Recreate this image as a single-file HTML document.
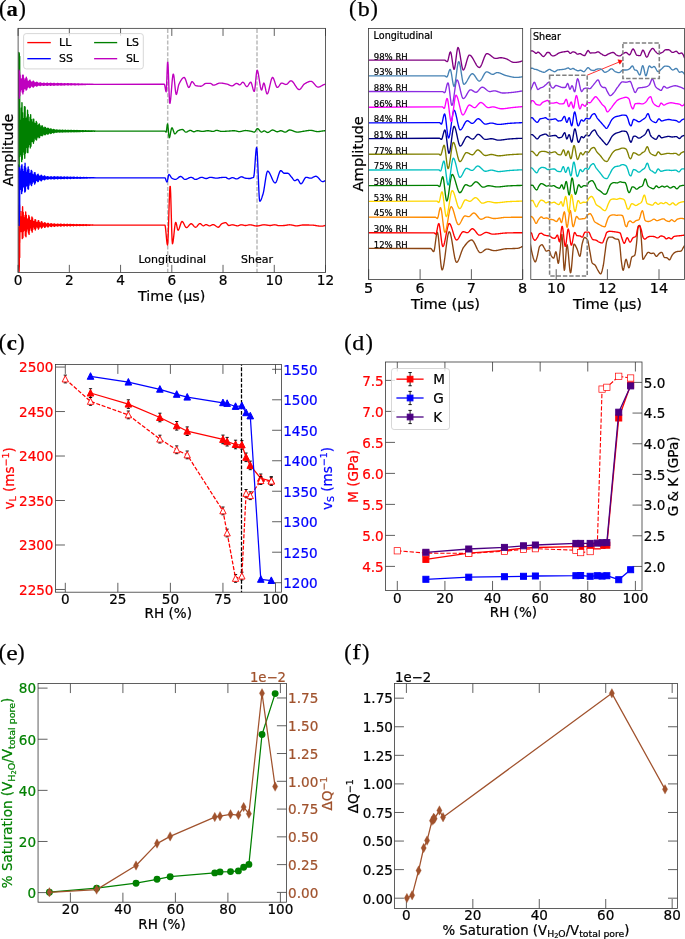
<!DOCTYPE html>
<html lang="en">
<head>
<meta charset="utf-8">
<title>Figure</title>
<style>
html,body{margin:0;padding:0;background:#fff;}
body{width:685px;height:939px;overflow:hidden;}
svg{display:block;}
text{stroke-width:0.22px;stroke-linejoin:round;}
</style>
</head>
<body>
<svg width="685" height="939" viewBox="0 0 685 939">
<rect x="0" y="0" width="685" height="939" fill="#ffffff"/>
<defs>
<clipPath id="clipA"><rect x="18.1" y="28.35" width="307.4" height="244.1"/></clipPath>
<clipPath id="clipBL"><rect x="368.55" y="28.55" width="154.1" height="250.85"/></clipPath><clipPath id="clipBS"><rect x="530.8" y="28.55" width="153.7" height="250.85"/></clipPath>




</defs>
<g font-family="'DejaVu Sans','Liberation Sans',sans-serif">
<line x1="167.7" y1="28.35" x2="167.7" y2="272.45" stroke="#bbbbbb" stroke-width="1.5" stroke-dasharray="4.1 1.755" stroke-dashoffset="-0.45"/>
<line x1="257" y1="28.35" x2="257" y2="272.45" stroke="#bbbbbb" stroke-width="1.5" stroke-dasharray="4.1 1.755" stroke-dashoffset="-0.45"/>
<g clip-path="url(#clipA)">
<path d="M18.85 225.1 L18.85 225 L19.35 226.5 L19.35 265.5 L19.1 271.5 L18.9 267.5 L18.9 227 L19.7 229 L19.7 257.5 L19.4 225.1 L19.1 237.73 L19.15 243.87 L19.2 245.41 L19.25 241.68 L19.3 233.49 L19.35 223.03 L19.4 213.4 L19.45 206.75 L19.5 204.82 L19.55 208.06 L19.6 215.5 L19.65 225.1 L19.7 234.42 L19.75 240.77 L19.8 242.72 L19.85 240.15 L19.9 234.14 L19.95 226.6 L20 219.12 L20.05 213.67 L20.1 211.5 L20.15 212.84 L20.2 217.02 L20.25 222.73 L20.3 227.59 L20.35 230.58 L20.4 231.76 L20.45 231.17 L20.5 229.27 L20.55 226.69 L20.6 223.35 L20.65 219.57 L20.7 217.3 L20.75 217 L20.8 218.69 L20.85 221.93 L20.9 225.51 L20.95 227.39 L21 228.69 L21.05 229.1 L21.1 228.5 L21.15 227.06 L21.2 225.1 L21.25 221.15 L21.3 218.1 L21.35 216.71 L21.4 217.39 L21.45 220.06 L21.5 224.18 L21.55 227.34 L21.6 229.93 L21.65 231.61 L21.7 231.76 L21.75 230.09 L21.8 226.76 L21.85 221.4 L21.9 215.71 L21.95 211.98 L22 211.4 L22.05 214.42 L22.1 220.52 L22.15 227.59 L22.2 233.48 L22.25 237.57 L22.3 238.61 L22.35 236.15 L22.4 230.71 L22.45 223.26 L22.5 214.64 L22.55 208.59 L22.6 206.72 L22.65 209.6 L22.7 216.34 L22.75 225.1 L22.8 231.62 L22.85 236.15 L22.9 237.66 L22.95 235.94 L23 231.7 L23.05 226.22 L23.1 219.42 L23.15 214.2 L23.2 212.07 L23.25 213.31 L23.3 217.3 L23.35 222.81 L23.4 227.28 L23.45 230.02 L23.5 231.24 L23.55 230.84 L23.6 229.12 L23.65 226.66 L23.7 223.44 L23.75 219.9 L23.8 217.83 L23.85 217.63 L23.9 219.25 L23.95 222.23 L24 225.5 L24.05 227.36 L24.1 228.63 L24.15 229.01 L24.2 228.42 L24.25 227 L24.3 225.1 L24.35 221.75 L24.4 219.24 L24.45 218.18 L24.5 218.83 L24.55 221.06 L24.6 224.37 L24.65 226.92 L24.7 228.94 L24.75 230.18 L24.8 230.22 L24.85 228.89 L24.9 226.35 L24.95 222.43 L25 218.36 L25.05 215.74 L25.1 215.37 L25.15 217.54 L25.2 221.86 L25.25 227.01 L25.3 231.58 L25.35 234.84 L25.4 235.77 L25.45 233.93 L25.5 229.64 L25.55 223.8 L25.6 217.67 L25.65 213.35 L25.7 211.98 L25.75 213.96 L25.8 218.76 L25.85 225.1 L25.9 230.98 L25.95 235.2 L26 236.74 L26.05 235.29 L26.1 231.38 L26.15 226.17 L26.2 220.78 L26.25 216.75 L26.3 215.08 L26.35 216 L26.4 219.06 L26.45 223.32 L26.5 227.23 L26.55 229.92 L26.6 231.09 L26.65 230.68 L26.7 228.99 L26.75 226.6 L26.8 223.82 L26.85 221.13 L26.9 219.59 L26.95 219.48 L27 220.72 L27.05 222.97 L27.1 225.45 L27.15 227.06 L27.2 228.13 L27.25 228.43 L27.3 227.91 L27.35 226.7 L27.4 225.1 L27.45 222.66 L27.5 220.85 L27.55 220.1 L27.6 220.59 L27.65 222.22 L27.7 224.58 L27.75 226.5 L27.8 228.02 L27.85 228.92 L27.9 228.91 L27.95 227.9 L28 226.02 L28.05 223.26 L28.1 220.48 L28.15 218.68 L28.2 218.42 L28.25 219.89 L28.3 222.86 L28.35 226.51 L28.4 229.89 L28.45 232.33 L28.5 233.06 L28.55 231.72 L28.6 228.52 L28.65 224.17 L28.7 219.74 L28.75 216.57 L28.8 215.51 L28.85 216.88 L28.9 220.38 L28.95 225.1 L29 229.73 L29.05 233.11 L29.1 234.38 L29.15 233.27 L29.2 230.16 L29.25 225.97 L29.3 221.65 L29.35 218.39 L29.4 216.98 L29.45 217.68 L29.5 220.14 L29.55 223.63 L29.6 226.91 L29.65 229.2 L29.7 230.21 L29.75 229.86 L29.8 228.42 L29.85 226.37 L29.9 224.03 L29.95 221.79 L30 220.51 L30.05 220.44 L30.1 221.49 L30.15 223.35 L30.2 225.38 L30.25 226.64 L30.3 227.46 L30.35 227.67 L30.4 227.25 L30.45 226.32 L30.5 225.1 L30.55 223.12 L30.6 221.64 L30.65 221.04 L30.7 221.44 L30.75 222.77 L30.8 224.68 L30.85 226.11 L30.9 227.17 L30.95 227.77 L31 227.74 L31.05 227.02 L31.1 225.73 L31.15 223.66 L31.2 221.47 L31.25 220.05 L31.3 219.84 L31.35 220.99 L31.4 223.33 L31.45 226.06 L31.5 228.38 L31.55 230.09 L31.6 230.62 L31.65 229.72 L31.7 227.5 L31.75 224.33 L31.8 220.62 L31.85 217.9 L31.9 216.94 L31.95 218.07 L32 221.03 L32.05 225.1 L32.1 228.56 L32.15 231.13 L32.2 232.13 L32.25 231.34 L32.3 229 L32.35 225.77 L32.4 222 L32.45 219.06 L32.5 217.8 L32.55 218.41 L32.6 220.63 L32.65 223.78 L32.7 226.56 L32.75 228.43 L32.8 229.27 L32.85 228.99 L32.9 227.82 L32.95 226.14 L33 224.16 L33.05 222.21 L33.1 221.13 L33.15 221.11 L33.2 222.04 L33.25 223.63 L33.3 225.32 L33.35 226.29 L33.4 226.89 L33.45 227.02 L33.5 226.69 L33.55 225.99 L33.6 225.1 L33.65 223.56 L33.7 222.43 L33.75 221.98 L33.8 222.31 L33.85 223.33 L33.9 224.79 L33.95 225.8 L34 226.52 L34.05 226.92 L34.1 226.87 L34.15 226.37 L34.2 225.51 L34.25 224.1 L34.3 222.6 L34.35 221.65 L34.4 221.53 L34.45 222.33 L34.5 223.91 L34.55 225.72 L34.6 227.21 L34.65 228.32 L34.7 228.69 L34.75 228.12 L34.8 226.68 L34.85 224.59 L34.9 222.12 L34.95 220.31 L35 219.67 L35.05 220.41 L35.1 222.38 L35.15 225.1 L35.2 227.5 L35.25 229.31 L35.3 230.05 L35.35 229.52 L35.4 227.88 L35.45 225.59 L35.5 222.96 L35.55 220.89 L35.6 219.96 L35.65 220.35 L35.7 221.9 L35.75 224.14 L35.8 226.23 L35.85 227.7 L35.9 228.38 L35.95 228.19 L36 227.27 L36.05 225.94 L36.1 224.39 L36.15 222.92 L36.2 222.1 L36.25 222.08 L36.3 222.78 L36.35 223.99 L36.4 225.28 L36.45 226.04 L36.5 226.5 L36.55 226.6 L36.6 226.33 L36.65 225.78 L36.7 225.1 L36.75 223.96 L36.8 223.12 L36.85 222.78 L36.9 223.02 L36.95 223.78 L37 224.87 L37.05 225.62 L37.1 226.16 L37.15 226.44 L37.2 226.39 L37.25 226.02 L37.3 225.39 L37.35 224.36 L37.4 223.27 L37.45 222.58 L37.5 222.49 L37.55 223.07 L37.6 224.23 L37.65 225.53 L37.7 226.59 L37.75 227.39 L37.8 227.67 L37.85 227.28 L37.9 226.25 L37.95 224.71 L38 222.82 L38.05 221.4 L38.1 220.86 L38.15 221.4 L38.2 222.94 L38.25 225.1 L38.3 226.99 L38.35 228.45 L38.4 229.08 L38.45 228.7 L38.5 227.39 L38.55 225.5 L38.6 223.27 L38.65 221.48 L38.7 220.65 L38.75 220.96 L38.8 222.29 L38.85 224.26 L38.9 226.09 L38.95 227.39 L39 228.01 L39.05 227.85 L39.1 227.04 L39.15 225.85 L39.2 224.47 L39.25 223.15 L39.3 222.43 L39.35 222.42 L39.4 223.05 L39.45 224.13 L39.5 225.26 L39.55 225.92 L39.6 226.31 L39.65 226.38 L39.7 226.13 L39.75 225.67 L39.8 225.1 L39.85 224.16 L39.9 223.48 L39.95 223.21 L40 223.41 L40.05 224.03 L40.1 224.91 L40.15 225.51 L40.2 225.92 L40.25 226.13 L40.3 226.08 L40.35 225.79 L40.4 225.32 L40.45 224.53 L40.5 223.7 L40.55 223.19 L40.6 223.14 L40.65 223.59 L40.7 224.45 L40.75 225.4 L40.8 226.13 L40.85 226.69 L40.9 226.88 L40.95 226.61 L41 225.9 L41.05 224.81 L41.1 223.42 L41.15 222.37 L41.2 221.96 L41.25 222.35 L41.3 223.49 L41.35 225.1 L41.4 226.48 L41.45 227.56 L41.5 228.04 L41.55 227.77 L41.6 226.81 L41.65 225.4 L41.7 223.68 L41.75 222.28 L41.8 221.62 L41.85 221.85 L41.9 222.89 L41.95 224.43 L42 225.88 L42.05 226.92 L42.1 227.43 L42.15 227.33 L42.2 226.68 L42.25 225.72 L42.3 224.59 L42.35 223.52 L42.4 222.93 L42.45 222.93 L42.5 223.45 L42.55 224.32 L42.6 225.23 L42.65 225.79 L42.7 226.11 L42.75 226.16 L42.8 225.95 L42.85 225.56 L42.9 225.1 L42.95 224.39 L43 223.87 L43.05 223.68 L43.1 223.84 L43.15 224.3 L43.2 224.96 L43.25 225.42 L43.3 225.74 L43.35 225.89 L43.4 225.85 L43.45 225.63 L43.5 225.26 L43.55 224.69 L43.6 224.1 L43.65 223.75 L43.7 223.72 L43.75 224.05 L43.8 224.65 L43.85 225.31 L43.9 225.84 L43.95 226.23 L44 226.37 L44.05 226.19 L44.1 225.68 L44.15 224.91 L44.2 223.96 L44.25 223.24 L44.3 222.95 L44.35 223.21 L44.4 223.99 L44.45 225.1 L44.5 226.16 L44.55 227.01 L44.6 227.41 L44.65 227.22 L44.7 226.47 L44.75 225.34 L44.8 224.08 L44.85 223.07 L44.9 222.58 L44.95 222.73 L45 223.48 L45.05 224.61 L45.1 225.78 L45.15 226.69 L45.2 227.15 L45.25 227.06 L45.3 226.5 L45.35 225.65 L45.4 224.71 L45.45 223.89 L45.5 223.44 L45.55 223.43 L45.6 223.83 L45.65 224.5 L45.7 225.22 L45.75 225.72 L45.8 226.01 L45.85 226.04 L45.9 225.85 L45.95 225.5 L46 225.1 L46.05 224.57 L46.1 224.2 L46.15 224.06 L46.2 224.19 L46.25 224.53 L46.3 225 L46.35 225.35 L46.4 225.6 L46.45 225.73 L46.5 225.69 L46.55 225.51 L46.6 225.23 L46.65 224.81 L46.7 224.4 L46.75 224.16 L46.8 224.15 L46.85 224.38 L46.9 224.79 L46.95 225.25 L47 225.62 L47.05 225.89 L47.1 225.99 L47.15 225.86 L47.2 225.5 L47.25 224.97 L47.3 224.33 L47.35 223.85 L47.4 223.65 L47.45 223.83 L47.5 224.35 L47.55 225.1 L47.6 225.86 L47.65 226.48 L47.7 226.77 L47.75 226.65 L47.8 226.11 L47.85 225.28 L47.9 224.38 L47.95 223.65 L48 223.28 L48.05 223.39 L48.1 223.92 L48.15 224.74 L48.2 225.62 L48.25 226.34 L48.3 226.72 L48.35 226.67 L48.4 226.23 L48.45 225.55 L48.5 224.8 L48.55 224.16 L48.6 223.8 L48.65 223.79 L48.7 224.1 L48.75 224.62 L48.8 225.2 L48.85 225.63 L48.9 225.88 L48.95 225.91 L49 225.74 L49.05 225.44 L49.1 225.1 L49.15 224.69 L49.2 224.4 L49.25 224.29 L49.3 224.39 L49.35 224.66 L49.4 225.02 L49.45 225.3 L49.5 225.5 L49.55 225.59 L49.6 225.57 L49.65 225.42 L49.7 225.2 L49.75 224.88 L49.8 224.56 L49.85 224.38 L49.9 224.37 L49.95 224.55 L50 224.87 L50.05 225.21 L50.1 225.48 L50.15 225.68 L50.2 225.74 L50.25 225.65 L50.3 225.39 L50.35 225 L50.4 224.53 L50.45 224.17 L50.5 224.02 L50.55 224.14 L50.6 224.53 L50.65 225.1 L50.7 225.67 L50.75 226.15 L50.8 226.39 L50.85 226.3 L50.9 225.89 L50.95 225.24 L51 224.52 L51.05 223.92 L51.1 223.62 L51.15 223.69 L51.2 224.12 L51.25 224.8 L51.3 225.55 L51.35 226.17 L51.4 226.5 L51.45 226.46 L51.5 226.09 L51.55 225.5 L51.6 224.83 L51.65 224.27 L51.7 223.95 L51.75 223.93 L51.8 224.2 L51.85 224.67 L51.9 225.19 L51.95 225.59 L52 225.82 L52.05 225.85 L52.1 225.69 L52.15 225.42 L52.2 225.1 L52.25 224.73 L52.3 224.48 L52.35 224.4 L52.4 224.49 L52.45 224.72 L52.5 225.03 L52.55 225.27 L52.6 225.44 L52.65 225.52 L52.7 225.49 L52.75 225.37 L52.8 225.18 L52.85 224.91 L52.9 224.65 L52.95 224.5 L53 224.5 L53.05 224.65 L53.1 224.91 L53.15 225.19 L53.2 225.4 L53.25 225.54 L53.3 225.59 L53.35 225.51 L53.4 225.32 L53.45 225.02 L53.5 224.66 L53.55 224.37 L53.6 224.26 L53.65 224.35 L53.7 224.65 L53.75 225.1 L53.8 225.54 L53.85 225.91 L53.9 226.11 L53.95 226.04 L54 225.73 L54.05 225.21 L54.1 224.63 L54.15 224.14 L54.2 223.88 L54.25 223.93 L54.3 224.28 L54.35 224.85 L54.4 225.48 L54.45 226.01 L54.5 226.3 L54.55 226.28 L54.6 225.97 L54.65 225.45 L54.7 224.87 L54.75 224.37 L54.8 224.08 L54.85 224.06 L54.9 224.3 L54.95 224.72 L55 225.19 L55.05 225.56 L55.1 225.77 L55.15 225.8 L55.2 225.66 L55.25 225.4 L55.3 225.1 L55.35 224.77 L55.4 224.55 L55.45 224.48 L55.5 224.56 L55.55 224.77 L55.6 225.04 L55.65 225.25 L55.7 225.39 L55.75 225.46 L55.8 225.43 L55.85 225.33 L55.9 225.17 L55.95 224.94 L56 224.72 L56.05 224.6 L56.1 224.6 L56.15 224.72 L56.2 224.94 L56.25 225.17 L56.3 225.34 L56.35 225.45 L56.4 225.48 L56.45 225.42 L56.5 225.27 L56.55 225.04 L56.6 224.75 L56.65 224.52 L56.7 224.43 L56.75 224.5 L56.8 224.74 L56.85 225.1 L56.9 225.44 L56.95 225.74 L57 225.9 L57.05 225.85 L57.1 225.6 L57.15 225.19 L57.2 224.71 L57.25 224.3 L57.3 224.08 L57.35 224.11 L57.4 224.4 L57.45 224.88 L57.5 225.43 L57.55 225.89 L57.6 226.16 L57.65 226.15 L57.7 225.88 L57.75 225.42 L57.8 224.89 L57.85 224.43 L57.9 224.16 L57.95 224.14 L58 224.36 L58.05 224.74 L58.1 225.18 L58.15 225.54 L58.2 225.76 L58.25 225.79 L58.3 225.65 L58.35 225.39 L58.4 225.1 L58.45 224.79 L58.5 224.58 L58.55 224.51 L58.6 224.59 L58.65 224.79 L58.7 225.05 L58.75 225.24 L58.8 225.38 L58.85 225.43 L58.9 225.41 L58.95 225.31 L59 225.16 L59.05 224.96 L59.1 224.76 L59.15 224.65 L59.2 224.65 L59.25 224.76 L59.3 224.96 L59.35 225.16 L59.4 225.31 L59.45 225.4 L59.5 225.43 L59.55 225.37 L59.6 225.24 L59.65 225.05 L59.7 224.8 L59.75 224.61 L59.8 224.53 L59.85 224.6 L59.9 224.8 L59.95 225.1 L60 225.38 L60.05 225.63 L60.1 225.76 L60.15 225.73 L60.2 225.52 L60.25 225.18 L60.3 224.76 L60.35 224.41 L60.4 224.21 L60.45 224.23 L60.5 224.48 L60.55 224.91 L60.6 225.39 L60.65 225.81 L60.7 226.06 L60.75 226.06 L60.8 225.81 L60.85 225.39 L60.9 224.91 L60.95 224.48 L61 224.22 L61.05 224.19 L61.1 224.39 L61.15 224.76 L61.2 225.18 L61.25 225.54 L61.3 225.75 L61.35 225.79 L61.4 225.65 L61.45 225.39 L61.5 225.1 L61.55 224.8 L61.6 224.59 L61.65 224.53 L61.7 224.61 L61.75 224.8 L61.8 225.05 L61.85 225.24 L61.9 225.37 L61.95 225.42 L62 225.39 L62.05 225.3 L62.1 225.16 L62.15 224.97 L62.2 224.79 L62.25 224.69 L62.3 224.69 L62.35 224.79 L62.4 224.97 L62.45 225.16 L62.5 225.28 L62.55 225.37 L62.6 225.39 L62.65 225.33 L62.7 225.22 L62.75 225.05 L62.8 224.84 L62.85 224.68 L62.9 224.61 L62.95 224.67 L63 224.85 L63.05 225.1 L63.1 225.33 L63.15 225.53 L63.2 225.64 L63.25 225.62 L63.3 225.45 L63.35 225.17 L63.4 224.81 L63.45 224.5 L63.5 224.33 L63.55 224.34 L63.6 224.56 L63.65 224.93 L63.7 225.36 L63.75 225.73 L63.8 225.95 L63.85 225.96 L63.9 225.75 L63.95 225.37 L64 224.92 L64.05 224.52 L64.1 224.28 L64.15 224.25 L64.2 224.43 L64.25 224.78 L64.3 225.18 L64.35 225.53 L64.4 225.74 L64.45 225.78 L64.5 225.65 L64.55 225.4 L64.6 225.1 L64.65 224.8 L64.7 224.61 L64.75 224.54 L64.8 224.62 L64.85 224.81 L64.9 225.05 L64.95 225.24 L65 225.37 L65.05 225.41 L65.1 225.38 L65.15 225.29 L65.2 225.16 L65.25 224.98 L65.3 224.82 L65.35 224.72 L65.4 224.72 L65.45 224.82 L65.5 224.98 L65.55 225.15 L65.6 225.27 L65.65 225.34 L65.7 225.36 L65.75 225.31 L65.8 225.2 L65.85 225.06 L65.9 224.87 L65.95 224.73 L66 224.68 L66.05 224.73 L66.1 224.88 L66.15 225.1 L66.2 225.29 L66.25 225.45 L66.3 225.54 L66.35 225.52 L66.4 225.39 L66.45 225.15 L66.5 224.85 L66.55 224.59 L66.6 224.43 L66.65 224.45 L66.7 224.63 L66.75 224.95 L66.8 225.32 L66.85 225.65 L66.9 225.86 L66.95 225.87 L67 225.69 L67.05 225.34 L67.1 224.94 L67.15 224.57 L67.2 224.34 L67.25 224.31 L67.3 224.47 L67.35 224.79 L67.4 225.18 L67.45 225.51 L67.5 225.73 L67.55 225.77 L67.6 225.64 L67.65 225.39 L67.7 225.1 L67.75 224.81 L67.8 224.62 L67.85 224.55 L67.9 224.63 L67.95 224.82 L68 225.05 L68.05 225.24 L68.1 225.37 L68.15 225.41 L68.2 225.38 L68.25 225.28 L68.3 225.15 L68.35 224.99 L68.4 224.83 L68.45 224.75 L68.5 224.75 L68.55 224.84 L68.6 224.99 L68.65 225.15 L68.7 225.25 L68.75 225.32 L68.8 225.33 L68.85 225.29 L68.9 225.19 L68.95 225.06 L69 224.9 L69.05 224.77 L69.1 224.73 L69.15 224.78 L69.2 224.91 L69.25 225.1 L69.3 225.25 L69.35 225.39 L69.4 225.46 L69.45 225.45 L69.5 225.34 L69.55 225.14 L69.6 224.89 L69.65 224.66 L69.7 224.53 L69.75 224.54 L69.8 224.69 L69.85 224.97 L69.9 225.29 L69.95 225.58 L70 225.76 L70.05 225.78 L70.1 225.62 L70.15 225.32 L70.2 224.95 L70.25 224.62 L70.3 224.4 L70.35 224.37 L70.4 224.52 L70.45 224.81 L70.5 225.17 L70.55 225.49 L70.6 225.7 L70.65 225.74 L70.7 225.63 L70.75 225.39 L70.8 225.1 L70.85 224.82 L70.9 224.63 L70.95 224.57 L71 224.65 L71.05 224.82 L71.1 225.05 L71.15 225.24 L71.2 225.37 L71.25 225.41 L71.3 225.38 L71.35 225.28 L71.4 225.15 L71.45 225 L71.5 224.85 L71.55 224.78 L71.6 224.78 L71.65 224.87 L71.7 225 L71.75 225.14 L71.8 225.24 L71.85 225.3 L71.9 225.31 L71.95 225.27 L72 225.18 L72.05 225.07 L72.1 224.92 L72.15 224.82 L72.2 224.78 L72.25 224.82 L72.3 224.94 L72.35 225.1 L72.4 225.23 L72.45 225.33 L72.5 225.39 L72.55 225.38 L72.6 225.29 L72.65 225.14 L72.7 224.93 L72.75 224.74 L72.8 224.63 L72.85 224.63 L72.9 224.76 L72.95 224.99 L73 225.26 L73.05 225.5 L73.1 225.66 L73.15 225.68 L73.2 225.54 L73.25 225.29 L73.3 224.97 L73.35 224.68 L73.4 224.49 L73.45 224.45 L73.5 224.58 L73.55 224.84 L73.6 225.17 L73.65 225.46 L73.7 225.66 L73.75 225.7 L73.8 225.59 L73.85 225.37 L73.9 225.1 L73.95 224.84 L74 224.66 L74.05 224.6 L74.1 224.67 L74.15 224.84 L74.2 225.06 L74.25 225.24 L74.3 225.37 L74.35 225.41 L74.4 225.37 L74.45 225.28 L74.5 225.15 L74.55 225 L74.6 224.87 L74.65 224.81 L74.7 224.81 L74.75 224.89 L74.8 225.01 L74.85 225.14 L74.9 225.22 L74.95 225.27 L75 225.28 L75.05 225.25 L75.1 225.17 L75.15 225.07 L75.2 224.94 L75.25 224.85 L75.3 224.82 L75.35 224.86 L75.4 224.96 L75.45 225.1 L75.5 225.2 L75.55 225.29 L75.6 225.33 L75.65 225.32 L75.7 225.25 L75.75 225.13 L75.8 224.96 L75.85 224.8 L75.9 224.71 L75.95 224.71 L76 224.82 L76.05 225.01 L76.1 225.23 L76.15 225.43 L76.2 225.56 L76.25 225.58 L76.3 225.47 L76.35 225.26 L76.4 224.99 L76.45 224.73 L76.5 224.56 L76.55 224.53 L76.6 224.64 L76.65 224.87 L76.7 225.16 L76.75 225.43 L76.8 225.61 L76.85 225.65 L76.9 225.56 L76.95 225.36 L77 225.1 L77.05 224.85 L77.1 224.68 L77.15 224.63 L77.2 224.69 L77.25 224.85 L77.3 225.06 L77.35 225.24 L77.4 225.36 L77.45 225.41 L77.5 225.37 L77.55 225.28 L77.6 225.15 L77.65 225.01 L77.7 224.89 L77.75 224.83 L77.8 224.84 L77.85 224.91 L77.9 225.02 L77.95 225.14 L78 225.21 L78.05 225.26 L78.1 225.26 L78.15 225.23 L78.2 225.16 L78.25 225.08 L78.3 224.96 L78.35 224.88 L78.4 224.86 L78.45 224.89 L78.5 224.98 L78.55 225.1 L78.6 225.18 L78.65 225.25 L78.7 225.29 L78.75 225.28 L78.8 225.22 L78.85 225.12 L78.9 224.98 L78.95 224.86 L79 224.78 L79.05 224.79 L79.1 224.87 L79.15 225.03 L79.2 225.2 L79.25 225.36 L79.3 225.47 L79.35 225.49 L79.4 225.4 L79.45 225.23 L79.5 225.01 L79.55 224.79 L79.6 224.65 L79.65 224.62 L79.7 224.71 L79.75 224.9 L79.8 225.15 L79.85 225.38 L79.9 225.54 L79.95 225.59 L80 225.51 L80.05 225.33 L80.1 225.1 L80.15 224.88 L80.2 224.73 L80.25 224.68 L80.3 224.73 L80.35 224.87 L80.4 225.06 L80.45 225.23 L80.5 225.35 L80.55 225.39 L80.6 225.36 L80.65 225.27 L80.7 225.15 L80.75 225.02 L80.8 224.91 L80.85 224.86 L80.9 224.87 L80.95 224.93 L81 225.03 L81.05 225.13 L81.1 225.2 L81.15 225.24 L81.2 225.24 L81.25 225.21 L81.3 225.15 L81.35 225.08 L81.4 224.98 L81.45 224.92 L81.5 224.9 L81.55 224.93 L81.6 225 L81.65 225.1 L81.7 225.17 L81.75 225.22 L81.8 225.25 L81.85 225.24 L81.9 225.19 L81.95 225.12 L82 225.01 L82.05 224.91 L82.1 224.85 L82.15 224.85 L82.2 224.92 L82.25 225.04 L82.3 225.18 L82.35 225.3 L82.4 225.38 L82.45 225.4 L82.5 225.34 L82.55 225.2 L82.6 225.03 L82.65 224.85 L82.7 224.74 L82.75 224.71 L82.8 224.78 L82.85 224.94 L82.9 225.14 L82.95 225.34 L83 225.47 L83.05 225.51 L83.1 225.45 L83.15 225.3 L83.2 225.1 L83.25 224.91 L83.3 224.77 L83.35 224.73 L83.4 224.78 L83.45 224.9 L83.5 225.07 L83.55 225.22 L83.6 225.33 L83.65 225.37 L83.7 225.34 L83.75 225.25 L83.8 225.14 L83.85 225.03 L83.9 224.93 L83.95 224.88 L84 224.89 L84.05 224.95 L84.1 225.04 L84.15 225.13 L84.2 225.19 L84.25 225.22 L84.3 225.22 L84.35 225.19 L84.4 225.15 L84.45 225.08 L84.5 225 L84.55 224.95 L84.6 224.93 L84.65 224.96 L84.7 225.02 L84.75 225.1 L84.8 225.16 L84.85 225.2 L84.9 225.22 L84.95 225.21 L85 225.17 L85.05 225.11 L85.1 225.03 L85.15 224.95 L85.2 224.9 L85.25 224.91 L85.3 224.96 L85.35 225.06 L85.4 225.16 L85.45 225.25 L85.5 225.32 L85.55 225.33 L85.6 225.28 L85.65 225.18 L85.7 225.04 L85.75 224.9 L85.8 224.81 L85.85 224.78 L85.9 224.84 L85.95 224.97 L86 225.13 L86.05 225.29 L86.1 225.41 L86.15 225.44 L86.2 225.39 L86.25 225.27 L86.3 225.1 L86.35 224.94 L86.4 224.82 L86.45 224.78 L86.5 224.82 L86.55 224.93 L86.6 225.07 L86.65 225.21 L86.7 225.3 L86.75 225.34 L86.8 225.31 L86.85 225.24 L86.9 225.14 L86.95 225.04 L87 224.95 L87.05 224.91 L87.1 224.92 L87.15 224.97 L87.2 225.05 L87.25 225.12 L87.3 225.17 L87.35 225.2 L87.4 225.2 L87.45 225.18 L87.5 225.14 L87.55 225.09 L87.6 225.02 L87.65 224.98 L87.7 224.97 L87.75 224.99 L87.8 225.04 L87.85 225.1 L87.9 225.14 L87.95 225.17 L88 225.19 L88.05 225.18 L88.1 225.15 L88.15 225.11 L88.2 225.05 L88.25 224.99 L88.3 224.96 L88.35 224.97 L88.4 225 L88.45 225.07 L88.5 225.14 L88.55 225.2 L88.6 225.24 L88.65 225.25 L88.7 225.22 L88.75 225.15 L88.8 225.06 L88.85 224.97 L88.9 224.9 L88.95 224.89 L89 224.93 L89.05 225.01 L89.1 225.12 L89.15 225.23 L89.2 225.31 L89.25 225.33 L89.3 225.3 L89.35 225.21 L89.4 225.1 L89.45 224.99 L89.5 224.91 L89.55 224.88 L89.6 224.91 L89.65 224.98 L89.7 225.08 L89.75 225.18 L89.8 225.24 L89.85 225.27 L89.9 225.25 L89.95 225.2 L90 225.13 L90.05 225.06 L90.1 225 L90.15 224.97 L90.2 224.98 L90.25 225.01 L90.3 225.07 L90.35 225.12 L90.4 225.15 L90.45 225.17 L90.5 225.17 L90.55 225.15 L90.6 225.12 L90.65 225.09 L90.7 225.05 L90.75 225.02 L90.8 225.02 L90.85 225.03 L90.9 225.06 L90.95 225.1 L91 225.13 L91.05 225.14 L91.1 225.15 L91.15 225.15 L91.2 225.13 L91.25 225.11 L91.3 225.07 L91.35 225.04 L91.4 225.02 L91.45 225.02 L91.5 225.05 L91.55 225.08 L91.6 225.12 L91.65 225.15 L91.7 225.17 L91.75 225.18 L91.8 225.16 L91.85 225.13 L91.9 225.08 L91.95 225.03 L92 225 L92.05 224.99 L92.1 225.01 L92.15 225.05 L92.2 225.11 L92.25 225.17 L92.3 225.21 L92.35 225.22 L92.4 225.2 L92.45 225.16 L92.5 225.1 L92.55 225.04 L92.6 225 L92.65 224.98 L92.7 225 L92.75 225.04 L92.8 225.09 L92.85 225.14 L92.9 225.18 L92.95 225.19 L93 225.18 L93.05 225.15 L93.1 225.12 L93.15 225.08 L93.2 225.05 L93.25 225.03 L93.3 225.04 L93.35 225.06 L93.4 225.08 L93.45 225.11 L93.5 225.13 L93.55 225.13 L93.6 225.13 L93.65 225.12 L93.7 225.11 L93.75 225.1 L93.8 225.08 L93.85 225.07 L93.9 225.07 L93.95 225.07 L94 225.08 L94.05 225.1 L94.1 225.11 L94.15 225.12 L94.2 225.12 L94.25 225.12 L94.3 225.11 L94.35 225.1 L94.4 225.09 L94.45 225.08 L94.5 225.08 L94.55 225.08 L94.6 225.08 L94.65 225.1 L94.7 225.11 L94.75 225.11 L94.8 225.12 L94.85 225.12 L94.9 225.11 L94.95 225.11 L95 225.1 L95.05 225.08 L95.1 225.08 L95.15 225.08 L95.2 225.08 L95.25 225.09 L95.3 225.1 L95.35 225.11 L95.4 225.12 L95.45 225.12 L95.5 225.11 L95.55 225.11 L95.6 225.1 L95.65 225.09 L95.7 225.09 L95.75 225.09 L95.8 225.09 L95.85 225.1 L95.9 225.1 L95.95 225.1 L160.51 225.14 L160.86 225.14 L161.21 225.14 L161.56 225.14 L161.91 225.14 L162.26 225.14 L162.61 225.14 L162.96 225.14 L163.31 225.14 L163.66 225.14 L164.01 225.14 L164.36 225.14 L164.71 225.14 L165.06 225.39 L165.42 227.21 L165.77 230.31 L166.12 234.11 L166.47 238.07 L166.82 241.6 L167.17 244.13 L167.52 245.11 L167.87 242.24 L168.22 234.7 L168.57 224.2 L168.92 212.41 L169.27 201.04 L169.62 191.78 L169.97 186.32 L170.32 186.51 L170.67 193.35 L171.02 204.66 L171.37 217.89 L171.72 230.5 L172.07 239.96 L172.42 243.71 L172.77 243.06 L173.12 241.28 L173.47 238.68 L173.82 235.56 L174.17 232.21 L174.52 228.93 L174.87 226.02 L175.22 223.78 L175.57 222.51 L175.92 222.46 L176.27 223.39 L176.62 224.92 L176.97 226.71 L177.33 228.42 L177.68 229.71 L178.03 230.22 L178.38 230.04 L178.73 229.52 L179.08 228.75 L179.43 227.79 L179.78 226.7 L180.13 225.57 L180.48 224.45 L180.83 223.41 L181.18 222.53 L181.53 221.87 L181.88 221.51 L182.23 221.49 L182.58 221.7 L182.93 222.09 L183.28 222.63 L183.63 223.26 L183.98 223.97 L184.33 224.7 L184.68 225.42 L185.03 226.1 L185.38 226.69 L185.73 227.16 L186.08 227.48 L186.43 227.59 L186.78 227.53 L187.13 227.37 L187.48 227.11 L187.83 226.78 L188.18 226.4 L188.53 225.99 L188.88 225.56 L189.24 225.14 L189.59 224.74 L189.94 224.39 L190.29 224.09 L190.64 223.87 L190.99 223.75 L191.34 223.75 L191.69 223.87 L192.04 224.1 L192.39 224.4 L192.74 224.77 L193.09 225.17 L193.44 225.59 L193.79 226 L194.14 226.39 L194.49 226.73 L194.84 227 L195.19 227.17 L195.54 227.24 L195.89 227.18 L196.24 226.99 L196.59 226.71 L196.94 226.36 L197.29 225.95 L197.64 225.52 L197.99 225.08 L198.34 224.66 L198.69 224.27 L199.04 223.95 L199.39 223.71 L199.74 223.58 L200.09 223.58 L200.44 223.7 L200.79 223.91 L201.15 224.2 L201.5 224.52 L201.85 224.86 L202.2 225.19 L202.55 225.48 L202.9 225.7 L203.25 225.82 L203.6 225.83 L203.95 225.72 L204.3 225.53 L204.65 225.29 L205 225.05 L205.35 224.83 L205.7 224.68 L206.05 224.61 L206.4 224.65 L206.75 224.74 L207.1 224.87 L207.45 225.04 L207.8 225.22 L208.15 225.4 L208.5 225.57 L208.85 225.71 L209.2 225.8 L209.55 225.84 L209.9 225.81 L210.25 225.72 L210.6 225.58 L210.95 225.41 L211.3 225.23 L211.65 225.05 L212 224.88 L212.35 224.74 L212.7 224.65 L213.06 224.61 L213.41 224.64 L213.76 224.74 L214.11 224.88 L214.46 225.07 L214.81 225.29 L215.16 225.53 L215.51 225.79 L215.86 226.05 L216.21 226.31 L216.56 226.55 L216.91 226.77 L217.26 226.96 L217.61 227.11 L217.96 227.21 L218.31 227.24 L218.66 227.16 L219.01 226.93 L219.36 226.59 L219.71 226.17 L220.06 225.69 L220.41 225.21 L220.76 224.73 L221.11 224.31 L221.46 223.97 L221.81 223.74 L222.16 223.59 L222.51 223.45 L222.86 223.31 L223.21 223.18 L223.56 223.06 L223.91 222.96 L224.26 222.86 L224.61 222.79 L224.97 222.73 L225.32 222.7 L225.67 222.69 L226.02 222.78 L226.37 223.03 L226.72 223.4 L227.07 223.84 L227.42 224.3 L227.77 224.75 L228.12 225.12 L228.47 225.39 L228.82 225.49 L229.17 225.47 L229.52 225.42 L229.87 225.34 L230.22 225.25 L230.57 225.14 L230.92 225.04 L231.27 224.94 L231.62 224.86 L231.97 224.81 L232.32 224.79 L232.67 224.8 L233.02 224.84 L233.37 224.89 L233.72 224.97 L234.07 225.06 L234.42 225.15 L234.77 225.26 L235.12 225.36 L235.47 225.47 L235.82 225.56 L236.17 225.65 L236.53 225.73 L236.88 225.79 L237.23 225.82 L237.58 225.84 L237.93 225.81 L238.28 225.73 L238.63 225.62 L238.98 225.48 L239.33 225.32 L239.68 225.17 L240.03 225.02 L240.38 224.9 L240.73 224.82 L241.08 224.79 L241.43 224.8 L241.78 224.83 L242.13 224.89 L242.48 224.95 L242.83 225.03 L243.18 225.11 L243.53 225.2 L243.88 225.28 L244.23 225.35 L244.58 225.41 L244.93 225.46 L245.28 225.49 L245.63 225.49 L245.98 225.46 L246.33 225.42 L246.68 225.36 L247.03 225.29 L247.38 225.21 L247.73 225.12 L248.08 225.04 L248.44 224.96 L248.79 224.89 L249.14 224.84 L249.49 224.8 L249.84 224.79 L250.19 224.8 L250.54 224.82 L250.89 224.86 L251.24 224.91 L251.59 224.98 L251.94 225.05 L252.29 225.13 L252.64 225.22 L252.99 225.31 L253.34 225.4 L253.69 225.49 L254.04 225.58 L254.39 225.66 L254.74 225.75 L255.09 225.82 L255.44 225.88 L255.79 225.94 L256.14 225.98 L256.49 226 L256.84 226.01 L257.19 226.01 L257.54 225.98 L257.89 225.94 L258.24 225.89 L258.59 225.83 L258.94 225.75 L259.29 225.67 L259.64 225.59 L259.99 225.5 L260.35 225.41 L260.7 225.31 L261.05 225.23 L261.4 225.14 L261.75 225.06 L262.1 224.98 L262.45 224.92 L262.8 224.87 L263.15 224.82 L263.5 224.8 L263.85 224.79 L264.2 224.79 L264.55 224.81 L264.9 224.84 L265.25 224.87 L265.6 224.91 L265.95 224.96 L266.3 225.01 L266.65 225.07 L267 225.13 L267.35 225.18 L267.7 225.24 L268.05 225.29 L268.4 225.34 L268.75 225.39 L269.1 225.43 L269.45 225.46 L269.8 225.48 L270.15 225.49 L270.5 225.48 L270.85 225.46 L271.2 225.41 L271.55 225.35 L271.9 225.27 L272.26 225.19 L272.61 225.11 L272.96 225.03 L273.31 224.95 L273.66 224.88 L274.01 224.83 L274.36 224.8 L274.71 224.79 L275.06 224.81 L275.41 224.85 L275.76 224.92 L276.11 225.01 L276.46 225.11 L276.81 225.21 L277.16 225.32 L277.51 225.42 L277.86 225.51 L278.21 225.58 L278.56 225.63 L278.91 225.66 L279.26 225.66 L279.61 225.66 L279.96 225.66 L280.31 225.65 L280.66 225.64 L281.01 225.63 L281.36 225.62 L281.71 225.61 L282.06 225.6 L282.41 225.58 L282.76 225.57 L283.11 225.55 L283.46 225.53 L283.81 225.51 L284.17 225.5 L284.52 225.48 L284.87 225.44 L285.22 225.4 L285.57 225.35 L285.92 225.29 L286.27 225.23 L286.62 225.16 L286.97 225.1 L287.32 225.03 L287.67 224.97 L288.02 224.92 L288.37 224.87 L288.72 224.83 L289.07 224.8 L289.42 224.79 L289.77 224.79 L290.12 224.81 L290.47 224.84 L290.82 224.88 L291.17 224.93 L291.52 224.99 L291.87 225.06 L292.22 225.13 L292.57 225.2 L292.92 225.28 L293.27 225.36 L293.62 225.44 L293.97 225.51 L294.32 225.58 L294.67 225.65 L295.02 225.71 L295.37 225.76 L295.72 225.8 L296.08 225.82 L296.43 225.84 L296.78 225.84 L297.13 225.82 L297.48 225.8 L297.83 225.76 L298.18 225.72 L298.53 225.67 L298.88 225.62 L299.23 225.56 L299.58 225.49 L299.93 225.43 L300.28 225.36 L300.63 225.3 L300.98 225.24 L301.33 225.18 L301.68 225.12 L302.03 225.07 L302.38 225.03 L302.73 225 L303.08 224.98 L303.43 224.96 L303.78 224.96 L304.13 224.96 L304.48 224.97 L304.83 224.97 L305.18 224.97 L305.53 224.97 L305.88 224.98 L306.23 224.98 L306.58 224.99 L306.93 224.99 L307.28 225 L307.63 225.01 L307.99 225.01 L308.34 225.02 L308.69 225.03 L309.04 225.04 L309.39 225.05 L309.74 225.06 L310.09 225.07 L310.44 225.08 L310.79 225.09 L311.14 225.1 L311.49 225.11 L311.84 225.12 L312.19 225.13 L312.54 225.15 L312.89 225.17 L313.24 225.19 L313.59 225.23 L313.94 225.27 L314.29 225.31 L314.64 225.36 L314.99 225.41 L315.34 225.47 L315.69 225.53 L316.04 225.59 L316.39 225.65 L316.74 225.71 L317.09 225.77 L317.44 225.82 L317.79 225.88 L318.14 225.93 L318.49 225.99 L318.84 226.03 L319.19 226.07 L319.54 226.11 L319.9 226.14 L320.25 226.16 L320.6 226.18 L320.95 226.19 L321.3 226.19 L321.65 226.17 L322 226.14 L322.35 226.1 L322.7 226.05 L323.05 225.99 L323.4 225.92 L323.75 225.83 L324.1 225.74 L324.45 225.64 L324.8 225.54 L325.15 225.42 L325.5 225.3" fill="none" stroke="#ff0000" stroke-width="1.35" stroke-linejoin="round" />
<path d="M18.85 177.8 L18.85 165 L19.35 166.5 L19.35 219.5 L19.1 225.5 L18.9 221.5 L18.9 167 L19.7 169 L19.7 211.5 L19.4 177.8 L19.1 186.37 L19.15 189.7 L19.2 189.89 L19.25 187.1 L19.3 182.26 L19.35 176.97 L19.4 173.32 L19.45 171.09 L19.5 170.69 L19.55 172.02 L19.6 174.63 L19.65 177.8 L19.7 181.99 L19.75 184.98 L19.8 186.11 L19.85 185.17 L19.9 182.44 L19.95 178.62 L20 175.64 L20.05 173.47 L20.1 172.39 L20.15 172.67 L20.2 174.23 L20.25 176.7 L20.3 180.2 L20.35 183.64 L20.4 185.65 L20.45 185.72 L20.5 183.81 L20.55 180.32 L20.6 176.57 L20.65 173.7 L20.7 171.66 L20.75 171.05 L20.8 172.15 L20.85 174.84 L20.9 178.85 L20.95 183.95 L21 187.85 L21.05 189.42 L21.1 188.05 L21.15 183.89 L21.2 177.8 L21.25 172.45 L21.3 168.07 L21.35 165.92 L21.4 166.77 L21.45 170.57 L21.5 176.49 L21.55 183.96 L21.6 190.32 L21.65 193.61 L21.7 192.89 L21.75 188.32 L21.8 181.05 L21.85 173.65 L21.9 167.82 L21.95 164.61 L22 164.81 L22.05 168.26 L22.1 173.95 L22.15 180.74 L22.2 187.06 L22.25 190.75 L22.3 191.02 L22.35 188.02 L22.4 182.72 L22.45 176.79 L22.5 172.37 L22.55 169.67 L22.6 169.19 L22.65 170.83 L22.7 174 L22.75 177.8 L22.8 182.29 L22.85 185.41 L22.9 186.51 L22.95 185.44 L23 182.56 L23.05 178.63 L23.1 175.45 L23.15 173.15 L23.2 172.04 L23.25 172.36 L23.3 174.03 L23.35 176.63 L23.4 180.14 L23.45 183.47 L23.5 185.37 L23.55 185.38 L23.6 183.49 L23.65 180.16 L23.7 176.59 L23.75 173.79 L23.8 171.88 L23.85 171.37 L23.9 172.48 L23.95 175.04 L24 178.71 L24.05 183.1 L24.1 186.41 L24.15 187.72 L24.2 186.55 L24.25 182.99 L24.3 177.8 L24.35 172.77 L24.4 168.58 L24.45 166.43 L24.5 167.13 L24.55 170.73 L24.6 176.5 L24.65 183.27 L24.7 189.02 L24.75 192.1 L24.8 191.59 L24.85 187.51 L24.9 180.83 L24.95 173.31 L25 166.86 L25.05 163.26 L25.1 163.38 L25.15 167.14 L25.2 173.47 L25.25 180.71 L25.3 187.03 L25.35 190.78 L25.4 191.13 L25.45 188.16 L25.5 182.8 L25.55 176.63 L25.6 171.51 L25.65 168.39 L25.7 167.85 L25.75 169.78 L25.8 173.46 L25.85 177.8 L25.9 182.31 L25.95 185.37 L26 186.38 L26.05 185.24 L26.1 182.38 L26.15 178.59 L26.2 175.42 L26.25 173.2 L26.3 172.21 L26.35 172.62 L26.4 174.27 L26.45 176.73 L26.5 179.87 L26.55 182.78 L26.6 184.42 L26.65 184.4 L26.7 182.73 L26.75 179.83 L26.8 176.77 L26.85 174.46 L26.9 172.97 L26.95 172.66 L27 173.63 L27.05 175.68 L27.1 178.52 L27.15 181.94 L27.2 184.46 L27.25 185.4 L27.3 184.45 L27.35 181.72 L27.4 177.8 L27.45 174.29 L27.5 171.39 L27.55 169.9 L27.6 170.38 L27.65 172.88 L27.7 176.89 L27.75 181.96 L27.8 186.38 L27.85 188.8 L27.9 188.48 L27.95 185.37 L28 180.18 L28.05 174.55 L28.1 169.83 L28.15 167.07 L28.2 167.03 L28.25 169.75 L28.3 174.49 L28.35 180.21 L28.4 185.49 L28.45 188.69 L28.5 189.06 L28.55 186.6 L28.6 182.07 L28.65 176.84 L28.7 172.56 L28.75 169.89 L28.8 169.38 L28.85 170.97 L28.9 174.08 L28.95 177.8 L29 181.69 L29.05 184.31 L29.1 185.13 L29.15 184.1 L29.2 181.64 L29.25 178.45 L29.3 175.83 L29.35 174.04 L29.4 173.3 L29.45 173.7 L29.5 175.05 L29.55 176.98 L29.6 179.37 L29.65 181.53 L29.7 182.72 L29.75 182.67 L29.8 181.41 L29.85 179.28 L29.9 177.05 L29.95 175.38 L30 174.33 L30.05 174.15 L30.1 174.88 L30.15 176.34 L30.2 178.29 L30.25 180.58 L30.3 182.21 L30.35 182.77 L30.4 182.09 L30.45 180.31 L30.5 177.8 L30.55 175.6 L30.6 173.79 L30.65 172.87 L30.7 173.17 L30.75 174.72 L30.8 177.23 L30.85 180.37 L30.9 183.1 L30.95 184.62 L31 184.45 L31.05 182.54 L31.1 179.3 L31.15 175.63 L31.2 172.41 L31.25 170.46 L31.3 170.34 L31.35 172.15 L31.4 175.45 L31.45 179.41 L31.5 183.01 L31.55 185.25 L31.6 185.58 L31.65 183.96 L31.7 180.83 L31.75 177.05 L31.8 173.69 L31.85 171.53 L31.9 171.06 L31.95 172.28 L32 174.77 L32.05 177.8 L32.1 180.8 L32.15 182.84 L32.2 183.5 L32.25 182.72 L32.3 180.81 L32.35 178.31 L32.4 176.17 L32.45 174.7 L32.5 174.12 L32.55 174.48 L32.6 175.6 L32.65 177.15 L32.7 178.98 L32.75 180.59 L32.8 181.45 L32.85 181.39 L32.9 180.45 L32.95 178.89 L33 177.26 L33.05 176.05 L33.1 175.3 L33.15 175.18 L33.2 175.71 L33.25 176.76 L33.3 178.16 L33.35 179.81 L33.4 180.97 L33.45 181.35 L33.5 180.84 L33.55 179.56 L33.6 177.8 L33.65 176.4 L33.7 175.27 L33.75 174.71 L33.8 174.91 L33.85 175.88 L33.9 177.45 L33.95 179.57 L34 181.47 L34.05 182.55 L34.1 182.46 L34.15 181.15 L34.2 178.87 L34.25 176.39 L34.3 174.27 L34.35 172.94 L34.4 172.8 L34.45 173.97 L34.5 176.19 L34.55 179.05 L34.6 181.89 L34.65 183.73 L34.7 184.07 L34.75 182.82 L34.8 180.3 L34.85 177.24 L34.9 174.69 L34.95 172.99 L35 172.57 L35.05 173.46 L35.1 175.39 L35.15 177.8 L35.2 180.43 L35.25 182.23 L35.3 182.82 L35.35 182.13 L35.4 180.44 L35.45 178.25 L35.5 176.44 L35.55 175.22 L35.6 174.75 L35.65 175.06 L35.7 176 L35.75 177.27 L35.8 178.77 L35.85 180.06 L35.9 180.72 L35.95 180.63 L36 179.86 L36.05 178.63 L36.1 177.4 L36.15 176.54 L36.2 176.01 L36.25 175.94 L36.3 176.32 L36.35 177.07 L36.4 178.06 L36.45 179.23 L36.5 180.03 L36.55 180.27 L36.6 179.89 L36.65 178.99 L36.7 177.8 L36.75 176.9 L36.8 176.19 L36.85 175.87 L36.9 176.01 L36.95 176.63 L37 177.58 L37.05 178.88 L37.1 180.02 L37.15 180.65 L37.2 180.59 L37.25 179.79 L37.3 178.44 L37.35 176.94 L37.4 175.64 L37.45 174.8 L37.5 174.69 L37.55 175.39 L37.6 176.78 L37.65 178.56 L37.7 180.29 L37.75 181.42 L37.8 181.66 L37.85 180.9 L37.9 179.35 L37.95 177.42 L38 175.64 L38.05 174.42 L38.1 174.07 L38.15 174.68 L38.2 176.05 L38.25 177.8 L38.3 179.54 L38.35 180.78 L38.4 181.21 L38.45 180.78 L38.5 179.64 L38.55 178.11 L38.6 176.72 L38.65 175.74 L38.7 175.35 L38.75 175.6 L38.8 176.35 L38.85 177.38 L38.9 178.5 L38.95 179.44 L39 179.91 L39.05 179.83 L39.1 179.27 L39.15 178.39 L39.2 177.5 L39.25 176.86 L39.3 176.49 L39.35 176.45 L39.4 176.74 L39.45 177.28 L39.5 177.98 L39.55 178.79 L39.6 179.36 L39.65 179.53 L39.7 179.26 L39.75 178.63 L39.8 177.8 L39.85 177.19 L39.9 176.72 L39.95 176.52 L40 176.64 L40.05 177.05 L40.1 177.66 L40.15 178.52 L40.2 179.28 L40.25 179.71 L40.3 179.66 L40.35 179.13 L40.4 178.23 L40.45 177.27 L40.5 176.46 L40.55 175.93 L40.6 175.84 L40.65 176.27 L40.7 177.14 L40.75 178.34 L40.8 179.59 L40.85 180.44 L40.9 180.65 L40.95 180.13 L41 178.98 L41.05 177.53 L41.1 176.27 L41.15 175.37 L41.2 175.09 L41.25 175.5 L41.3 176.49 L41.35 177.8 L41.4 179.27 L41.45 180.32 L41.5 180.71 L41.55 180.35 L41.6 179.38 L41.65 178.07 L41.7 176.91 L41.75 176.09 L41.8 175.76 L41.85 175.95 L41.9 176.58 L41.95 177.44 L42 178.41 L42.05 179.21 L42.1 179.6 L42.15 179.52 L42.2 179.04 L42.25 178.29 L42.3 177.55 L42.35 177.04 L42.4 176.75 L42.45 176.73 L42.5 176.98 L42.55 177.4 L42.6 177.93 L42.65 178.54 L42.7 178.95 L42.75 179.07 L42.8 178.87 L42.85 178.4 L42.9 177.8 L42.95 177.35 L43 177.02 L43.05 176.89 L43.1 176.98 L43.15 177.27 L43.2 177.71 L43.25 178.28 L43.3 178.77 L43.35 179.03 L43.4 178.99 L43.45 178.64 L43.5 178.07 L43.55 177.46 L43.6 176.95 L43.65 176.61 L43.7 176.55 L43.75 176.82 L43.8 177.38 L43.85 178.13 L43.9 178.88 L43.95 179.41 L44 179.54 L44.05 179.23 L44.1 178.53 L44.15 177.62 L44.2 176.74 L44.25 176.09 L44.3 175.87 L44.35 176.14 L44.4 176.84 L44.45 177.8 L44.5 178.76 L44.55 179.47 L44.6 179.75 L44.65 179.53 L44.7 178.88 L44.75 177.99 L44.8 177.1 L44.85 176.44 L44.9 176.15 L44.95 176.3 L45 176.8 L45.05 177.5 L45.1 178.25 L45.15 178.84 L45.2 179.13 L45.25 179.07 L45.3 178.71 L45.35 178.16 L45.4 177.6 L45.45 177.18 L45.5 176.96 L45.55 176.96 L45.6 177.16 L45.65 177.49 L45.7 177.89 L45.75 178.32 L45.8 178.59 L45.85 178.67 L45.9 178.52 L45.95 178.21 L46 177.8 L46.05 177.49 L46.1 177.26 L46.15 177.17 L46.2 177.24 L46.25 177.45 L46.3 177.74 L46.35 178.12 L46.4 178.44 L46.45 178.6 L46.5 178.56 L46.55 178.33 L46.6 177.97 L46.65 177.6 L46.7 177.3 L46.75 177.11 L46.8 177.08 L46.85 177.24 L46.9 177.56 L46.95 178 L47 178.47 L47.05 178.8 L47.1 178.88 L47.15 178.69 L47.2 178.26 L47.25 177.69 L47.3 177.17 L47.35 176.78 L47.4 176.63 L47.45 176.78 L47.5 177.21 L47.55 177.8 L47.6 178.46 L47.65 178.96 L47.7 179.17 L47.75 179.03 L47.8 178.58 L47.85 177.94 L47.9 177.3 L47.95 176.82 L48 176.6 L48.05 176.68 L48.1 177.04 L48.15 177.57 L48.2 178.15 L48.25 178.63 L48.3 178.87 L48.35 178.83 L48.4 178.55 L48.45 178.1 L48.5 177.63 L48.55 177.29 L48.6 177.1 L48.65 177.1 L48.7 177.27 L48.75 177.55 L48.8 177.88 L48.85 178.21 L48.9 178.43 L48.95 178.48 L49 178.37 L49.05 178.12 L49.1 177.8 L49.15 177.56 L49.2 177.39 L49.25 177.32 L49.3 177.37 L49.35 177.53 L49.4 177.75 L49.45 178.04 L49.5 178.28 L49.55 178.4 L49.6 178.37 L49.65 178.2 L49.7 177.92 L49.75 177.65 L49.8 177.44 L49.85 177.3 L49.9 177.29 L49.95 177.4 L50 177.63 L50.05 177.94 L50.1 178.27 L50.15 178.5 L50.2 178.57 L50.25 178.44 L50.3 178.13 L50.35 177.72 L50.4 177.33 L50.45 177.02 L50.5 176.9 L50.55 177.01 L50.6 177.33 L50.65 177.8 L50.7 178.31 L50.75 178.7 L50.8 178.87 L50.85 178.78 L50.9 178.43 L50.95 177.91 L51 177.37 L51.05 176.93 L51.1 176.72 L51.15 176.78 L51.2 177.1 L51.25 177.59 L51.3 178.11 L51.35 178.54 L51.4 178.77 L51.45 178.74 L51.5 178.49 L51.55 178.07 L51.6 177.63 L51.65 177.27 L51.7 177.08 L51.75 177.07 L51.8 177.25 L51.85 177.54 L51.9 177.87 L51.95 178.19 L52 178.39 L52.05 178.44 L52.1 178.33 L52.15 178.09 L52.2 177.8 L52.25 177.57 L52.3 177.41 L52.35 177.35 L52.4 177.4 L52.45 177.55 L52.5 177.76 L52.55 178.01 L52.6 178.23 L52.65 178.34 L52.7 178.31 L52.75 178.15 L52.8 177.91 L52.85 177.67 L52.9 177.48 L52.95 177.37 L53 177.36 L53.05 177.46 L53.1 177.66 L53.15 177.92 L53.2 178.2 L53.25 178.39 L53.3 178.44 L53.35 178.33 L53.4 178.07 L53.45 177.73 L53.5 177.41 L53.55 177.16 L53.6 177.05 L53.65 177.13 L53.7 177.4 L53.75 177.8 L53.8 178.25 L53.85 178.61 L53.9 178.78 L53.95 178.7 L54 178.38 L54.05 177.91 L54.1 177.39 L54.15 176.96 L54.2 176.74 L54.25 176.79 L54.3 177.1 L54.35 177.58 L54.4 178.12 L54.45 178.56 L54.5 178.81 L54.55 178.79 L54.6 178.52 L54.65 178.09 L54.7 177.61 L54.75 177.22 L54.8 176.99 L54.85 176.98 L54.9 177.18 L54.95 177.5 L55 177.88 L55.05 178.23 L55.1 178.45 L55.15 178.49 L55.2 178.37 L55.25 178.11 L55.3 177.8 L55.35 177.55 L55.4 177.38 L55.45 177.32 L55.5 177.39 L55.55 177.54 L55.6 177.76 L55.65 178.01 L55.7 178.22 L55.75 178.33 L55.8 178.3 L55.85 178.15 L55.9 177.91 L55.95 177.67 L56 177.49 L56.05 177.39 L56.1 177.39 L56.15 177.49 L56.2 177.67 L56.25 177.91 L56.3 178.16 L56.35 178.33 L56.4 178.37 L56.45 178.27 L56.5 178.04 L56.55 177.75 L56.6 177.48 L56.65 177.27 L56.7 177.18 L56.75 177.24 L56.8 177.47 L56.85 177.8 L56.9 178.19 L56.95 178.5 L57 178.65 L57.05 178.59 L57.1 178.32 L57.15 177.89 L57.2 177.43 L57.25 177.04 L57.3 176.84 L57.35 176.87 L57.4 177.15 L57.45 177.6 L57.5 178.1 L57.55 178.53 L57.6 178.77 L57.65 178.76 L57.7 178.51 L57.75 178.09 L57.8 177.61 L57.85 177.2 L57.9 176.96 L57.95 176.95 L58 177.14 L58.05 177.49 L58.1 177.88 L58.15 178.24 L58.2 178.47 L58.25 178.52 L58.3 178.38 L58.35 178.12 L58.4 177.8 L58.45 177.54 L58.5 177.36 L58.55 177.31 L58.6 177.38 L58.65 177.54 L58.7 177.76 L58.75 178 L58.8 178.2 L58.85 178.29 L58.9 178.26 L58.95 178.12 L59 177.9 L59.05 177.68 L59.1 177.52 L59.15 177.43 L59.2 177.43 L59.25 177.52 L59.3 177.69 L59.35 177.9 L59.4 178.11 L59.45 178.25 L59.5 178.28 L59.55 178.19 L59.6 178 L59.65 177.76 L59.7 177.54 L59.75 177.38 L59.8 177.31 L59.85 177.37 L59.9 177.54 L59.95 177.8 L60 178.11 L60.05 178.37 L60.1 178.49 L60.15 178.45 L60.2 178.22 L60.25 177.88 L60.3 177.5 L60.35 177.17 L60.4 176.99 L60.45 177.01 L60.5 177.24 L60.55 177.62 L60.6 178.07 L60.65 178.45 L60.7 178.68 L60.75 178.68 L60.8 178.46 L60.85 178.07 L60.9 177.62 L60.95 177.23 L61 176.99 L61.05 176.96 L61.1 177.15 L61.15 177.48 L61.2 177.88 L61.25 178.24 L61.3 178.47 L61.35 178.52 L61.4 178.39 L61.45 178.12 L61.5 177.8 L61.55 177.53 L61.6 177.34 L61.65 177.29 L61.7 177.36 L61.75 177.54 L61.8 177.76 L61.85 178 L61.9 178.18 L61.95 178.27 L62 178.23 L62.05 178.09 L62.1 177.89 L62.15 177.69 L62.2 177.55 L62.25 177.46 L62.3 177.46 L62.35 177.55 L62.4 177.7 L62.45 177.89 L62.5 178.08 L62.55 178.2 L62.6 178.23 L62.65 178.14 L62.7 177.97 L62.75 177.76 L62.8 177.59 L62.85 177.46 L62.9 177.41 L62.95 177.46 L63 177.6 L63.05 177.8 L63.1 178.05 L63.15 178.26 L63.2 178.36 L63.25 178.32 L63.3 178.15 L63.35 177.86 L63.4 177.56 L63.45 177.3 L63.5 177.14 L63.55 177.15 L63.6 177.33 L63.65 177.65 L63.7 178.03 L63.75 178.37 L63.8 178.57 L63.85 178.58 L63.9 178.39 L63.95 178.04 L64 177.63 L64.05 177.27 L64.1 177.04 L64.15 177 L64.2 177.17 L64.25 177.49 L64.3 177.88 L64.35 178.23 L64.4 178.46 L64.45 178.52 L64.5 178.39 L64.55 178.13 L64.6 177.8 L64.65 177.51 L64.7 177.32 L64.75 177.26 L64.8 177.34 L64.85 177.52 L64.9 177.75 L64.95 178 L65 178.18 L65.05 178.26 L65.1 178.22 L65.15 178.08 L65.2 177.89 L65.25 177.7 L65.3 177.56 L65.35 177.48 L65.4 177.49 L65.45 177.57 L65.5 177.71 L65.55 177.88 L65.6 178.05 L65.65 178.17 L65.7 178.18 L65.75 178.11 L65.8 177.95 L65.85 177.77 L65.9 177.62 L65.95 177.51 L66 177.48 L66.05 177.52 L66.1 177.63 L66.15 177.8 L66.2 178.01 L66.25 178.18 L66.3 178.26 L66.35 178.23 L66.4 178.08 L66.45 177.85 L66.5 177.61 L66.55 177.4 L66.6 177.28 L66.65 177.28 L66.7 177.42 L66.75 177.68 L66.8 177.99 L66.85 178.28 L66.9 178.46 L66.95 178.47 L67 178.31 L67.05 178.02 L67.1 177.65 L67.15 177.32 L67.2 177.11 L67.25 177.07 L67.3 177.21 L67.35 177.51 L67.4 177.87 L67.45 178.21 L67.5 178.44 L67.55 178.5 L67.6 178.38 L67.65 178.12 L67.7 177.8 L67.75 177.5 L67.8 177.3 L67.85 177.24 L67.9 177.32 L67.95 177.51 L68 177.75 L68.05 178 L68.1 178.19 L68.15 178.26 L68.2 178.22 L68.25 178.08 L68.3 177.88 L68.35 177.7 L68.4 177.56 L68.45 177.49 L68.5 177.5 L68.55 177.58 L68.6 177.71 L68.65 177.87 L68.7 178.03 L68.75 178.13 L68.8 178.15 L68.85 178.08 L68.9 177.94 L68.95 177.77 L69 177.64 L69.05 177.55 L69.1 177.52 L69.15 177.56 L69.2 177.66 L69.25 177.8 L69.3 177.98 L69.35 178.12 L69.4 178.18 L69.45 178.15 L69.5 178.03 L69.55 177.84 L69.6 177.65 L69.65 177.49 L69.7 177.39 L69.75 177.39 L69.8 177.5 L69.85 177.7 L69.9 177.96 L69.95 178.2 L70 178.35 L70.05 178.37 L70.1 178.23 L70.15 177.98 L70.2 177.68 L70.25 177.39 L70.3 177.2 L70.35 177.15 L70.4 177.28 L70.45 177.54 L70.5 177.87 L70.55 178.18 L70.6 178.4 L70.65 178.46 L70.7 178.35 L70.75 178.11 L70.8 177.8 L70.85 177.51 L70.9 177.3 L70.95 177.23 L71 177.31 L71.05 177.5 L71.1 177.75 L71.15 178 L71.2 178.19 L71.25 178.27 L71.3 178.22 L71.35 178.08 L71.4 177.88 L71.45 177.69 L71.5 177.56 L71.55 177.49 L71.6 177.5 L71.65 177.59 L71.7 177.71 L71.75 177.87 L71.8 178.01 L71.85 178.1 L71.9 178.12 L71.95 178.05 L72 177.92 L72.05 177.77 L72.1 177.66 L72.15 177.58 L72.2 177.55 L72.25 177.59 L72.3 177.68 L72.35 177.8 L72.4 177.95 L72.45 178.07 L72.5 178.12 L72.55 178.09 L72.6 177.99 L72.65 177.83 L72.7 177.69 L72.75 177.56 L72.8 177.49 L72.85 177.49 L72.9 177.57 L72.95 177.73 L73 177.93 L73.05 178.11 L73.1 178.24 L73.15 178.25 L73.2 178.15 L73.25 177.95 L73.3 177.7 L73.35 177.47 L73.4 177.31 L73.45 177.26 L73.5 177.36 L73.55 177.58 L73.6 177.86 L73.65 178.13 L73.7 178.32 L73.75 178.38 L73.8 178.3 L73.85 178.08 L73.9 177.8 L73.95 177.52 L74 177.33 L74.05 177.26 L74.1 177.32 L74.15 177.51 L74.2 177.75 L74.25 178 L74.3 178.18 L74.35 178.26 L74.4 178.22 L74.45 178.08 L74.5 177.88 L74.55 177.69 L74.6 177.55 L74.65 177.48 L74.7 177.5 L74.75 177.59 L74.8 177.72 L74.85 177.86 L74.9 178 L74.95 178.08 L75 178.09 L75.05 178.03 L75.1 177.91 L75.15 177.78 L75.2 177.67 L75.25 177.6 L75.3 177.58 L75.35 177.61 L75.4 177.69 L75.45 177.8 L75.5 177.93 L75.55 178.03 L75.6 178.07 L75.65 178.05 L75.7 177.96 L75.75 177.83 L75.8 177.71 L75.85 177.61 L75.9 177.56 L75.95 177.56 L76 177.63 L76.05 177.74 L76.1 177.9 L76.15 178.05 L76.2 178.14 L76.25 178.16 L76.3 178.08 L76.35 177.92 L76.4 177.72 L76.45 177.54 L76.5 177.41 L76.55 177.37 L76.6 177.45 L76.65 177.62 L76.7 177.85 L76.75 178.08 L76.8 178.25 L76.85 178.3 L76.9 178.23 L76.95 178.05 L77 177.8 L77.05 177.55 L77.1 177.37 L77.15 177.3 L77.2 177.35 L77.25 177.52 L77.3 177.75 L77.35 177.99 L77.4 178.16 L77.45 178.24 L77.5 178.21 L77.55 178.07 L77.6 177.88 L77.65 177.69 L77.7 177.55 L77.75 177.48 L77.8 177.49 L77.85 177.58 L77.9 177.71 L77.95 177.86 L78 177.99 L78.05 178.07 L78.1 178.07 L78.15 178.01 L78.2 177.9 L78.25 177.78 L78.3 177.68 L78.35 177.62 L78.4 177.6 L78.45 177.64 L78.5 177.71 L78.55 177.8 L78.6 177.92 L78.65 178 L78.7 178.04 L78.75 178.01 L78.8 177.93 L78.85 177.82 L78.9 177.73 L78.95 177.65 L79 177.61 L79.05 177.61 L79.1 177.67 L79.15 177.76 L79.2 177.88 L79.25 177.99 L79.3 178.06 L79.35 178.07 L79.4 178.01 L79.45 177.89 L79.5 177.74 L79.55 177.61 L79.6 177.51 L79.65 177.48 L79.7 177.53 L79.75 177.66 L79.8 177.84 L79.85 178.02 L79.9 178.16 L79.95 178.21 L80 178.15 L80.05 178 L80.1 177.8 L80.15 177.59 L80.2 177.44 L80.25 177.37 L80.3 177.42 L80.35 177.56 L80.4 177.76 L80.45 177.96 L80.5 178.12 L80.55 178.2 L80.6 178.17 L80.65 178.05 L80.7 177.87 L80.75 177.7 L80.8 177.56 L80.85 177.49 L80.9 177.51 L80.95 177.59 L81 177.72 L81.05 177.86 L81.1 177.98 L81.15 178.05 L81.2 178.05 L81.25 177.99 L81.3 177.89 L81.35 177.78 L81.4 177.69 L81.45 177.64 L81.5 177.63 L81.55 177.66 L81.6 177.72 L81.65 177.8 L81.7 177.9 L81.75 177.97 L81.8 178 L81.85 177.97 L81.9 177.91 L81.95 177.82 L82 177.74 L82.05 177.68 L82.1 177.65 L82.15 177.65 L82.2 177.7 L82.25 177.77 L82.3 177.86 L82.35 177.95 L82.4 178 L82.45 178 L82.5 177.96 L82.55 177.87 L82.6 177.76 L82.65 177.66 L82.7 177.59 L82.75 177.57 L82.8 177.61 L82.85 177.7 L82.9 177.83 L82.95 177.97 L83 178.07 L83.05 178.11 L83.1 178.07 L83.15 177.96 L83.2 177.8 L83.25 177.64 L83.3 177.51 L83.35 177.45 L83.4 177.49 L83.45 177.6 L83.5 177.76 L83.55 177.94 L83.6 178.08 L83.65 178.14 L83.7 178.12 L83.75 178.02 L83.8 177.87 L83.85 177.71 L83.9 177.58 L83.95 177.51 L84 177.52 L84.05 177.6 L84.1 177.72 L84.15 177.85 L84.2 177.97 L84.25 178.03 L84.3 178.03 L84.35 177.98 L84.4 177.89 L84.45 177.78 L84.5 177.7 L84.55 177.65 L84.6 177.64 L84.65 177.67 L84.7 177.73 L84.75 177.8 L84.8 177.88 L84.85 177.94 L84.9 177.96 L84.95 177.95 L85 177.89 L85.05 177.82 L85.1 177.75 L85.15 177.7 L85.2 177.67 L85.25 177.68 L85.3 177.72 L85.35 177.77 L85.4 177.85 L85.45 177.92 L85.5 177.96 L85.55 177.96 L85.6 177.92 L85.65 177.85 L85.7 177.77 L85.75 177.7 L85.8 177.65 L85.85 177.64 L85.9 177.66 L85.95 177.73 L86 177.82 L86.05 177.92 L86.1 178 L86.15 178.03 L86.2 178 L86.25 177.92 L86.3 177.8 L86.35 177.68 L86.4 177.58 L86.45 177.54 L86.5 177.56 L86.55 177.64 L86.6 177.77 L86.65 177.91 L86.7 178.02 L86.75 178.08 L86.8 178.06 L86.85 177.98 L86.9 177.85 L86.95 177.72 L87 177.61 L87.05 177.55 L87.1 177.56 L87.15 177.63 L87.2 177.73 L87.25 177.85 L87.3 177.94 L87.35 178 L87.4 178 L87.45 177.95 L87.5 177.87 L87.55 177.78 L87.6 177.71 L87.65 177.67 L87.7 177.66 L87.75 177.69 L87.8 177.74 L87.85 177.8 L87.9 177.87 L87.95 177.91 L88 177.93 L88.05 177.91 L88.1 177.87 L88.15 177.81 L88.2 177.76 L88.25 177.73 L88.3 177.71 L88.35 177.71 L88.4 177.74 L88.45 177.78 L88.5 177.83 L88.55 177.88 L88.6 177.91 L88.65 177.91 L88.7 177.88 L88.75 177.83 L88.8 177.78 L88.85 177.74 L88.9 177.71 L88.95 177.7 L89 177.72 L89.05 177.76 L89.1 177.81 L89.15 177.88 L89.2 177.92 L89.25 177.94 L89.3 177.92 L89.35 177.87 L89.4 177.8 L89.45 177.73 L89.5 177.67 L89.55 177.64 L89.6 177.65 L89.65 177.7 L89.7 177.78 L89.75 177.87 L89.8 177.94 L89.85 177.98 L89.9 177.97 L89.95 177.92 L90 177.84 L90.05 177.75 L90.1 177.67 L90.15 177.63 L90.2 177.63 L90.25 177.68 L90.3 177.75 L90.35 177.83 L90.4 177.9 L90.45 177.94 L90.5 177.94 L90.55 177.91 L90.6 177.85 L90.65 177.79 L90.7 177.74 L90.75 177.7 L90.8 177.7 L90.85 177.72 L90.9 177.76 L90.95 177.8 L91 177.84 L91.05 177.87 L91.1 177.88 L91.15 177.87 L91.2 177.84 L91.25 177.81 L91.3 177.78 L91.35 177.75 L91.4 177.74 L91.45 177.75 L91.5 177.76 L91.55 177.79 L91.6 177.82 L91.65 177.85 L91.7 177.86 L91.75 177.86 L91.8 177.85 L91.85 177.82 L91.9 177.79 L91.95 177.77 L92 177.75 L92.05 177.75 L92.1 177.76 L92.15 177.78 L92.2 177.81 L92.25 177.84 L92.3 177.86 L92.35 177.87 L92.4 177.86 L92.45 177.83 L92.5 177.8 L92.55 177.77 L92.6 177.74 L92.65 177.73 L92.7 177.73 L92.75 177.76 L92.8 177.79 L92.85 177.83 L92.9 177.87 L92.95 177.88 L93 177.88 L93.05 177.86 L93.1 177.82 L93.15 177.77 L93.2 177.74 L93.25 177.72 L93.3 177.72 L93.35 177.74 L93.4 177.78 L93.45 177.82 L93.5 177.85 L93.55 177.87 L93.6 177.87 L93.65 177.85 L93.7 177.82 L93.75 177.79 L93.8 177.77 L93.85 177.75 L93.9 177.75 L93.95 177.76 L94 177.78 L94.05 177.8 L94.1 177.82 L94.15 177.83 L94.2 177.83 L94.25 177.83 L94.3 177.82 L94.35 177.8 L94.4 177.79 L94.45 177.78 L94.5 177.78 L94.55 177.78 L94.6 177.79 L94.65 177.8 L94.7 177.81 L94.75 177.81 L94.8 177.82 L94.85 177.82 L94.9 177.81 L94.95 177.8 L95 177.8 L95.05 177.79 L95.1 177.79 L95.15 177.79 L95.2 177.79 L95.25 177.8 L95.3 177.8 L95.35 177.81 L95.4 177.81 L95.45 177.81 L95.5 177.81 L95.55 177.8 L95.6 177.8 L95.65 177.8 L95.7 177.8 L95.75 177.8 L95.8 177.8 L95.85 177.8 L95.9 177.8 L95.95 177.8 L160.51 177.84 L160.86 177.84 L161.21 177.84 L161.56 177.84 L161.91 177.84 L162.26 177.84 L162.61 177.84 L162.96 177.84 L163.31 177.84 L163.66 177.84 L164.01 177.84 L164.36 177.84 L164.71 177.84 L165.06 177.92 L165.42 178.49 L165.77 179.42 L166.12 180.46 L166.47 181.38 L166.82 181.96 L167.17 181.87 L167.52 180.68 L167.87 178.8 L168.22 176.78 L168.57 175.17 L168.92 174.51 L169.27 174.63 L169.62 174.95 L169.97 175.43 L170.32 175.99 L170.67 176.59 L171.02 177.18 L171.37 177.69 L171.72 178.07 L172.07 178.28 L172.42 178.47 L172.77 178.65 L173.12 178.82 L173.47 178.97 L173.82 179.11 L174.17 179.22 L174.52 179.31 L174.87 179.38 L175.22 179.41 L175.57 179.41 L175.92 179.33 L176.27 179.2 L176.62 179.01 L176.97 178.78 L177.33 178.51 L177.68 178.23 L178.03 177.93 L178.38 177.63 L178.73 177.35 L179.08 177.08 L179.43 176.85 L179.78 176.66 L180.13 176.52 L180.48 176.45 L180.83 176.45 L181.18 176.55 L181.53 176.74 L181.88 177 L182.23 177.31 L182.58 177.66 L182.93 178.01 L183.28 178.36 L183.63 178.69 L183.98 178.98 L184.33 179.21 L184.68 179.36 L185.03 179.42 L185.38 179.4 L185.73 179.34 L186.08 179.25 L186.43 179.14 L186.78 179 L187.13 178.85 L187.48 178.68 L187.83 178.5 L188.18 178.32 L188.53 178.14 L188.88 177.97 L189.24 177.81 L189.59 177.66 L189.94 177.53 L190.29 177.43 L190.64 177.36 L190.99 177.32 L191.34 177.32 L191.69 177.4 L192.04 177.53 L192.39 177.71 L192.74 177.93 L193.09 178.17 L193.44 178.42 L193.79 178.67 L194.14 178.9 L194.49 179.11 L194.84 179.27 L195.19 179.38 L195.54 179.42 L195.89 179.4 L196.24 179.34 L196.59 179.25 L196.94 179.14 L197.29 179 L197.64 178.85 L197.99 178.68 L198.34 178.5 L198.69 178.32 L199.04 178.15 L199.39 177.97 L199.74 177.81 L200.09 177.66 L200.44 177.54 L200.79 177.43 L201.15 177.36 L201.5 177.32 L201.85 177.32 L202.2 177.36 L202.55 177.44 L202.9 177.55 L203.25 177.67 L203.6 177.81 L203.95 177.96 L204.3 178.1 L204.65 178.24 L205 178.36 L205.35 178.45 L205.7 178.52 L206.05 178.54 L206.4 178.52 L206.75 178.46 L207.1 178.36 L207.45 178.25 L207.8 178.11 L208.15 177.97 L208.5 177.82 L208.85 177.68 L209.2 177.55 L209.55 177.44 L209.9 177.36 L210.25 177.32 L210.6 177.32 L210.95 177.33 L211.3 177.36 L211.65 177.4 L212 177.46 L212.35 177.52 L212.7 177.58 L213.06 177.66 L213.41 177.73 L213.76 177.81 L214.11 177.88 L214.46 177.95 L214.81 178.01 L215.16 178.07 L215.51 178.12 L215.86 178.16 L216.21 178.18 L216.56 178.19 L216.91 178.18 L217.26 178.15 L217.61 178.1 L217.96 178.04 L218.31 177.97 L218.66 177.9 L219.01 177.83 L219.36 177.76 L219.71 177.71 L220.06 177.67 L220.41 177.63 L220.76 177.6 L221.11 177.57 L221.46 177.53 L221.81 177.5 L222.16 177.47 L222.51 177.44 L222.86 177.41 L223.21 177.39 L223.56 177.37 L223.91 177.35 L224.26 177.33 L224.61 177.32 L224.97 177.32 L225.32 177.31 L225.67 177.35 L226.02 177.47 L226.37 177.65 L226.72 177.86 L227.07 178.09 L227.42 178.33 L227.77 178.54 L228.12 178.72 L228.47 178.84 L228.82 178.89 L229.17 178.86 L229.52 178.77 L229.87 178.63 L230.22 178.47 L230.57 178.28 L230.92 178.1 L231.27 177.94 L231.62 177.8 L231.97 177.7 L232.32 177.66 L232.67 177.68 L233.02 177.75 L233.37 177.84 L233.72 177.96 L234.07 178.09 L234.42 178.23 L234.77 178.38 L235.12 178.52 L235.47 178.65 L235.82 178.76 L236.17 178.84 L236.53 178.88 L236.88 178.88 L237.23 178.82 L237.58 178.71 L237.93 178.55 L238.28 178.35 L238.63 178.14 L238.98 177.91 L239.33 177.68 L239.68 177.45 L240.03 177.24 L240.38 177.06 L240.73 176.92 L241.08 176.82 L241.43 176.79 L241.78 176.81 L242.13 176.88 L242.48 176.99 L242.83 177.13 L243.18 177.29 L243.53 177.46 L243.88 177.63 L244.23 177.79 L244.58 177.94 L244.93 178.07 L245.28 178.16 L245.63 178.21 L245.98 178.25 L246.33 178.3 L246.68 178.34 L247.03 178.38 L247.38 178.41 L247.73 178.44 L248.08 178.47 L248.44 178.49 L248.79 178.51 L249.14 178.53 L249.49 178.54 L249.84 178.54 L250.19 178.49 L250.54 178.38 L250.89 178.24 L251.24 178.12 L251.59 178.02 L251.94 177.92 L252.29 177.82 L252.64 177.69 L252.99 177.54 L253.34 177.35 L253.69 177.09 L254.04 175.52 L254.39 172.22 L254.74 167.75 L255.09 162.68 L255.44 157.56 L255.79 152.96 L256.14 149.43 L256.49 147.53 L256.84 148.07 L257.19 151.93 L257.54 158.35 L257.89 166.45 L258.24 175.33 L258.59 184.12 L258.94 191.92 L259.29 197.85 L259.64 201.02 L259.99 201.26 L260.35 200.97 L260.7 200.45 L261.05 199.74 L261.4 198.89 L261.75 197.92 L262.1 196.87 L262.45 195.8 L262.8 194.72 L263.15 193.59 L263.5 192.1 L263.85 190.28 L264.2 188.21 L264.55 185.98 L264.9 183.65 L265.25 181.31 L265.6 179.04 L265.95 176.91 L266.3 175.01 L266.65 173.41 L267 172.18 L267.35 171.42 L267.7 171.18 L268.05 171.27 L268.4 171.5 L268.75 171.85 L269.1 172.3 L269.45 172.85 L269.8 173.48 L270.15 174.18 L270.5 174.93 L270.85 175.71 L271.2 176.52 L271.55 177.34 L271.9 178.15 L272.26 178.95 L272.61 179.71 L272.96 180.42 L273.31 181.07 L273.66 181.65 L274.01 182.13 L274.36 182.51 L274.71 182.78 L275.06 182.91 L275.41 182.87 L275.76 182.58 L276.11 182.05 L276.46 181.34 L276.81 180.46 L277.16 179.46 L277.51 178.38 L277.86 177.25 L278.21 176.1 L278.56 174.97 L278.91 173.91 L279.26 172.93 L279.61 172.08 L279.96 171.4 L280.31 170.92 L280.66 170.68 L281.01 170.68 L281.36 170.84 L281.71 171.1 L282.06 171.43 L282.41 171.81 L282.76 172.21 L283.11 172.58 L283.46 172.9 L283.81 173.14 L284.17 173.27 L284.52 173.28 L284.87 173.28 L285.22 173.28 L285.57 173.28 L285.92 173.28 L286.27 173.28 L286.62 173.28 L286.97 173.28 L287.32 173.28 L287.67 173.28 L288.02 173.31 L288.37 173.44 L288.72 173.69 L289.07 174.01 L289.42 174.4 L289.77 174.84 L290.12 175.3 L290.47 175.77 L290.82 176.22 L291.17 176.63 L291.52 177.02 L291.87 177.46 L292.22 177.95 L292.57 178.46 L292.92 178.97 L293.27 179.45 L293.62 179.89 L293.97 180.24 L294.32 180.5 L294.67 180.63 L295.02 180.62 L295.37 180.5 L295.72 180.3 L296.08 180.07 L296.43 179.83 L296.78 179.61 L297.13 179.47 L297.48 179.42 L297.83 179.56 L298.18 179.91 L298.53 180.41 L298.88 181.01 L299.23 181.66 L299.58 182.31 L299.93 182.9 L300.28 183.38 L300.63 183.69 L300.98 183.79 L301.33 183.7 L301.68 183.45 L302.03 183.09 L302.38 182.61 L302.73 182.07 L303.08 181.46 L303.43 180.82 L303.78 180.18 L304.13 179.54 L304.48 178.95 L304.83 178.41 L305.18 177.95 L305.53 177.6 L305.88 177.38 L306.23 177.31 L306.58 177.33 L306.93 177.38 L307.28 177.45 L307.63 177.53 L307.99 177.63 L308.34 177.73 L308.69 177.84 L309.04 177.94 L309.39 178.03 L309.74 178.1 L310.09 178.16 L310.44 178.19 L310.79 178.18 L311.14 178.13 L311.49 178.04 L311.84 177.91 L312.19 177.76 L312.54 177.59 L312.89 177.4 L313.24 177.21 L313.59 177.02 L313.94 176.84 L314.29 176.67 L314.64 176.52 L314.99 176.4 L315.34 176.31 L315.69 176.27 L316.04 176.28 L316.39 176.36 L316.74 176.51 L317.09 176.72 L317.44 176.99 L317.79 177.29 L318.14 177.64 L318.49 178.01 L318.84 178.4 L319.19 178.81 L319.54 179.21 L319.9 179.61 L320.25 180 L320.6 180.37 L320.95 180.71 L321.3 181.01 L321.65 181.27 L322 181.47 L322.35 181.61 L322.7 181.69 L323.05 181.68 L323.4 181.57 L323.75 181.41 L324.1 181.2 L324.45 181 L324.8 180.81 L325.15 180.69 L325.5 181.5" fill="none" stroke="#0000ff" stroke-width="1.35" stroke-linejoin="round" />
<path d="M18.85 131.1 L18.85 52.5 L19.35 54 L19.35 155 L19.1 161 L18.9 157 L18.9 54.5 L19.7 56.5 L19.7 147 L19.4 131.1 L19.1 155.12 L19.15 165.32 L19.2 166.67 L19.25 159.09 L19.3 144.79 L19.35 127.89 L19.4 113.72 L19.45 105.03 L19.5 103.56 L19.55 108.98 L19.6 119.21 L19.65 131.1 L19.7 144.35 L19.75 153.44 L19.8 156.44 L19.85 153.06 L19.9 144.58 L19.95 133.41 L20 125.97 L20.05 121.66 L20.1 120.23 L20.15 121.55 L20.2 124.91 L20.25 129.3 L20.3 136.87 L20.35 144.95 L20.4 149.52 L20.45 149.49 L20.5 144.89 L20.55 136.82 L20.6 129.38 L20.65 125.28 L20.7 122.25 L20.75 121.15 L20.8 122.56 L20.85 126.51 L20.9 133.3 L20.95 143.85 L21 151.72 L21.05 154.72 L21.1 151.77 L21.15 143.27 L21.2 131.1 L21.25 121.03 L21.3 112.48 L21.35 108.02 L21.4 109.36 L21.45 116.68 L21.5 128.45 L21.55 142.97 L21.6 155.24 L21.65 161.61 L21.7 160.29 L21.75 151.5 L21.8 137.43 L21.85 122.23 L21.9 109.65 L21.95 102.56 L22 102.8 L22.05 110.19 L22.1 122.62 L22.15 137.16 L22.2 150.4 L22.25 158.41 L22.3 159.33 L22.35 153.2 L22.4 141.87 L22.45 128.88 L22.5 119.22 L22.55 113.49 L22.6 112.7 L22.65 116.47 L22.7 123.29 L22.75 131.1 L22.8 141.83 L22.85 149.37 L22.9 152.06 L22.95 149.49 L23 142.55 L23.05 133.09 L23.1 127.46 L23.15 124.15 L23.2 122.73 L23.25 123.36 L23.3 125.8 L23.35 129.47 L23.4 136.63 L23.45 144.51 L23.5 149.08 L23.55 149.2 L23.6 144.79 L23.65 136.82 L23.7 129.02 L23.75 123.9 L23.8 119.99 L23.85 118.54 L23.9 120.31 L23.95 125.33 L24 133.33 L24.05 143.97 L24.1 151.81 L24.15 154.67 L24.2 151.57 L24.25 143.05 L24.3 131.1 L24.35 120 L24.4 110.96 L24.45 106.61 L24.5 108.46 L24.55 116.35 L24.6 128.44 L24.65 141.89 L24.7 152.82 L24.75 158.26 L24.8 156.81 L24.85 148.87 L24.9 136.55 L24.95 123.29 L25 112.57 L25.05 106.95 L25.1 107.63 L25.15 114.1 L25.2 124.34 L25.25 135.98 L25.3 146.52 L25.35 152.74 L25.4 153.31 L25.45 148.39 L25.5 139.48 L25.55 129.52 L25.6 122.73 L25.65 118.79 L25.7 118.3 L25.75 120.92 L25.8 125.65 L25.85 131.1 L25.9 139.39 L25.95 145.3 L26 147.5 L26.05 145.62 L26.1 140.22 L26.15 132.7 L26.2 127.9 L26.25 124.69 L26.3 123.07 L26.35 123.4 L26.4 125.64 L26.45 129.37 L26.5 135.85 L26.55 142.74 L26.6 146.86 L26.65 147.12 L26.7 143.31 L26.75 136.24 L26.8 128.65 L26.85 122.71 L26.9 118.34 L26.95 116.91 L27 119.16 L27.05 124.86 L27.1 133.12 L27.15 142.76 L27.2 149.77 L27.25 152.22 L27.3 149.32 L27.35 141.66 L27.4 131.1 L27.45 121.22 L27.5 113.59 L27.55 110.29 L27.6 112.28 L27.65 119.11 L27.7 128.98 L27.75 139.87 L27.8 148.53 L27.85 152.66 L27.9 151.28 L27.95 144.91 L28 135.29 L28.05 125.55 L28.1 118.1 L28.15 114.35 L28.2 114.98 L28.25 119.53 L28.3 126.53 L28.35 134.62 L28.4 142.17 L28.45 146.56 L28.5 146.9 L28.55 143.36 L28.6 137.03 L28.65 130.01 L28.7 125.27 L28.75 122.35 L28.8 121.77 L28.85 123.47 L28.9 126.88 L28.95 131.1 L29 137.2 L29.05 141.64 L29.1 143.4 L29.15 142.1 L29.2 138.07 L29.25 132.33 L29.3 127.83 L29.35 124.42 L29.4 122.54 L29.45 122.74 L29.5 125.09 L29.55 129.17 L29.6 135 L29.65 140.72 L29.7 144.2 L29.75 144.47 L29.8 141.32 L29.85 135.41 L29.9 128.54 L29.95 122.49 L30 118.26 L30.05 117.12 L30.1 119.58 L30.15 125.2 L30.2 132.75 L30.25 140.53 L30.3 146.07 L30.35 147.89 L30.4 145.45 L30.45 139.33 L30.5 131.1 L30.55 123.07 L30.6 117.1 L30.65 114.73 L30.7 116.52 L30.75 121.94 L30.8 129.5 L30.85 137.39 L30.9 143.48 L30.95 146.26 L31 145.16 L31.05 140.63 L31.1 133.97 L31.15 127.19 L31.2 121.95 L31.25 119.32 L31.3 119.76 L31.35 122.93 L31.4 127.85 L31.45 133.42 L31.5 138.39 L31.55 141.28 L31.6 141.52 L31.65 139.21 L31.7 135.05 L31.75 130.23 L31.8 126.27 L31.85 123.63 L31.9 122.89 L31.95 124.19 L32 127.16 L32.05 131.1 L32.1 135.45 L32.15 138.7 L32.2 140.05 L32.25 139.17 L32.3 136.27 L32.35 132.02 L32.4 127.65 L32.45 124.03 L32.5 122.05 L32.55 122.29 L32.6 124.82 L32.65 129.11 L32.7 134.17 L32.75 138.68 L32.8 141.43 L32.85 141.64 L32.9 139.14 L32.95 134.48 L33 128.77 L33.05 123.43 L33.1 119.89 L33.15 119.12 L33.2 121.41 L33.25 126.23 L33.3 132.33 L33.35 138.07 L33.4 142.07 L33.45 143.28 L33.5 141.41 L33.55 136.96 L33.6 131.1 L33.65 125.19 L33.7 120.9 L33.75 119.29 L33.8 120.67 L33.85 124.6 L33.9 129.97 L33.95 135.28 L34 139.27 L34.05 141.04 L34.1 140.27 L34.15 137.28 L34.2 132.95 L34.25 128.39 L34.3 124.74 L34.35 122.88 L34.4 123.15 L34.45 125.33 L34.5 128.79 L34.55 132.61 L34.6 135.86 L34.65 137.8 L34.7 138.03 L34.75 136.55 L34.8 133.78 L34.85 130.42 L34.9 127.31 L34.95 125.18 L35 124.53 L35.05 125.52 L35.1 127.9 L35.15 131.1 L35.2 134.34 L35.25 136.81 L35.3 137.91 L35.35 137.31 L35.4 135.12 L35.45 131.82 L35.5 128.16 L35.55 125.06 L35.6 123.36 L35.65 123.58 L35.7 125.75 L35.75 129.41 L35.8 133.57 L35.85 137.19 L35.9 139.37 L35.95 139.49 L36 137.47 L36.05 133.76 L36.1 129.19 L36.15 124.85 L36.2 122.05 L36.25 121.51 L36.3 123.41 L36.35 127.27 L36.4 132.02 L36.45 136.26 L36.5 139.14 L36.55 139.95 L36.6 138.52 L36.65 135.28 L36.7 131.1 L36.75 126.82 L36.8 123.78 L36.85 122.7 L36.9 123.75 L36.95 126.55 L37 130.32 L37.05 133.9 L37.1 136.55 L37.15 137.71 L37.2 137.18 L37.25 135.2 L37.3 132.33 L37.35 129.26 L37.4 126.77 L37.45 125.48 L37.5 125.63 L37.55 127.1 L37.6 129.48 L37.65 132.14 L37.7 134.42 L37.75 135.82 L37.8 136.04 L37.85 135.03 L37.9 133.05 L37.95 130.59 L38 128.2 L38.05 126.51 L38.1 125.95 L38.15 126.67 L38.2 128.53 L38.25 131.1 L38.3 133.66 L38.35 135.66 L38.4 136.57 L38.45 136.12 L38.5 134.36 L38.55 131.69 L38.6 128.61 L38.65 125.99 L38.7 124.56 L38.75 124.77 L38.8 126.62 L38.85 129.69 L38.9 133.08 L38.95 135.94 L39 137.63 L39.05 137.68 L39.1 136.06 L39.15 133.15 L39.2 129.6 L39.25 126.25 L39.3 124.14 L39.35 123.81 L39.4 125.32 L39.45 128.25 L39.5 131.76 L39.55 134.77 L39.6 136.77 L39.65 137.28 L39.7 136.23 L39.75 133.96 L39.8 131.1 L39.85 128.17 L39.9 126.12 L39.95 125.43 L40 126.16 L40.05 128.06 L40.1 130.58 L40.15 132.93 L40.2 134.66 L40.25 135.42 L40.3 135.08 L40.35 133.79 L40.4 131.91 L40.45 129.86 L40.5 128.15 L40.55 127.24 L40.6 127.3 L40.65 128.29 L40.7 129.95 L40.75 131.83 L40.8 133.45 L40.85 134.48 L40.9 134.66 L40.95 133.96 L41 132.53 L41.05 130.71 L41.1 128.84 L41.15 127.49 L41.2 127.01 L41.25 127.55 L41.3 129.02 L41.35 131.1 L41.4 133.1 L41.45 134.67 L41.5 135.38 L41.55 135.02 L41.6 133.64 L41.65 131.56 L41.7 129.09 L41.75 127.01 L41.8 125.9 L41.85 126.11 L41.9 127.59 L41.95 130.01 L42 132.56 L42.05 134.64 L42.1 135.83 L42.15 135.82 L42.2 134.62 L42.25 132.54 L42.3 130.02 L42.35 127.64 L42.4 126.19 L42.45 126.01 L42.5 127.11 L42.55 129.15 L42.6 131.54 L42.65 133.53 L42.7 134.82 L42.75 135.14 L42.8 134.44 L42.85 132.95 L42.9 131.1 L42.95 129.2 L43 127.9 L43.05 127.45 L43.1 127.93 L43.15 129.15 L43.2 130.76 L43.25 132.3 L43.3 133.44 L43.35 133.97 L43.4 133.77 L43.45 132.93 L43.5 131.66 L43.55 130.25 L43.6 129.05 L43.65 128.39 L43.7 128.4 L43.75 129.08 L43.8 130.26 L43.85 131.65 L43.9 132.88 L43.95 133.69 L44 133.86 L44.05 133.35 L44.1 132.24 L44.15 130.79 L44.2 129.31 L44.25 128.22 L44.3 127.82 L44.35 128.25 L44.4 129.43 L44.45 131.1 L44.5 132.76 L44.55 134.05 L44.6 134.63 L44.65 134.33 L44.7 133.18 L44.75 131.47 L44.8 129.54 L44.85 127.95 L44.9 127.14 L44.95 127.33 L45 128.48 L45.05 130.29 L45.1 132.24 L45.15 133.84 L45.2 134.73 L45.25 134.7 L45.3 133.76 L45.35 132.18 L45.4 130.35 L45.45 128.74 L45.5 127.78 L45.55 127.68 L45.6 128.44 L45.65 129.81 L45.7 131.41 L45.75 132.83 L45.8 133.74 L45.85 133.95 L45.9 133.45 L45.95 132.4 L46 131.1 L46.05 129.88 L46.1 129.03 L46.15 128.74 L46.2 129.03 L46.25 129.82 L46.3 130.88 L46.35 131.98 L46.4 132.84 L46.45 133.25 L46.5 133.13 L46.55 132.5 L46.6 131.53 L46.65 130.48 L46.7 129.61 L46.75 129.09 L46.8 129.08 L46.85 129.57 L46.9 130.46 L46.95 131.56 L47 132.61 L47.05 133.31 L47.1 133.48 L47.15 133.05 L47.2 132.09 L47.25 130.85 L47.3 129.65 L47.35 128.76 L47.4 128.44 L47.45 128.8 L47.5 129.76 L47.55 131.1 L47.6 132.53 L47.65 133.63 L47.7 134.11 L47.75 133.83 L47.8 132.85 L47.85 131.41 L47.9 129.92 L47.95 128.74 L48 128.16 L48.05 128.33 L48.1 129.19 L48.15 130.52 L48.2 131.99 L48.25 133.22 L48.3 133.88 L48.35 133.83 L48.4 133.1 L48.45 131.91 L48.5 130.59 L48.55 129.5 L48.6 128.87 L48.65 128.82 L48.7 129.33 L48.75 130.25 L48.8 131.32 L48.85 132.33 L48.9 132.98 L48.95 133.13 L49 132.78 L49.05 132.04 L49.1 131.1 L49.15 130.27 L49.2 129.68 L49.25 129.46 L49.3 129.65 L49.35 130.19 L49.4 130.94 L49.45 131.78 L49.5 132.45 L49.55 132.79 L49.6 132.71 L49.65 132.22 L49.7 131.45 L49.75 130.62 L49.8 129.91 L49.85 129.48 L49.9 129.45 L49.95 129.84 L50 130.57 L50.05 131.49 L50.1 132.4 L50.15 133.01 L50.2 133.16 L50.25 132.78 L50.3 131.96 L50.35 130.89 L50.4 129.88 L50.45 129.14 L50.5 128.89 L50.55 129.19 L50.6 130 L50.65 131.1 L50.7 132.27 L50.75 133.16 L50.8 133.53 L50.85 133.28 L50.9 132.48 L50.95 131.34 L51 130.2 L51.05 129.31 L51.1 128.9 L51.15 129.05 L51.2 129.71 L51.25 130.68 L51.3 131.74 L51.35 132.62 L51.4 133.08 L51.45 133.02 L51.5 132.5 L51.55 131.66 L51.6 130.76 L51.65 130.03 L51.7 129.62 L51.75 129.59 L51.8 129.93 L51.85 130.54 L51.9 131.25 L51.95 131.94 L52 132.38 L52.05 132.49 L52.1 132.26 L52.15 131.75 L52.2 131.1 L52.25 130.53 L52.3 130.11 L52.35 129.94 L52.4 130.07 L52.45 130.44 L52.5 130.98 L52.55 131.6 L52.6 132.11 L52.65 132.38 L52.7 132.33 L52.75 131.96 L52.8 131.37 L52.85 130.72 L52.9 130.17 L52.95 129.83 L53 129.81 L53.05 130.11 L53.1 130.68 L53.15 131.41 L53.2 132.12 L53.25 132.59 L53.3 132.7 L53.35 132.4 L53.4 131.75 L53.45 130.94 L53.5 130.19 L53.55 129.66 L53.6 129.49 L53.65 129.73 L53.7 130.32 L53.75 131.1 L53.8 131.93 L53.85 132.53 L53.9 132.76 L53.95 132.57 L54 132.02 L54.05 131.26 L54.1 130.52 L54.15 129.97 L54.2 129.73 L54.25 129.83 L54.3 130.24 L54.35 130.84 L54.4 131.49 L54.45 132.02 L54.5 132.28 L54.55 132.24 L54.6 131.93 L54.65 131.43 L54.7 130.9 L54.75 130.47 L54.8 130.23 L54.85 130.21 L54.9 130.41 L54.95 130.76 L55 131.19 L55.05 131.6 L55.1 131.87 L55.15 131.95 L55.2 131.81 L55.25 131.5 L55.3 131.1 L55.35 130.73 L55.4 130.45 L55.45 130.33 L55.5 130.41 L55.55 130.66 L55.6 131.02 L55.65 131.43 L55.7 131.77 L55.75 131.95 L55.8 131.92 L55.85 131.68 L55.9 131.28 L55.95 130.83 L56 130.44 L56.05 130.19 L56.1 130.17 L56.15 130.38 L56.2 130.8 L56.25 131.31 L56.3 131.79 L56.35 132.11 L56.4 132.18 L56.45 131.97 L56.5 131.54 L56.55 130.99 L56.6 130.46 L56.65 130.09 L56.7 129.98 L56.75 130.15 L56.8 130.56 L56.85 131.1 L56.9 131.63 L56.95 132.02 L57 132.17 L57.05 132.04 L57.1 131.69 L57.15 131.2 L57.2 130.71 L57.25 130.35 L57.3 130.18 L57.35 130.25 L57.4 130.53 L57.45 130.93 L57.5 131.35 L57.55 131.7 L57.6 131.88 L57.65 131.86 L57.7 131.65 L57.75 131.32 L57.8 130.96 L57.85 130.65 L57.9 130.47 L57.95 130.44 L58 130.58 L58.05 130.84 L58.1 131.17 L58.15 131.49 L58.2 131.71 L58.25 131.78 L58.3 131.68 L58.35 131.43 L58.4 131.1 L58.45 130.77 L58.5 130.52 L58.55 130.4 L58.6 130.46 L58.65 130.68 L58.7 131.02 L58.75 131.41 L58.8 131.74 L58.85 131.92 L58.9 131.9 L58.95 131.67 L59 131.28 L59.05 130.83 L59.1 130.43 L59.15 130.19 L59.2 130.17 L59.25 130.39 L59.3 130.8 L59.35 131.3 L59.4 131.76 L59.45 132.06 L59.5 132.11 L59.55 131.91 L59.6 131.5 L59.65 131 L59.7 130.52 L59.75 130.19 L59.8 130.1 L59.85 130.26 L59.9 130.63 L59.95 131.1 L60 131.56 L60.05 131.88 L60.1 132 L60.15 131.89 L60.2 131.59 L60.25 131.18 L60.3 130.78 L60.35 130.49 L60.4 130.36 L60.45 130.41 L60.5 130.64 L60.55 130.96 L60.6 131.31 L60.65 131.59 L60.7 131.74 L60.75 131.73 L60.8 131.57 L60.85 131.29 L60.9 130.98 L60.95 130.71 L61 130.55 L61.05 130.52 L61.1 130.64 L61.15 130.87 L61.2 131.16 L61.25 131.46 L61.3 131.67 L61.35 131.74 L61.4 131.65 L61.45 131.42 L61.5 131.1 L61.55 130.78 L61.6 130.52 L61.65 130.4 L61.7 130.45 L61.75 130.68 L61.8 131.02 L61.85 131.41 L61.9 131.74 L61.95 131.92 L62 131.9 L62.05 131.66 L62.1 131.28 L62.15 130.83 L62.2 130.45 L62.25 130.22 L62.3 130.21 L62.35 130.43 L62.4 130.82 L62.45 131.29 L62.5 131.71 L62.55 131.98 L62.6 132.02 L62.65 131.83 L62.7 131.46 L62.75 131.01 L62.8 130.59 L62.85 130.32 L62.9 130.25 L62.95 130.39 L63 130.7 L63.05 131.1 L63.1 131.48 L63.15 131.75 L63.2 131.84 L63.25 131.75 L63.3 131.5 L63.35 131.17 L63.4 130.84 L63.45 130.6 L63.5 130.49 L63.55 130.54 L63.6 130.72 L63.65 130.98 L63.7 131.28 L63.75 131.52 L63.8 131.66 L63.85 131.65 L63.9 131.51 L63.95 131.27 L64 130.99 L64.05 130.75 L64.1 130.59 L64.15 130.56 L64.2 130.66 L64.25 130.88 L64.3 131.16 L64.35 131.45 L64.4 131.66 L64.45 131.73 L64.5 131.65 L64.55 131.42 L64.6 131.1 L64.65 130.77 L64.7 130.51 L64.75 130.38 L64.8 130.44 L64.85 130.67 L64.9 131.02 L64.95 131.41 L65 131.74 L65.05 131.91 L65.1 131.88 L65.15 131.65 L65.2 131.27 L65.25 130.84 L65.3 130.48 L65.35 130.27 L65.4 130.27 L65.45 130.48 L65.5 130.84 L65.55 131.27 L65.6 131.65 L65.65 131.88 L65.7 131.91 L65.75 131.74 L65.8 131.41 L65.85 131.02 L65.9 130.67 L65.95 130.44 L66 130.39 L66.05 130.51 L66.1 130.77 L66.15 131.1 L66.2 131.41 L66.25 131.64 L66.3 131.71 L66.35 131.64 L66.4 131.43 L66.45 131.16 L66.5 130.89 L66.55 130.68 L66.6 130.59 L66.65 130.62 L66.7 130.77 L66.75 131 L66.8 131.26 L66.85 131.48 L66.9 131.6 L66.95 131.6 L67 131.48 L67.05 131.26 L67.1 131 L67.15 130.76 L67.2 130.61 L67.25 130.57 L67.3 130.67 L67.35 130.88 L67.4 131.16 L67.45 131.45 L67.5 131.66 L67.55 131.74 L67.6 131.66 L67.65 131.43 L67.7 131.1 L67.75 130.76 L67.8 130.5 L67.85 130.38 L67.9 130.44 L67.95 130.67 L68 131.02 L68.05 131.4 L68.1 131.72 L68.15 131.87 L68.2 131.84 L68.25 131.61 L68.3 131.26 L68.35 130.86 L68.4 130.53 L68.45 130.35 L68.5 130.36 L68.55 130.55 L68.6 130.88 L68.65 131.25 L68.7 131.57 L68.75 131.77 L68.8 131.79 L68.85 131.64 L68.9 131.36 L68.95 131.04 L69 130.75 L69.05 130.56 L69.1 130.52 L69.15 130.62 L69.2 130.83 L69.25 131.1 L69.3 131.36 L69.35 131.54 L69.4 131.61 L69.45 131.55 L69.5 131.38 L69.55 131.15 L69.6 130.92 L69.65 130.74 L69.7 130.65 L69.75 130.67 L69.8 130.8 L69.85 131.01 L69.9 131.24 L69.95 131.45 L70 131.57 L70.05 131.58 L70.1 131.46 L70.15 131.25 L70.2 131 L70.25 130.76 L70.3 130.6 L70.35 130.56 L70.4 130.66 L70.45 130.87 L70.5 131.16 L70.55 131.45 L70.6 131.66 L70.65 131.74 L70.7 131.65 L70.75 131.42 L70.8 131.1 L70.85 130.77 L70.9 130.51 L70.95 130.4 L71 130.47 L71.05 130.69 L71.1 131.03 L71.15 131.38 L71.2 131.67 L71.25 131.81 L71.3 131.77 L71.35 131.56 L71.4 131.24 L71.45 130.89 L71.5 130.61 L71.55 130.46 L71.6 130.47 L71.65 130.64 L71.7 130.91 L71.75 131.22 L71.8 131.49 L71.85 131.65 L71.9 131.66 L71.95 131.54 L72 131.31 L72.05 131.05 L72.1 130.82 L72.15 130.67 L72.2 130.64 L72.25 130.72 L72.3 130.89 L72.35 131.1 L72.4 131.32 L72.45 131.47 L72.5 131.53 L72.55 131.49 L72.6 131.34 L72.65 131.14 L72.7 130.94 L72.75 130.78 L72.8 130.7 L72.85 130.71 L72.9 130.83 L72.95 131.01 L73 131.23 L73.05 131.43 L73.1 131.55 L73.15 131.56 L73.2 131.45 L73.25 131.25 L73.3 131 L73.35 130.77 L73.4 130.61 L73.45 130.57 L73.5 130.66 L73.55 130.88 L73.6 131.16 L73.65 131.44 L73.7 131.64 L73.75 131.71 L73.8 131.63 L73.85 131.4 L73.9 131.1 L73.95 130.79 L74 130.56 L74.05 130.46 L74.1 130.53 L74.15 130.74 L74.2 131.04 L74.25 131.35 L74.3 131.59 L74.35 131.71 L74.4 131.67 L74.45 131.49 L74.5 131.22 L74.55 130.93 L74.6 130.7 L74.65 130.58 L74.7 130.59 L74.75 130.73 L74.8 130.95 L74.85 131.2 L74.9 131.41 L74.95 131.54 L75 131.55 L75.05 131.45 L75.1 131.27 L75.15 131.06 L75.2 130.87 L75.25 130.75 L75.3 130.72 L75.35 130.78 L75.4 130.92 L75.45 131.1 L75.5 131.29 L75.55 131.42 L75.6 131.48 L75.65 131.44 L75.7 131.32 L75.75 131.14 L75.8 130.95 L75.85 130.8 L75.9 130.72 L75.95 130.73 L76 130.84 L76.05 131.02 L76.1 131.23 L76.15 131.42 L76.2 131.54 L76.25 131.55 L76.3 131.45 L76.35 131.25 L76.4 131 L76.45 130.77 L76.5 130.62 L76.55 130.58 L76.6 130.68 L76.65 130.89 L76.7 131.16 L76.75 131.42 L76.8 131.61 L76.85 131.67 L76.9 131.58 L76.95 131.38 L77 131.1 L77.05 130.82 L77.1 130.62 L77.15 130.54 L77.2 130.6 L77.25 130.79 L77.3 131.05 L77.35 131.31 L77.4 131.51 L77.45 131.61 L77.5 131.57 L77.55 131.42 L77.6 131.2 L77.65 130.96 L77.7 130.78 L77.75 130.68 L77.8 130.7 L77.85 130.81 L77.9 130.98 L77.95 131.18 L78 131.35 L78.05 131.45 L78.1 131.46 L78.15 131.38 L78.2 131.24 L78.25 131.07 L78.3 130.91 L78.35 130.81 L78.4 130.78 L78.45 130.83 L78.5 130.94 L78.55 131.1 L78.6 131.26 L78.65 131.39 L78.7 131.44 L78.75 131.41 L78.8 131.3 L78.85 131.14 L78.9 130.96 L78.95 130.81 L79 130.73 L79.05 130.74 L79.1 130.85 L79.15 131.02 L79.2 131.23 L79.25 131.41 L79.3 131.52 L79.35 131.53 L79.4 131.43 L79.45 131.24 L79.5 131.01 L79.55 130.79 L79.6 130.65 L79.65 130.62 L79.7 130.71 L79.75 130.91 L79.8 131.15 L79.85 131.38 L79.9 131.54 L79.95 131.59 L80 131.51 L80.05 131.34 L80.1 131.1 L80.15 130.87 L80.2 130.71 L80.25 130.65 L80.3 130.7 L80.35 130.85 L80.4 131.06 L80.45 131.27 L80.5 131.42 L80.55 131.49 L80.6 131.46 L80.65 131.34 L80.7 131.17 L80.75 131 L80.8 130.86 L80.85 130.79 L80.9 130.79 L80.95 130.88 L81 131.01 L81.05 131.16 L81.1 131.3 L81.15 131.38 L81.2 131.39 L81.25 131.33 L81.3 131.21 L81.35 131.07 L81.4 130.94 L81.45 130.85 L81.5 130.83 L81.55 130.87 L81.6 130.96 L81.65 131.1 L81.7 131.25 L81.75 131.36 L81.8 131.41 L81.85 131.38 L81.9 131.28 L81.95 131.13 L82 130.97 L82.05 130.83 L82.1 130.76 L82.15 130.77 L82.2 130.86 L82.25 131.02 L82.3 131.22 L82.35 131.38 L82.4 131.49 L82.45 131.49 L82.5 131.4 L82.55 131.22 L82.6 131.02 L82.65 130.83 L82.7 130.71 L82.75 130.68 L82.8 130.77 L82.85 130.94 L82.9 131.14 L82.95 131.34 L83 131.47 L83.05 131.5 L83.1 131.44 L83.15 131.29 L83.2 131.1 L83.25 130.92 L83.3 130.79 L83.35 130.75 L83.4 130.79 L83.45 130.91 L83.5 131.07 L83.55 131.23 L83.6 131.34 L83.65 131.4 L83.7 131.37 L83.75 131.29 L83.8 131.16 L83.85 131.02 L83.9 130.92 L83.95 130.86 L84 130.86 L84.05 130.93 L84.1 131.03 L84.15 131.15 L84.2 131.26 L84.25 131.33 L84.3 131.34 L84.35 131.29 L84.4 131.2 L84.45 131.08 L84.5 130.96 L84.55 130.88 L84.6 130.86 L84.65 130.89 L84.7 130.98 L84.75 131.1 L84.8 131.23 L84.85 131.34 L84.9 131.39 L84.95 131.36 L85 131.27 L85.05 131.13 L85.1 130.98 L85.15 130.85 L85.2 130.78 L85.25 130.79 L85.3 130.88 L85.35 131.03 L85.4 131.2 L85.45 131.35 L85.5 131.44 L85.55 131.44 L85.6 131.36 L85.65 131.21 L85.7 131.03 L85.75 130.87 L85.8 130.77 L85.85 130.76 L85.9 130.83 L85.95 130.97 L86 131.13 L86.05 131.29 L86.1 131.39 L86.15 131.42 L86.2 131.37 L86.25 131.25 L86.3 131.1 L86.35 130.96 L86.4 130.86 L86.45 130.83 L86.5 130.86 L86.55 130.95 L86.6 131.07 L86.65 131.2 L86.7 131.29 L86.75 131.34 L86.8 131.32 L86.85 131.25 L86.9 131.15 L86.95 131.04 L87 130.95 L87.05 130.9 L87.1 130.9 L87.15 130.95 L87.2 131.04 L87.25 131.14 L87.3 131.25 L87.35 131.31 L87.4 131.32 L87.45 131.28 L87.5 131.19 L87.55 131.08 L87.6 130.96 L87.65 130.88 L87.7 130.85 L87.75 130.88 L87.8 130.97 L87.85 131.1 L87.9 131.24 L87.95 131.35 L88 131.4 L88.05 131.37 L88.1 131.28 L88.15 131.13 L88.2 130.98 L88.25 130.85 L88.3 130.78 L88.35 130.79 L88.4 130.89 L88.45 131.03 L88.5 131.2 L88.55 131.34 L88.6 131.42 L88.65 131.42 L88.7 131.33 L88.75 131.2 L88.8 131.04 L88.85 130.9 L88.9 130.81 L88.95 130.81 L89 130.87 L89.05 130.99 L89.1 131.13 L89.15 131.25 L89.2 131.34 L89.25 131.35 L89.3 131.31 L89.35 131.22 L89.4 131.1 L89.45 130.99 L89.5 130.92 L89.55 130.9 L89.6 130.92 L89.65 130.99 L89.7 131.08 L89.75 131.18 L89.8 131.25 L89.85 131.28 L89.9 131.27 L89.95 131.22 L90 131.14 L90.05 131.05 L90.1 130.98 L90.15 130.94 L90.2 130.94 L90.25 130.98 L90.3 131.05 L90.35 131.14 L90.4 131.22 L90.45 131.27 L90.5 131.28 L90.55 131.25 L90.6 131.17 L90.65 131.08 L90.7 130.99 L90.75 130.92 L90.8 130.9 L90.85 130.93 L90.9 131 L90.95 131.1 L91 131.21 L91.05 131.29 L91.1 131.32 L91.15 131.3 L91.2 131.23 L91.25 131.12 L91.3 131.01 L91.35 130.92 L91.4 130.87 L91.45 130.89 L91.5 130.95 L91.55 131.05 L91.6 131.17 L91.65 131.26 L91.7 131.31 L91.75 131.31 L91.8 131.25 L91.85 131.16 L91.9 131.06 L91.95 130.98 L92 130.93 L92.05 130.92 L92.1 130.96 L92.15 131.03 L92.2 131.12 L92.25 131.19 L92.3 131.24 L92.35 131.25 L92.4 131.22 L92.45 131.17 L92.5 131.1 L92.55 131.04 L92.6 131 L92.65 130.98 L92.7 131 L92.75 131.04 L92.8 131.09 L92.85 131.14 L92.9 131.19 L92.95 131.21 L93 131.2 L93.05 131.17 L93.1 131.12 L93.15 131.07 L93.2 131.02 L93.25 131 L93.3 131 L93.35 131.02 L93.4 131.07 L93.45 131.12 L93.5 131.18 L93.55 131.21 L93.6 131.22 L93.65 131.2 L93.7 131.15 L93.75 131.09 L93.8 131.03 L93.85 130.99 L93.9 130.97 L93.95 130.99 L94 131.04 L94.05 131.1 L94.1 131.16 L94.15 131.21 L94.2 131.23 L94.25 131.22 L94.3 131.17 L94.35 131.11 L94.4 131.05 L94.45 131 L94.5 130.98 L94.55 130.99 L94.6 131.02 L94.65 131.08 L94.7 131.13 L94.75 131.18 L94.8 131.2 L94.85 131.2 L94.9 131.17 L94.95 131.13 L95 131.08 L95.05 131.04 L95.1 131.02 L95.15 131.02 L95.2 131.04 L95.25 131.07 L95.3 131.11 L95.35 131.14 L95.4 131.16 L95.45 131.16 L95.5 131.15 L95.55 131.13 L95.6 131.1 L95.65 131.08 L95.7 131.06 L95.75 131.05 L95.8 131.06 L95.85 131.07 L95.9 131.1 L95.95 131.12 L96 131.14 L96.05 131.14 L96.1 131.14 L96.15 131.13 L96.2 131.11 L96.25 131.09 L96.3 131.07 L96.35 131.06 L96.4 131.06 L96.45 131.07 L96.5 131.09 L96.55 131.11 L96.6 131.13 L96.65 131.14 L96.7 131.14 L96.75 131.13 L96.8 131.11 L96.85 131.1 L96.9 131.08 L96.95 131.07 L97 131.07 L97.05 131.07 L97.1 131.09 L97.15 131.1 L97.2 131.11 L97.25 131.12 L97.3 131.12 L97.35 131.12 L97.4 131.11 L97.45 131.1 L97.5 131.09 L97.55 131.09 L97.6 131.09 L97.65 131.09 L97.7 131.09 L97.75 131.1 L97.8 131.1 L97.85 131.1 L97.9 131.1 L97.95 131.1 L160.51 131.07 L160.86 131.07 L161.21 131.07 L161.56 131.07 L161.91 131.07 L162.26 131.07 L162.61 131.07 L162.96 131.07 L163.31 131.07 L163.66 131.07 L164.01 131.07 L164.36 131.07 L164.71 131.07 L165.06 131.12 L165.42 131.48 L165.77 131.91 L166.12 132.12 L166.47 130.84 L166.82 128.01 L167.17 125.18 L167.52 123.88 L167.87 125.31 L168.22 128.74 L168.57 132.83 L168.92 136.27 L169.27 137.72 L169.62 137.24 L169.97 135.98 L170.32 134.22 L170.67 132.24 L171.02 130.34 L171.37 128.78 L171.72 127.87 L172.07 127.8 L172.42 128.24 L172.77 129.01 L173.12 129.99 L173.47 131.07 L173.82 132.11 L174.17 133 L174.52 133.63 L174.87 133.87 L175.22 133.78 L175.57 133.53 L175.92 133.16 L176.27 132.71 L176.62 132.23 L176.97 131.75 L177.33 131.31 L177.68 130.95 L178.03 130.72 L178.38 130.56 L178.73 130.41 L179.08 130.26 L179.43 130.13 L179.78 130 L180.13 129.88 L180.48 129.78 L180.83 129.69 L181.18 129.61 L181.53 129.55 L181.88 129.51 L182.23 129.49 L182.58 129.51 L182.93 129.65 L183.28 129.9 L183.63 130.22 L183.98 130.6 L184.33 130.99 L184.68 131.37 L185.03 131.7 L185.38 131.95 L185.73 132.1 L186.08 132.11 L186.43 132.05 L186.78 131.94 L187.13 131.78 L187.48 131.6 L187.83 131.4 L188.18 131.19 L188.53 130.98 L188.88 130.79 L189.24 130.62 L189.59 130.49 L189.94 130.4 L190.29 130.36 L190.64 130.4 L190.99 130.51 L191.34 130.66 L191.69 130.85 L192.04 131.06 L192.39 131.27 L192.74 131.46 L193.09 131.62 L193.44 131.73 L193.79 131.77 L194.14 131.74 L194.49 131.66 L194.84 131.54 L195.19 131.4 L195.54 131.24 L195.89 131.09 L196.24 130.95 L196.59 130.83 L196.94 130.75 L197.29 130.72 L197.64 130.72 L197.99 130.75 L198.34 130.79 L198.69 130.84 L199.04 130.9 L199.39 130.96 L199.74 131.03 L200.09 131.1 L200.44 131.17 L200.79 131.23 L201.15 131.29 L201.5 131.34 L201.85 131.38 L202.2 131.41 L202.55 131.42 L202.9 131.41 L203.25 131.38 L203.6 131.34 L203.95 131.29 L204.3 131.24 L204.65 131.17 L205 131.1 L205.35 131.03 L205.7 130.96 L206.05 130.9 L206.4 130.84 L206.75 130.79 L207.1 130.75 L207.45 130.72 L207.8 130.72 L208.15 130.72 L208.5 130.75 L208.85 130.79 L209.2 130.84 L209.55 130.9 L209.9 130.96 L210.25 131.03 L210.6 131.1 L210.95 131.17 L211.3 131.23 L211.65 131.29 L212 131.34 L212.35 131.38 L212.7 131.41 L213.06 131.42 L213.41 131.39 L213.76 131.31 L214.11 131.19 L214.46 131.05 L214.81 130.9 L215.16 130.74 L215.51 130.6 L215.86 130.48 L216.21 130.4 L216.56 130.36 L216.91 130.38 L217.26 130.41 L217.61 130.47 L217.96 130.55 L218.31 130.63 L218.66 130.73 L219.01 130.83 L219.36 130.94 L219.71 131.04 L220.06 131.14 L220.41 131.23 L220.76 131.3 L221.11 131.36 L221.46 131.4 L221.81 131.42 L222.16 131.41 L222.51 131.41 L222.86 131.4 L223.21 131.39 L223.56 131.38 L223.91 131.37 L224.26 131.35 L224.61 131.33 L224.97 131.31 L225.32 131.29 L225.67 131.27 L226.02 131.25 L226.37 131.22 L226.72 131.2 L227.07 131.18 L227.42 131.15 L227.77 131.13 L228.12 131.11 L228.47 131.09 L228.82 131.07 L229.17 131.04 L229.52 131.02 L229.87 130.99 L230.22 130.96 L230.57 130.93 L230.92 130.9 L231.27 130.87 L231.62 130.84 L231.97 130.81 L232.32 130.78 L232.67 130.76 L233.02 130.74 L233.37 130.73 L233.72 130.72 L234.07 130.72 L234.42 130.73 L234.77 130.76 L235.12 130.8 L235.47 130.87 L235.82 130.94 L236.17 131.02 L236.53 131.11 L236.88 131.19 L237.23 131.28 L237.58 131.36 L237.93 131.43 L238.28 131.5 L238.63 131.55 L238.98 131.58 L239.33 131.59 L239.68 131.58 L240.03 131.55 L240.38 131.51 L240.73 131.45 L241.08 131.39 L241.43 131.31 L241.78 131.23 L242.13 131.14 L242.48 131.05 L242.83 130.96 L243.18 130.87 L243.53 130.79 L243.88 130.72 L244.23 130.65 L244.58 130.6 L244.93 130.56 L245.28 130.54 L245.63 130.54 L245.98 130.55 L246.33 130.57 L246.68 130.59 L247.03 130.62 L247.38 130.66 L247.73 130.71 L248.08 130.76 L248.44 130.81 L248.79 130.87 L249.14 130.93 L249.49 131 L249.84 131.07 L250.19 131.13 L250.54 131.2 L250.89 131.27 L251.24 131.34 L251.59 131.41 L251.94 131.5 L252.29 131.61 L252.64 131.73 L252.99 131.85 L253.34 131.97 L253.69 132.06 L254.04 132.11 L254.39 132.09 L254.74 131.89 L255.09 131.52 L255.44 131.04 L255.79 130.49 L256.14 129.93 L256.49 129.41 L256.84 128.99 L257.19 128.7 L257.54 128.61 L257.89 128.7 L258.24 128.92 L258.59 129.24 L258.94 129.64 L259.29 130.07 L259.64 130.53 L259.99 130.97 L260.35 131.38 L260.7 131.73 L261.05 131.98 L261.4 132.1 L261.75 132.09 L262.1 131.97 L262.45 131.77 L262.8 131.54 L263.15 131.3 L263.5 131.09 L263.85 130.94 L264.2 130.89 L264.55 130.94 L264.9 131.07 L265.25 131.25 L265.6 131.47 L265.95 131.7 L266.3 131.94 L266.65 132.15 L267 132.32 L267.35 132.43 L267.7 132.47 L268.05 132.42 L268.4 132.32 L268.75 132.16 L269.1 131.96 L269.45 131.73 L269.8 131.47 L270.15 131.21 L270.5 130.95 L270.85 130.7 L271.2 130.48 L271.55 130.29 L271.9 130.14 L272.26 130.04 L272.61 130.01 L272.96 130.05 L273.31 130.13 L273.66 130.25 L274.01 130.4 L274.36 130.58 L274.71 130.76 L275.06 130.96 L275.41 131.15 L275.76 131.33 L276.11 131.49 L276.46 131.62 L276.81 131.71 L277.16 131.76 L277.51 131.76 L277.86 131.69 L278.21 131.59 L278.56 131.46 L278.91 131.3 L279.26 131.15 L279.61 131 L279.96 130.87 L280.31 130.77 L280.66 130.72 L281.01 130.72 L281.36 130.78 L281.71 130.87 L282.06 131 L282.41 131.14 L282.76 131.31 L283.11 131.47 L283.46 131.64 L283.81 131.79 L284.17 131.93 L284.52 132.03 L284.87 132.1 L285.22 132.12 L285.57 132.07 L285.92 131.96 L286.27 131.79 L286.62 131.59 L286.97 131.35 L287.32 131.1 L287.67 130.85 L288.02 130.61 L288.37 130.4 L288.72 130.22 L289.07 130.09 L289.42 130.02 L289.77 130.02 L290.12 130.04 L290.47 130.09 L290.82 130.16 L291.17 130.24 L291.52 130.34 L291.87 130.45 L292.22 130.57 L292.57 130.7 L292.92 130.83 L293.27 130.97 L293.62 131.11 L293.97 131.25 L294.32 131.39 L294.67 131.52 L295.02 131.64 L295.37 131.76 L295.72 131.86 L296.08 131.95 L296.43 132.02 L296.78 132.07 L297.13 132.11 L297.48 132.12 L297.83 132.11 L298.18 132.09 L298.53 132.07 L298.88 132.03 L299.23 131.99 L299.58 131.94 L299.93 131.88 L300.28 131.82 L300.63 131.76 L300.98 131.69 L301.33 131.63 L301.68 131.56 L302.03 131.5 L302.38 131.43 L302.73 131.37 L303.08 131.31 L303.43 131.26 L303.78 131.21 L304.13 131.16 L304.48 131.11 L304.83 131.05 L305.18 131 L305.53 130.94 L305.88 130.88 L306.23 130.82 L306.58 130.76 L306.93 130.71 L307.28 130.65 L307.63 130.6 L307.99 130.56 L308.34 130.51 L308.69 130.47 L309.04 130.44 L309.39 130.41 L309.74 130.39 L310.09 130.37 L310.44 130.37 L310.79 130.37 L311.14 130.39 L311.49 130.42 L311.84 130.47 L312.19 130.53 L312.54 130.6 L312.89 130.68 L313.24 130.76 L313.59 130.85 L313.94 130.94 L314.29 131.03 L314.64 131.12 L314.99 131.21 L315.34 131.29 L315.69 131.37 L316.04 131.44 L316.39 131.5 L316.74 131.54 L317.09 131.57 L317.44 131.59 L317.79 131.59 L318.14 131.58 L318.49 131.56 L318.84 131.53 L319.19 131.5 L319.54 131.46 L319.9 131.41 L320.25 131.36 L320.6 131.31 L320.95 131.25 L321.3 131.19 L321.65 131.13 L322 131.08 L322.35 131.02 L322.7 130.96 L323.05 130.91 L323.4 130.87 L323.75 130.82 L324.1 130.79 L324.45 130.76 L324.8 130.73 L325.15 130.72 L325.5 130.9" fill="none" stroke="#008000" stroke-width="1.35" stroke-linejoin="round" />
<path d="M18.85 84.3 L18.85 70 L19.35 71.5 L19.35 92.4 L19.1 98.4 L18.9 94.4 L18.9 72 L19.7 74 L19.7 84.4 L19.4 84.3 L19.1 91.49 L19.15 94.94 L19.2 95.78 L19.25 93.67 L19.3 89.05 L19.35 83.07 L19.4 77.27 L19.45 73.19 L19.5 71.92 L19.55 73.83 L19.6 78.37 L19.65 84.3 L19.7 90.06 L19.75 94.18 L19.8 95.66 L19.85 94.24 L19.9 90.44 L19.95 85.35 L20 80.37 L20.05 76.73 L20.1 75.24 L20.15 76.08 L20.2 78.85 L20.25 82.7 L20.3 86.63 L20.35 89.7 L20.4 91.19 L20.45 90.89 L20.5 89.03 L20.55 86.17 L20.6 83.15 L20.65 80.74 L20.7 79.35 L20.75 79.25 L20.8 80.37 L20.85 82.38 L20.9 84.82 L20.95 87.21 L21 88.84 L21.05 89.32 L21.1 88.55 L21.15 86.73 L21.2 84.3 L21.25 82.07 L21.3 80.39 L21.35 79.7 L21.4 80.15 L21.45 81.64 L21.5 83.83 L21.55 86.32 L21.6 88.41 L21.65 89.53 L21.7 89.36 L21.75 87.9 L21.8 85.44 L21.85 82.65 L21.9 80.16 L21.95 78.56 L22 78.33 L22.05 79.65 L22.1 82.3 L22.15 85.74 L22.2 89.11 L22.25 91.45 L22.3 92.09 L22.35 90.72 L22.4 87.6 L22.45 83.43 L22.5 79.27 L22.55 76.2 L22.6 75.09 L22.65 76.33 L22.7 79.67 L22.75 84.3 L22.8 88.96 L22.85 92.48 L22.9 93.94 L22.95 92.96 L23 89.78 L23.05 85.26 L23.1 80.53 L23.15 76.86 L23.2 75.17 L23.25 75.82 L23.3 78.55 L23.35 82.57 L23.4 86.77 L23.45 90.08 L23.5 91.75 L23.55 91.47 L23.6 89.46 L23.65 86.35 L23.7 82.94 L23.75 80.07 L23.8 78.45 L23.85 78.37 L23.9 79.74 L23.95 82.11 L24 84.82 L24.05 87.1 L24.1 88.55 L24.15 88.87 L24.2 88.07 L24.25 86.4 L24.3 84.3 L24.35 82.15 L24.4 80.6 L24.45 80 L24.5 80.47 L24.55 81.88 L24.6 83.87 L24.65 85.82 L24.7 87.32 L24.75 88.05 L24.8 87.83 L24.85 86.74 L24.9 85.05 L24.95 83.07 L25 81.3 L25.05 80.27 L25.1 80.23 L25.15 81.21 L25.2 83 L25.25 85.09 L25.3 86.91 L25.35 88.14 L25.4 88.44 L25.45 87.7 L25.5 86.04 L25.55 83.78 L25.6 81.24 L25.65 79.35 L25.7 78.62 L25.75 79.33 L25.8 81.38 L25.85 84.3 L25.9 86.95 L25.95 89.03 L26 89.96 L26.05 89.47 L26.1 87.63 L26.15 84.9 L26.2 81.53 L26.25 78.71 L26.3 77.28 L26.35 77.63 L26.4 79.68 L26.45 82.88 L26.5 86.05 L26.55 88.47 L26.6 89.77 L26.65 89.67 L26.7 88.23 L26.75 85.88 L26.8 83.06 L26.85 80.42 L26.9 78.89 L26.95 78.8 L27 80.06 L27.05 82.27 L27.1 84.72 L27.15 86.56 L27.2 87.7 L27.25 87.92 L27.3 87.25 L27.35 85.92 L27.4 84.3 L27.45 82.51 L27.5 81.28 L27.55 80.87 L27.6 81.32 L27.65 82.46 L27.7 83.98 L27.75 85.3 L27.8 86.26 L27.85 86.71 L27.9 86.55 L27.95 85.84 L28 84.77 L28.05 83.46 L28.1 82.28 L28.15 81.63 L28.2 81.64 L28.25 82.32 L28.3 83.49 L28.35 84.75 L28.4 85.75 L28.45 86.38 L28.5 86.5 L28.55 86.07 L28.6 85.19 L28.65 84.02 L28.7 82.68 L28.75 81.71 L28.8 81.35 L28.85 81.74 L28.9 82.8 L28.95 84.3 L29 85.6 L29.05 86.64 L29.1 87.14 L29.15 86.92 L29.2 86.01 L29.25 84.61 L29.3 82.78 L29.35 81.18 L29.4 80.32 L29.45 80.45 L29.5 81.58 L29.55 83.45 L29.6 85.35 L29.65 86.85 L29.7 87.72 L29.75 87.73 L29.8 86.87 L29.85 85.36 L29.9 83.43 L29.95 81.52 L30 80.33 L30.05 80.17 L30.1 81.05 L30.15 82.71 L30.2 84.63 L30.25 86.1 L30.3 87.05 L30.35 87.28 L30.4 86.75 L30.45 85.66 L30.5 84.3 L30.55 82.76 L30.6 81.71 L30.65 81.37 L30.7 81.76 L30.75 82.75 L30.8 84.04 L30.85 85.12 L30.9 85.88 L30.95 86.2 L31 86.05 L31.05 85.48 L31.1 84.65 L31.15 83.68 L31.2 82.82 L31.25 82.36 L31.3 82.39 L31.35 82.89 L31.4 83.72 L31.45 84.62 L31.5 85.33 L31.55 85.77 L31.6 85.85 L31.65 85.53 L31.7 84.91 L31.75 84.11 L31.8 83.24 L31.85 82.62 L31.9 82.43 L31.95 82.7 L32 83.38 L32.05 84.3 L32.1 85.09 L32.15 85.72 L32.2 86 L32.25 85.87 L32.3 85.33 L32.35 84.49 L32.4 83.4 L32.45 82.45 L32.5 81.91 L32.55 81.96 L32.6 82.62 L32.65 83.76 L32.7 84.99 L32.75 86.02 L32.8 86.66 L32.85 86.72 L32.9 86.16 L32.95 85.08 L33 83.67 L33.05 82.22 L33.1 81.27 L33.15 81.07 L33.2 81.7 L33.25 83 L33.3 84.58 L33.35 85.89 L33.4 86.78 L33.45 87.02 L33.5 86.58 L33.55 85.58 L33.6 84.3 L33.65 82.85 L33.7 81.83 L33.75 81.47 L33.8 81.83 L33.85 82.78 L33.9 84.04 L33.95 85.12 L34 85.88 L34.05 86.2 L34.1 86.03 L34.15 85.45 L34.2 84.64 L34.25 83.72 L34.3 82.95 L34.35 82.57 L34.4 82.63 L34.45 83.09 L34.5 83.82 L34.55 84.56 L34.6 85.13 L34.65 85.46 L34.7 85.5 L34.75 85.24 L34.8 84.76 L34.85 84.16 L34.9 83.51 L34.95 83.07 L35 82.95 L35.05 83.16 L35.1 83.65 L35.15 84.3 L35.2 84.84 L35.25 85.23 L35.3 85.4 L35.35 85.29 L35.4 84.93 L35.45 84.41 L35.5 83.77 L35.55 83.22 L35.6 82.93 L35.65 82.97 L35.7 83.36 L35.75 84 L35.8 84.68 L35.85 85.24 L35.9 85.59 L35.95 85.63 L36 85.32 L36.05 84.74 L36.1 83.93 L36.15 83.08 L36.2 82.5 L36.25 82.36 L36.3 82.71 L36.35 83.49 L36.4 84.47 L36.45 85.3 L36.5 85.89 L36.55 86.09 L36.6 85.83 L36.65 85.18 L36.7 84.3 L36.75 83.23 L36.8 82.43 L36.85 82.12 L36.9 82.36 L36.95 83.08 L37 84.09 L37.05 84.96 L37.1 85.6 L37.15 85.89 L37.2 85.76 L37.25 85.29 L37.3 84.6 L37.35 83.78 L37.4 83.09 L37.45 82.74 L37.5 82.8 L37.55 83.22 L37.6 83.87 L37.65 84.52 L37.7 85 L37.75 85.26 L37.8 85.28 L37.85 85.05 L37.9 84.66 L37.95 84.19 L38 83.69 L38.05 83.37 L38.1 83.29 L38.15 83.46 L38.2 83.83 L38.25 84.3 L38.3 84.67 L38.35 84.94 L38.4 85.05 L38.45 84.97 L38.5 84.72 L38.55 84.37 L38.6 83.94 L38.65 83.59 L38.7 83.41 L38.75 83.46 L38.8 83.72 L38.85 84.12 L38.9 84.52 L38.95 84.83 L39 85.02 L39.05 85.03 L39.1 84.86 L39.15 84.54 L39.2 84.1 L39.25 83.63 L39.3 83.31 L39.35 83.22 L39.4 83.41 L39.45 83.84 L39.5 84.4 L39.55 84.86 L39.6 85.21 L39.65 85.34 L39.7 85.21 L39.75 84.83 L39.8 84.3 L39.85 83.61 L39.9 83.07 L39.95 82.83 L40 82.96 L40.05 83.44 L40.1 84.15 L40.15 84.78 L40.2 85.26 L40.25 85.49 L40.3 85.42 L40.35 85.08 L40.4 84.54 L40.45 83.87 L40.5 83.26 L40.55 82.94 L40.6 82.97 L40.65 83.33 L40.7 83.91 L40.75 84.51 L40.8 84.95 L40.85 85.21 L40.9 85.23 L40.95 85.01 L41 84.64 L41.05 84.2 L41.1 83.74 L41.15 83.45 L41.2 83.39 L41.25 83.56 L41.3 83.89 L41.35 84.3 L41.4 84.62 L41.45 84.85 L41.5 84.93 L41.55 84.85 L41.6 84.65 L41.65 84.36 L41.7 84.03 L41.75 83.76 L41.8 83.62 L41.85 83.66 L41.9 83.86 L41.95 84.16 L42 84.47 L42.05 84.72 L42.1 84.86 L42.15 84.86 L42.2 84.72 L42.25 84.47 L42.3 84.16 L42.35 83.86 L42.4 83.66 L42.45 83.61 L42.5 83.74 L42.55 84.02 L42.6 84.37 L42.65 84.68 L42.7 84.92 L42.75 85.01 L42.8 84.92 L42.85 84.67 L42.9 84.3 L42.95 83.86 L43 83.5 L43.05 83.33 L43.1 83.4 L43.15 83.71 L43.2 84.19 L43.25 84.68 L43.3 85.09 L43.35 85.31 L43.4 85.28 L43.45 84.99 L43.5 84.52 L43.55 83.94 L43.6 83.43 L43.65 83.14 L43.7 83.14 L43.75 83.43 L43.8 83.94 L43.85 84.52 L43.9 85 L43.95 85.3 L44 85.33 L44.05 85.11 L44.1 84.7 L44.15 84.19 L44.2 83.71 L44.25 83.4 L44.3 83.33 L44.35 83.5 L44.4 83.86 L44.45 84.3 L44.5 84.68 L44.55 84.94 L44.6 85.03 L44.65 84.93 L44.7 84.69 L44.75 84.37 L44.8 84.03 L44.85 83.77 L44.9 83.66 L44.95 83.71 L45 83.9 L45.05 84.18 L45.1 84.47 L45.15 84.7 L45.2 84.83 L45.25 84.83 L45.3 84.69 L45.35 84.46 L45.4 84.18 L45.45 83.92 L45.5 83.76 L45.55 83.73 L45.6 83.84 L45.65 84.07 L45.7 84.36 L45.75 84.61 L45.8 84.8 L45.85 84.86 L45.9 84.78 L45.95 84.58 L46 84.3 L46.05 83.98 L46.1 83.73 L46.15 83.61 L46.2 83.66 L46.25 83.88 L46.3 84.22 L46.35 84.59 L46.4 84.91 L46.45 85.09 L46.5 85.07 L46.55 84.85 L46.6 84.48 L46.65 84.01 L46.7 83.59 L46.75 83.32 L46.8 83.3 L46.85 83.54 L46.9 83.98 L46.95 84.51 L47 84.98 L47.05 85.28 L47.1 85.34 L47.15 85.14 L47.2 84.72 L47.25 84.19 L47.3 83.67 L47.35 83.32 L47.4 83.22 L47.45 83.4 L47.5 83.79 L47.55 84.3 L47.6 84.76 L47.65 85.08 L47.7 85.2 L47.75 85.08 L47.8 84.78 L47.85 84.38 L47.9 83.97 L47.95 83.67 L48 83.54 L48.05 83.6 L48.1 83.83 L48.15 84.16 L48.2 84.49 L48.25 84.75 L48.3 84.88 L48.35 84.87 L48.4 84.71 L48.45 84.47 L48.5 84.18 L48.55 83.93 L48.6 83.78 L48.65 83.75 L48.7 83.87 L48.75 84.08 L48.8 84.35 L48.85 84.6 L48.9 84.77 L48.95 84.82 L49 84.74 L49.05 84.55 L49.1 84.3 L49.15 84.04 L49.2 83.83 L49.25 83.75 L49.3 83.8 L49.35 83.97 L49.4 84.24 L49.45 84.53 L49.5 84.76 L49.55 84.9 L49.6 84.88 L49.65 84.72 L49.7 84.43 L49.75 84.09 L49.8 83.77 L49.85 83.56 L49.9 83.53 L49.95 83.71 L50 84.05 L50.05 84.47 L50.1 84.87 L50.15 85.14 L50.2 85.21 L50.25 85.04 L50.3 84.68 L50.35 84.2 L50.4 83.71 L50.45 83.37 L50.5 83.25 L50.55 83.41 L50.6 83.79 L50.65 84.3 L50.7 84.8 L50.75 85.16 L50.8 85.31 L50.85 85.19 L50.9 84.86 L50.95 84.4 L51 83.92 L51.05 83.55 L51.1 83.38 L51.15 83.46 L51.2 83.73 L51.25 84.13 L51.3 84.54 L51.35 84.86 L51.4 85.02 L51.45 84.99 L51.5 84.8 L51.55 84.5 L51.6 84.17 L51.65 83.88 L51.7 83.72 L51.75 83.71 L51.8 83.84 L51.85 84.08 L51.9 84.35 L51.95 84.6 L52 84.77 L52.05 84.82 L52.1 84.74 L52.15 84.55 L52.2 84.3 L52.25 84.05 L52.3 83.86 L52.35 83.79 L52.4 83.84 L52.45 84.01 L52.5 84.25 L52.55 84.5 L52.6 84.7 L52.65 84.8 L52.7 84.78 L52.75 84.64 L52.8 84.41 L52.85 84.14 L52.9 83.89 L52.95 83.74 L53 83.73 L53.05 83.86 L53.1 84.11 L53.15 84.43 L53.2 84.73 L53.25 84.94 L53.3 85 L53.35 84.88 L53.4 84.6 L53.45 84.22 L53.5 83.83 L53.55 83.54 L53.6 83.43 L53.65 83.54 L53.7 83.86 L53.75 84.3 L53.8 84.76 L53.85 85.11 L53.9 85.27 L53.95 85.18 L54 84.86 L54.05 84.4 L54.1 83.9 L54.15 83.51 L54.2 83.32 L54.25 83.37 L54.3 83.66 L54.35 84.11 L54.4 84.58 L54.45 84.97 L54.5 85.17 L54.55 85.15 L54.6 84.92 L54.65 84.55 L54.7 84.14 L54.75 83.79 L54.8 83.59 L54.85 83.58 L54.9 83.74 L54.95 84.03 L55 84.37 L55.05 84.66 L55.1 84.84 L55.15 84.89 L55.2 84.78 L55.25 84.57 L55.3 84.3 L55.35 84.04 L55.4 83.86 L55.45 83.79 L55.5 83.85 L55.55 84.02 L55.6 84.25 L55.65 84.49 L55.7 84.69 L55.75 84.78 L55.8 84.76 L55.85 84.62 L55.9 84.4 L55.95 84.15 L56 83.95 L56.05 83.83 L56.1 83.82 L56.15 83.94 L56.2 84.15 L56.25 84.4 L56.3 84.64 L56.35 84.79 L56.4 84.83 L56.45 84.74 L56.5 84.52 L56.55 84.24 L56.6 83.95 L56.65 83.74 L56.7 83.65 L56.75 83.73 L56.8 83.96 L56.85 84.3 L56.9 84.66 L56.95 84.95 L57 85.08 L57.05 85.02 L57.1 84.77 L57.15 84.39 L57.2 83.96 L57.25 83.6 L57.3 83.42 L57.35 83.45 L57.4 83.7 L57.45 84.11 L57.5 84.58 L57.55 84.97 L57.6 85.19 L57.65 85.19 L57.7 84.96 L57.75 84.57 L57.8 84.12 L57.85 83.73 L57.9 83.5 L57.95 83.48 L58 83.66 L58.05 83.99 L58.1 84.38 L58.15 84.72 L58.2 84.94 L58.25 84.99 L58.3 84.87 L58.35 84.61 L58.4 84.3 L58.45 84.01 L58.5 83.81 L58.55 83.75 L58.6 83.82 L58.65 84 L58.7 84.25 L58.75 84.49 L58.8 84.68 L58.85 84.76 L58.9 84.73 L58.95 84.6 L59 84.39 L59.05 84.17 L59.1 83.98 L59.15 83.88 L59.2 83.88 L59.25 83.98 L59.3 84.17 L59.35 84.39 L59.4 84.58 L59.45 84.71 L59.5 84.73 L59.55 84.65 L59.6 84.47 L59.65 84.25 L59.7 84.04 L59.75 83.89 L59.8 83.83 L59.85 83.9 L59.9 84.06 L59.95 84.3 L60 84.55 L60.05 84.75 L60.1 84.85 L60.15 84.81 L60.2 84.64 L60.25 84.36 L60.3 84.05 L60.35 83.78 L60.4 83.63 L60.45 83.65 L60.5 83.84 L60.55 84.15 L60.6 84.52 L60.65 84.86 L60.7 85.06 L60.75 85.07 L60.8 84.88 L60.85 84.54 L60.9 84.14 L60.95 83.76 L61 83.53 L61.05 83.49 L61.1 83.65 L61.15 83.98 L61.2 84.38 L61.25 84.75 L61.3 85 L61.35 85.06 L61.4 84.93 L61.45 84.65 L61.5 84.3 L61.55 83.97 L61.6 83.74 L61.65 83.66 L61.7 83.74 L61.75 83.96 L61.8 84.24 L61.85 84.52 L61.9 84.72 L61.95 84.81 L62 84.77 L62.05 84.61 L62.1 84.39 L62.15 84.17 L62.2 83.98 L62.25 83.89 L62.3 83.89 L62.35 84 L62.4 84.18 L62.45 84.38 L62.5 84.56 L62.55 84.67 L62.6 84.69 L62.65 84.61 L62.7 84.45 L62.75 84.26 L62.8 84.08 L62.85 83.95 L62.9 83.91 L62.95 83.97 L63 84.11 L63.05 84.3 L63.1 84.49 L63.15 84.64 L63.2 84.71 L63.25 84.67 L63.3 84.54 L63.35 84.34 L63.4 84.12 L63.45 83.94 L63.5 83.83 L63.55 83.84 L63.6 83.97 L63.65 84.19 L63.7 84.46 L63.75 84.71 L63.8 84.86 L63.85 84.88 L63.9 84.75 L63.95 84.49 L64 84.17 L64.05 83.87 L64.1 83.66 L64.15 83.61 L64.2 83.74 L64.25 84.02 L64.3 84.37 L64.35 84.72 L64.4 84.96 L64.45 85.03 L64.5 84.92 L64.55 84.65 L64.6 84.3 L64.65 83.95 L64.7 83.7 L64.75 83.6 L64.8 83.69 L64.85 83.92 L64.9 84.23 L64.95 84.55 L65 84.79 L65.05 84.89 L65.1 84.84 L65.15 84.66 L65.2 84.41 L65.25 84.14 L65.3 83.94 L65.35 83.83 L65.4 83.85 L65.45 83.98 L65.5 84.17 L65.55 84.38 L65.6 84.56 L65.65 84.67 L65.7 84.68 L65.75 84.6 L65.8 84.45 L65.85 84.26 L65.9 84.1 L65.95 83.98 L66 83.95 L66.05 84 L66.1 84.13 L66.15 84.3 L66.2 84.47 L66.25 84.59 L66.3 84.65 L66.35 84.61 L66.4 84.5 L66.45 84.34 L66.5 84.16 L66.55 84.02 L66.6 83.95 L66.65 83.96 L66.7 84.06 L66.75 84.22 L66.8 84.42 L66.85 84.59 L66.9 84.7 L66.95 84.71 L67 84.62 L67.05 84.43 L67.1 84.21 L67.15 83.99 L67.2 83.83 L67.25 83.79 L67.3 83.88 L67.35 84.08 L67.4 84.36 L67.45 84.63 L67.5 84.83 L67.55 84.91 L67.6 84.83 L67.65 84.61 L67.7 84.3 L67.75 83.99 L67.8 83.75 L67.85 83.65 L67.9 83.71 L67.95 83.92 L68 84.23 L68.05 84.56 L68.1 84.81 L68.15 84.93 L68.2 84.89 L68.25 84.7 L68.3 84.42 L68.35 84.12 L68.4 83.89 L68.45 83.76 L68.5 83.78 L68.55 83.92 L68.6 84.15 L68.65 84.4 L68.7 84.6 L68.75 84.72 L68.8 84.73 L68.85 84.63 L68.9 84.46 L68.95 84.26 L69 84.08 L69.05 83.97 L69.1 83.95 L69.15 84.01 L69.2 84.14 L69.25 84.3 L69.3 84.46 L69.35 84.57 L69.4 84.62 L69.45 84.58 L69.5 84.48 L69.55 84.33 L69.6 84.18 L69.65 84.05 L69.7 83.99 L69.75 84.01 L69.8 84.1 L69.85 84.24 L69.9 84.39 L69.95 84.53 L70 84.61 L70.05 84.61 L70.1 84.53 L70.15 84.4 L70.2 84.23 L70.25 84.08 L70.3 83.97 L70.35 83.94 L70.4 84.01 L70.45 84.15 L70.5 84.34 L70.55 84.53 L70.6 84.68 L70.65 84.74 L70.7 84.69 L70.75 84.53 L70.8 84.3 L70.85 84.06 L70.9 83.87 L70.95 83.78 L71 83.82 L71.05 83.99 L71.1 84.24 L71.15 84.52 L71.2 84.75 L71.25 84.87 L71.3 84.84 L71.35 84.68 L71.4 84.42 L71.45 84.13 L71.5 83.88 L71.55 83.75 L71.6 83.76 L71.65 83.9 L71.7 84.14 L71.75 84.41 L71.8 84.64 L71.85 84.77 L71.9 84.78 L71.95 84.67 L72 84.48 L72.05 84.26 L72.1 84.06 L72.15 83.93 L72.2 83.9 L72.25 83.98 L72.3 84.12 L72.35 84.3 L72.4 84.47 L72.45 84.58 L72.5 84.62 L72.55 84.58 L72.6 84.47 L72.65 84.33 L72.7 84.19 L72.75 84.08 L72.8 84.02 L72.85 84.04 L72.9 84.12 L72.95 84.25 L73 84.38 L73.05 84.5 L73.1 84.56 L73.15 84.56 L73.2 84.49 L73.25 84.38 L73.3 84.25 L73.35 84.13 L73.4 84.05 L73.45 84.03 L73.5 84.08 L73.55 84.19 L73.6 84.33 L73.65 84.46 L73.7 84.56 L73.75 84.6 L73.8 84.56 L73.85 84.45 L73.9 84.3 L73.95 84.14 L74 84 L74.05 83.94 L74.1 83.96 L74.15 84.08 L74.2 84.26 L74.25 84.46 L74.3 84.64 L74.35 84.73 L74.4 84.72 L74.45 84.6 L74.5 84.39 L74.55 84.16 L74.6 83.95 L74.65 83.83 L74.7 83.82 L74.75 83.94 L74.8 84.15 L74.85 84.4 L74.9 84.62 L74.95 84.76 L75 84.78 L75.05 84.68 L75.1 84.49 L75.15 84.25 L75.2 84.04 L75.25 83.9 L75.3 83.86 L75.35 83.94 L75.4 84.1 L75.45 84.3 L75.5 84.49 L75.55 84.61 L75.6 84.66 L75.65 84.61 L75.7 84.49 L75.75 84.33 L75.8 84.18 L75.85 84.07 L75.9 84.02 L75.95 84.04 L76 84.12 L76.05 84.25 L76.1 84.38 L76.15 84.48 L76.2 84.54 L76.25 84.53 L76.3 84.47 L76.35 84.37 L76.4 84.25 L76.45 84.15 L76.5 84.08 L76.55 84.07 L76.6 84.12 L76.65 84.21 L76.7 84.32 L76.75 84.43 L76.8 84.51 L76.85 84.53 L76.9 84.5 L76.95 84.41 L77 84.3 L77.05 84.18 L77.1 84.09 L77.15 84.05 L77.2 84.07 L77.25 84.15 L77.3 84.27 L77.35 84.41 L77.4 84.53 L77.45 84.6 L77.5 84.59 L77.55 84.51 L77.6 84.37 L77.65 84.2 L77.7 84.04 L77.75 83.95 L77.8 83.94 L77.85 84.02 L77.9 84.18 L77.95 84.38 L78 84.57 L78.05 84.69 L78.1 84.71 L78.15 84.63 L78.2 84.47 L78.25 84.26 L78.3 84.06 L78.35 83.92 L78.4 83.88 L78.45 83.95 L78.5 84.1 L78.55 84.3 L78.6 84.49 L78.65 84.63 L78.7 84.68 L78.75 84.63 L78.8 84.51 L78.85 84.34 L78.9 84.17 L78.95 84.04 L79 83.99 L79.05 84.02 L79.1 84.11 L79.15 84.24 L79.2 84.38 L79.25 84.49 L79.3 84.54 L79.35 84.53 L79.4 84.47 L79.45 84.37 L79.5 84.26 L79.55 84.16 L79.6 84.11 L79.65 84.1 L79.7 84.14 L79.75 84.22 L79.8 84.32 L79.85 84.41 L79.9 84.47 L79.95 84.49 L80 84.46 L80.05 84.39 L80.1 84.3 L80.15 84.21 L80.2 84.14 L80.25 84.11 L80.3 84.13 L80.35 84.19 L80.4 84.28 L80.45 84.38 L80.5 84.45 L80.55 84.5 L80.6 84.49 L80.65 84.44 L80.7 84.34 L80.75 84.23 L80.8 84.14 L80.85 84.07 L80.9 84.07 L80.95 84.12 L81 84.22 L81.05 84.35 L81.1 84.48 L81.15 84.56 L81.2 84.59 L81.25 84.53 L81.3 84.42 L81.35 84.27 L81.4 84.12 L81.45 84.01 L81.5 83.97 L81.55 84.02 L81.6 84.14 L81.65 84.3 L81.7 84.46 L81.75 84.59 L81.8 84.64 L81.85 84.6 L81.9 84.49 L81.95 84.33 L82 84.17 L82.05 84.05 L82.1 83.99 L82.15 84.02 L82.2 84.11 L82.25 84.24 L82.3 84.38 L82.35 84.5 L82.4 84.55 L82.45 84.54 L82.5 84.48 L82.55 84.37 L82.6 84.25 L82.65 84.16 L82.7 84.11 L82.75 84.1 L82.8 84.15 L82.85 84.23 L82.9 84.32 L82.95 84.4 L83 84.45 L83.05 84.47 L83.1 84.44 L83.15 84.38 L83.2 84.3 L83.25 84.22 L83.3 84.17 L83.35 84.15 L83.4 84.16 L83.45 84.21 L83.5 84.28 L83.55 84.36 L83.6 84.42 L83.65 84.45 L83.7 84.44 L83.75 84.4 L83.8 84.33 L83.85 84.25 L83.9 84.19 L83.95 84.15 L84 84.15 L84.05 84.18 L84.1 84.25 L84.15 84.33 L84.2 84.41 L84.25 84.46 L84.3 84.48 L84.35 84.44 L84.4 84.37 L84.45 84.28 L84.5 84.19 L84.55 84.12 L84.6 84.09 L84.65 84.12 L84.7 84.19 L84.75 84.3 L84.8 84.41 L84.85 84.5 L84.9 84.53 L84.95 84.51 L85 84.44 L85.05 84.32 L85.1 84.21 L85.15 84.11 L85.2 84.07 L85.25 84.08 L85.3 84.15 L85.35 84.25 L85.4 84.37 L85.45 84.46 L85.5 84.51 L85.55 84.5 L85.6 84.45 L85.65 84.36 L85.7 84.26 L85.75 84.18 L85.8 84.13 L85.85 84.13 L85.9 84.17 L85.95 84.24 L86 84.32 L86.05 84.38 L86.1 84.42 L86.15 84.43 L86.2 84.41 L86.25 84.36 L86.3 84.3 L86.35 84.25 L86.4 84.21 L86.45 84.19 L86.5 84.21 L86.55 84.24 L86.6 84.29 L86.65 84.34 L86.7 84.37 L86.75 84.39 L86.8 84.39 L86.85 84.36 L86.9 84.32 L86.95 84.27 L87 84.24 L87.05 84.21 L87.1 84.21 L87.15 84.24 L87.2 84.27 L87.25 84.32 L87.3 84.36 L87.35 84.38 L87.4 84.39 L87.45 84.37 L87.5 84.34 L87.55 84.29 L87.6 84.25 L87.65 84.21 L87.7 84.2 L87.75 84.21 L87.8 84.25 L87.85 84.3 L87.9 84.35 L87.95 84.4 L88 84.42 L88.05 84.41 L88.1 84.37 L88.15 84.31 L88.2 84.25 L88.25 84.2 L88.3 84.17 L88.35 84.17 L88.4 84.21 L88.45 84.27 L88.5 84.34 L88.55 84.4 L88.6 84.43 L88.65 84.43 L88.7 84.4 L88.75 84.34 L88.8 84.27 L88.85 84.22 L88.9 84.18 L88.95 84.18 L89 84.2 L89.05 84.25 L89.1 84.31 L89.15 84.36 L89.2 84.39 L89.25 84.4 L89.3 84.38 L89.35 84.35 L89.4 84.3 L89.45 84.26 L89.5 84.23 L89.55 84.22 L89.6 84.23 L89.65 84.26 L89.7 84.29 L89.75 84.33 L89.8 84.35 L89.85 84.36 L89.9 84.35 L89.95 84.34 L90 84.31 L90.05 84.28 L90.1 84.26 L90.15 84.25 L90.2 84.25 L90.25 84.27 L90.3 84.29 L90.35 84.31 L90.4 84.33 L90.45 84.34 L90.5 84.34 L90.55 84.33 L90.6 84.32 L90.65 84.3 L90.7 84.28 L90.75 84.26 L90.8 84.26 L90.85 84.26 L90.9 84.28 L90.95 84.3 L91 84.32 L91.05 84.34 L91.1 84.34 L91.15 84.34 L91.2 84.33 L91.25 84.3 L91.3 84.28 L91.35 84.26 L91.4 84.25 L91.45 84.25 L91.5 84.27 L91.55 84.29 L91.6 84.32 L91.65 84.34 L91.7 84.35 L91.75 84.35 L91.8 84.34 L91.85 84.32 L91.9 84.29 L91.95 84.27 L92 84.25 L92.05 84.25 L92.1 84.26 L92.15 84.28 L92.2 84.3 L92.25 84.33 L92.3 84.34 L92.35 84.34 L92.4 84.33 L92.45 84.32 L92.5 84.3 L92.55 84.28 L92.6 84.27 L92.65 84.27 L92.7 84.27 L92.75 84.29 L92.8 84.3 L92.85 84.31 L92.9 84.32 L92.95 84.32 L93 84.32 L93.05 84.31 L93.1 84.3 L93.15 84.3 L93.2 84.29 L93.25 84.29 L93.3 84.29 L93.35 84.29 L93.4 84.3 L93.45 84.3 L93.5 84.3 L93.55 84.31 L93.6 84.31 L93.65 84.3 L93.7 84.3 L93.75 84.3 L93.8 84.3 L93.85 84.3 L93.9 84.3 L93.95 84.3 L160.51 84.29 L160.86 84.29 L161.21 84.29 L161.56 84.29 L161.91 84.29 L162.26 84.29 L162.61 84.29 L162.96 84.29 L163.31 84.29 L163.66 84.29 L164.01 84.29 L164.36 84.29 L164.71 85.07 L165.06 86.94 L165.42 89.17 L165.77 91.04 L166.12 91.82 L166.47 88.02 L166.82 79.22 L167.17 69.41 L167.52 62.57 L167.87 62.33 L168.22 68.05 L168.57 77.29 L168.92 87.7 L169.27 96.95 L169.62 102.72 L169.97 103.35 L170.32 101.78 L170.67 98.96 L171.02 95.24 L171.37 91 L171.72 86.57 L172.07 82.32 L172.42 78.6 L172.77 75.77 L173.12 74.18 L173.47 74.15 L173.82 75.63 L174.17 78.21 L174.52 81.49 L174.87 85.08 L175.22 88.57 L175.57 91.56 L175.92 93.66 L176.27 94.45 L176.62 94.05 L176.97 92.97 L177.33 91.41 L177.68 89.6 L178.03 87.75 L178.38 86.06 L178.73 84.75 L179.08 83.94 L179.43 83.23 L179.78 82.54 L180.13 81.87 L180.48 81.23 L180.83 80.62 L181.18 80.06 L181.53 79.53 L181.88 79.05 L182.23 78.63 L182.58 78.26 L182.93 77.95 L183.28 77.72 L183.63 77.56 L183.98 77.47 L184.33 77.5 L184.68 77.8 L185.03 78.35 L185.38 79.11 L185.73 80.03 L186.08 81.07 L186.43 82.16 L186.78 83.26 L187.13 84.33 L187.48 85.32 L187.83 86.17 L188.18 86.84 L188.53 87.28 L188.88 87.45 L189.24 87.25 L189.59 86.73 L189.94 85.96 L190.29 85.05 L190.64 84.09 L190.99 83.18 L191.34 82.41 L191.69 81.87 L192.04 81.66 L192.39 81.75 L192.74 81.99 L193.09 82.35 L193.44 82.8 L193.79 83.31 L194.14 83.84 L194.49 84.36 L194.84 84.84 L195.19 85.24 L195.54 85.54 L195.89 85.69 L196.24 85.76 L196.59 85.82 L196.94 85.88 L197.29 85.94 L197.64 85.99 L197.99 86.04 L198.34 86.08 L198.69 86.11 L199.04 86.15 L199.39 86.17 L199.74 86.19 L200.09 86.21 L200.44 86.22 L200.79 86.22 L201.15 86.18 L201.5 86.09 L201.85 85.93 L202.2 85.73 L202.55 85.5 L202.9 85.24 L203.25 84.96 L203.6 84.68 L203.95 84.41 L204.3 84.15 L204.65 83.91 L205 83.71 L205.35 83.56 L205.7 83.45 L206.05 83.42 L206.4 83.42 L206.75 83.42 L207.1 83.42 L207.45 83.42 L207.8 83.42 L208.15 83.42 L208.5 83.42 L208.85 83.42 L209.2 83.42 L209.55 83.42 L209.9 83.42 L210.25 83.42 L210.6 83.43 L210.95 83.56 L211.3 83.77 L211.65 84.05 L212 84.36 L212.35 84.66 L212.7 84.92 L213.06 85.1 L213.41 85.17 L213.76 85.15 L214.11 85.1 L214.46 85.03 L214.81 84.93 L215.16 84.81 L215.51 84.68 L215.86 84.53 L216.21 84.37 L216.56 84.2 L216.91 84.04 L217.26 83.88 L217.61 83.72 L217.96 83.57 L218.31 83.43 L218.66 83.31 L219.01 83.21 L219.36 83.13 L219.71 83.08 L220.06 83.07 L220.41 83.07 L220.76 83.08 L221.11 83.1 L221.46 83.13 L221.81 83.16 L222.16 83.2 L222.51 83.24 L222.86 83.29 L223.21 83.34 L223.56 83.4 L223.91 83.46 L224.26 83.53 L224.61 83.59 L224.97 83.66 L225.32 83.74 L225.67 83.81 L226.02 83.89 L226.37 83.96 L226.72 84.04 L227.07 84.11 L227.42 84.2 L227.77 84.32 L228.12 84.46 L228.47 84.61 L228.82 84.78 L229.17 84.95 L229.52 85.12 L229.87 85.28 L230.22 85.44 L230.57 85.58 L230.92 85.7 L231.27 85.79 L231.62 85.85 L231.97 85.87 L232.32 85.83 L232.67 85.73 L233.02 85.57 L233.37 85.36 L233.72 85.12 L234.07 84.86 L234.42 84.59 L234.77 84.32 L235.12 84.06 L235.47 83.83 L235.82 83.64 L236.17 83.5 L236.53 83.43 L236.88 83.43 L237.23 83.53 L237.58 83.7 L237.93 83.92 L238.28 84.17 L238.63 84.41 L238.98 84.61 L239.33 84.76 L239.68 84.82 L240.03 84.74 L240.38 84.5 L240.73 84.15 L241.08 83.74 L241.43 83.31 L241.78 82.89 L242.13 82.54 L242.48 82.29 L242.83 82.19 L243.18 82.28 L243.53 82.53 L243.88 82.91 L244.23 83.39 L244.58 83.93 L244.93 84.49 L245.28 85.06 L245.63 85.58 L245.98 86.02 L246.33 86.35 L246.68 86.54 L247.03 86.55 L247.38 86.36 L247.73 86.01 L248.08 85.55 L248.44 85 L248.79 84.41 L249.14 83.82 L249.49 83.26 L249.84 82.79 L250.19 82.43 L250.54 82.22 L250.89 82.24 L251.24 82.72 L251.59 83.59 L251.94 84.74 L252.29 86.07 L252.64 87.45 L252.99 88.79 L253.34 89.97 L253.69 90.87 L254.04 91.39 L254.39 91.3 L254.74 89.78 L255.09 87.07 L255.44 83.6 L255.79 79.81 L256.14 76.15 L256.49 73.05 L256.84 70.95 L257.19 70.28 L257.54 70.72 L257.89 71.78 L258.24 73.35 L258.59 75.29 L258.94 77.5 L259.29 79.84 L259.64 82.21 L259.99 84.46 L260.35 86.49 L260.7 88.18 L261.05 89.39 L261.4 90.02 L261.75 89.9 L262.1 89 L262.45 87.59 L262.8 85.99 L263.15 84.5 L263.5 83.43 L263.85 83.07 L264.2 83.47 L264.55 84.43 L264.9 85.79 L265.25 87.4 L265.6 89.11 L265.95 90.76 L266.3 92.21 L266.65 93.29 L267 93.87 L267.35 93.85 L267.7 93.43 L268.05 92.69 L268.4 91.67 L268.75 90.43 L269.1 89.02 L269.45 87.51 L269.8 85.93 L270.15 84.34 L270.5 82.8 L270.85 81.35 L271.2 80.06 L271.55 78.97 L271.9 78.14 L272.26 77.62 L272.61 77.46 L272.96 77.65 L273.31 78.11 L273.66 78.8 L274.01 79.67 L274.36 80.66 L274.71 81.74 L275.06 82.84 L275.41 83.93 L275.76 84.96 L276.11 85.87 L276.46 86.61 L276.81 87.15 L277.16 87.42 L277.51 87.42 L277.86 87.25 L278.21 86.96 L278.56 86.56 L278.91 86.1 L279.26 85.6 L279.61 85.07 L279.96 84.56 L280.31 84.08 L280.66 83.66 L281.01 83.34 L281.36 83.13 L281.71 83.07 L282.06 83.1 L282.41 83.17 L282.76 83.28 L283.11 83.42 L283.46 83.57 L283.81 83.74 L284.17 83.91 L284.52 84.07 L284.87 84.21 L285.22 84.33 L285.57 84.42 L285.92 84.46 L286.27 84.45 L286.62 84.33 L286.97 84.13 L287.32 83.86 L287.67 83.54 L288.02 83.17 L288.37 82.79 L288.72 82.39 L289.07 82.01 L289.42 81.65 L289.77 81.34 L290.12 81.08 L290.47 80.89 L290.82 80.8 L291.17 80.8 L291.52 80.9 L291.87 81.08 L292.22 81.34 L292.57 81.66 L292.92 82.04 L293.27 82.47 L293.62 82.94 L293.97 83.44 L294.32 83.97 L294.67 84.52 L295.02 85.08 L295.37 85.64 L295.72 86.19 L296.08 86.72 L296.43 87.24 L296.78 87.72 L297.13 88.16 L297.48 88.56 L297.83 88.9 L298.18 89.18 L298.53 89.38 L298.88 89.51 L299.23 89.55 L299.58 89.48 L299.93 89.3 L300.28 89.04 L300.63 88.7 L300.98 88.29 L301.33 87.83 L301.68 87.35 L302.03 86.84 L302.38 86.32 L302.73 85.82 L303.08 85.33 L303.43 84.89 L303.78 84.5 L304.13 84.17 L304.48 83.92 L304.83 83.71 L305.18 83.51 L305.53 83.3 L305.88 83.1 L306.23 82.9 L306.58 82.7 L306.93 82.52 L307.28 82.34 L307.63 82.17 L307.99 82.01 L308.34 81.87 L308.69 81.74 L309.04 81.62 L309.39 81.52 L309.74 81.44 L310.09 81.38 L310.44 81.34 L310.79 81.32 L311.14 81.33 L311.49 81.41 L311.84 81.57 L312.19 81.78 L312.54 82.05 L312.89 82.37 L313.24 82.72 L313.59 83.1 L313.94 83.5 L314.29 83.92 L314.64 84.34 L314.99 84.76 L315.34 85.17 L315.69 85.56 L316.04 85.93 L316.39 86.26 L316.74 86.54 L317.09 86.78 L317.44 86.95 L317.79 87.06 L318.14 87.09 L318.49 87.07 L318.84 87.02 L319.19 86.93 L319.54 86.82 L319.9 86.68 L320.25 86.53 L320.6 86.35 L320.95 86.17 L321.3 85.98 L321.65 85.78 L322 85.58 L322.35 85.38 L322.7 85.19 L323.05 85.01 L323.4 84.84 L323.75 84.68 L324.1 84.55 L324.45 84.44 L324.8 84.36 L325.15 84.31 L325.5 84.3" fill="none" stroke="#bf00bf" stroke-width="1.35" stroke-linejoin="round" />
</g>
<line x1="18.1" y1="272.45" x2="18.1" y2="264.85" stroke="#383838" stroke-width="0.8" />
<line x1="18.1" y1="28.35" x2="18.1" y2="35.95" stroke="#383838" stroke-width="0.8" />
<text x="18.1" y="284.9" font-size="13.7" fill="#000" stroke="#000" text-anchor="middle" >0</text>
<line x1="69.33" y1="272.45" x2="69.33" y2="264.85" stroke="#383838" stroke-width="0.8" />
<line x1="69.33" y1="28.35" x2="69.33" y2="35.95" stroke="#383838" stroke-width="0.8" />
<text x="69.33" y="284.9" font-size="13.7" fill="#000" stroke="#000" text-anchor="middle" >2</text>
<line x1="120.57" y1="272.45" x2="120.57" y2="264.85" stroke="#383838" stroke-width="0.8" />
<line x1="120.57" y1="28.35" x2="120.57" y2="35.95" stroke="#383838" stroke-width="0.8" />
<text x="120.57" y="284.9" font-size="13.7" fill="#000" stroke="#000" text-anchor="middle" >4</text>
<line x1="171.8" y1="272.45" x2="171.8" y2="264.85" stroke="#383838" stroke-width="0.8" />
<line x1="171.8" y1="28.35" x2="171.8" y2="35.95" stroke="#383838" stroke-width="0.8" />
<text x="171.8" y="284.9" font-size="13.7" fill="#000" stroke="#000" text-anchor="middle" >6</text>
<line x1="223.03" y1="272.45" x2="223.03" y2="264.85" stroke="#383838" stroke-width="0.8" />
<line x1="223.03" y1="28.35" x2="223.03" y2="35.95" stroke="#383838" stroke-width="0.8" />
<text x="223.03" y="284.9" font-size="13.7" fill="#000" stroke="#000" text-anchor="middle" >8</text>
<line x1="274.27" y1="272.45" x2="274.27" y2="264.85" stroke="#383838" stroke-width="0.8" />
<line x1="274.27" y1="28.35" x2="274.27" y2="35.95" stroke="#383838" stroke-width="0.8" />
<text x="274.27" y="284.9" font-size="13.7" fill="#000" stroke="#000" text-anchor="middle" >10</text>
<line x1="325.5" y1="272.45" x2="325.5" y2="264.85" stroke="#383838" stroke-width="0.8" />
<line x1="325.5" y1="28.35" x2="325.5" y2="35.95" stroke="#383838" stroke-width="0.8" />
<text x="325.5" y="284.9" font-size="13.7" fill="#000" stroke="#000" text-anchor="middle" >12</text>
<rect x="18.1" y="28.35" width="307.4" height="244.1" stroke="#383838" stroke-width="0.8" fill="none" />
<text x="172.3" y="263.1" font-size="11" fill="#000" stroke="#000" text-anchor="middle" >Longitudinal</text>
<text x="257" y="263.1" font-size="11" fill="#000" stroke="#000" text-anchor="middle" >Shear</text>
<text x="171.7" y="301.2" font-size="14.3" fill="#000" stroke="#000" text-anchor="middle" >Time (µs)</text>
<text x="13.4" y="150" font-size="14.2" fill="#000" stroke="#000" text-anchor="middle" transform="rotate(-90 13.4 150)" >Amplitude</text>
<rect x="23.6" y="33.6" width="119.7" height="35.3" rx="2.6" fill="#fff" fill-opacity="0.8" stroke="#d2d2d2" stroke-width="0.9"/>
<line x1="27.3" y1="42.6" x2="50.8" y2="42.6" stroke="#ff0000" stroke-width="1.35" />
<text x="59" y="45.9" font-size="11" fill="#000" stroke="#000" text-anchor="start" >LL</text>
<line x1="27.3" y1="58.7" x2="50.8" y2="58.7" stroke="#0000ff" stroke-width="1.35" />
<text x="59" y="62.2" font-size="11" fill="#000" stroke="#000" text-anchor="start" >SS</text>
<line x1="94.1" y1="42.6" x2="117.2" y2="42.6" stroke="#008000" stroke-width="1.35" />
<text x="125.9" y="45.9" font-size="11" fill="#000" stroke="#000" text-anchor="start" >LS</text>
<line x1="94.1" y1="58.7" x2="117.2" y2="58.7" stroke="#bf00bf" stroke-width="1.35" />
<text x="125.9" y="62.2" font-size="11" fill="#000" stroke="#000" text-anchor="start" >SL</text>
<text font-family="'Liberation Serif','DejaVu Serif',serif" fill="#000" stroke="#000" text-anchor="start"><tspan x="-1.1" y="15.8" font-size="22.2" stroke-width="0.2">(</tspan><tspan x="6.6" y="15.6" font-size="21" font-weight="bold" stroke-width="0.1" textLength="11.34" lengthAdjust="spacingAndGlyphs">a</tspan><tspan x="18.5" y="15.8" font-size="22.2" stroke-width="0.2">)</tspan></text>
</g>
<g font-family="'DejaVu Sans','Liberation Sans',sans-serif">
<g clip-path="url(#clipBL)">
<path d="M368.55 248.43 L425.62 248.46 L426.02 248.46 L426.42 248.46 L426.82 248.46 L427.23 248.46 L427.63 248.46 L428.03 248.46 L428.43 248.46 L428.83 248.46 L429.23 248.46 L429.63 248.46 L430.03 248.46 L430.43 248.46 L430.84 248.47 L431.24 248.72 L431.64 249.2 L432.04 249.82 L432.44 250.48 L432.84 251.07 L433.24 251.5 L433.64 251.67 L434.04 251.04 L434.45 249.3 L434.85 246.77 L435.25 243.76 L435.65 240.57 L436.05 237.52 L436.45 234.91 L436.85 233.06 L437.25 232.27 L437.66 232.84 L438.06 234.76 L438.46 237.74 L438.86 241.54 L439.26 245.89 L439.66 250.54 L440.06 255.21 L440.46 259.66 L440.86 263.61 L441.27 266.81 L441.67 269 L442.07 269.91 L442.47 269.65 L442.87 268.74 L443.27 267.25 L443.67 265.28 L444.07 262.9 L444.47 260.19 L444.88 257.24 L445.28 254.12 L445.68 250.92 L446.08 247.71 L446.48 244.59 L446.88 241.62 L447.28 238.89 L447.68 236.48 L448.09 234.47 L448.49 232.95 L448.89 231.99 L449.29 231.67 L449.69 231.97 L450.09 232.75 L450.49 233.96 L450.89 235.55 L451.29 237.44 L451.7 239.58 L452.1 241.91 L452.5 244.36 L452.9 246.87 L453.3 249.39 L453.7 251.85 L454.1 254.19 L454.5 256.36 L454.9 258.28 L455.31 259.89 L455.71 261.15 L456.11 261.98 L456.51 262.32 L456.91 262.25 L457.31 261.95 L457.71 261.46 L458.11 260.8 L458.52 260 L458.92 259.07 L459.32 258.05 L459.72 256.95 L460.12 255.8 L460.52 254.63 L460.92 253.45 L461.32 252.29 L461.72 251.18 L462.13 250.14 L462.53 249.18 L462.93 248.34 L463.33 247.65 L463.73 247.1 L464.13 246.57 L464.53 246.05 L464.93 245.53 L465.34 245.01 L465.74 244.51 L466.14 244.01 L466.54 243.53 L466.94 243.06 L467.34 242.62 L467.74 242.2 L468.14 241.8 L468.54 241.44 L468.95 241.11 L469.35 240.81 L469.75 240.56 L470.15 240.35 L470.55 240.18 L470.95 240.07 L471.35 240.01 L471.75 240.01 L472.15 240.14 L472.56 240.41 L472.96 240.81 L473.36 241.32 L473.76 241.92 L474.16 242.61 L474.56 243.36 L474.96 244.16 L475.36 245 L475.77 245.87 L476.17 246.74 L476.57 247.6 L476.97 248.45 L477.37 249.26 L477.77 250.01 L478.17 250.71 L478.57 251.32 L478.97 251.84 L479.38 252.25 L479.78 252.53 L480.18 252.68 L480.58 252.68 L480.98 252.61 L481.38 252.46 L481.78 252.26 L482.18 252.01 L482.58 251.73 L482.99 251.42 L483.39 251.09 L483.79 250.75 L484.19 250.42 L484.59 250.11 L484.99 249.81 L485.39 249.55 L485.79 249.34 L486.2 249.17 L486.6 249.07 L487 249.05 L487.4 249.06 L487.8 249.11 L488.2 249.17 L488.6 249.26 L489 249.36 L489.4 249.47 L489.81 249.6 L490.21 249.72 L490.61 249.86 L491.01 249.99 L491.41 250.12 L491.81 250.24 L492.21 250.35 L492.61 250.45 L493.02 250.53 L493.42 250.6 L493.82 250.64 L494.22 250.65 L494.62 250.65 L495.02 250.63 L495.42 250.6 L495.82 250.57 L496.22 250.52 L496.63 250.47 L497.03 250.41 L497.43 250.34 L497.83 250.27 L498.23 250.19 L498.63 250.11 L499.03 250.02 L499.43 249.94 L499.83 249.85 L500.24 249.75 L500.64 249.66 L501.04 249.57 L501.44 249.48 L501.84 249.39 L502.24 249.3 L502.64 249.22 L503.04 249.14 L503.45 249.07 L503.85 249 L504.25 248.93 L504.65 248.88 L505.05 248.83 L505.45 248.79 L505.85 248.76 L506.25 248.73 L506.65 248.71 L507.06 248.69 L507.46 248.68 L507.86 248.66 L508.26 248.65 L508.66 248.63 L509.06 248.62 L509.46 248.61 L509.86 248.6 L510.26 248.59 L510.67 248.58 L511.07 248.57 L511.47 248.56 L511.87 248.56 L512.27 248.55 L512.67 248.54 L513.07 248.53 L513.47 248.52 L513.88 248.5 L514.28 248.49 L514.68 248.48 L515.08 248.46 L515.48 248.44 L515.88 248.42 L516.28 248.4 L516.68 248.38 L517.08 248.35 L517.49 248.32 L517.89 248.28 L518.29 248.21 L518.69 248.12 L519.09 247.99 L519.49 247.85 L519.89 247.68 L520.29 247.5 L520.69 247.31 L521.1 247.11 L521.5 246.9 L521.9 246.69 L522.3 246.48 L522.7 246.27" fill="none" stroke="#8b4513" stroke-width="1.35" stroke-linejoin="round" />
<path d="M368.55 232.74 L429.27 232.84 L429.67 232.84 L430.07 232.84 L430.47 232.84 L430.87 232.84 L431.28 232.84 L431.68 232.84 L432.08 232.84 L432.48 232.84 L432.88 232.84 L433.28 232.84 L433.68 232.84 L434.08 232.86 L434.48 233.1 L434.88 233.49 L435.28 233.88 L435.69 234.13 L436.09 233.94 L436.49 232.81 L436.89 231.01 L437.29 228.88 L437.69 226.73 L438.09 224.91 L438.49 223.75 L438.89 223.57 L439.29 224.58 L439.7 226.58 L440.1 229.29 L440.5 232.47 L440.9 235.84 L441.3 239.15 L441.7 242.14 L442.1 244.54 L442.5 246.1 L442.9 246.56 L443.3 246.23 L443.71 245.44 L444.11 244.25 L444.51 242.73 L444.91 240.96 L445.31 238.99 L445.71 236.9 L446.11 234.74 L446.51 232.6 L446.91 230.53 L447.31 228.61 L447.72 226.9 L448.12 225.46 L448.52 224.37 L448.92 223.7 L449.32 223.5 L449.72 223.68 L450.12 224.12 L450.52 224.79 L450.92 225.65 L451.32 226.68 L451.73 227.84 L452.13 229.1 L452.53 230.42 L452.93 231.78 L453.33 233.13 L453.73 234.45 L454.13 235.7 L454.53 236.86 L454.93 237.88 L455.33 238.74 L455.74 239.4 L456.14 239.83 L456.54 239.99 L456.94 239.92 L457.34 239.69 L457.74 239.32 L458.14 238.84 L458.54 238.26 L458.94 237.61 L459.34 236.91 L459.75 236.17 L460.15 235.43 L460.55 234.69 L460.95 233.99 L461.35 233.35 L461.75 232.78 L462.15 232.3 L462.55 231.95 L462.95 231.73 L463.35 231.67 L463.76 231.71 L464.16 231.8 L464.56 231.92 L464.96 232.07 L465.36 232.22 L465.76 232.38 L466.16 232.51 L466.56 232.62 L466.96 232.68 L467.36 232.69 L467.77 232.57 L468.17 232.34 L468.57 232.02 L468.97 231.63 L469.37 231.2 L469.77 230.74 L470.17 230.28 L470.57 229.84 L470.97 229.45 L471.37 229.12 L471.78 228.89 L472.18 228.76 L472.58 228.77 L472.98 228.89 L473.38 229.11 L473.78 229.41 L474.18 229.78 L474.58 230.2 L474.98 230.68 L475.38 231.18 L475.78 231.7 L476.19 232.23 L476.59 232.75 L476.99 233.26 L477.39 233.73 L477.79 234.15 L478.19 234.52 L478.59 234.82 L478.99 235.04 L479.39 235.16 L479.79 235.17 L480.2 235.12 L480.6 235.02 L481 234.87 L481.4 234.68 L481.8 234.47 L482.2 234.24 L482.6 233.99 L483 233.74 L483.4 233.49 L483.8 233.24 L484.21 233.02 L484.61 232.82 L485.01 232.65 L485.41 232.52 L485.81 232.43 L486.21 232.4 L486.61 232.42 L487.01 232.48 L487.41 232.56 L487.81 232.67 L488.22 232.8 L488.62 232.94 L489.02 233.09 L489.42 233.25 L489.82 233.41 L490.22 233.57 L490.62 233.71 L491.02 233.85 L491.42 233.96 L491.82 234.06 L492.23 234.12 L492.63 234.15 L493.03 234.15 L493.43 234.15 L493.83 234.14 L494.23 234.12 L494.63 234.1 L495.03 234.07 L495.43 234.04 L495.83 234.01 L496.24 233.97 L496.64 233.94 L497.04 233.89 L497.44 233.85 L497.84 233.8 L498.24 233.76 L498.64 233.71 L499.04 233.66 L499.44 233.61 L499.84 233.56 L500.25 233.51 L500.65 233.46 L501.05 233.41 L501.45 233.36 L501.85 233.31 L502.25 233.27 L502.65 233.22 L503.05 233.18 L503.45 233.14 L503.85 233.11 L504.26 233.08 L504.66 233.05 L505.06 233.02 L505.46 233 L505.86 232.99 L506.26 232.98 L506.66 232.97 L507.06 232.95 L507.46 232.94 L507.86 232.93 L508.27 232.92 L508.67 232.91 L509.07 232.9 L509.47 232.89 L509.87 232.88 L510.27 232.87 L510.67 232.86 L511.07 232.85 L511.47 232.84 L511.87 232.83 L512.27 232.82 L512.68 232.81 L513.08 232.8 L513.48 232.79 L513.88 232.79 L514.28 232.78 L514.68 232.77 L515.08 232.76 L515.48 232.76 L515.88 232.75 L516.28 232.75 L516.69 232.74 L517.09 232.73 L517.49 232.73 L517.89 232.72 L518.29 232.72 L518.69 232.72 L519.09 232.71 L519.49 232.71 L519.89 232.71 L520.29 232.7 L520.7 232.7 L521.1 232.7 L521.5 232.7 L521.9 232.7 L522.3 232.7 L522.7 232.7" fill="none" stroke="#ff0000" stroke-width="1.35" stroke-linejoin="round" />
<path d="M368.55 217.05 L430.73 217.22 L431.13 217.22 L431.53 217.22 L431.93 217.22 L432.34 217.22 L432.74 217.22 L433.14 217.22 L433.54 217.22 L433.94 217.22 L434.34 217.22 L434.75 217.22 L435.15 217.22 L435.55 217.24 L435.95 217.49 L436.35 217.88 L436.75 218.27 L437.16 218.51 L437.56 218.33 L437.96 217.34 L438.36 215.74 L438.76 213.79 L439.16 211.75 L439.57 209.87 L439.97 208.42 L440.37 207.65 L440.77 207.84 L441.17 209.1 L441.57 211.24 L441.98 214.02 L442.38 217.2 L442.78 220.58 L443.18 223.91 L443.58 226.96 L443.98 229.52 L444.38 231.35 L444.79 232.22 L445.19 232.09 L445.59 231.38 L445.99 230.18 L446.39 228.57 L446.79 226.63 L447.2 224.45 L447.6 222.1 L448 219.66 L448.4 217.22 L448.8 214.86 L449.2 212.64 L449.61 210.67 L450.01 209.01 L450.41 207.74 L450.81 206.95 L451.21 206.71 L451.61 206.9 L452.02 207.38 L452.42 208.11 L452.82 209.05 L453.22 210.17 L453.62 211.44 L454.02 212.81 L454.43 214.25 L454.83 215.72 L455.23 217.2 L455.63 218.64 L456.03 220 L456.43 221.26 L456.84 222.37 L457.24 223.31 L457.64 224.02 L458.04 224.49 L458.44 224.67 L458.84 224.58 L459.24 224.33 L459.65 223.92 L460.05 223.39 L460.45 222.75 L460.85 222.04 L461.25 221.28 L461.65 220.48 L462.06 219.68 L462.46 218.9 L462.86 218.16 L463.26 217.48 L463.66 216.9 L464.06 216.43 L464.47 216.09 L464.87 215.92 L465.27 215.92 L465.67 215.97 L466.07 216.05 L466.47 216.16 L466.88 216.28 L467.28 216.39 L467.68 216.5 L468.08 216.58 L468.48 216.63 L468.88 216.62 L469.29 216.5 L469.69 216.27 L470.09 215.96 L470.49 215.59 L470.89 215.18 L471.29 214.76 L471.7 214.33 L472.1 213.93 L472.5 213.57 L472.9 213.28 L473.3 213.08 L473.7 212.99 L474.1 213.02 L474.51 213.15 L474.91 213.38 L475.31 213.69 L475.71 214.06 L476.11 214.48 L476.51 214.95 L476.92 215.45 L477.32 215.96 L477.72 216.48 L478.12 216.99 L478.52 217.48 L478.92 217.93 L479.33 218.34 L479.73 218.69 L480.13 218.96 L480.53 219.16 L480.93 219.26 L481.33 219.25 L481.74 219.19 L482.14 219.08 L482.54 218.93 L482.94 218.75 L483.34 218.54 L483.74 218.32 L484.15 218.1 L484.55 217.87 L484.95 217.66 L485.35 217.47 L485.75 217.31 L486.15 217.18 L486.55 217.1 L486.96 217.07 L487.36 217.09 L487.76 217.13 L488.16 217.18 L488.56 217.26 L488.96 217.35 L489.37 217.45 L489.77 217.56 L490.17 217.68 L490.57 217.8 L490.97 217.92 L491.37 218.04 L491.78 218.15 L492.18 218.25 L492.58 218.34 L492.98 218.42 L493.38 218.48 L493.78 218.52 L494.19 218.53 L494.59 218.53 L494.99 218.52 L495.39 218.5 L495.79 218.48 L496.19 218.45 L496.6 218.42 L497 218.38 L497.4 218.33 L497.8 218.29 L498.2 218.24 L498.6 218.18 L499.01 218.13 L499.41 218.07 L499.81 218.01 L500.21 217.96 L500.61 217.9 L501.01 217.84 L501.41 217.78 L501.82 217.73 L502.22 217.67 L502.62 217.62 L503.02 217.57 L503.42 217.53 L503.82 217.49 L504.23 217.45 L504.63 217.42 L505.03 217.4 L505.43 217.38 L505.83 217.37 L506.23 217.36 L506.64 217.35 L507.04 217.35 L507.44 217.34 L507.84 217.34 L508.24 217.33 L508.64 217.32 L509.05 217.32 L509.45 217.31 L509.85 217.31 L510.25 217.3 L510.65 217.3 L511.05 217.29 L511.46 217.29 L511.86 217.28 L512.26 217.28 L512.66 217.27 L513.06 217.27 L513.46 217.27 L513.87 217.26 L514.27 217.26 L514.67 217.26 L515.07 217.25 L515.47 217.25 L515.87 217.25 L516.27 217.24 L516.68 217.24 L517.08 217.24 L517.48 217.24 L517.88 217.23 L518.28 217.23 L518.68 217.23 L519.09 217.23 L519.49 217.23 L519.89 217.23 L520.29 217.22 L520.69 217.22 L521.09 217.22 L521.5 217.22 L521.9 217.22 L522.3 217.22 L522.7 217.22" fill="none" stroke="#ff8c00" stroke-width="1.35" stroke-linejoin="round" />
<path d="M368.55 201.36 L432.19 201.16 L432.59 201.16 L432.99 201.16 L433.39 201.16 L433.79 201.16 L434.19 201.16 L434.59 201.16 L434.99 201.16 L435.39 201.16 L435.79 201.16 L436.19 201.16 L436.6 201.16 L437 201.18 L437.4 201.42 L437.8 201.81 L438.2 202.2 L438.6 202.45 L439 202.31 L439.4 201.38 L439.8 199.85 L440.2 197.97 L440.6 195.99 L441 194.15 L441.4 192.71 L441.8 191.91 L442.2 192.02 L442.6 193.22 L443 195.31 L443.4 198.05 L443.8 201.22 L444.2 204.6 L444.6 207.95 L445.01 211.05 L445.41 213.67 L445.81 215.58 L446.21 216.56 L446.61 216.49 L447.01 215.72 L447.41 214.39 L447.81 212.58 L448.21 210.41 L448.61 207.98 L449.01 205.37 L449.41 202.7 L449.81 200.07 L450.21 197.58 L450.61 195.32 L451.01 193.39 L451.41 191.91 L451.81 190.96 L452.21 190.65 L452.61 190.82 L453.02 191.26 L453.42 191.95 L453.82 192.85 L454.22 193.92 L454.62 195.13 L455.02 196.46 L455.42 197.85 L455.82 199.29 L456.22 200.74 L456.62 202.16 L457.02 203.52 L457.42 204.79 L457.82 205.93 L458.22 206.91 L458.62 207.7 L459.02 208.26 L459.42 208.56 L459.82 208.58 L460.22 208.36 L460.62 207.94 L461.03 207.35 L461.43 206.64 L461.83 205.83 L462.23 204.96 L462.63 204.07 L463.03 203.17 L463.43 202.32 L463.83 201.54 L464.23 200.87 L464.63 200.35 L465.03 199.99 L465.43 199.85 L465.83 199.88 L466.23 199.97 L466.63 200.12 L467.03 200.3 L467.43 200.5 L467.83 200.7 L468.23 200.9 L468.63 201.07 L469.03 201.21 L469.44 201.29 L469.84 201.3 L470.24 201.22 L470.64 201.06 L471.04 200.83 L471.44 200.54 L471.84 200.21 L472.24 199.85 L472.64 199.47 L473.04 199.1 L473.44 198.74 L473.84 198.41 L474.24 198.12 L474.64 197.89 L475.04 197.74 L475.44 197.66 L475.84 197.69 L476.24 197.81 L476.64 198.02 L477.04 198.31 L477.45 198.66 L477.85 199.06 L478.25 199.49 L478.65 199.95 L479.05 200.43 L479.45 200.9 L479.85 201.36 L480.25 201.8 L480.65 202.2 L481.05 202.55 L481.45 202.84 L481.85 203.05 L482.25 203.18 L482.65 203.2 L483.05 203.17 L483.45 203.1 L483.85 203 L484.25 202.88 L484.65 202.73 L485.05 202.58 L485.46 202.41 L485.86 202.25 L486.26 202.09 L486.66 201.94 L487.06 201.81 L487.46 201.71 L487.86 201.64 L488.26 201.6 L488.66 201.6 L489.06 201.63 L489.46 201.67 L489.86 201.72 L490.26 201.79 L490.66 201.87 L491.06 201.95 L491.46 202.05 L491.86 202.14 L492.26 202.24 L492.66 202.33 L493.06 202.42 L493.46 202.51 L493.87 202.59 L494.27 202.65 L494.67 202.71 L495.07 202.74 L495.47 202.76 L495.87 202.77 L496.27 202.76 L496.67 202.75 L497.07 202.74 L497.47 202.72 L497.87 202.7 L498.27 202.67 L498.67 202.64 L499.07 202.61 L499.47 202.57 L499.87 202.53 L500.27 202.49 L500.67 202.45 L501.07 202.4 L501.47 202.36 L501.88 202.31 L502.28 202.26 L502.68 202.21 L503.08 202.16 L503.48 202.11 L503.88 202.06 L504.28 202.02 L504.68 201.97 L505.08 201.92 L505.48 201.88 L505.88 201.83 L506.28 201.79 L506.68 201.75 L507.08 201.72 L507.48 201.69 L507.88 201.66 L508.28 201.63 L508.68 201.61 L509.08 201.59 L509.48 201.57 L509.89 201.55 L510.29 201.53 L510.69 201.51 L511.09 201.5 L511.49 201.48 L511.89 201.46 L512.29 201.44 L512.69 201.43 L513.09 201.41 L513.49 201.39 L513.89 201.38 L514.29 201.36 L514.69 201.34 L515.09 201.33 L515.49 201.31 L515.89 201.3 L516.29 201.29 L516.69 201.27 L517.09 201.26 L517.49 201.25 L517.89 201.24 L518.3 201.23 L518.7 201.22 L519.1 201.21 L519.5 201.2 L519.9 201.19 L520.3 201.18 L520.7 201.18 L521.1 201.17 L521.5 201.17 L521.9 201.17 L522.3 201.16 L522.7 201.16" fill="none" stroke="#ffd700" stroke-width="1.35" stroke-linejoin="round" />
<path d="M368.55 185.67 L432.92 185.43 L433.32 185.43 L433.72 185.43 L434.12 185.43 L434.52 185.43 L434.92 185.43 L435.32 185.43 L435.73 185.43 L436.13 185.43 L436.53 185.43 L436.93 185.43 L437.33 185.43 L437.73 185.45 L438.13 185.66 L438.53 186.01 L438.93 186.36 L439.33 186.58 L439.73 186.44 L440.13 185.56 L440.54 184.13 L440.94 182.37 L441.34 180.52 L441.74 178.82 L442.14 177.48 L442.54 176.75 L442.94 176.91 L443.34 178.28 L443.74 180.61 L444.14 183.63 L444.54 187.07 L444.94 190.64 L445.34 194.08 L445.75 197.1 L446.15 199.44 L446.55 200.81 L446.95 200.98 L447.35 200.25 L447.75 198.83 L448.15 196.84 L448.55 194.41 L448.95 191.68 L449.35 188.77 L449.75 185.82 L450.15 182.96 L450.56 180.31 L450.96 178.01 L451.36 176.18 L451.76 174.97 L452.16 174.49 L452.56 174.6 L452.96 174.99 L453.36 175.61 L453.76 176.44 L454.16 177.44 L454.56 178.58 L454.96 179.84 L455.36 181.18 L455.77 182.57 L456.17 183.99 L456.57 185.4 L456.97 186.77 L457.37 188.07 L457.77 189.27 L458.17 190.34 L458.57 191.25 L458.97 191.97 L459.37 192.46 L459.77 192.71 L460.17 192.69 L460.58 192.46 L460.98 192.05 L461.38 191.49 L461.78 190.82 L462.18 190.07 L462.58 189.27 L462.98 188.44 L463.38 187.63 L463.78 186.85 L464.18 186.15 L464.58 185.56 L464.98 185.1 L465.39 184.8 L465.79 184.7 L466.19 184.74 L466.59 184.84 L466.99 184.98 L467.39 185.16 L467.79 185.35 L468.19 185.55 L468.59 185.74 L468.99 185.91 L469.39 186.05 L469.79 186.14 L470.19 186.16 L470.6 186.09 L471 185.91 L471.4 185.65 L471.8 185.31 L472.2 184.92 L472.6 184.49 L473 184.05 L473.4 183.6 L473.8 183.16 L474.2 182.76 L474.6 182.4 L475 182.11 L475.41 181.9 L475.81 181.79 L476.21 181.8 L476.61 181.89 L477.01 182.07 L477.41 182.32 L477.81 182.63 L478.21 182.98 L478.61 183.38 L479.01 183.8 L479.41 184.24 L479.81 184.68 L480.22 185.12 L480.62 185.55 L481.02 185.94 L481.42 186.3 L481.82 186.62 L482.22 186.87 L482.62 187.06 L483.02 187.16 L483.42 187.18 L483.82 187.14 L484.22 187.05 L484.62 186.94 L485.02 186.79 L485.43 186.63 L485.83 186.46 L486.23 186.29 L486.63 186.13 L487.03 185.98 L487.43 185.86 L487.83 185.77 L488.23 185.73 L488.63 185.73 L489.03 185.74 L489.43 185.77 L489.83 185.81 L490.24 185.86 L490.64 185.91 L491.04 185.98 L491.44 186.05 L491.84 186.12 L492.24 186.2 L492.64 186.28 L493.04 186.36 L493.44 186.44 L493.84 186.52 L494.24 186.59 L494.64 186.66 L495.04 186.72 L495.45 186.78 L495.85 186.82 L496.25 186.86 L496.65 186.88 L497.05 186.89 L497.45 186.89 L497.85 186.88 L498.25 186.87 L498.65 186.85 L499.05 186.83 L499.45 186.81 L499.85 186.78 L500.26 186.74 L500.66 186.71 L501.06 186.67 L501.46 186.63 L501.86 186.58 L502.26 186.54 L502.66 186.49 L503.06 186.44 L503.46 186.39 L503.86 186.35 L504.26 186.3 L504.66 186.25 L505.07 186.2 L505.47 186.16 L505.87 186.11 L506.27 186.07 L506.67 186.03 L507.07 185.99 L507.47 185.96 L507.87 185.93 L508.27 185.9 L508.67 185.88 L509.07 185.86 L509.47 185.84 L509.87 185.82 L510.28 185.8 L510.68 185.78 L511.08 185.77 L511.48 185.75 L511.88 185.73 L512.28 185.71 L512.68 185.69 L513.08 185.68 L513.48 185.66 L513.88 185.64 L514.28 185.63 L514.68 185.61 L515.09 185.6 L515.49 185.58 L515.89 185.57 L516.29 185.55 L516.69 185.54 L517.09 185.53 L517.49 185.52 L517.89 185.51 L518.29 185.49 L518.69 185.48 L519.09 185.48 L519.49 185.47 L519.9 185.46 L520.3 185.45 L520.7 185.45 L521.1 185.44 L521.5 185.44 L521.9 185.44 L522.3 185.43 L522.7 185.43" fill="none" stroke="#008000" stroke-width="1.35" stroke-linejoin="round" />
<path d="M368.55 169.98 L433.65 169.81 L434.05 169.81 L434.45 169.81 L434.85 169.81 L435.25 169.81 L435.66 169.81 L436.06 169.81 L436.46 169.81 L436.86 169.81 L437.26 169.81 L437.66 169.81 L438.06 169.81 L438.46 169.81 L438.86 169.82 L439.27 170.05 L439.67 170.43 L440.07 170.79 L440.47 170.98 L440.87 170.66 L441.27 169.68 L441.67 168.24 L442.07 166.53 L442.47 164.77 L442.88 163.14 L443.28 161.87 L443.68 161.15 L444.08 161.22 L444.48 162.41 L444.88 164.51 L445.28 167.28 L445.68 170.48 L446.08 173.87 L446.49 177.19 L446.89 180.21 L447.29 182.68 L447.69 184.36 L448.09 184.99 L448.49 184.57 L448.89 183.35 L449.29 181.48 L449.69 179.09 L450.1 176.33 L450.5 173.34 L450.9 170.28 L451.3 167.27 L451.7 164.46 L452.1 162 L452.5 160.03 L452.9 158.7 L453.31 158.14 L453.71 158.29 L454.11 158.83 L454.51 159.7 L454.91 160.85 L455.31 162.23 L455.71 163.78 L456.11 165.46 L456.51 167.2 L456.92 168.97 L457.32 170.69 L457.72 172.33 L458.12 173.83 L458.52 175.13 L458.92 176.19 L459.32 176.94 L459.72 177.35 L460.12 177.38 L460.53 177.19 L460.93 176.84 L461.33 176.34 L461.73 175.73 L462.13 175.03 L462.53 174.26 L462.93 173.45 L463.33 172.63 L463.73 171.81 L464.14 171.02 L464.54 170.29 L464.94 169.64 L465.34 169.1 L465.74 168.68 L466.14 168.43 L466.54 168.35 L466.94 168.39 L467.34 168.48 L467.75 168.62 L468.15 168.79 L468.55 168.98 L468.95 169.2 L469.35 169.42 L469.75 169.64 L470.15 169.85 L470.55 170.03 L470.95 170.19 L471.36 170.31 L471.76 170.38 L472.16 170.39 L472.56 170.29 L472.96 170.09 L473.36 169.8 L473.76 169.44 L474.16 169.03 L474.57 168.58 L474.97 168.12 L475.37 167.66 L475.77 167.23 L476.17 166.83 L476.57 166.49 L476.97 166.23 L477.37 166.07 L477.77 166.02 L478.18 166.07 L478.58 166.19 L478.98 166.38 L479.38 166.63 L479.78 166.92 L480.18 167.26 L480.58 167.63 L480.98 168.02 L481.38 168.42 L481.79 168.83 L482.19 169.23 L482.59 169.62 L482.99 169.99 L483.39 170.33 L483.79 170.63 L484.19 170.89 L484.59 171.08 L484.99 171.21 L485.4 171.27 L485.8 171.26 L486.2 171.22 L486.6 171.16 L487 171.07 L487.4 170.97 L487.8 170.86 L488.2 170.75 L488.6 170.62 L489.01 170.51 L489.41 170.4 L489.81 170.3 L490.21 170.21 L490.61 170.15 L491.01 170.11 L491.41 170.1 L491.81 170.12 L492.21 170.17 L492.62 170.23 L493.02 170.31 L493.42 170.4 L493.82 170.5 L494.22 170.61 L494.62 170.73 L495.02 170.85 L495.42 170.97 L495.82 171.09 L496.23 171.2 L496.63 171.3 L497.03 171.39 L497.43 171.46 L497.83 171.52 L498.23 171.55 L498.63 171.56 L499.03 171.56 L499.44 171.55 L499.84 171.53 L500.24 171.51 L500.64 171.48 L501.04 171.45 L501.44 171.41 L501.84 171.37 L502.24 171.33 L502.64 171.28 L503.05 171.23 L503.45 171.18 L503.85 171.13 L504.25 171.07 L504.65 171.02 L505.05 170.96 L505.45 170.91 L505.85 170.86 L506.25 170.81 L506.66 170.76 L507.06 170.71 L507.46 170.66 L507.86 170.62 L508.26 170.59 L508.66 170.55 L509.06 170.53 L509.46 170.5 L509.86 170.47 L510.27 170.44 L510.67 170.42 L511.07 170.39 L511.47 170.36 L511.87 170.34 L512.27 170.31 L512.67 170.28 L513.07 170.26 L513.47 170.23 L513.88 170.21 L514.28 170.18 L514.68 170.16 L515.08 170.14 L515.48 170.12 L515.88 170.09 L516.28 170.07 L516.68 170.05 L517.08 170.03 L517.49 170.01 L517.89 169.99 L518.29 169.97 L518.69 169.95 L519.09 169.94 L519.49 169.92 L519.89 169.9 L520.29 169.89 L520.7 169.87 L521.1 169.86 L521.5 169.85 L521.9 169.83 L522.3 169.82 L522.7 169.81" fill="none" stroke="#00bfbf" stroke-width="1.35" stroke-linejoin="round" />
<path d="M368.55 154.29 L433.65 154.05 L434.05 154.05 L434.45 154.05 L434.85 154.05 L435.25 154.05 L435.66 154.05 L436.06 154.05 L436.46 154.05 L436.86 154.05 L437.26 154.05 L437.66 154.05 L438.06 154.05 L438.46 154.05 L438.86 154.06 L439.27 154.28 L439.67 154.66 L440.07 155.03 L440.47 155.21 L440.87 154.94 L441.27 154.1 L441.67 152.84 L442.07 151.31 L442.47 149.68 L442.88 148.11 L443.28 146.75 L443.68 145.76 L444.08 145.3 L444.48 145.72 L444.88 147.34 L445.28 149.89 L445.68 153.05 L446.08 156.55 L446.49 160.08 L446.89 163.35 L447.29 166.07 L447.69 167.93 L448.09 168.64 L448.49 168.23 L448.89 167.04 L449.29 165.2 L449.69 162.87 L450.1 160.17 L450.5 157.25 L450.9 154.24 L451.3 151.3 L451.7 148.56 L452.1 146.15 L452.5 144.23 L452.9 142.92 L453.31 142.37 L453.71 142.52 L454.11 143.06 L454.51 143.93 L454.91 145.08 L455.31 146.46 L455.71 148.02 L456.11 149.69 L456.51 151.44 L456.92 153.2 L457.32 154.93 L457.72 156.56 L458.12 158.06 L458.52 159.36 L458.92 160.42 L459.32 161.18 L459.72 161.58 L460.12 161.61 L460.53 161.43 L460.93 161.07 L461.33 160.58 L461.73 159.97 L462.13 159.27 L462.53 158.5 L462.93 157.69 L463.33 156.86 L463.73 156.04 L464.14 155.25 L464.54 154.52 L464.94 153.87 L465.34 153.33 L465.74 152.92 L466.14 152.66 L466.54 152.59 L466.94 152.62 L467.34 152.71 L467.75 152.84 L468.15 153.01 L468.55 153.21 L468.95 153.42 L469.35 153.64 L469.75 153.87 L470.15 154.09 L470.55 154.29 L470.95 154.47 L471.36 154.61 L471.76 154.72 L472.16 154.77 L472.56 154.75 L472.96 154.6 L473.36 154.32 L473.76 153.94 L474.16 153.49 L474.57 152.99 L474.97 152.46 L475.37 151.93 L475.77 151.41 L476.17 150.94 L476.57 150.54 L476.97 150.22 L477.37 150.02 L477.77 149.96 L478.18 150.01 L478.58 150.14 L478.98 150.34 L479.38 150.6 L479.78 150.91 L480.18 151.27 L480.58 151.66 L480.98 152.07 L481.38 152.49 L481.79 152.92 L482.19 153.35 L482.59 153.76 L482.99 154.16 L483.39 154.51 L483.79 154.83 L484.19 155.1 L484.59 155.31 L484.99 155.44 L485.4 155.5 L485.8 155.5 L486.2 155.46 L486.6 155.41 L487 155.33 L487.4 155.25 L487.8 155.15 L488.2 155.04 L488.6 154.94 L489.01 154.84 L489.41 154.74 L489.81 154.65 L490.21 154.58 L490.61 154.52 L491.01 154.49 L491.41 154.48 L491.81 154.5 L492.21 154.54 L492.62 154.59 L493.02 154.66 L493.42 154.75 L493.82 154.84 L494.22 154.94 L494.62 155.05 L495.02 155.16 L495.42 155.26 L495.82 155.37 L496.23 155.47 L496.63 155.56 L497.03 155.64 L497.43 155.71 L497.83 155.76 L498.23 155.79 L498.63 155.8 L499.03 155.79 L499.44 155.78 L499.84 155.77 L500.24 155.74 L500.64 155.72 L501.04 155.68 L501.44 155.65 L501.84 155.6 L502.24 155.56 L502.64 155.51 L503.05 155.46 L503.45 155.41 L503.85 155.36 L504.25 155.31 L504.65 155.25 L505.05 155.2 L505.45 155.14 L505.85 155.09 L506.25 155.04 L506.66 154.99 L507.06 154.94 L507.46 154.9 L507.86 154.86 L508.26 154.82 L508.66 154.79 L509.06 154.76 L509.46 154.73 L509.86 154.7 L510.27 154.68 L510.67 154.65 L511.07 154.62 L511.47 154.6 L511.87 154.57 L512.27 154.54 L512.67 154.52 L513.07 154.49 L513.47 154.47 L513.88 154.44 L514.28 154.42 L514.68 154.39 L515.08 154.37 L515.48 154.35 L515.88 154.33 L516.28 154.31 L516.68 154.28 L517.08 154.26 L517.49 154.24 L517.89 154.22 L518.29 154.21 L518.69 154.19 L519.09 154.17 L519.49 154.15 L519.89 154.14 L520.29 154.12 L520.7 154.11 L521.1 154.09 L521.5 154.08 L521.9 154.07 L522.3 154.06 L522.7 154.05" fill="none" stroke="#808000" stroke-width="1.35" stroke-linejoin="round" />
<path d="M368.55 138.6 L434.38 138.28 L434.78 138.28 L435.18 138.28 L435.58 138.28 L435.99 138.28 L436.39 138.28 L436.79 138.28 L437.19 138.28 L437.59 138.28 L437.99 138.28 L438.39 138.28 L438.8 138.28 L439.2 138.28 L439.6 138.29 L440 138.49 L440.4 138.83 L440.8 139.18 L441.2 139.42 L441.61 139.34 L442.01 138.66 L442.41 137.5 L442.81 136.02 L443.21 134.41 L443.61 132.82 L444.01 131.44 L444.42 130.43 L444.82 129.97 L445.22 130.39 L445.62 131.93 L446.02 134.34 L446.42 137.35 L446.82 140.7 L447.23 144.12 L447.63 147.35 L448.03 150.12 L448.43 152.17 L448.83 153.23 L449.23 153.12 L449.64 152.09 L450.04 150.32 L450.44 147.96 L450.84 145.17 L451.24 142.12 L451.64 138.94 L452.04 135.81 L452.45 132.89 L452.85 130.31 L453.25 128.26 L453.65 126.87 L454.05 126.31 L454.45 126.51 L454.85 127.16 L455.26 128.18 L455.66 129.52 L456.06 131.11 L456.46 132.88 L456.86 134.76 L457.26 136.69 L457.66 138.6 L458.07 140.43 L458.47 142.11 L458.87 143.57 L459.27 144.75 L459.67 145.57 L460.07 145.98 L460.47 145.98 L460.88 145.78 L461.28 145.43 L461.68 144.95 L462.08 144.36 L462.48 143.69 L462.88 142.94 L463.28 142.16 L463.69 141.35 L464.09 140.53 L464.49 139.74 L464.89 138.99 L465.29 138.3 L465.69 137.69 L466.09 137.19 L466.5 136.81 L466.9 136.59 L467.3 136.53 L467.7 136.58 L468.1 136.71 L468.5 136.9 L468.91 137.13 L469.31 137.4 L469.71 137.68 L470.11 137.97 L470.51 138.26 L470.91 138.53 L471.31 138.76 L471.72 138.96 L472.12 139.09 L472.52 139.15 L472.92 139.12 L473.32 138.95 L473.72 138.67 L474.12 138.29 L474.53 137.85 L474.93 137.36 L475.33 136.84 L475.73 136.32 L476.13 135.82 L476.53 135.35 L476.93 134.95 L477.34 134.64 L477.74 134.42 L478.14 134.34 L478.54 134.37 L478.94 134.49 L479.34 134.69 L479.74 134.94 L480.15 135.25 L480.55 135.61 L480.95 135.99 L481.35 136.4 L481.75 136.82 L482.15 137.24 L482.55 137.65 L482.96 138.04 L483.36 138.41 L483.76 138.73 L484.16 139.01 L484.56 139.23 L484.96 139.38 L485.36 139.44 L485.77 139.44 L486.17 139.42 L486.57 139.38 L486.97 139.33 L487.37 139.27 L487.77 139.2 L488.18 139.12 L488.58 139.05 L488.98 138.97 L489.38 138.9 L489.78 138.84 L490.18 138.79 L490.58 138.75 L490.99 138.72 L491.39 138.72 L491.79 138.73 L492.19 138.78 L492.59 138.84 L492.99 138.91 L493.39 139.01 L493.8 139.11 L494.2 139.22 L494.6 139.34 L495 139.46 L495.4 139.58 L495.8 139.69 L496.2 139.8 L496.61 139.91 L497.01 140 L497.41 140.07 L497.81 140.13 L498.21 140.16 L498.61 140.18 L499.01 140.17 L499.42 140.16 L499.82 140.14 L500.22 140.12 L500.62 140.08 L501.02 140.04 L501.42 140 L501.82 139.95 L502.23 139.9 L502.63 139.85 L503.03 139.79 L503.43 139.73 L503.83 139.67 L504.23 139.61 L504.64 139.55 L505.04 139.48 L505.44 139.42 L505.84 139.36 L506.24 139.3 L506.64 139.25 L507.04 139.19 L507.45 139.14 L507.85 139.1 L508.25 139.06 L508.65 139.02 L509.05 138.99 L509.45 138.96 L509.85 138.93 L510.26 138.91 L510.66 138.88 L511.06 138.85 L511.46 138.82 L511.86 138.79 L512.26 138.77 L512.66 138.74 L513.07 138.71 L513.47 138.69 L513.87 138.66 L514.27 138.64 L514.67 138.61 L515.07 138.59 L515.47 138.56 L515.88 138.54 L516.28 138.52 L516.68 138.5 L517.08 138.48 L517.48 138.46 L517.88 138.44 L518.28 138.42 L518.69 138.4 L519.09 138.38 L519.49 138.37 L519.89 138.35 L520.29 138.34 L520.69 138.33 L521.09 138.32 L521.5 138.3 L521.9 138.3 L522.3 138.29 L522.7 138.28" fill="none" stroke="#000080" stroke-width="1.35" stroke-linejoin="round" />
<path d="M368.55 122.91 L434.38 122.66 L434.78 122.66 L435.18 122.66 L435.58 122.66 L435.99 122.66 L436.39 122.66 L436.79 122.66 L437.19 122.66 L437.59 122.66 L437.99 122.66 L438.39 122.66 L438.8 122.66 L439.2 122.66 L439.6 122.67 L440 122.92 L440.4 123.35 L440.8 123.79 L441.2 124.08 L441.61 123.98 L442.01 123.12 L442.41 121.67 L442.81 119.88 L443.21 117.97 L443.61 116.2 L444.01 114.79 L444.42 113.99 L444.82 114.11 L445.22 115.5 L445.62 117.92 L446.02 121.05 L446.42 124.61 L446.82 128.27 L447.23 131.74 L447.63 134.71 L448.03 136.88 L448.43 137.93 L448.83 137.76 L449.23 136.8 L449.64 135.17 L450.04 133.02 L450.44 130.47 L450.84 127.64 L451.24 124.67 L451.64 121.67 L452.04 118.77 L452.45 116.1 L452.85 113.79 L453.25 111.96 L453.65 110.74 L454.05 110.25 L454.45 110.45 L454.85 111.1 L455.26 112.12 L455.66 113.46 L456.06 115.05 L456.46 116.82 L456.86 118.7 L457.26 120.63 L457.66 122.54 L458.07 124.37 L458.47 126.05 L458.87 127.51 L459.27 128.69 L459.67 129.51 L460.07 129.93 L460.47 129.92 L460.88 129.73 L461.28 129.39 L461.68 128.93 L462.08 128.36 L462.48 127.7 L462.88 126.98 L463.28 126.22 L463.69 125.43 L464.09 124.64 L464.49 123.87 L464.89 123.15 L465.29 122.48 L465.69 121.89 L466.09 121.4 L466.5 121.04 L466.9 120.82 L467.3 120.76 L467.7 120.82 L468.1 120.97 L468.5 121.17 L468.91 121.43 L469.31 121.71 L469.71 122.02 L470.11 122.33 L470.51 122.62 L470.91 122.89 L471.31 123.12 L471.72 123.28 L472.12 123.37 L472.52 123.38 L472.92 123.26 L473.32 123.03 L473.72 122.72 L474.12 122.34 L474.53 121.91 L474.93 121.45 L475.33 120.97 L475.73 120.49 L476.13 120.03 L476.53 119.62 L476.93 119.26 L477.34 118.98 L477.74 118.79 L478.14 118.72 L478.54 118.76 L478.94 118.88 L479.34 119.09 L479.74 119.36 L480.15 119.69 L480.55 120.06 L480.95 120.46 L481.35 120.89 L481.75 121.34 L482.15 121.78 L482.55 122.22 L482.96 122.63 L483.36 123.02 L483.76 123.36 L484.16 123.66 L484.56 123.89 L484.96 124.04 L485.36 124.12 L485.77 124.11 L486.17 124.08 L486.57 124.02 L486.97 123.95 L487.37 123.86 L487.77 123.77 L488.18 123.67 L488.58 123.56 L488.98 123.46 L489.38 123.36 L489.78 123.27 L490.18 123.2 L490.58 123.14 L490.99 123.11 L491.39 123.1 L491.79 123.11 L492.19 123.15 L492.59 123.2 L492.99 123.27 L493.39 123.36 L493.8 123.45 L494.2 123.55 L494.6 123.66 L495 123.76 L495.4 123.87 L495.8 123.98 L496.2 124.08 L496.61 124.17 L497.01 124.25 L497.41 124.32 L497.81 124.37 L498.21 124.4 L498.61 124.41 L499.01 124.41 L499.42 124.4 L499.82 124.38 L500.22 124.36 L500.62 124.33 L501.02 124.3 L501.42 124.26 L501.82 124.22 L502.23 124.18 L502.63 124.13 L503.03 124.08 L503.43 124.03 L503.83 123.97 L504.23 123.92 L504.64 123.87 L505.04 123.81 L505.44 123.76 L505.84 123.71 L506.24 123.65 L506.64 123.6 L507.04 123.56 L507.45 123.51 L507.85 123.47 L508.25 123.43 L508.65 123.4 L509.05 123.37 L509.45 123.35 L509.85 123.32 L510.26 123.29 L510.66 123.26 L511.06 123.24 L511.46 123.21 L511.86 123.18 L512.26 123.16 L512.66 123.13 L513.07 123.11 L513.47 123.08 L513.87 123.06 L514.27 123.03 L514.67 123.01 L515.07 122.99 L515.47 122.96 L515.88 122.94 L516.28 122.92 L516.68 122.9 L517.08 122.88 L517.48 122.86 L517.88 122.84 L518.28 122.82 L518.69 122.8 L519.09 122.78 L519.49 122.77 L519.89 122.75 L520.29 122.73 L520.69 122.72 L521.09 122.71 L521.5 122.69 L521.9 122.68 L522.3 122.67 L522.7 122.66" fill="none" stroke="#0000ff" stroke-width="1.35" stroke-linejoin="round" />
<path d="M368.55 107.22 L437.3 106.89 L437.7 106.89 L438.1 106.89 L438.5 106.89 L438.9 106.89 L439.3 106.89 L439.7 106.89 L440.11 106.89 L440.51 106.89 L440.91 106.89 L441.31 106.89 L441.71 106.89 L442.11 106.89 L442.51 106.91 L442.91 107.19 L443.31 107.66 L443.71 108.12 L444.12 108.35 L444.52 107.95 L444.92 106.7 L445.32 104.91 L445.72 102.89 L446.12 100.94 L446.52 99.38 L446.92 98.51 L447.32 98.66 L447.72 99.96 L448.12 102.17 L448.53 105.04 L448.93 108.29 L449.33 111.68 L449.73 114.93 L450.13 117.78 L450.53 119.98 L450.93 121.27 L451.33 121.4 L451.73 120.49 L452.13 118.74 L452.54 116.34 L452.94 113.47 L453.34 110.31 L453.74 107.03 L454.14 103.83 L454.54 100.89 L454.94 98.38 L455.34 96.5 L455.74 95.41 L456.14 95.24 L456.54 95.58 L456.95 96.26 L457.35 97.23 L457.75 98.45 L458.15 99.85 L458.55 101.41 L458.95 103.07 L459.35 104.79 L459.75 106.51 L460.15 108.19 L460.55 109.79 L460.96 111.25 L461.36 112.53 L461.76 113.59 L462.16 114.37 L462.56 114.82 L462.96 114.91 L463.36 114.75 L463.76 114.4 L464.16 113.89 L464.56 113.24 L464.96 112.49 L465.37 111.66 L465.77 110.78 L466.17 109.88 L466.57 108.97 L466.97 108.1 L467.37 107.28 L467.77 106.55 L468.17 105.93 L468.57 105.44 L468.97 105.12 L469.37 105 L469.78 105.03 L470.18 105.15 L470.58 105.34 L470.98 105.58 L471.38 105.86 L471.78 106.16 L472.18 106.47 L472.58 106.77 L472.98 107.05 L473.38 107.29 L473.79 107.47 L474.19 107.59 L474.59 107.62 L474.99 107.54 L475.39 107.36 L475.79 107.08 L476.19 106.73 L476.59 106.33 L476.99 105.87 L477.39 105.4 L477.79 104.91 L478.2 104.42 L478.6 103.96 L479 103.54 L479.4 103.17 L479.8 102.86 L480.2 102.64 L480.6 102.53 L481 102.52 L481.4 102.6 L481.8 102.76 L482.21 102.97 L482.61 103.24 L483.01 103.55 L483.41 103.9 L483.81 104.28 L484.21 104.68 L484.61 105.08 L485.01 105.48 L485.41 105.88 L485.81 106.25 L486.21 106.6 L486.62 106.91 L487.02 107.18 L487.42 107.39 L487.82 107.54 L488.22 107.61 L488.62 107.62 L489.02 107.58 L489.42 107.52 L489.82 107.44 L490.22 107.35 L490.63 107.25 L491.03 107.15 L491.43 107.06 L491.83 106.98 L492.23 106.92 L492.63 106.89 L493.03 106.9 L493.43 106.92 L493.83 106.97 L494.23 107.03 L494.63 107.11 L495.04 107.21 L495.44 107.31 L495.84 107.43 L496.24 107.55 L496.64 107.67 L497.04 107.8 L497.44 107.93 L497.84 108.06 L498.24 108.19 L498.64 108.31 L499.04 108.42 L499.45 108.52 L499.85 108.61 L500.25 108.68 L500.65 108.74 L501.05 108.77 L501.45 108.79 L501.85 108.79 L502.25 108.78 L502.65 108.76 L503.05 108.74 L503.46 108.71 L503.86 108.68 L504.26 108.64 L504.66 108.6 L505.06 108.55 L505.46 108.5 L505.86 108.45 L506.26 108.39 L506.66 108.33 L507.06 108.28 L507.46 108.22 L507.87 108.15 L508.27 108.09 L508.67 108.03 L509.07 107.97 L509.47 107.91 L509.87 107.86 L510.27 107.8 L510.67 107.75 L511.07 107.7 L511.47 107.65 L511.88 107.61 L512.28 107.57 L512.68 107.53 L513.08 107.49 L513.48 107.45 L513.88 107.41 L514.28 107.37 L514.68 107.33 L515.08 107.29 L515.48 107.25 L515.88 107.21 L516.29 107.17 L516.69 107.13 L517.09 107.1 L517.49 107.06 L517.89 107.02 L518.29 106.98 L518.69 106.95 L519.09 106.91 L519.49 106.88 L519.89 106.84 L520.3 106.81 L520.7 106.77 L521.1 106.74 L521.5 106.7 L521.9 106.67 L522.3 106.63 L522.7 106.6" fill="none" stroke="#ff00ff" stroke-width="1.35" stroke-linejoin="round" />
<path d="M368.55 91.53 L437.3 91.56 L437.7 91.56 L438.1 91.56 L438.5 91.56 L438.9 91.56 L439.3 91.56 L439.7 91.56 L440.11 91.56 L440.51 91.56 L440.91 91.56 L441.31 91.56 L441.71 91.56 L442.11 91.56 L442.51 91.57 L442.91 91.72 L443.31 92 L443.71 92.31 L444.12 92.59 L444.52 92.73 L444.92 92.48 L445.32 91.56 L445.72 90.15 L446.12 88.46 L446.52 86.7 L446.92 85.05 L447.32 83.73 L447.72 82.94 L448.12 82.93 L448.53 84.09 L448.93 86.24 L449.33 89.12 L449.73 92.42 L450.13 95.86 L450.53 99.15 L450.93 102.02 L451.33 104.17 L451.73 105.32 L452.13 105.27 L452.54 104.34 L452.94 102.7 L453.34 100.49 L453.74 97.88 L454.14 95 L454.54 92 L454.94 89.04 L455.34 86.26 L455.74 83.8 L456.14 81.83 L456.54 80.48 L456.95 79.9 L457.35 80.04 L457.75 80.6 L458.15 81.51 L458.55 82.71 L458.95 84.15 L459.35 85.76 L459.75 87.48 L460.15 89.26 L460.55 91.04 L460.96 92.76 L461.36 94.36 L461.76 95.79 L462.16 96.98 L462.56 97.88 L462.96 98.43 L463.36 98.57 L463.76 98.46 L464.16 98.22 L464.56 97.86 L464.96 97.39 L465.37 96.84 L465.77 96.22 L466.17 95.55 L466.57 94.85 L466.97 94.13 L467.37 93.41 L467.77 92.71 L468.17 92.05 L468.57 91.44 L468.97 90.9 L469.37 90.45 L469.78 90.11 L470.18 89.89 L470.58 89.81 L470.98 89.85 L471.38 89.96 L471.78 90.12 L472.18 90.33 L472.58 90.58 L472.98 90.85 L473.38 91.12 L473.79 91.39 L474.19 91.65 L474.59 91.88 L474.99 92.07 L475.39 92.21 L475.79 92.28 L476.19 92.28 L476.59 92.16 L476.99 91.94 L477.39 91.64 L477.79 91.26 L478.2 90.84 L478.6 90.38 L479 89.89 L479.4 89.4 L479.8 88.93 L480.2 88.48 L480.6 88.07 L481 87.72 L481.4 87.45 L481.8 87.26 L482.21 87.19 L482.61 87.21 L483.01 87.3 L483.41 87.45 L483.81 87.66 L484.21 87.9 L484.61 88.18 L485.01 88.49 L485.41 88.82 L485.81 89.16 L486.21 89.51 L486.62 89.85 L487.02 90.19 L487.42 90.5 L487.82 90.79 L488.22 91.04 L488.62 91.25 L489.02 91.42 L489.42 91.52 L489.82 91.56 L490.22 91.55 L490.63 91.5 L491.03 91.44 L491.43 91.35 L491.83 91.25 L492.23 91.15 L492.63 91.06 L493.03 90.97 L493.43 90.9 L493.83 90.85 L494.23 90.83 L494.63 90.85 L495.04 90.89 L495.44 90.95 L495.84 91.03 L496.24 91.13 L496.64 91.24 L497.04 91.36 L497.44 91.5 L497.84 91.64 L498.24 91.79 L498.64 91.94 L499.04 92.09 L499.45 92.24 L499.85 92.38 L500.25 92.51 L500.65 92.64 L501.05 92.75 L501.45 92.84 L501.85 92.92 L502.25 92.98 L502.65 93.01 L503.05 93.02 L503.46 93.02 L503.86 93.02 L504.26 93.01 L504.66 92.99 L505.06 92.98 L505.46 92.96 L505.86 92.94 L506.26 92.92 L506.66 92.89 L507.06 92.86 L507.46 92.83 L507.87 92.8 L508.27 92.77 L508.67 92.74 L509.07 92.7 L509.47 92.66 L509.87 92.63 L510.27 92.59 L510.67 92.55 L511.07 92.51 L511.47 92.47 L511.88 92.43 L512.28 92.39 L512.68 92.35 L513.08 92.31 L513.48 92.27 L513.88 92.22 L514.28 92.18 L514.68 92.13 L515.08 92.09 L515.48 92.03 L515.88 91.98 L516.29 91.93 L516.69 91.87 L517.09 91.81 L517.49 91.75 L517.89 91.69 L518.29 91.62 L518.69 91.56 L519.09 91.49 L519.49 91.42 L519.89 91.35 L520.3 91.28 L520.7 91.21 L521.1 91.14 L521.5 91.06 L521.9 90.99 L522.3 90.91 L522.7 90.83" fill="none" stroke="#8a2be2" stroke-width="1.35" stroke-linejoin="round" />
<path d="M368.55 75.84 L438.76 75.94 L439.16 75.94 L439.56 75.94 L439.96 75.94 L440.37 75.94 L440.77 75.94 L441.17 75.94 L441.57 75.94 L441.97 75.94 L442.37 75.94 L442.78 75.94 L443.18 75.94 L443.58 75.94 L443.98 75.94 L444.38 75.94 L444.78 75.96 L445.19 76.12 L445.59 76.38 L445.99 76.66 L446.39 76.88 L446.79 76.97 L447.19 76.66 L447.6 75.86 L448 74.72 L448.4 73.4 L448.8 72.06 L449.2 70.84 L449.6 69.9 L450 69.41 L450.41 69.59 L450.81 70.66 L451.21 72.43 L451.61 74.7 L452.01 77.24 L452.41 79.84 L452.82 82.27 L453.22 84.33 L453.62 85.79 L454.02 86.44 L454.42 86.09 L454.82 84.8 L455.23 82.75 L455.63 80.14 L456.03 77.16 L456.43 73.98 L456.83 70.82 L457.23 67.84 L457.64 65.25 L458.04 63.23 L458.44 61.97 L458.84 61.65 L459.24 62.21 L459.64 63.44 L460.05 65.22 L460.45 67.42 L460.85 69.9 L461.25 72.53 L461.65 75.19 L462.05 77.73 L462.46 80.03 L462.86 81.96 L463.26 83.37 L463.66 84.15 L464.06 84.25 L464.46 84.12 L464.87 83.86 L465.27 83.5 L465.67 83.04 L466.07 82.5 L466.47 81.89 L466.87 81.23 L467.28 80.53 L467.68 79.8 L468.08 79.05 L468.48 78.31 L468.88 77.57 L469.28 76.87 L469.68 76.2 L470.09 75.58 L470.49 75.04 L470.89 74.57 L471.29 74.19 L471.69 73.93 L472.09 73.78 L472.5 73.76 L472.9 73.89 L473.3 74.13 L473.7 74.48 L474.1 74.91 L474.5 75.42 L474.91 75.98 L475.31 76.58 L475.71 77.2 L476.11 77.83 L476.51 78.44 L476.91 79.03 L477.32 79.57 L477.72 80.06 L478.12 80.46 L478.52 80.78 L478.92 80.98 L479.32 81.05 L479.73 80.98 L480.13 80.76 L480.53 80.4 L480.93 79.94 L481.33 79.38 L481.73 78.74 L482.14 78.04 L482.54 77.31 L482.94 76.56 L483.34 75.8 L483.74 75.06 L484.14 74.35 L484.55 73.7 L484.95 73.11 L485.35 72.62 L485.75 72.23 L486.15 71.97 L486.55 71.86 L486.96 71.87 L487.36 71.95 L487.76 72.07 L488.16 72.24 L488.56 72.43 L488.96 72.65 L489.37 72.89 L489.77 73.13 L490.17 73.37 L490.57 73.61 L490.97 73.82 L491.37 74.01 L491.77 74.16 L492.18 74.27 L492.58 74.33 L492.98 74.33 L493.38 74.25 L493.78 74.1 L494.18 73.91 L494.59 73.69 L494.99 73.45 L495.39 73.21 L495.79 72.99 L496.19 72.8 L496.59 72.66 L497 72.59 L497.4 72.59 L497.8 72.62 L498.2 72.67 L498.6 72.75 L499 72.85 L499.41 72.96 L499.81 73.09 L500.21 73.24 L500.61 73.39 L501.01 73.56 L501.41 73.73 L501.82 73.91 L502.22 74.09 L502.62 74.27 L503.02 74.45 L503.42 74.63 L503.82 74.8 L504.23 74.96 L504.63 75.11 L505.03 75.25 L505.43 75.38 L505.83 75.49 L506.23 75.58 L506.64 75.68 L507.04 75.78 L507.44 75.89 L507.84 75.99 L508.24 76.09 L508.64 76.19 L509.05 76.29 L509.45 76.39 L509.85 76.49 L510.25 76.59 L510.65 76.68 L511.05 76.77 L511.45 76.85 L511.86 76.93 L512.26 77.01 L512.66 77.08 L513.06 77.15 L513.46 77.21 L513.86 77.26 L514.27 77.3 L514.67 77.34 L515.07 77.37 L515.47 77.39 L515.87 77.4 L516.27 77.4 L516.68 77.4 L517.08 77.39 L517.48 77.37 L517.88 77.35 L518.28 77.33 L518.68 77.3 L519.09 77.26 L519.49 77.22 L519.89 77.17 L520.29 77.12 L520.69 77.06 L521.09 76.99 L521.5 76.92 L521.9 76.84 L522.3 76.76 L522.7 76.67" fill="none" stroke="#4682b4" stroke-width="1.35" stroke-linejoin="round" />
<path d="M368.55 60.15 L438.76 60.18 L439.16 60.18 L439.56 60.18 L439.96 60.18 L440.37 60.18 L440.77 60.18 L441.17 60.18 L441.57 60.18 L441.97 60.18 L442.37 60.18 L442.78 60.18 L443.18 60.18 L443.58 60.18 L443.98 60.18 L444.38 60.18 L444.78 60.2 L445.19 60.36 L445.59 60.64 L445.99 60.97 L446.39 61.29 L446.79 61.53 L447.19 61.64 L447.6 61.28 L448 60.22 L448.4 58.68 L448.8 56.89 L449.2 55.09 L449.6 53.49 L450 52.34 L450.41 51.86 L450.81 52.36 L451.21 53.87 L451.61 56.12 L452.01 58.83 L452.41 61.71 L452.82 64.48 L453.22 66.86 L453.62 68.58 L454.02 69.36 L454.42 68.93 L454.82 67.36 L455.23 64.95 L455.63 61.96 L456.03 58.67 L456.43 55.36 L456.83 52.3 L457.23 49.79 L457.64 48.09 L458.04 47.48 L458.44 47.87 L458.84 48.92 L459.24 50.52 L459.64 52.54 L460.05 54.87 L460.45 57.38 L460.85 59.95 L461.25 62.46 L461.65 64.8 L462.05 66.84 L462.46 68.46 L462.86 69.54 L463.26 69.96 L463.66 69.8 L464.06 69.3 L464.46 68.52 L464.87 67.5 L465.27 66.3 L465.67 64.96 L466.07 63.53 L466.47 62.07 L466.87 60.63 L467.28 59.25 L467.68 57.98 L468.08 56.88 L468.48 56 L468.88 55.39 L469.28 55.09 L469.68 55.09 L470.09 55.23 L470.49 55.47 L470.89 55.81 L471.29 56.23 L471.69 56.73 L472.09 57.29 L472.5 57.91 L472.9 58.58 L473.3 59.28 L473.7 60.01 L474.1 60.75 L474.5 61.51 L474.91 62.26 L475.31 62.99 L475.71 63.71 L476.11 64.39 L476.51 65.03 L476.91 65.61 L477.32 66.14 L477.72 66.59 L478.12 66.96 L478.52 67.24 L478.92 67.41 L479.32 67.48 L479.73 67.37 L480.13 67.06 L480.53 66.57 L480.93 65.91 L481.33 65.12 L481.73 64.22 L482.14 63.23 L482.54 62.18 L482.94 61.09 L483.34 59.99 L483.74 58.9 L484.14 57.85 L484.55 56.86 L484.95 55.96 L485.35 55.17 L485.75 54.51 L486.15 54.02 L486.55 53.71 L486.96 53.61 L487.36 53.64 L487.76 53.73 L488.16 53.86 L488.56 54.04 L488.96 54.26 L489.37 54.51 L489.77 54.79 L490.17 55.09 L490.57 55.41 L490.97 55.73 L491.37 56.07 L491.77 56.4 L492.18 56.72 L492.58 57.03 L492.98 57.32 L493.38 57.6 L493.78 57.84 L494.18 58.05 L494.59 58.21 L494.99 58.34 L495.39 58.41 L495.79 58.42 L496.19 58.41 L496.59 58.37 L497 58.31 L497.4 58.24 L497.8 58.16 L498.2 58.07 L498.6 57.98 L499 57.9 L499.41 57.83 L499.81 57.77 L500.21 57.72 L500.61 57.7 L501.01 57.7 L501.41 57.72 L501.82 57.76 L502.22 57.81 L502.62 57.88 L503.02 57.96 L503.42 58.05 L503.82 58.15 L504.23 58.25 L504.63 58.36 L505.03 58.47 L505.43 58.58 L505.83 58.7 L506.23 58.81 L506.64 58.96 L507.04 59.14 L507.44 59.33 L507.84 59.55 L508.24 59.78 L508.64 60.02 L509.05 60.26 L509.45 60.52 L509.85 60.76 L510.25 61.01 L510.65 61.25 L511.05 61.47 L511.45 61.68 L511.86 61.86 L512.26 62.03 L512.66 62.16 L513.06 62.27 L513.46 62.34 L513.86 62.37 L514.27 62.37 L514.67 62.36 L515.07 62.36 L515.47 62.34 L515.87 62.33 L516.27 62.31 L516.68 62.28 L517.08 62.24 L517.48 62.2 L517.88 62.15 L518.28 62.09 L518.68 62.02 L519.09 61.94 L519.49 61.85 L519.89 61.74 L520.29 61.63 L520.69 61.49 L521.09 61.35 L521.5 61.19 L521.9 61.02 L522.3 60.82 L522.7 60.61" fill="none" stroke="#800080" stroke-width="1.35" stroke-linejoin="round" />
</g>
<text x="373.8" y="59.55" font-size="8.5" fill="#000" stroke="#000" text-anchor="start" >98% RH</text>
<text x="373.8" y="75.24" font-size="8.5" fill="#000" stroke="#000" text-anchor="start" >93% RH</text>
<text x="373.8" y="90.93" font-size="8.5" fill="#000" stroke="#000" text-anchor="start" >88% RH</text>
<text x="373.8" y="106.62" font-size="8.5" fill="#000" stroke="#000" text-anchor="start" >86% RH</text>
<text x="373.8" y="122.31" font-size="8.5" fill="#000" stroke="#000" text-anchor="start" >84% RH</text>
<text x="373.8" y="138" font-size="8.5" fill="#000" stroke="#000" text-anchor="start" >81% RH</text>
<text x="373.8" y="153.69" font-size="8.5" fill="#000" stroke="#000" text-anchor="start" >77% RH</text>
<text x="373.8" y="169.38" font-size="8.5" fill="#000" stroke="#000" text-anchor="start" >75% RH</text>
<text x="373.8" y="185.07" font-size="8.5" fill="#000" stroke="#000" text-anchor="start" >58% RH</text>
<text x="373.8" y="200.76" font-size="8.5" fill="#000" stroke="#000" text-anchor="start" >53% RH</text>
<text x="373.8" y="216.45" font-size="8.5" fill="#000" stroke="#000" text-anchor="start" >45% RH</text>
<text x="373.8" y="232.14" font-size="8.5" fill="#000" stroke="#000" text-anchor="start" >30% RH</text>
<text x="373.8" y="247.83" font-size="8.5" fill="#000" stroke="#000" text-anchor="start" >12% RH</text>
<text x="373.6" y="38.9" font-size="9.6" fill="#000" stroke="#000" text-anchor="start" >Longitudinal</text>
<line x1="587.2" y1="75.2" x2="619.2" y2="62" stroke="#ff0000" stroke-width="0.8" />
<g clip-path="url(#clipBS)">
<path d="M530.26 243.54 L530.66 245.95 L531.06 248.21 L531.46 250.31 L531.86 252.23 L532.26 253.98 L532.66 255.66 L533.06 257.19 L533.46 258.52 L533.86 259.56 L534.27 260.54 L534.67 261.39 L535.07 261.91 L535.47 261.9 L535.87 261.21 L536.27 260.02 L536.67 258.56 L537.07 257.05 L537.47 255.59 L537.87 253.72 L538.28 251.62 L538.68 249.56 L539.08 247.82 L539.48 246.65 L539.88 246.11 L540.28 245.66 L540.68 245.28 L541.08 244.99 L541.48 244.79 L541.89 244.71 L542.29 244.84 L542.69 245.26 L543.09 245.88 L543.49 246.61 L543.89 247.35 L544.29 248.01 L544.69 248.74 L545.09 249.58 L545.49 250.36 L545.9 250.94 L546.3 251.13 L546.7 251.07 L547.1 250.94 L547.5 250.77 L547.9 250.59 L548.3 250.43 L548.7 250.33 L549.1 250.37 L549.5 250.97 L549.91 252.02 L550.31 253.28 L550.71 254.53 L551.11 255.52 L551.51 256.13 L551.91 256.7 L552.31 257.22 L552.71 257.66 L553.11 257.98 L553.51 258.13 L553.92 257.84 L554.32 256.74 L554.72 255.19 L555.12 253.57 L555.52 252.29 L555.92 251.72 L556.32 252.51 L556.72 254.71 L557.12 257.61 L557.53 260.49 L557.93 262.65 L558.33 263.38 L558.73 262.2 L559.13 259.56 L559.53 256.13 L559.93 252.58 L560.33 248.75 L560.73 243.58 L561.13 238.47 L561.54 234.94 L561.94 234.54 L562.34 238.45 L562.74 245.39 L563.14 253.7 L563.54 261.74 L563.94 267.86 L564.34 270.4 L564.74 268.96 L565.14 265.08 L565.55 259.77 L565.95 254.07 L566.35 248.99 L566.75 245.57 L567.15 244.78 L567.55 246.31 L567.95 249.42 L568.35 253.59 L568.75 258.33 L569.15 263.12 L569.56 267.46 L569.96 270.83 L570.36 272.73 L570.76 272.67 L571.16 270.63 L571.56 267.13 L571.96 262.66 L572.36 257.76 L572.76 252.94 L573.17 248.73 L573.57 245.63 L573.97 244.17 L574.37 244.22 L574.77 244.57 L575.17 245.13 L575.57 245.85 L575.97 246.67 L576.37 247.54 L576.77 248.4 L577.18 249.25 L577.58 250.39 L577.98 251.74 L578.38 253.14 L578.78 254.44 L579.18 255.52 L579.58 256.21 L579.98 256.34 L580.38 255.2 L580.78 252.93 L581.19 250.05 L581.59 247.09 L581.99 244.59 L582.39 242.96 L582.79 241.51 L583.19 240.12 L583.59 238.91 L583.99 238 L584.39 237.52 L584.79 237.49 L585.2 237.6 L585.6 237.81 L586 238.1 L586.4 238.47 L586.8 238.92 L587.2 239.42 L587.6 240.01 L588 241.24 L588.4 243.1 L588.8 245.34 L589.21 247.73 L589.61 250.04 L590.01 252.12 L590.41 254.46 L590.81 256.94 L591.21 259.28 L591.61 261.24 L592.01 262.55 L592.41 263.15 L592.82 263.55 L593.22 263.85 L593.62 264.09 L594.02 264.32 L594.42 264.57 L594.82 264.89 L595.22 265.32 L595.62 265.91 L596.02 266.62 L596.42 267.41 L596.83 268.23 L597.23 269.04 L597.63 269.8 L598.03 270.46 L598.43 271.11 L598.83 271.81 L599.23 272.49 L599.63 273.1 L600.03 273.57 L600.43 273.85 L600.84 273.86 L601.24 273.35 L601.64 272.36 L602.04 271 L602.44 269.38 L602.84 267.59 L603.24 265.76 L603.64 263.47 L604.04 260.49 L604.44 257.2 L604.85 254 L605.25 251.07 L605.65 247.91 L606.05 244.88 L606.45 242.41 L606.85 240.92 L607.25 239.84 L607.65 238.88 L608.05 238.08 L608.46 237.5 L608.86 237.17 L609.26 237.12 L609.66 237.12 L610.06 237.12 L610.46 237.12 L610.86 237.12 L611.26 237.12 L611.66 237.12 L612.06 237.12 L612.47 237.18 L612.87 237.34 L613.27 237.55 L613.67 237.81 L614.07 238.08 L614.47 238.35 L614.87 238.59 L615.27 238.79 L615.67 238.91 L616.07 238.99 L616.48 239.05 L616.88 239.09 L617.28 239.15 L617.68 239.22 L618.08 239.32 L618.48 239.48 L618.88 240.35 L619.28 241.99 L619.68 244.02 L620.08 247.44 L620.49 252.01 L620.89 256.74 L621.29 260.6 L621.69 263.5 L622.09 266.37 L622.49 268.75 L622.89 270.18 L623.29 270.27 L623.69 269.22 L624.1 267.43 L624.5 265.23 L624.9 262.98 L625.3 261.01 L625.7 259.68 L626.1 259.32 L626.5 259.92 L626.9 261.16 L627.3 262.79 L627.7 264.54 L628.11 266.13 L628.51 267.32 L628.91 267.83 L629.31 267.4 L629.71 266.13 L630.11 264.29 L630.51 262.19 L630.91 260.11 L631.31 258.35 L631.71 257.19 L632.12 256.74 L632.52 256.47 L632.92 256.29 L633.32 256.15 L633.72 256 L634.12 255.8 L634.52 255.49 L634.92 254.94 L635.32 253.17 L635.72 250.34 L636.13 246.97 L636.53 243.59 L636.93 239.42 L637.33 234.22 L637.73 229.41 L638.13 226.4 L638.53 225.85 L638.93 225.64 L639.33 225.5 L639.73 225.44 L640.14 226.57 L640.54 230.14 L640.94 234.76 L641.34 239.23 L641.74 245.15 L642.14 251.69 L642.54 257.02 L642.94 259.3 L643.34 259.17 L643.75 258.78 L644.15 258.2 L644.55 257.51 L644.95 256.76 L645.35 256.04 L645.75 255.39 L646.15 254.82 L646.55 254.18 L646.95 253.52 L647.35 252.93 L647.76 252.5 L648.16 252.3 L648.56 252.34 L648.96 252.49 L649.36 252.7 L649.76 252.94 L650.16 253.17 L650.56 253.35 L650.96 253.46 L651.36 253.46 L651.77 253.4 L652.17 253.32 L652.57 253.23 L652.97 253.16 L653.37 253.12 L653.77 253.22 L654.17 253.6 L654.57 254.17 L654.97 254.83 L655.37 255.48 L655.78 256.02 L656.18 256.34 L656.58 256.36 L656.98 256.14 L657.38 255.75 L657.78 255.25 L658.18 254.71 L658.58 254.19 L658.98 253.73 L659.39 253.41 L659.79 253.14 L660.19 252.87 L660.59 252.63 L660.99 252.44 L661.39 252.32 L661.79 252.34 L662.19 252.77 L662.59 253.57 L662.99 254.57 L663.4 255.63 L663.8 256.58 L664.2 257.28 L664.6 257.56 L665 257.62 L665.4 257.65 L665.8 257.68 L666.2 257.7 L666.6 257.74 L667 257.82 L667.41 258.06 L667.81 258.46 L668.21 258.93 L668.61 259.38 L669.01 259.73 L669.41 259.89 L669.81 259.73 L670.21 259.21 L670.61 258.44 L671.01 257.53 L671.42 256.6 L671.82 255.77 L672.22 255.13 L672.62 254.6 L673.02 254.08 L673.42 253.6 L673.82 253.18 L674.22 252.83 L674.62 252.57 L675.03 252.35 L675.43 252.14 L675.83 251.96 L676.23 251.8 L676.63 251.66 L677.03 251.56 L677.43 251.48 L677.83 251.42 L678.23 251.38 L678.63 251.35 L679.04 251.33 L679.44 251.31 L679.84 251.28 L680.24 251.24 L680.64 251.18 L681.04 251.09 L681.44 250.76 L681.84 250.19 L682.24 249.48 L682.64 248.71 L683.05 247.97 L683.45 247.31 L683.85 246.65 L684.25 245.98 L684.65 245.29" fill="none" stroke="#8b4513" stroke-width="1.35" stroke-linejoin="round" />
<path d="M530.26 232.45 L530.66 232.53 L531.06 232.75 L531.46 233.06 L531.86 233.91 L532.26 235.33 L532.66 236.86 L533.06 238.07 L533.46 238.76 L533.86 239.38 L534.27 239.89 L534.67 240.21 L535.07 240.25 L535.47 240.05 L535.87 239.66 L536.27 239.14 L536.67 238.56 L537.07 237.97 L537.47 237.38 L537.87 236.6 L538.28 235.71 L538.68 234.84 L539.08 234.12 L539.48 233.67 L539.88 233.52 L540.28 233.41 L540.68 233.32 L541.08 233.27 L541.48 233.27 L541.89 233.43 L542.29 233.71 L542.69 234.06 L543.09 234.4 L543.49 234.68 L543.89 234.86 L544.29 235.01 L544.69 235.14 L545.09 235.26 L545.49 235.37 L545.9 235.46 L546.3 235.54 L546.7 235.61 L547.1 235.67 L547.5 235.71 L547.9 235.75 L548.3 235.78 L548.7 235.82 L549.1 235.87 L549.5 235.94 L549.91 236.09 L550.31 236.35 L550.71 236.68 L551.11 237.04 L551.51 237.39 L551.91 237.69 L552.31 237.89 L552.71 238 L553.11 238.09 L553.51 238.16 L553.92 238.22 L554.32 238.27 L554.72 238.28 L555.12 238.15 L555.52 237.7 L555.92 237.06 L556.32 236.36 L556.72 235.72 L557.12 235.27 L557.53 235.15 L557.93 236.03 L558.33 237.8 L558.73 239.78 L559.13 241.32 L559.53 241.75 L559.93 240.48 L560.33 237.88 L560.73 234.56 L561.13 231.15 L561.54 228.25 L561.94 226.51 L562.34 226.49 L562.74 228.17 L563.14 231.07 L563.54 234.68 L563.94 238.52 L564.34 242.07 L564.74 244.84 L565.14 246.33 L565.55 246.09 L565.95 244.21 L566.35 241.25 L566.75 237.73 L567.15 234.21 L567.55 231.23 L567.95 229.33 L568.35 229.04 L568.75 230.23 L569.15 232.45 L569.56 235.32 L569.96 238.42 L570.36 241.35 L570.76 243.71 L571.16 245.09 L571.56 245.16 L571.96 244.16 L572.36 242.43 L572.76 240.25 L573.17 237.9 L573.57 235.67 L573.97 233.83 L574.37 232.69 L574.77 232.47 L575.17 232.84 L575.57 233.51 L575.97 234.29 L576.37 235.01 L576.77 235.5 L577.18 235.64 L577.58 235.7 L577.98 235.75 L578.38 235.78 L578.78 235.81 L579.18 235.85 L579.58 235.9 L579.98 235.97 L580.38 236.14 L580.78 236.4 L581.19 236.68 L581.59 236.93 L581.99 237.09 L582.39 237.07 L582.79 236.63 L583.19 235.84 L583.59 234.85 L583.99 233.83 L584.39 232.92 L584.79 232.3 L585.2 232.09 L585.6 232.09 L586 232.09 L586.4 232.09 L586.8 232.09 L587.2 232.09 L587.6 232.09 L588 232.09 L588.4 232.09 L588.8 232.13 L589.21 232.55 L589.61 233.31 L590.01 234.27 L590.41 235.28 L590.81 236.2 L591.21 236.96 L591.61 237.78 L592.01 238.57 L592.41 239.18 L592.82 239.49 L593.22 239.63 L593.62 239.74 L594.02 239.83 L594.42 239.89 L594.82 239.95 L595.22 240.02 L595.62 240.1 L596.02 240.2 L596.42 240.34 L596.83 240.56 L597.23 240.83 L597.63 241.13 L598.03 241.44 L598.43 241.73 L598.83 241.98 L599.23 242.17 L599.63 242.33 L600.03 242.48 L600.43 242.63 L600.84 242.76 L601.24 242.86 L601.64 242.93 L602.04 242.96 L602.44 242.8 L602.84 242.31 L603.24 241.56 L603.64 240.63 L604.04 239.59 L604.44 238.51 L604.85 237.48 L605.25 236.47 L605.65 235.19 L606.05 233.89 L606.45 232.87 L606.85 232.37 L607.25 232.1 L607.65 231.86 L608.05 231.66 L608.46 231.5 L608.86 231.38 L609.26 231.3 L609.66 231.28 L610.06 231.28 L610.46 231.31 L610.86 231.34 L611.26 231.38 L611.66 231.43 L612.06 231.49 L612.47 231.54 L612.87 231.59 L613.27 231.64 L613.67 231.68 L614.07 231.73 L614.47 231.78 L614.87 231.83 L615.27 231.88 L615.67 231.93 L616.07 231.99 L616.48 232.06 L616.88 232.13 L617.28 232.19 L617.68 232.26 L618.08 232.33 L618.48 232.41 L618.88 232.51 L619.28 232.64 L619.68 232.79 L620.08 232.98 L620.49 233.45 L620.89 234.6 L621.29 236.1 L621.69 237.56 L622.09 238.69 L622.49 239.82 L622.89 240.97 L623.29 242.01 L623.69 242.81 L624.1 243.26 L624.5 243.21 L624.9 242.64 L625.3 241.71 L625.7 240.59 L626.1 239.46 L626.5 238.49 L626.9 237.85 L627.3 237.72 L627.7 238.07 L628.11 238.74 L628.51 239.59 L628.91 240.5 L629.31 241.32 L629.71 241.91 L630.11 242.14 L630.51 241.94 L630.91 241.43 L631.31 240.71 L631.71 239.88 L632.12 239.05 L632.52 238.32 L632.92 237.8 L633.32 237.51 L633.72 237.33 L634.12 237.19 L634.52 237.06 L634.92 236.93 L635.32 236.75 L635.72 236.49 L636.13 235.98 L636.53 234.32 L636.93 231.99 L637.33 229.73 L637.73 228.29 L638.13 227.43 L638.53 226.66 L638.93 226.09 L639.33 225.81 L639.73 225.94 L640.14 226.59 L640.54 227.58 L640.94 228.75 L641.34 229.96 L641.74 231.75 L642.14 233.88 L642.54 235.82 L642.94 237.09 L643.34 237.79 L643.75 238.39 L644.15 238.84 L644.55 239.08 L644.95 239.07 L645.35 238.9 L645.75 238.62 L646.15 238.27 L646.55 237.9 L646.95 237.54 L647.35 237.25 L647.76 237.07 L648.16 236.91 L648.56 236.75 L648.96 236.61 L649.36 236.48 L649.76 236.38 L650.16 236.32 L650.56 236.3 L650.96 236.3 L651.36 236.31 L651.77 236.33 L652.17 236.36 L652.57 236.39 L652.97 236.42 L653.37 236.46 L653.77 236.5 L654.17 236.55 L654.57 236.66 L654.97 236.83 L655.37 237.04 L655.78 237.27 L656.18 237.49 L656.58 237.69 L656.98 237.84 L657.38 237.93 L657.78 237.91 L658.18 237.77 L658.58 237.52 L658.98 237.21 L659.39 236.87 L659.79 236.54 L660.19 236.26 L660.59 236.05 L660.99 235.95 L661.39 235.96 L661.79 236.02 L662.19 236.11 L662.59 236.22 L662.99 236.36 L663.4 236.52 L663.8 236.69 L664.2 236.9 L664.6 237.28 L665 237.76 L665.4 238.25 L665.8 238.65 L666.2 238.86 L666.6 238.82 L667 238.62 L667.41 238.34 L667.81 238.05 L668.21 237.81 L668.61 237.7 L669.01 237.76 L669.41 237.93 L669.81 238.17 L670.21 238.43 L670.61 238.66 L671.01 238.82 L671.42 238.86 L671.82 238.67 L672.22 238.29 L672.62 237.8 L673.02 237.28 L673.42 236.84 L673.82 236.56 L674.22 236.45 L674.62 236.35 L675.03 236.27 L675.43 236.2 L675.83 236.14 L676.23 236.09 L676.63 236.04 L677.03 235.99 L677.43 235.95 L677.83 235.9 L678.23 235.86 L678.63 235.82 L679.04 235.78 L679.44 235.74 L679.84 235.71 L680.24 235.67 L680.64 235.63 L681.04 235.58 L681.44 235.54 L681.84 235.49 L682.24 235.44 L682.64 235.39 L683.05 235.34 L683.45 235.29 L683.85 235.24 L684.25 235.19 L684.65 235.13" fill="none" stroke="#ff0000" stroke-width="1.35" stroke-linejoin="round" />
<path d="M530.26 216.24 L530.66 216.29 L531.06 216.42 L531.46 216.61 L531.86 216.86 L532.26 217.15 L532.66 217.47 L533.06 217.97 L533.46 218.66 L533.86 219.43 L534.27 220.19 L534.67 220.98 L535.07 221.93 L535.47 222.81 L535.87 223.38 L536.27 223.44 L536.67 223.04 L537.07 222.36 L537.47 221.53 L537.87 220.68 L538.28 219.96 L538.68 219.43 L539.08 218.89 L539.48 218.35 L539.88 217.84 L540.28 217.4 L540.68 217.07 L541.08 216.87 L541.48 216.84 L541.89 217.03 L542.29 217.36 L542.69 217.75 L543.09 218.1 L543.49 218.31 L543.89 218.34 L544.29 218.3 L544.69 218.25 L545.09 218.18 L545.49 218.11 L545.9 218.04 L546.3 218 L546.7 218 L547.1 218.06 L547.5 218.21 L547.9 218.4 L548.3 218.62 L548.7 218.83 L549.1 219.02 L549.5 219.16 L549.91 219.24 L550.31 219.31 L550.71 219.37 L551.11 219.43 L551.51 219.48 L551.91 219.53 L552.31 219.6 L552.71 219.67 L553.11 219.77 L553.51 219.93 L553.92 220.15 L554.32 220.41 L554.72 220.69 L555.12 220.96 L555.52 221.19 L555.92 221.38 L556.32 221.48 L556.72 221.45 L557.12 221.12 L557.53 220.56 L557.93 219.86 L558.33 219.15 L558.73 218.53 L559.13 218.11 L559.53 218.01 L559.93 218.68 L560.33 219.93 L560.73 221.32 L561.13 222.37 L561.54 222.63 L561.94 221.82 L562.34 220.21 L562.74 218.12 L563.14 215.9 L563.54 213.88 L563.94 212.4 L564.34 211.8 L564.74 212.67 L565.14 215.02 L565.55 218.23 L565.95 221.68 L566.35 224.75 L566.75 226.81 L567.15 227.28 L567.55 226.16 L567.95 223.93 L568.35 221 L568.75 217.8 L569.15 214.73 L569.56 212.22 L569.96 210.68 L570.36 210.54 L570.76 211.98 L571.16 214.56 L571.56 217.77 L571.96 221.1 L572.36 224.04 L572.76 226.09 L573.17 226.75 L573.57 226.29 L573.97 225.23 L574.37 223.76 L574.77 222.05 L575.17 220.3 L575.57 218.69 L575.97 217.4 L576.37 216.62 L576.77 216.5 L577.18 216.77 L577.58 217.25 L577.98 217.84 L578.38 218.42 L578.78 218.89 L579.18 219.14 L579.58 219.15 L579.98 219.13 L580.38 219.08 L580.78 219.02 L581.19 218.96 L581.59 218.9 L581.99 218.84 L582.39 218.79 L582.79 218.76 L583.19 218.73 L583.59 218.7 L583.99 218.66 L584.39 218.6 L584.79 218.49 L585.2 218.16 L585.6 217.66 L586 217.06 L586.4 216.43 L586.8 215.82 L587.2 215.33 L587.6 214.99 L588 214.69 L588.4 214.4 L588.8 214.14 L589.21 213.92 L589.61 213.76 L590.01 213.68 L590.41 213.73 L590.81 214.07 L591.21 214.63 L591.61 215.31 L592.01 216.01 L592.41 216.73 L592.82 217.68 L593.22 218.75 L593.62 219.81 L594.02 220.75 L594.42 221.42 L594.82 221.83 L595.22 222.17 L595.62 222.47 L596.02 222.72 L596.42 222.96 L596.83 223.17 L597.23 223.38 L597.63 223.6 L598.03 223.83 L598.43 224.06 L598.83 224.3 L599.23 224.53 L599.63 224.77 L600.03 225 L600.43 225.22 L600.84 225.44 L601.24 225.65 L601.64 225.85 L602.04 226.03 L602.44 226.2 L602.84 226.35 L603.24 226.48 L603.64 226.58 L604.04 226.67 L604.44 226.72 L604.85 226.75 L605.25 226.49 L605.65 225.28 L606.05 223.84 L606.45 222.69 L606.85 221.49 L607.25 220.29 L607.65 219.16 L608.05 218.2 L608.46 217.48 L608.86 216.95 L609.26 216.48 L609.66 216.06 L610.06 215.72 L610.46 215.46 L610.86 215.3 L611.26 215.19 L611.66 215.1 L612.06 215.01 L612.47 214.94 L612.87 214.89 L613.27 214.86 L613.67 214.84 L614.07 214.85 L614.47 214.91 L614.87 214.99 L615.27 215.09 L615.67 215.18 L616.07 215.25 L616.48 215.3 L616.88 215.3 L617.28 215.28 L617.68 215.24 L618.08 215.2 L618.48 215.15 L618.88 215.11 L619.28 215.08 L619.68 215.07 L620.08 215.09 L620.49 215.12 L620.89 215.18 L621.29 215.26 L621.69 215.37 L622.09 215.49 L622.49 215.65 L622.89 216.22 L623.29 217.45 L623.69 218.95 L624.1 220.39 L624.5 222.15 L624.9 223.95 L625.3 225.3 L625.7 225.98 L626.1 226.48 L626.5 226.74 L626.9 226.44 L627.3 225.3 L627.7 223.82 L628.11 222.54 L628.51 221.92 L628.91 221.53 L629.31 221.21 L629.71 220.99 L630.11 220.91 L630.51 221 L630.91 221.24 L631.31 221.56 L631.71 221.92 L632.12 222.26 L632.52 222.52 L632.92 222.66 L633.32 222.62 L633.72 222.44 L634.12 222.15 L634.52 221.8 L634.92 221.43 L635.32 221.08 L635.72 220.8 L636.13 220.61 L636.53 220.47 L636.93 220.37 L637.33 220.27 L637.73 220.18 L638.13 220.06 L638.53 219.91 L638.93 219.7 L639.33 219.11 L639.73 218.08 L640.14 216.74 L640.54 215.26 L640.94 213.77 L641.34 212.42 L641.74 211.37 L642.14 210.74 L642.54 210.73 L642.94 211.59 L643.34 213.12 L643.75 215.03 L644.15 217.03 L644.55 218.84 L644.95 220.16 L645.35 220.71 L645.75 220.9 L646.15 221.07 L646.55 221.22 L646.95 221.33 L647.35 221.42 L647.76 221.47 L648.16 221.5 L648.56 221.48 L648.96 221.41 L649.36 221.31 L649.76 221.18 L650.16 221.04 L650.56 220.91 L650.96 220.74 L651.36 220.51 L651.77 220.26 L652.17 219.98 L652.57 219.72 L652.97 219.48 L653.37 219.3 L653.77 219.19 L654.17 219.17 L654.57 219.29 L654.97 219.52 L655.37 219.81 L655.78 220.12 L656.18 220.4 L656.58 220.6 L656.98 220.68 L657.38 220.64 L657.78 220.55 L658.18 220.42 L658.58 220.26 L658.98 220.08 L659.39 219.92 L659.79 219.78 L660.19 219.65 L660.59 219.52 L660.99 219.38 L661.39 219.23 L661.79 219.1 L662.19 218.99 L662.59 218.89 L662.99 218.83 L663.4 218.81 L663.8 218.89 L664.2 219.09 L664.6 219.39 L665 219.73 L665.4 220.08 L665.8 220.39 L666.2 220.63 L666.6 220.79 L667 220.95 L667.41 221.1 L667.81 221.24 L668.21 221.36 L668.61 221.44 L669.01 221.49 L669.41 221.47 L669.81 221.23 L670.21 220.83 L670.61 220.38 L671.01 219.99 L671.42 219.77 L671.82 219.78 L672.22 219.97 L672.62 220.26 L673.02 220.61 L673.42 220.96 L673.82 221.26 L674.22 221.46 L674.62 221.48 L675.03 221.32 L675.43 221 L675.83 220.58 L676.23 220.14 L676.63 219.71 L677.03 219.36 L677.43 219.15 L677.83 219.02 L678.23 218.9 L678.63 218.79 L679.04 218.68 L679.44 218.59 L679.84 218.51 L680.24 218.44 L680.64 218.39 L681.04 218.36 L681.44 218.34 L681.84 218.35 L682.24 218.4 L682.64 218.47 L683.05 218.56 L683.45 218.68 L683.85 218.82 L684.25 218.98 L684.65 219.16" fill="none" stroke="#ff8c00" stroke-width="1.35" stroke-linejoin="round" />
<path d="M530.26 201.29 L530.66 200.94 L531.06 200.71 L531.46 200.57 L531.86 200.5 L532.26 200.48 L532.66 200.48 L533.06 200.84 L533.46 201.56 L533.86 202.44 L534.27 203.26 L534.67 204 L535.07 204.87 L535.47 205.74 L535.87 206.44 L536.27 206.85 L536.67 206.82 L537.07 206.34 L537.47 205.57 L537.87 204.65 L538.28 203.73 L538.68 202.97 L539.08 202.38 L539.48 201.76 L539.88 201.16 L540.28 200.64 L540.68 200.28 L541.08 200.13 L541.48 200.15 L541.89 200.23 L542.29 200.35 L542.69 200.5 L543.09 200.67 L543.49 200.84 L543.89 201.11 L544.29 201.48 L544.69 201.91 L545.09 202.31 L545.49 202.63 L545.9 202.8 L546.3 202.78 L546.7 202.64 L547.1 202.45 L547.5 202.24 L547.9 202.07 L548.3 201.99 L548.7 202.02 L549.1 202.13 L549.5 202.27 L549.91 202.44 L550.31 202.6 L550.71 202.73 L551.11 202.8 L551.51 202.8 L551.91 202.74 L552.31 202.64 L552.71 202.53 L553.11 202.41 L553.51 202.31 L553.92 202.24 L554.32 202.23 L554.72 202.34 L555.12 202.56 L555.52 202.84 L555.92 203.16 L556.32 203.48 L556.72 203.77 L557.12 203.98 L557.53 204.16 L557.93 204.33 L558.33 204.48 L558.73 204.56 L559.13 204.46 L559.53 203.99 L559.93 203.3 L560.33 202.56 L560.73 201.95 L561.13 201.65 L561.54 202.08 L561.94 203.41 L562.34 204.98 L562.74 206.12 L563.14 206.18 L563.54 205.11 L563.94 203.29 L564.34 201.11 L564.74 198.98 L565.14 197.28 L565.55 196.42 L565.95 196.8 L566.35 198.4 L566.75 200.85 L567.15 203.75 L567.55 206.72 L567.95 209.37 L568.35 211.31 L568.75 212.15 L569.15 211.3 L569.56 208.74 L569.96 205.16 L570.36 201.27 L570.76 197.76 L571.16 195.33 L571.56 194.66 L571.96 195.5 L572.36 197.31 L572.76 199.78 L573.17 202.61 L573.57 205.48 L573.97 208.11 L574.37 210.18 L574.77 211.38 L575.17 211.46 L575.57 210.56 L575.97 208.99 L576.37 207.01 L576.77 204.91 L577.18 202.95 L577.58 201.41 L577.98 200.56 L578.38 200.56 L578.78 201.01 L579.18 201.7 L579.58 202.44 L579.98 203.06 L580.38 203.38 L580.78 203.36 L581.19 203.22 L581.59 203.01 L581.99 202.78 L582.39 202.55 L582.79 202.36 L583.19 202.24 L583.59 202.23 L583.99 202.25 L584.39 202.29 L584.79 202.34 L585.2 202.38 L585.6 202.42 L586 202.45 L586.4 202.45 L586.8 202.16 L587.2 201.54 L587.6 200.74 L588 199.86 L588.4 199.03 L588.8 198.36 L589.21 197.94 L589.61 197.55 L590.01 197.19 L590.41 196.86 L590.81 196.6 L591.21 196.44 L591.61 196.39 L592.01 196.55 L592.41 196.94 L592.82 197.49 L593.22 198.14 L593.62 198.83 L594.02 199.5 L594.42 200.37 L594.82 201.41 L595.22 202.49 L595.62 203.49 L596.02 204.27 L596.42 204.75 L596.83 205.11 L597.23 205.42 L597.63 205.68 L598.03 205.92 L598.43 206.13 L598.83 206.35 L599.23 206.57 L599.63 206.82 L600.03 207.11 L600.43 207.43 L600.84 207.78 L601.24 208.16 L601.64 208.54 L602.04 208.91 L602.44 209.28 L602.84 209.62 L603.24 209.93 L603.64 210.19 L604.04 210.41 L604.44 210.55 L604.85 210.63 L605.25 210.54 L605.65 210.07 L606.05 209.42 L606.45 208.72 L606.85 207.77 L607.25 206.67 L607.65 205.52 L608.05 204.42 L608.46 203.49 L608.86 202.69 L609.26 201.87 L609.66 201.11 L610.06 200.44 L610.46 199.93 L610.86 199.65 L611.26 199.48 L611.66 199.34 L612.06 199.21 L612.47 199.11 L612.87 199.03 L613.27 198.98 L613.67 198.96 L614.07 198.97 L614.47 199.01 L614.87 199.07 L615.27 199.14 L615.67 199.21 L616.07 199.27 L616.48 199.3 L616.88 199.3 L617.28 199.22 L617.68 199.08 L618.08 198.92 L618.48 198.76 L618.88 198.61 L619.28 198.52 L619.68 198.49 L620.08 198.51 L620.49 198.54 L620.89 198.6 L621.29 198.67 L621.69 198.75 L622.09 198.85 L622.49 198.95 L622.89 199.07 L623.29 199.24 L623.69 199.46 L624.1 199.74 L624.5 200.19 L624.9 201.09 L625.3 202.29 L625.7 203.59 L626.1 204.79 L626.5 206.14 L626.9 207.51 L627.3 208.49 L627.7 208.91 L628.11 209.18 L628.51 209.2 L628.91 208.86 L629.31 208.22 L629.71 207.37 L630.11 206.43 L630.51 205.48 L630.91 204.64 L631.31 204 L631.71 203.66 L632.12 203.65 L632.52 203.78 L632.92 203.96 L633.32 204.18 L633.72 204.38 L634.12 204.65 L634.52 204.97 L634.92 205.25 L635.32 205.45 L635.72 205.49 L636.13 205.43 L636.53 205.3 L636.93 205.13 L637.33 204.91 L637.73 204.67 L638.13 204.42 L638.53 204.17 L638.93 203.94 L639.33 203.73 L639.73 203.51 L640.14 203.27 L640.54 203.01 L640.94 202.7 L641.34 202.33 L641.74 201.75 L642.14 200.74 L642.54 199.45 L642.94 198.06 L643.34 196.75 L643.75 195.7 L644.15 195.08 L644.55 195.1 L644.95 195.95 L645.35 197.41 L645.75 199.17 L646.15 200.94 L646.55 202.42 L646.95 203.31 L647.35 203.6 L647.76 203.82 L648.16 204 L648.56 204.15 L648.96 204.27 L649.36 204.39 L649.76 204.5 L650.16 204.62 L650.56 204.76 L650.96 204.89 L651.36 205.01 L651.77 205.1 L652.17 205.14 L652.57 205.09 L652.97 204.83 L653.37 204.43 L653.77 203.94 L654.17 203.43 L654.57 202.97 L654.97 202.63 L655.37 202.46 L655.78 202.53 L656.18 202.79 L656.58 203.17 L656.98 203.58 L657.38 203.97 L657.78 204.24 L658.18 204.33 L658.58 204.23 L658.98 204.02 L659.39 203.73 L659.79 203.42 L660.19 203.14 L660.59 202.92 L660.99 202.81 L661.39 202.86 L661.79 203 L662.19 203.2 L662.59 203.41 L662.99 203.56 L663.4 203.63 L663.8 203.54 L664.2 203.31 L664.6 203.02 L665 202.73 L665.4 202.52 L665.8 202.46 L666.2 202.55 L666.6 202.73 L667 203 L667.41 203.32 L667.81 203.66 L668.21 203.99 L668.61 204.3 L669.01 204.56 L669.41 204.73 L669.81 204.8 L670.21 204.7 L670.61 204.43 L671.01 204.07 L671.42 203.66 L671.82 203.28 L672.22 202.98 L672.62 202.82 L673.02 202.87 L673.42 203.13 L673.82 203.54 L674.22 204.01 L674.62 204.48 L675.03 204.87 L675.43 205.1 L675.83 205.13 L676.23 205.01 L676.63 204.77 L677.03 204.46 L677.43 204.1 L677.83 203.73 L678.23 203.38 L678.63 203.08 L679.04 202.86 L679.44 202.72 L679.84 202.59 L680.24 202.46 L680.64 202.34 L681.04 202.22 L681.44 202.11 L681.84 202.01 L682.24 201.92 L682.64 201.84 L683.05 201.77 L683.45 201.72 L683.85 201.68 L684.25 201.65 L684.65 201.64" fill="none" stroke="#ffd700" stroke-width="1.35" stroke-linejoin="round" />
<path d="M530.26 185.29 L530.66 185.29 L531.06 185.29 L531.46 185.29 L531.86 185.29 L532.26 185.29 L532.66 185.3 L533.06 185.6 L533.46 186.2 L533.86 186.91 L534.27 187.53 L534.67 188.03 L535.07 188.56 L535.47 189.08 L535.87 189.53 L536.27 189.84 L536.67 189.96 L537.07 189.72 L537.47 189.09 L537.87 188.23 L538.28 187.28 L538.68 186.42 L539.08 185.79 L539.48 185.26 L539.88 184.72 L540.28 184.22 L540.68 183.83 L541.08 183.59 L541.48 183.55 L541.89 183.62 L542.29 183.77 L542.69 183.96 L543.09 184.17 L543.49 184.38 L543.89 184.58 L544.29 184.83 L544.69 185.12 L545.09 185.42 L545.49 185.7 L545.9 185.93 L546.3 186.07 L546.7 186.11 L547.1 186.06 L547.5 185.96 L547.9 185.84 L548.3 185.73 L548.7 185.66 L549.1 185.65 L549.5 185.71 L549.91 185.82 L550.31 185.93 L550.71 186.04 L551.11 186.1 L551.51 186.1 L551.91 186.03 L552.31 185.92 L552.71 185.8 L553.11 185.7 L553.51 185.64 L553.92 185.68 L554.32 185.83 L554.72 186.06 L555.12 186.35 L555.52 186.65 L555.92 186.94 L556.32 187.18 L556.72 187.36 L557.12 187.53 L557.53 187.7 L557.93 187.87 L558.33 188.01 L558.73 188.12 L559.13 188.19 L559.53 188.2 L559.93 187.83 L560.33 187.1 L560.73 186.21 L561.13 185.38 L561.54 184.82 L561.94 184.78 L562.34 185.54 L562.74 186.78 L563.14 188.08 L563.54 188.98 L563.94 189.04 L564.34 188.09 L564.74 186.48 L565.14 184.61 L565.55 182.89 L565.95 181.72 L566.35 181.51 L566.75 182.58 L567.15 184.65 L567.55 187.27 L567.95 190.04 L568.35 192.53 L568.75 194.32 L569.15 194.98 L569.56 194.07 L569.96 191.77 L570.36 188.61 L570.76 185.12 L571.16 181.84 L571.56 179.29 L571.96 178 L572.36 178.29 L572.76 179.73 L573.17 181.98 L573.57 184.72 L573.97 187.61 L574.37 190.33 L574.77 192.56 L575.17 193.96 L575.57 194.25 L575.97 193.64 L576.37 192.43 L576.77 190.86 L577.18 189.11 L577.58 187.41 L577.98 185.97 L578.38 185 L578.78 184.71 L579.18 184.97 L579.58 185.49 L579.98 186.14 L580.38 186.76 L580.78 187.18 L581.19 187.27 L581.59 187.14 L581.99 186.89 L582.39 186.57 L582.79 186.23 L583.19 185.94 L583.59 185.72 L583.99 185.64 L584.39 185.66 L584.79 185.71 L585.2 185.77 L585.6 185.82 L586 185.86 L586.4 185.87 L586.8 185.62 L587.2 185.09 L587.6 184.39 L588 183.61 L588.4 182.86 L588.8 182.22 L589.21 181.81 L589.61 181.56 L590.01 181.33 L590.41 181.11 L590.81 180.93 L591.21 180.78 L591.61 180.68 L592.01 180.62 L592.41 180.68 L592.82 180.98 L593.22 181.47 L593.62 182.09 L594.02 182.76 L594.42 183.43 L594.82 184.14 L595.22 185.04 L595.62 186.03 L596.02 186.99 L596.42 187.83 L596.83 188.45 L597.23 188.88 L597.63 189.25 L598.03 189.58 L598.43 189.88 L598.83 190.15 L599.23 190.41 L599.63 190.66 L600.03 190.93 L600.43 191.21 L600.84 191.53 L601.24 191.87 L601.64 192.22 L602.04 192.58 L602.44 192.94 L602.84 193.27 L603.24 193.58 L603.64 193.84 L604.04 194.05 L604.44 194.2 L604.85 194.28 L605.25 194.26 L605.65 194.11 L606.05 193.89 L606.45 193.54 L606.85 192.86 L607.25 191.94 L607.65 190.9 L608.05 189.85 L608.46 188.9 L608.86 188.02 L609.26 187.07 L609.66 186.13 L610.06 185.27 L610.46 184.57 L610.86 184.11 L611.26 183.78 L611.66 183.47 L612.06 183.2 L612.47 182.97 L612.87 182.78 L613.27 182.66 L613.67 182.61 L614.07 182.61 L614.47 182.64 L614.87 182.69 L615.27 182.75 L615.67 182.81 L616.07 182.86 L616.48 182.91 L616.88 182.94 L617.28 182.96 L617.68 182.89 L618.08 182.73 L618.48 182.52 L618.88 182.28 L619.28 182.05 L619.68 181.88 L620.08 181.79 L620.49 181.81 L620.89 181.9 L621.29 182.02 L621.69 182.16 L622.09 182.28 L622.49 182.37 L622.89 182.41 L623.29 182.44 L623.69 182.47 L624.1 182.49 L624.5 182.52 L624.9 182.57 L625.3 182.74 L625.7 183.41 L626.1 184.43 L626.5 185.58 L626.9 186.89 L627.3 188.64 L627.7 190.29 L628.11 191.32 L628.51 192.04 L628.91 192.54 L629.31 192.62 L629.71 192.23 L630.11 191.49 L630.51 190.52 L630.91 189.46 L631.31 188.42 L631.71 187.55 L632.12 186.98 L632.52 186.81 L632.92 186.86 L633.32 186.96 L633.72 187.09 L634.12 187.25 L634.52 187.47 L634.92 187.84 L635.32 188.28 L635.72 188.7 L636.13 189.02 L636.53 189.15 L636.93 189.08 L637.33 188.89 L637.73 188.62 L638.13 188.3 L638.53 187.95 L638.93 187.63 L639.33 187.35 L639.73 187.13 L640.14 186.96 L640.54 186.81 L640.94 186.66 L641.34 186.49 L641.74 186.3 L642.14 186.05 L642.54 185.69 L642.94 184.88 L643.34 183.72 L643.75 182.38 L644.15 181.04 L644.55 179.89 L644.95 179.11 L645.35 178.88 L645.75 179.34 L646.15 180.36 L646.55 181.71 L646.95 183.17 L647.35 184.52 L647.76 185.54 L648.16 186.06 L648.56 186.44 L648.96 186.77 L649.36 187.05 L649.76 187.3 L650.16 187.52 L650.56 187.72 L650.96 187.9 L651.36 188.09 L651.77 188.28 L652.17 188.46 L652.57 188.62 L652.97 188.74 L653.37 188.79 L653.77 188.71 L654.17 188.37 L654.57 187.86 L654.97 187.27 L655.37 186.69 L655.78 186.21 L656.18 185.92 L656.58 185.91 L656.98 186.16 L657.38 186.56 L657.78 187 L658.18 187.39 L658.58 187.61 L658.98 187.6 L659.39 187.49 L659.79 187.29 L660.19 187.05 L660.59 186.79 L660.99 186.54 L661.39 186.33 L661.79 186.17 L662.19 186.11 L662.59 186.17 L662.99 186.35 L663.4 186.58 L663.8 186.81 L664.2 186.98 L664.6 187.04 L665 186.96 L665.4 186.77 L665.8 186.53 L666.2 186.31 L666.6 186.15 L667 186.11 L667.41 186.22 L667.81 186.42 L668.21 186.7 L668.61 187.01 L669.01 187.33 L669.41 187.61 L669.81 187.84 L670.21 187.96 L670.61 187.96 L671.01 187.85 L671.42 187.67 L671.82 187.43 L672.22 187.18 L672.62 186.92 L673.02 186.7 L673.42 186.54 L673.82 186.46 L674.22 186.54 L674.62 186.81 L675.03 187.23 L675.43 187.7 L675.83 188.16 L676.23 188.54 L676.63 188.77 L677.03 188.77 L677.43 188.58 L677.83 188.26 L678.23 187.84 L678.63 187.37 L679.04 186.9 L679.44 186.47 L679.84 186.12 L680.24 185.9 L680.64 185.8 L681.04 185.72 L681.44 185.63 L681.84 185.56 L682.24 185.49 L682.64 185.43 L683.05 185.38 L683.45 185.34 L683.85 185.32 L684.25 185.3 L684.65 185.29" fill="none" stroke="#008000" stroke-width="1.35" stroke-linejoin="round" />
<path d="M530.26 167.77 L530.66 167.8 L531.06 167.86 L531.46 167.96 L531.86 168.08 L532.26 168.25 L532.66 168.6 L533.06 169.07 L533.46 169.6 L533.86 170.14 L534.27 170.61 L534.67 171.04 L535.07 171.52 L535.47 171.99 L535.87 172.4 L536.27 172.68 L536.67 172.8 L537.07 172.59 L537.47 172.06 L537.87 171.31 L538.28 170.49 L538.68 169.71 L539.08 169.11 L539.48 168.75 L539.88 168.42 L540.28 168.12 L540.68 167.85 L541.08 167.63 L541.48 167.49 L541.89 167.42 L542.29 167.43 L542.69 167.45 L543.09 167.49 L543.49 167.54 L543.89 167.6 L544.29 167.67 L544.69 167.74 L545.09 167.85 L545.49 168.07 L545.9 168.37 L546.3 168.71 L546.7 169.04 L547.1 169.31 L547.5 169.49 L547.9 169.52 L548.3 169.51 L548.7 169.49 L549.1 169.45 L549.5 169.41 L549.91 169.37 L550.31 169.33 L550.71 169.29 L551.11 169.25 L551.51 169.2 L551.91 169.15 L552.31 169.1 L552.71 169.04 L553.11 169 L553.51 168.97 L553.92 168.95 L554.32 168.95 L554.72 169.07 L555.12 169.31 L555.52 169.63 L555.92 170 L556.32 170.38 L556.72 170.73 L557.12 171.03 L557.53 171.23 L557.93 171.32 L558.33 171.4 L558.73 171.46 L559.13 171.52 L559.53 171.57 L559.93 171.6 L560.33 171.62 L560.73 171.6 L561.13 171.15 L561.54 170.28 L561.94 169.19 L562.34 168.1 L562.74 167.18 L563.14 166.66 L563.54 166.77 L563.94 167.67 L564.34 169.03 L564.74 170.52 L565.14 171.76 L565.55 172.42 L565.95 172.24 L566.35 171.47 L566.75 170.36 L567.15 169.14 L567.55 168.05 L567.95 167.34 L568.35 167.26 L568.75 168.12 L569.15 169.67 L569.56 171.57 L569.96 173.48 L570.36 175.03 L570.76 175.88 L571.16 175.63 L571.56 174.11 L571.96 171.72 L572.36 168.9 L572.76 166.09 L573.17 163.72 L573.57 162.23 L573.97 162.01 L574.37 162.9 L574.77 164.58 L575.17 166.78 L575.57 169.24 L575.97 171.71 L576.37 173.91 L576.77 175.58 L577.18 176.46 L577.58 176.4 L577.98 175.75 L578.38 174.7 L578.78 173.42 L579.18 172.1 L579.58 170.89 L579.98 169.98 L580.38 169.54 L580.78 169.66 L581.19 170.14 L581.59 170.77 L581.99 171.33 L582.39 171.62 L582.79 171.52 L583.19 171.15 L583.59 170.6 L583.99 169.97 L584.39 169.34 L584.79 168.8 L585.2 168.45 L585.6 168.36 L586 168.45 L586.4 168.62 L586.8 168.84 L587.2 169.05 L587.6 169.21 L588 169.29 L588.4 169.16 L588.8 168.74 L589.21 168.1 L589.61 167.33 L590.01 166.55 L590.41 165.82 L590.81 165.26 L591.21 164.9 L591.61 164.56 L592.01 164.24 L592.41 163.98 L592.82 163.78 L593.22 163.69 L593.62 163.78 L594.02 164.15 L594.42 164.75 L594.82 165.48 L595.22 166.29 L595.62 167.09 L596.02 167.8 L596.42 168.37 L596.83 168.9 L597.23 169.42 L597.63 169.92 L598.03 170.41 L598.43 170.9 L598.83 171.37 L599.23 171.84 L599.63 172.31 L600.03 172.79 L600.43 173.31 L600.84 173.85 L601.24 174.4 L601.64 174.95 L602.04 175.5 L602.44 176.02 L602.84 176.52 L603.24 176.98 L603.64 177.4 L604.04 177.75 L604.44 178.03 L604.85 178.23 L605.25 178.36 L605.65 178.47 L606.05 178.56 L606.45 178.62 L606.85 178.63 L607.25 178.41 L607.65 177.94 L608.05 177.3 L608.46 176.55 L608.86 175.74 L609.26 174.94 L609.66 174.22 L610.06 173.51 L610.46 172.73 L610.86 171.92 L611.26 171.11 L611.66 170.34 L612.06 169.66 L612.47 169.09 L612.87 168.64 L613.27 168.22 L613.67 167.82 L614.07 167.46 L614.47 167.14 L614.87 166.88 L615.27 166.69 L615.67 166.56 L616.07 166.47 L616.48 166.4 L616.88 166.34 L617.28 166.29 L617.68 166.24 L618.08 166.19 L618.48 166.13 L618.88 166.05 L619.28 165.94 L619.68 165.79 L620.08 165.59 L620.49 165.37 L620.89 165.15 L621.29 164.95 L621.69 164.78 L622.09 164.67 L622.49 164.62 L622.89 164.64 L623.29 164.68 L623.69 164.76 L624.1 164.87 L624.5 165.01 L624.9 165.18 L625.3 165.37 L625.7 165.59 L626.1 165.85 L626.5 166.4 L626.9 167.26 L627.3 168.29 L627.7 169.35 L628.11 170.49 L628.51 171.87 L628.91 173.26 L629.31 174.38 L629.71 175.05 L630.11 175.58 L630.51 175.91 L630.91 175.85 L631.31 175.2 L631.71 174.14 L632.12 172.86 L632.52 171.56 L632.92 170.45 L633.32 169.71 L633.72 169.53 L634.12 169.58 L634.52 169.69 L634.92 169.84 L635.32 170 L635.72 170.16 L636.13 170.39 L636.53 170.68 L636.93 171.01 L637.33 171.34 L637.73 171.64 L638.13 171.89 L638.53 172.05 L638.93 172.09 L639.33 172.02 L639.73 171.85 L640.14 171.6 L640.54 171.3 L640.94 170.96 L641.34 170.6 L641.74 170.25 L642.14 169.93 L642.54 169.65 L642.94 169.4 L643.34 169.16 L643.75 168.91 L644.15 168.62 L644.55 168.28 L644.95 167.8 L645.35 166.97 L645.75 165.94 L646.15 164.87 L646.55 163.93 L646.95 163.29 L647.35 163.12 L647.76 163.56 L648.16 164.5 L648.56 165.73 L648.96 167.06 L649.36 168.29 L649.76 169.23 L650.16 169.74 L650.56 170.11 L650.96 170.43 L651.36 170.71 L651.77 170.96 L652.17 171.19 L652.57 171.43 L652.97 171.69 L653.37 171.98 L653.77 172.3 L654.17 172.61 L654.57 172.85 L654.97 173 L655.37 173 L655.78 172.64 L656.18 172 L656.58 171.2 L656.98 170.36 L657.38 169.63 L657.78 169.11 L658.18 168.94 L658.58 169.09 L658.98 169.42 L659.39 169.86 L659.79 170.33 L660.19 170.78 L660.59 171.12 L660.99 171.27 L661.39 171.26 L661.79 171.2 L662.19 171.11 L662.59 171 L662.99 170.87 L663.4 170.74 L663.8 170.63 L664.2 170.53 L664.6 170.45 L665 170.4 L665.4 170.34 L665.8 170.29 L666.2 170.24 L666.6 170.19 L667 170.16 L667.41 170.13 L667.81 170.11 L668.21 170.11 L668.61 170.13 L669.01 170.17 L669.41 170.22 L669.81 170.28 L670.21 170.34 L670.61 170.4 L671.01 170.44 L671.42 170.46 L671.82 170.46 L672.22 170.44 L672.62 170.4 L673.02 170.36 L673.42 170.31 L673.82 170.26 L674.22 170.21 L674.62 170.17 L675.03 170.13 L675.43 170.11 L675.83 170.12 L676.23 170.26 L676.63 170.51 L677.03 170.82 L677.43 171.15 L677.83 171.46 L678.23 171.71 L678.63 171.85 L679.04 171.82 L679.44 171.58 L679.84 171.18 L680.24 170.68 L680.64 170.14 L681.04 169.64 L681.44 169.23 L681.84 168.99 L682.24 168.94 L682.64 168.94 L683.05 168.94 L683.45 168.94 L683.85 168.94 L684.25 168.94 L684.65 168.94" fill="none" stroke="#00bfbf" stroke-width="1.35" stroke-linejoin="round" />
<path d="M530.26 151.8 L530.66 151.56 L531.06 151.42 L531.46 151.36 L531.86 151.34 L532.26 151.38 L532.66 151.6 L533.06 151.96 L533.46 152.39 L533.86 152.84 L534.27 153.25 L534.67 153.64 L535.07 154.1 L535.47 154.59 L535.87 155.04 L536.27 155.4 L536.67 155.62 L537.07 155.63 L537.47 155.3 L537.87 154.73 L538.28 154.02 L538.68 153.29 L539.08 152.65 L539.48 152.22 L539.88 152.03 L540.28 151.85 L540.68 151.7 L541.08 151.57 L541.48 151.46 L541.89 151.38 L542.29 151.34 L542.69 151.34 L543.09 151.35 L543.49 151.37 L543.89 151.4 L544.29 151.44 L544.69 151.48 L545.09 151.53 L545.49 151.58 L545.9 151.67 L546.3 151.81 L546.7 151.98 L547.1 152.17 L547.5 152.35 L547.9 152.52 L548.3 152.65 L548.7 152.72 L549.1 152.74 L549.5 152.73 L549.91 152.7 L550.31 152.67 L550.71 152.63 L551.11 152.59 L551.51 152.55 L551.91 152.5 L552.31 152.42 L552.71 152.31 L553.11 152.18 L553.51 152.05 L553.92 151.93 L554.32 151.84 L554.72 151.8 L555.12 151.87 L555.52 152.08 L555.92 152.41 L556.32 152.81 L556.72 153.25 L557.12 153.68 L557.53 154.05 L557.93 154.34 L558.33 154.5 L558.73 154.59 L559.13 154.68 L559.53 154.75 L559.93 154.8 L560.33 154.83 L560.73 154.82 L561.13 154.43 L561.54 153.67 L561.94 152.7 L562.34 151.67 L562.74 150.75 L563.14 150.08 L563.54 149.82 L563.94 150.28 L564.34 151.41 L564.74 152.87 L565.14 154.3 L565.55 155.34 L565.95 155.64 L566.35 155.16 L566.75 154.19 L567.15 153 L567.55 151.9 L567.95 151.15 L568.35 151.05 L568.75 151.81 L569.15 153.2 L569.56 154.9 L569.96 156.6 L570.36 157.99 L570.76 158.75 L571.16 158.55 L571.56 157.29 L571.96 155.28 L572.36 152.86 L572.76 150.34 L573.17 148.06 L573.57 146.34 L573.97 145.52 L574.37 145.82 L574.77 147.02 L575.17 148.87 L575.57 151.12 L575.97 153.52 L576.37 155.8 L576.77 157.73 L577.18 159.05 L577.58 159.51 L577.98 159.2 L578.38 158.44 L578.78 157.37 L579.18 156.15 L579.58 154.93 L579.98 153.85 L580.38 153.07 L580.78 152.74 L581.19 152.92 L581.59 153.43 L581.99 154.06 L582.39 154.6 L582.79 154.84 L583.19 154.69 L583.59 154.26 L583.99 153.66 L584.39 153 L584.79 152.36 L585.2 151.86 L585.6 151.59 L586 151.6 L586.4 151.76 L586.8 151.98 L587.2 152.21 L587.6 152.41 L588 152.5 L588.4 152.41 L588.8 152.09 L589.21 151.59 L589.61 150.98 L590.01 150.31 L590.41 149.65 L590.81 149.05 L591.21 148.57 L591.61 148.28 L592.01 148.07 L592.41 147.88 L592.82 147.71 L593.22 147.58 L593.62 147.5 L594.02 147.5 L594.42 147.74 L594.82 148.24 L595.22 148.91 L595.62 149.68 L596.02 150.47 L596.42 151.2 L596.83 151.8 L597.23 152.3 L597.63 152.76 L598.03 153.21 L598.43 153.64 L598.83 154.06 L599.23 154.48 L599.63 154.9 L600.03 155.33 L600.43 155.78 L600.84 156.25 L601.24 156.76 L601.64 157.29 L602.04 157.83 L602.44 158.36 L602.84 158.88 L603.24 159.37 L603.64 159.83 L604.04 160.23 L604.44 160.57 L604.85 160.83 L605.25 161.03 L605.65 161.22 L606.05 161.37 L606.45 161.47 L606.85 161.49 L607.25 161.28 L607.65 160.86 L608.05 160.26 L608.46 159.56 L608.86 158.82 L609.26 158.09 L609.66 157.43 L610.06 156.8 L610.46 156.12 L610.86 155.42 L611.26 154.72 L611.66 154.04 L612.06 153.42 L612.47 152.89 L612.87 152.43 L613.27 151.98 L613.67 151.56 L614.07 151.17 L614.47 150.82 L614.87 150.52 L615.27 150.28 L615.67 150.1 L616.07 149.96 L616.48 149.84 L616.88 149.74 L617.28 149.64 L617.68 149.56 L618.08 149.47 L618.48 149.38 L618.88 149.27 L619.28 149.15 L619.68 148.99 L620.08 148.82 L620.49 148.64 L620.89 148.47 L621.29 148.31 L621.69 148.19 L622.09 148.1 L622.49 148.07 L622.89 148.08 L623.29 148.11 L623.69 148.17 L624.1 148.26 L624.5 148.37 L624.9 148.5 L625.3 148.66 L625.7 148.84 L626.1 149.05 L626.5 149.58 L626.9 150.44 L627.3 151.48 L627.7 152.56 L628.11 153.72 L628.51 155.14 L628.91 156.48 L629.31 157.44 L629.71 158.11 L630.11 158.63 L630.51 158.81 L630.91 158.47 L631.31 157.72 L631.71 156.69 L632.12 155.55 L632.52 154.43 L632.92 153.49 L633.32 152.89 L633.72 152.74 L634.12 152.8 L634.52 152.91 L634.92 153.06 L635.32 153.22 L635.72 153.37 L636.13 153.58 L636.53 153.84 L636.93 154.13 L637.33 154.42 L637.73 154.68 L638.13 154.89 L638.53 155.03 L638.93 155.07 L639.33 154.99 L639.73 154.82 L640.14 154.56 L640.54 154.25 L640.94 153.91 L641.34 153.55 L641.74 153.21 L642.14 152.89 L642.54 152.63 L642.94 152.42 L643.34 152.21 L643.75 152 L644.15 151.77 L644.55 151.47 L644.95 151.04 L645.35 150.28 L645.75 149.32 L646.15 148.32 L646.55 147.44 L646.95 146.84 L647.35 146.68 L647.76 147.1 L648.16 147.98 L648.56 149.14 L648.96 150.39 L649.36 151.56 L649.76 152.45 L650.16 152.95 L650.56 153.34 L650.96 153.69 L651.36 153.99 L651.77 154.26 L652.17 154.49 L652.57 154.69 L652.97 154.88 L653.37 155.06 L653.77 155.23 L654.17 155.39 L654.57 155.52 L654.97 155.61 L655.37 155.66 L655.78 155.53 L656.18 155.06 L656.58 154.38 L656.98 153.6 L657.38 152.84 L657.78 152.21 L658.18 151.85 L658.58 151.85 L658.98 152.16 L659.39 152.66 L659.79 153.25 L660.19 153.82 L660.59 154.27 L660.99 154.48 L661.39 154.48 L661.79 154.44 L662.19 154.39 L662.59 154.31 L662.99 154.23 L663.4 154.14 L663.8 154.05 L664.2 153.97 L664.6 153.9 L665 153.82 L665.4 153.74 L665.8 153.65 L666.2 153.56 L666.6 153.48 L667 153.41 L667.41 153.36 L667.81 153.33 L668.21 153.32 L668.61 153.34 L669.01 153.38 L669.41 153.44 L669.81 153.5 L670.21 153.55 L670.61 153.61 L671.01 153.65 L671.42 153.67 L671.82 153.67 L672.22 153.65 L672.62 153.61 L673.02 153.57 L673.42 153.52 L673.82 153.47 L674.22 153.42 L674.62 153.38 L675.03 153.34 L675.43 153.32 L675.83 153.34 L676.23 153.47 L676.63 153.72 L677.03 154.03 L677.43 154.36 L677.83 154.67 L678.23 154.92 L678.63 155.06 L679.04 155.04 L679.44 154.81 L679.84 154.44 L680.24 153.98 L680.64 153.51 L681.04 153.08 L681.44 152.77 L681.84 152.56 L682.24 152.36 L682.64 152.17 L683.05 152 L683.45 151.85 L683.85 151.72 L684.25 151.63 L684.65 151.57" fill="none" stroke="#808000" stroke-width="1.35" stroke-linejoin="round" />
<path d="M530.26 134.99 L530.66 134.8 L531.06 134.69 L531.46 134.65 L531.86 134.64 L532.26 134.67 L532.66 134.86 L533.06 135.17 L533.46 135.55 L533.86 135.95 L534.27 136.32 L534.67 136.68 L535.07 137.11 L535.47 137.58 L535.87 138.04 L536.27 138.45 L536.67 138.76 L537.07 138.93 L537.47 138.92 L537.87 138.66 L538.28 138.21 L538.68 137.66 L539.08 137.06 L539.48 136.5 L539.88 136.04 L540.28 135.75 L540.68 135.53 L541.08 135.35 L541.48 135.18 L541.89 135.03 L542.29 134.89 L542.69 134.76 L543.09 134.64 L543.49 134.51 L543.89 134.37 L544.29 134.25 L544.69 134.14 L545.09 134.07 L545.49 134.05 L545.9 134.15 L546.3 134.37 L546.7 134.67 L547.1 135.02 L547.5 135.38 L547.9 135.71 L548.3 135.97 L548.7 136.13 L549.1 136.15 L549.5 136.13 L549.91 136.09 L550.31 136.03 L550.71 135.97 L551.11 135.91 L551.51 135.85 L551.91 135.8 L552.31 135.75 L552.71 135.7 L553.11 135.64 L553.51 135.59 L553.92 135.54 L554.32 135.5 L554.72 135.47 L555.12 135.46 L555.52 135.47 L555.92 135.61 L556.32 135.88 L556.72 136.23 L557.12 136.63 L557.53 137.02 L557.93 137.37 L558.33 137.64 L558.73 137.78 L559.13 137.78 L559.53 137.74 L559.93 137.66 L560.33 137.55 L560.73 137.42 L561.13 137.26 L561.54 137.09 L561.94 136.88 L562.34 136.4 L562.74 135.69 L563.14 134.87 L563.54 134.04 L563.94 133.32 L564.34 132.82 L564.74 132.65 L565.14 133.35 L565.55 134.86 L565.95 136.64 L566.35 138.17 L566.75 138.94 L567.15 138.71 L567.55 137.93 L567.95 136.87 L568.35 135.79 L568.75 134.96 L569.15 134.64 L569.56 135.15 L569.96 136.43 L570.36 138.11 L570.76 139.85 L571.16 141.32 L571.56 142.15 L571.96 141.99 L572.36 140.76 L572.76 138.76 L573.17 136.32 L573.57 133.78 L573.97 131.46 L574.37 129.7 L574.77 128.83 L575.17 129.06 L575.57 130.14 L575.97 131.83 L576.37 133.91 L576.77 136.17 L577.18 138.37 L577.58 140.29 L577.98 141.72 L578.38 142.42 L578.78 142.32 L579.18 141.74 L579.58 140.84 L579.98 139.77 L580.38 138.67 L580.78 137.68 L581.19 136.95 L581.59 136.63 L581.99 136.74 L582.39 137.08 L582.79 137.47 L583.19 137.74 L583.59 137.75 L583.99 137.48 L584.39 137.03 L584.79 136.47 L585.2 135.9 L585.6 135.41 L586 135.08 L586.4 134.99 L586.8 135.08 L587.2 135.25 L587.6 135.46 L588 135.65 L588.4 135.78 L588.8 135.78 L589.21 135.57 L589.61 135.17 L590.01 134.63 L590.41 134 L590.81 133.33 L591.21 132.67 L591.61 132.08 L592.01 131.61 L592.41 131.26 L592.82 130.9 L593.22 130.56 L593.62 130.27 L594.02 130.06 L594.42 129.97 L594.82 130.09 L595.22 130.51 L595.62 131.16 L596.02 131.96 L596.42 132.81 L596.83 133.64 L597.23 134.37 L597.63 134.93 L598.03 135.44 L598.43 135.93 L598.83 136.39 L599.23 136.85 L599.63 137.29 L600.03 137.73 L600.43 138.18 L600.84 138.63 L601.24 139.1 L601.64 139.57 L602.04 140.04 L602.44 140.51 L602.84 140.98 L603.24 141.44 L603.64 141.9 L604.04 142.35 L604.44 142.8 L604.85 143.23 L605.25 143.69 L605.65 144.21 L606.05 144.64 L606.45 144.79 L606.85 144.65 L607.25 144.31 L607.65 143.82 L608.05 143.24 L608.46 142.61 L608.86 141.98 L609.26 141.39 L609.66 140.7 L610.06 139.92 L610.46 139.1 L610.86 138.28 L611.26 137.51 L611.66 136.85 L612.06 136.32 L612.47 135.88 L612.87 135.46 L613.27 135.07 L613.67 134.71 L614.07 134.38 L614.47 134.08 L614.87 133.82 L615.27 133.59 L615.67 133.39 L616.07 133.22 L616.48 133.07 L616.88 132.94 L617.28 132.82 L617.68 132.7 L618.08 132.58 L618.48 132.47 L618.88 132.34 L619.28 132.2 L619.68 132.04 L620.08 131.87 L620.49 131.69 L620.89 131.52 L621.29 131.37 L621.69 131.25 L622.09 131.16 L622.49 131.13 L622.89 131.14 L623.29 131.15 L623.69 131.17 L624.1 131.2 L624.5 131.24 L624.9 131.29 L625.3 131.35 L625.7 131.42 L626.1 131.5 L626.5 131.81 L626.9 132.38 L627.3 133.12 L627.7 133.97 L628.11 134.87 L628.51 136.13 L628.91 137.68 L629.31 139.2 L629.71 140.37 L630.11 141.2 L630.51 141.91 L630.91 142.23 L631.31 141.91 L631.71 141.06 L632.12 139.89 L632.52 138.61 L632.92 137.46 L633.32 136.64 L633.72 136.36 L634.12 136.27 L634.52 136.2 L634.92 136.16 L635.32 136.17 L635.72 136.29 L636.13 136.5 L636.53 136.78 L636.93 137.09 L637.33 137.41 L637.73 137.7 L638.13 137.94 L638.53 138.09 L638.93 138.14 L639.33 138.09 L639.73 137.97 L640.14 137.8 L640.54 137.58 L640.94 137.34 L641.34 137.07 L641.74 136.8 L642.14 136.53 L642.54 136.28 L642.94 136.02 L643.34 135.74 L643.75 135.45 L644.15 135.13 L644.55 134.78 L644.95 134.4 L645.35 133.99 L645.75 133.39 L646.15 132.62 L646.55 131.76 L646.95 130.91 L647.35 130.16 L647.76 129.62 L648.16 129.38 L648.56 129.65 L648.96 130.49 L649.36 131.71 L649.76 133.09 L650.16 134.4 L650.56 135.43 L650.96 136.03 L651.36 136.49 L651.77 136.89 L652.17 137.24 L652.57 137.55 L652.97 137.83 L653.37 138.08 L653.77 138.32 L654.17 138.58 L654.57 138.82 L654.97 139.03 L655.37 139.19 L655.78 139.29 L656.18 139.28 L656.58 138.96 L656.98 138.36 L657.38 137.61 L657.78 136.82 L658.18 136.12 L658.58 135.63 L658.98 135.45 L659.39 135.61 L659.79 135.98 L660.19 136.47 L660.59 136.99 L660.99 137.44 L661.39 137.73 L661.79 137.79 L662.19 137.75 L662.59 137.68 L662.99 137.58 L663.4 137.46 L663.8 137.34 L664.2 137.22 L664.6 137.1 L665 137 L665.4 136.92 L665.8 136.83 L666.2 136.74 L666.6 136.66 L667 136.57 L667.41 136.5 L667.81 136.44 L668.21 136.4 L668.61 136.39 L669.01 136.4 L669.41 136.46 L669.81 136.54 L670.21 136.63 L670.61 136.73 L671.01 136.83 L671.42 136.9 L671.82 136.96 L672.22 136.97 L672.62 136.96 L673.02 136.93 L673.42 136.89 L673.82 136.84 L674.22 136.79 L674.62 136.74 L675.03 136.69 L675.43 136.66 L675.83 136.63 L676.23 136.62 L676.63 136.69 L677.03 136.89 L677.43 137.18 L677.83 137.52 L678.23 137.86 L678.63 138.16 L679.04 138.38 L679.44 138.49 L679.84 138.4 L680.24 138.1 L680.64 137.65 L681.04 137.15 L681.44 136.67 L681.84 136.29 L682.24 136.09 L682.64 135.92 L683.05 135.77 L683.45 135.64 L683.85 135.54 L684.25 135.48 L684.65 135.45" fill="none" stroke="#000080" stroke-width="1.35" stroke-linejoin="round" />
<path d="M530.26 118.28 L530.66 117.99 L531.06 117.82 L531.46 117.73 L531.86 117.7 L532.26 117.76 L532.66 118.03 L533.06 118.47 L533.46 118.99 L533.86 119.51 L534.27 119.96 L534.67 120.34 L535.07 120.76 L535.47 121.19 L535.87 121.59 L536.27 121.95 L536.67 122.21 L537.07 122.35 L537.47 122.32 L537.87 122.01 L538.28 121.48 L538.68 120.82 L539.08 120.14 L539.48 119.52 L539.88 119.06 L540.28 118.84 L540.68 118.72 L541.08 118.63 L541.48 118.56 L541.89 118.5 L542.29 118.43 L542.69 118.37 L543.09 118.29 L543.49 118.18 L543.89 118.05 L544.29 117.92 L544.69 117.81 L545.09 117.73 L545.49 117.7 L545.9 117.82 L546.3 118.07 L546.7 118.4 L547.1 118.76 L547.5 119.09 L547.9 119.34 L548.3 119.45 L548.7 119.45 L549.1 119.45 L549.5 119.45 L549.91 119.45 L550.31 119.45 L550.71 119.45 L551.11 119.45 L551.51 119.45 L551.91 119.45 L552.31 119.43 L552.71 119.37 L553.11 119.28 L553.51 119.19 L553.92 119.09 L554.32 118.99 L554.72 118.92 L555.12 118.88 L555.52 118.89 L555.92 119.07 L556.32 119.4 L556.72 119.81 L557.12 120.24 L557.53 120.62 L557.93 120.88 L558.33 120.97 L558.73 120.96 L559.13 120.94 L559.53 120.9 L559.93 120.85 L560.33 120.79 L560.73 120.72 L561.13 120.64 L561.54 120.44 L561.94 119.97 L562.34 119.32 L562.74 118.57 L563.14 117.8 L563.54 117.11 L563.94 116.59 L564.34 116.32 L564.74 116.52 L565.14 117.51 L565.55 118.96 L565.95 120.5 L566.35 121.75 L566.75 122.36 L567.15 122.1 L567.55 121.26 L567.95 120.12 L568.35 118.95 L568.75 118.05 L569.15 117.7 L569.56 118.26 L569.96 119.63 L570.36 121.44 L570.76 123.32 L571.16 124.89 L571.56 125.79 L571.96 125.59 L572.36 124.11 L572.76 121.75 L573.17 118.94 L573.57 116.12 L573.97 113.73 L574.37 112.19 L574.77 111.92 L575.17 112.74 L575.57 114.33 L575.97 116.43 L576.37 118.79 L576.77 121.15 L577.18 123.28 L577.58 124.91 L577.98 125.79 L578.38 125.79 L578.78 125.34 L579.18 124.58 L579.58 123.63 L579.98 122.6 L580.38 121.59 L580.78 120.72 L581.19 120.09 L581.59 119.81 L581.99 119.94 L582.39 120.35 L582.79 120.82 L583.19 121.15 L583.59 121.17 L583.99 120.89 L584.39 120.41 L584.79 119.83 L585.2 119.24 L585.6 118.73 L586 118.38 L586.4 118.29 L586.8 118.33 L587.2 118.41 L587.6 118.53 L588 118.64 L588.4 118.75 L588.8 118.83 L589.21 118.87 L589.61 118.72 L590.01 118.28 L590.41 117.63 L590.81 116.88 L591.21 116.12 L591.61 115.43 L592.01 114.91 L592.41 114.58 L592.82 114.27 L593.22 113.99 L593.62 113.77 L594.02 113.64 L594.42 113.64 L594.82 113.9 L595.22 114.39 L595.62 115.05 L596.02 115.8 L596.42 116.59 L596.83 117.36 L597.23 118.03 L597.63 118.57 L598.03 119.07 L598.43 119.55 L598.83 120.02 L599.23 120.48 L599.63 120.93 L600.03 121.38 L600.43 121.83 L600.84 122.28 L601.24 122.75 L601.64 123.22 L602.04 123.69 L602.44 124.16 L602.84 124.62 L603.24 125.09 L603.64 125.55 L604.04 126 L604.44 126.45 L604.85 126.88 L605.25 127.34 L605.65 127.86 L606.05 128.29 L606.45 128.44 L606.85 128.26 L607.25 127.85 L607.65 127.26 L608.05 126.55 L608.46 125.81 L608.86 125.09 L609.26 124.43 L609.66 123.7 L610.06 122.91 L610.46 122.08 L610.86 121.28 L611.26 120.53 L611.66 119.89 L612.06 119.39 L612.47 118.97 L612.87 118.57 L613.27 118.2 L613.67 117.86 L614.07 117.56 L614.47 117.28 L614.87 117.05 L615.27 116.86 L615.67 116.71 L616.07 116.59 L616.48 116.48 L616.88 116.38 L617.28 116.3 L617.68 116.22 L618.08 116.14 L618.48 116.06 L618.88 115.98 L619.28 115.88 L619.68 115.77 L620.08 115.65 L620.49 115.52 L620.89 115.4 L621.29 115.3 L621.69 115.21 L622.09 115.15 L622.49 115.13 L622.89 115.13 L623.29 115.14 L623.69 115.16 L624.1 115.17 L624.5 115.2 L624.9 115.23 L625.3 115.27 L625.7 115.32 L626.1 115.38 L626.5 115.73 L626.9 116.38 L627.3 117.22 L627.7 118.13 L628.11 119.23 L628.51 120.73 L628.91 122.31 L629.31 123.63 L629.71 124.45 L630.11 125.14 L630.51 125.66 L630.91 125.88 L631.31 125.52 L631.71 124.54 L632.12 123.22 L632.52 121.79 L632.92 120.52 L633.32 119.67 L633.72 119.46 L634.12 119.51 L634.52 119.63 L634.92 119.8 L635.32 120 L635.72 120.21 L636.13 120.42 L636.53 120.62 L636.93 120.83 L637.33 121.09 L637.73 121.35 L638.13 121.58 L638.53 121.74 L638.93 121.79 L639.33 121.73 L639.73 121.59 L640.14 121.38 L640.54 121.13 L640.94 120.85 L641.34 120.55 L641.74 120.24 L642.14 119.96 L642.54 119.7 L642.94 119.45 L643.34 119.2 L643.75 118.94 L644.15 118.66 L644.55 118.36 L644.95 118.02 L645.35 117.64 L645.75 117.07 L646.15 116.32 L646.55 115.5 L646.95 114.71 L647.35 114.06 L647.76 113.68 L648.16 113.68 L648.56 114.25 L648.96 115.24 L649.36 116.45 L649.76 117.69 L650.16 118.76 L650.56 119.47 L650.96 119.92 L651.36 120.33 L651.77 120.69 L652.17 121 L652.57 121.28 L652.97 121.53 L653.37 121.74 L653.77 121.94 L654.17 122.13 L654.57 122.31 L654.97 122.46 L655.37 122.56 L655.78 122.61 L656.18 122.46 L656.58 122.04 L656.98 121.43 L657.38 120.74 L657.78 120.04 L658.18 119.43 L658.58 119.01 L658.98 118.87 L659.39 119.01 L659.79 119.35 L660.19 119.79 L660.59 120.25 L660.99 120.66 L661.39 120.92 L661.79 120.97 L662.19 120.92 L662.59 120.84 L662.99 120.73 L663.4 120.59 L663.8 120.45 L664.2 120.31 L664.6 120.18 L665 120.07 L665.4 119.98 L665.8 119.89 L666.2 119.8 L666.6 119.72 L667 119.63 L667.41 119.56 L667.81 119.51 L668.21 119.47 L668.61 119.45 L669.01 119.46 L669.41 119.5 L669.81 119.56 L670.21 119.64 L670.61 119.72 L671.01 119.81 L671.42 119.9 L671.82 119.98 L672.22 120.05 L672.62 120.1 L673.02 120.15 L673.42 120.2 L673.82 120.25 L674.22 120.29 L674.62 120.34 L675.03 120.4 L675.43 120.46 L675.83 120.53 L676.23 120.62 L676.63 120.76 L677.03 120.99 L677.43 121.27 L677.83 121.56 L678.23 121.82 L678.63 122.03 L679.04 122.13 L679.44 122.09 L679.84 121.88 L680.24 121.54 L680.64 121.13 L681.04 120.69 L681.44 120.28 L681.84 119.95 L682.24 119.72 L682.64 119.53 L683.05 119.36 L683.45 119.2 L683.85 119.06 L684.25 118.95 L684.65 118.87" fill="none" stroke="#0000ff" stroke-width="1.35" stroke-linejoin="round" />
<path d="M530.26 104.27 L530.66 102.95 L531.06 101.83 L531.46 101 L531.86 100.57 L532.26 100.56 L532.66 100.69 L533.06 100.9 L533.46 101.15 L533.86 101.43 L534.27 101.87 L534.67 102.47 L535.07 103.11 L535.47 103.7 L535.87 104.13 L536.27 104.34 L536.67 104.5 L537.07 104.64 L537.47 104.76 L537.87 104.87 L538.28 104.95 L538.68 105.02 L539.08 105.07 L539.48 105.09 L539.88 105.04 L540.28 104.81 L540.68 104.45 L541.08 104 L541.48 103.52 L541.89 103.07 L542.29 102.69 L542.69 102.41 L543.09 102.18 L543.49 101.97 L543.89 101.77 L544.29 101.58 L544.69 101.41 L545.09 101.25 L545.49 101.1 L545.9 100.94 L546.3 100.78 L546.7 100.63 L547.1 100.51 L547.5 100.43 L547.9 100.44 L548.3 100.77 L548.7 101.35 L549.1 102.04 L549.5 102.66 L549.91 103.04 L550.31 103.1 L550.71 103.1 L551.11 103.1 L551.51 103.1 L551.91 103.1 L552.31 103.1 L552.71 103.1 L553.11 103.1 L553.51 103.07 L553.92 103.01 L554.32 102.92 L554.72 102.83 L555.12 102.73 L555.52 102.64 L555.92 102.57 L556.32 102.52 L556.72 102.53 L557.12 102.62 L557.53 102.79 L557.93 103.01 L558.33 103.24 L558.73 103.48 L559.13 103.69 L559.53 103.84 L559.93 103.92 L560.33 103.92 L560.73 103.91 L561.13 103.9 L561.54 103.88 L561.94 103.85 L562.34 103.82 L562.74 103.78 L563.14 103.74 L563.54 103.69 L563.94 103.38 L564.34 102.68 L564.74 101.76 L565.14 100.79 L565.55 99.94 L565.95 99.38 L566.35 99.3 L566.75 100.04 L567.15 101.42 L567.55 103.1 L567.95 104.75 L568.35 106.03 L568.75 106.6 L569.15 106.31 L569.56 105.44 L569.96 104.29 L570.36 103.13 L570.76 102.25 L571.16 101.94 L571.56 102.49 L571.96 103.73 L572.36 105.28 L572.76 106.78 L573.17 107.84 L573.57 108.08 L573.97 107.14 L574.37 105.26 L574.77 102.84 L575.17 100.26 L575.57 97.91 L575.97 96.2 L576.37 95.51 L576.77 95.97 L577.18 97.25 L577.58 99.1 L577.98 101.3 L578.38 103.6 L578.78 105.75 L579.18 107.51 L579.58 108.65 L579.98 108.92 L580.38 108.41 L580.78 107.41 L581.19 106.23 L581.59 105.13 L581.99 104.41 L582.39 104.29 L582.79 104.46 L583.19 104.78 L583.59 105.17 L583.99 105.57 L584.39 105.93 L584.79 106.18 L585.2 106.25 L585.6 105.89 L586 105.13 L586.4 104.18 L586.8 103.29 L587.2 102.67 L587.6 102.52 L588 102.55 L588.4 102.6 L588.8 102.66 L589.21 102.71 L589.61 102.75 L590.01 102.73 L590.41 102.52 L590.81 102.14 L591.21 101.64 L591.61 101.08 L592.01 100.51 L592.41 99.97 L592.82 99.52 L593.22 99.04 L593.62 98.52 L594.02 97.99 L594.42 97.49 L594.82 97.08 L595.22 96.8 L595.62 96.68 L596.02 96.76 L596.42 97.01 L596.83 97.39 L597.23 97.86 L597.63 98.38 L598.03 98.92 L598.43 99.43 L598.83 99.9 L599.23 100.41 L599.63 100.95 L600.03 101.51 L600.43 102.09 L600.84 102.66 L601.24 103.21 L601.64 103.74 L602.04 104.22 L602.44 104.65 L602.84 105.04 L603.24 105.39 L603.64 105.74 L604.04 106.11 L604.44 106.52 L604.85 106.99 L605.25 107.6 L605.65 108.53 L606.05 109.6 L606.45 110.64 L606.85 111.45 L607.25 111.85 L607.65 111.81 L608.05 111.61 L608.46 111.3 L608.86 110.88 L609.26 110.4 L609.66 109.88 L610.06 109.34 L610.46 108.82 L610.86 108.33 L611.26 107.85 L611.66 107.33 L612.06 106.78 L612.47 106.22 L612.87 105.65 L613.27 105.09 L613.67 104.54 L614.07 104.02 L614.47 103.53 L614.87 103.05 L615.27 102.55 L615.67 102.06 L616.07 101.58 L616.48 101.13 L616.88 100.72 L617.28 100.36 L617.68 100.06 L618.08 99.81 L618.48 99.6 L618.88 99.39 L619.28 99.21 L619.68 99.03 L620.08 98.87 L620.49 98.73 L620.89 98.59 L621.29 98.45 L621.69 98.33 L622.09 98.21 L622.49 98.09 L622.89 97.97 L623.29 97.84 L623.69 97.71 L624.1 97.59 L624.5 97.48 L624.9 97.39 L625.3 97.32 L625.7 97.27 L626.1 97.26 L626.5 97.31 L626.9 97.42 L627.3 97.59 L627.7 97.81 L628.11 98.08 L628.51 98.39 L628.91 98.75 L629.31 99.48 L629.71 100.83 L630.11 102.49 L630.51 104.13 L630.91 105.4 L631.31 106.41 L631.71 107.41 L632.12 108.26 L632.52 108.82 L632.92 108.91 L633.32 108.39 L633.72 107.42 L634.12 106.24 L634.52 105.06 L634.92 104.14 L635.32 103.7 L635.72 103.64 L636.13 103.59 L636.53 103.56 L636.93 103.52 L637.33 103.5 L637.73 103.48 L638.13 103.46 L638.53 103.45 L638.93 103.45 L639.33 103.48 L639.73 103.52 L640.14 103.59 L640.54 103.67 L640.94 103.75 L641.34 103.82 L641.74 103.88 L642.14 103.91 L642.54 103.91 L642.94 103.84 L643.34 103.71 L643.75 103.51 L644.15 103.27 L644.55 102.99 L644.95 102.69 L645.35 102.37 L645.75 102.04 L646.15 101.67 L646.55 101.16 L646.95 100.54 L647.35 99.88 L647.76 99.22 L648.16 98.6 L648.56 98.09 L648.96 97.7 L649.36 97.33 L649.76 97 L650.16 96.77 L650.56 96.68 L650.96 97.08 L651.36 98.05 L651.77 99.35 L652.17 100.71 L652.57 101.88 L652.97 102.64 L653.37 103.19 L653.77 103.68 L654.17 104.12 L654.57 104.52 L654.97 104.87 L655.37 105.17 L655.78 105.42 L656.18 105.65 L656.58 105.88 L656.98 106.09 L657.38 106.28 L657.78 106.44 L658.18 106.55 L658.58 106.6 L658.98 106.48 L659.39 105.92 L659.79 105.09 L660.19 104.2 L660.59 103.47 L660.99 103.11 L661.39 103.17 L661.79 103.41 L662.19 103.77 L662.59 104.17 L662.99 104.56 L663.4 104.88 L663.8 105.07 L664.2 105.07 L664.6 104.96 L665 104.77 L665.4 104.53 L665.8 104.27 L666.2 104.01 L666.6 103.8 L667 103.65 L667.41 103.52 L667.81 103.39 L668.21 103.27 L668.61 103.15 L669.01 103.04 L669.41 102.94 L669.81 102.86 L670.21 102.8 L670.61 102.76 L671.01 102.75 L671.42 102.77 L671.82 102.8 L672.22 102.86 L672.62 102.93 L673.02 103.01 L673.42 103.1 L673.82 103.19 L674.22 103.28 L674.62 103.37 L675.03 103.44 L675.43 103.51 L675.83 103.57 L676.23 103.63 L676.63 103.68 L677.03 103.74 L677.43 103.79 L677.83 103.85 L678.23 103.92 L678.63 104 L679.04 104.08 L679.44 104.18 L679.84 104.3 L680.24 104.54 L680.64 104.87 L681.04 105.23 L681.44 105.55 L681.84 105.75 L682.24 105.78 L682.64 105.68 L683.05 105.48 L683.45 105.18 L683.85 104.78 L684.25 104.28 L684.65 103.69" fill="none" stroke="#ff00ff" stroke-width="1.35" stroke-linejoin="round" />
<path d="M530.26 90.4 L530.66 89.6 L531.06 88.8 L531.46 88 L531.86 87.19 L532.26 86.34 L532.66 85.33 L533.06 84.26 L533.46 83.3 L533.86 82.58 L534.27 82.24 L534.67 82.44 L535.07 83.17 L535.47 84.17 L535.87 85.22 L536.27 86.13 L536.67 87.21 L537.07 88.32 L537.47 89.16 L537.87 89.47 L538.28 89.37 L538.68 89.15 L539.08 88.86 L539.48 88.54 L539.88 88.24 L540.28 88.02 L540.68 87.85 L541.08 87.7 L541.48 87.55 L541.89 87.42 L542.29 87.27 L542.69 87.1 L543.09 86.91 L543.49 86.67 L543.89 86.38 L544.29 86.06 L544.69 85.71 L545.09 85.36 L545.49 85 L545.9 84.66 L546.3 84.32 L546.7 83.93 L547.1 83.5 L547.5 83.08 L547.9 82.71 L548.3 82.43 L548.7 82.26 L549.1 82.28 L549.5 82.81 L549.91 83.73 L550.31 84.82 L550.71 85.88 L551.11 86.69 L551.51 87.12 L551.91 87.5 L552.31 87.81 L552.71 88.01 L553.11 88.06 L553.51 87.88 L553.92 87.5 L554.32 87.01 L554.72 86.48 L555.12 86 L555.52 85.65 L555.92 85.5 L556.32 85.52 L556.72 85.59 L557.12 85.7 L557.53 85.84 L557.93 85.98 L558.33 86.13 L558.73 86.27 L559.13 86.4 L559.53 86.56 L559.93 86.73 L560.33 86.91 L560.73 87.08 L561.13 87.23 L561.54 87.36 L561.94 87.45 L562.34 87.48 L562.74 87.48 L563.14 87.48 L563.54 87.48 L563.94 87.48 L564.34 87.48 L564.74 87.48 L565.14 87.48 L565.55 87.35 L565.95 86.7 L566.35 85.73 L566.75 84.7 L567.15 83.84 L567.55 83.41 L567.95 83.7 L568.35 84.73 L568.75 86.16 L569.15 87.62 L569.56 88.76 L569.96 89.23 L570.36 88.91 L570.76 88.11 L571.16 87.12 L571.56 86.24 L571.96 85.75 L572.36 85.96 L572.76 86.83 L573.17 88.11 L573.57 89.52 L573.97 90.78 L574.37 91.62 L574.77 91.72 L575.17 90.65 L575.57 88.63 L575.97 86.09 L576.37 83.42 L576.77 81.03 L577.18 79.33 L577.58 78.72 L577.98 79.11 L578.38 80.08 L578.78 81.49 L579.18 83.2 L579.58 85.07 L579.98 86.93 L580.38 88.66 L580.78 90.11 L581.19 91.12 L581.59 91.56 L581.99 91.41 L582.39 90.92 L582.79 90.25 L583.19 89.54 L583.59 88.96 L583.99 88.64 L584.39 88.51 L584.79 88.39 L585.2 88.28 L585.6 88.2 L586 88.13 L586.4 88.09 L586.8 88.07 L587.2 88.08 L587.6 88.15 L588 88.25 L588.4 88.37 L588.8 88.49 L589.21 88.58 L589.61 88.64 L590.01 88.63 L590.41 88.45 L590.81 88.12 L591.21 87.68 L591.61 87.17 L592.01 86.64 L592.41 86.11 L592.82 85.64 L593.22 85.16 L593.62 84.65 L594.02 84.12 L594.42 83.6 L594.82 83.1 L595.22 82.64 L595.62 82.14 L596.02 81.6 L596.42 81.08 L596.83 80.6 L597.23 80.22 L597.63 79.97 L598.03 79.89 L598.43 80.18 L598.83 80.87 L599.23 81.83 L599.63 82.91 L600.03 84 L600.43 84.95 L600.84 85.64 L601.24 86.08 L601.64 86.5 L602.04 86.88 L602.44 87.19 L602.84 87.4 L603.24 87.48 L603.64 87.48 L604.04 87.48 L604.44 87.48 L604.85 87.48 L605.25 87.57 L605.65 88.05 L606.05 88.81 L606.45 89.72 L606.85 90.64 L607.25 91.43 L607.65 92.1 L608.05 92.83 L608.46 93.58 L608.86 94.29 L609.26 94.9 L609.66 95.37 L610.06 95.62 L610.46 95.64 L610.86 95.52 L611.26 95.29 L611.66 94.98 L612.06 94.6 L612.47 94.18 L612.87 93.73 L613.27 93.27 L613.67 92.83 L614.07 92.39 L614.47 91.89 L614.87 91.33 L615.27 90.74 L615.67 90.12 L616.07 89.48 L616.48 88.85 L616.88 88.24 L617.28 87.65 L617.68 87.11 L618.08 86.6 L618.48 86.06 L618.88 85.5 L619.28 84.92 L619.68 84.35 L620.08 83.8 L620.49 83.29 L620.89 82.83 L621.29 82.44 L621.69 82.15 L622.09 81.95 L622.49 81.88 L622.89 81.89 L623.29 81.92 L623.69 81.97 L624.1 82.02 L624.5 82.08 L624.9 82.14 L625.3 82.19 L625.7 82.22 L626.1 82.23 L626.5 82.2 L626.9 82.13 L627.3 82.04 L627.7 81.92 L628.11 81.81 L628.51 81.69 L628.91 81.58 L629.31 81.49 L629.71 81.43 L630.11 81.41 L630.51 81.65 L630.91 82.29 L631.31 83.23 L631.71 84.36 L632.12 85.57 L632.52 86.76 L632.92 87.81 L633.32 88.77 L633.72 89.87 L634.12 90.96 L634.52 91.87 L634.92 92.42 L635.32 92.46 L635.72 92.12 L636.13 91.52 L636.53 90.76 L636.93 89.94 L637.33 89.17 L637.73 88.53 L638.13 88.13 L638.53 88 L638.93 87.92 L639.33 87.85 L639.73 87.79 L640.14 87.74 L640.54 87.69 L640.94 87.65 L641.34 87.61 L641.74 87.57 L642.14 87.52 L642.54 87.46 L642.94 87.4 L643.34 87.34 L643.75 87.29 L644.15 87.23 L644.55 87.17 L644.95 87.1 L645.35 87.02 L645.75 86.93 L646.15 86.82 L646.55 86.68 L646.95 86.5 L647.35 86.3 L647.76 86.07 L648.16 85.8 L648.56 85.5 L648.96 85.17 L649.36 84.81 L649.76 84.25 L650.16 83.37 L650.56 82.3 L650.96 81.19 L651.36 80.18 L651.77 79.4 L652.17 78.99 L652.57 79.07 L652.97 79.59 L653.37 80.46 L653.77 81.56 L654.17 82.79 L654.57 84.04 L654.97 85.21 L655.37 86.19 L655.78 86.87 L656.18 87.31 L656.58 87.7 L656.98 88.05 L657.38 88.36 L657.78 88.64 L658.18 88.9 L658.58 89.15 L658.98 89.4 L659.39 89.67 L659.79 89.93 L660.19 90.16 L660.59 90.32 L660.99 90.4 L661.39 90.26 L661.79 89.76 L662.19 89.03 L662.59 88.2 L662.99 87.39 L663.4 86.74 L663.8 86.36 L664.2 86.34 L664.6 86.52 L665 86.81 L665.4 87.16 L665.8 87.51 L666.2 87.81 L666.6 88.02 L667 88.06 L667.41 88.02 L667.81 87.92 L668.21 87.79 L668.61 87.63 L669.01 87.45 L669.41 87.27 L669.81 87.1 L670.21 86.96 L670.61 86.84 L671.01 86.71 L671.42 86.58 L671.82 86.44 L672.22 86.31 L672.62 86.18 L673.02 86.06 L673.42 85.96 L673.82 85.87 L674.22 85.8 L674.62 85.75 L675.03 85.73 L675.43 85.74 L675.83 85.78 L676.23 85.84 L676.63 85.92 L677.03 86.02 L677.43 86.13 L677.83 86.25 L678.23 86.38 L678.63 86.52 L679.04 86.66 L679.44 86.8 L679.84 86.93 L680.24 87.07 L680.64 87.22 L681.04 87.38 L681.44 87.55 L681.84 87.73 L682.24 87.93 L682.64 88.13 L683.05 88.33 L683.45 88.55 L683.85 88.77 L684.25 89 L684.65 89.23" fill="none" stroke="#8a2be2" stroke-width="1.35" stroke-linejoin="round" />
<path d="M530.26 68.45 L530.66 68.33 L531.06 68.26 L531.46 68.23 L531.86 68.21 L532.26 68.21 L532.66 68.29 L533.06 68.47 L533.46 68.71 L533.86 68.94 L534.27 69.12 L534.67 69.23 L535.07 69.31 L535.47 69.38 L535.87 69.44 L536.27 69.52 L536.67 69.61 L537.07 69.74 L537.47 69.89 L537.87 70.07 L538.28 70.26 L538.68 70.46 L539.08 70.66 L539.48 70.85 L539.88 71.02 L540.28 71.17 L540.68 71.31 L541.08 71.47 L541.48 71.62 L541.89 71.77 L542.29 71.91 L542.69 72.04 L543.09 72.15 L543.49 72.23 L543.89 72.28 L544.29 72.3 L544.69 72.21 L545.09 72 L545.49 71.72 L545.9 71.4 L546.3 71.1 L546.7 70.85 L547.1 70.59 L547.5 70.32 L547.9 70.04 L548.3 69.79 L548.7 69.58 L549.1 69.44 L549.5 69.38 L549.91 69.44 L550.31 69.61 L550.71 69.84 L551.11 70.11 L551.51 70.36 L551.91 70.57 L552.31 70.77 L552.71 70.98 L553.11 71.19 L553.51 71.39 L553.92 71.55 L554.32 71.66 L554.72 71.71 L555.12 71.66 L555.52 71.46 L555.92 71.17 L556.32 70.83 L556.72 70.5 L557.12 70.21 L557.53 70.01 L557.93 69.93 L558.33 69.87 L558.73 69.83 L559.13 69.79 L559.53 69.76 L559.93 69.73 L560.33 69.7 L560.73 69.66 L561.13 69.62 L561.54 69.58 L561.94 69.53 L562.34 69.49 L562.74 69.44 L563.14 69.39 L563.54 69.34 L563.94 69.28 L564.34 69.21 L564.74 69.14 L565.14 69.03 L565.55 68.89 L565.95 68.71 L566.35 68.53 L566.75 68.35 L567.15 68.19 L567.55 68.07 L567.95 67.99 L568.35 67.99 L568.75 68.17 L569.15 68.48 L569.56 68.84 L569.96 69.16 L570.36 69.35 L570.76 69.36 L571.16 69.22 L571.56 69 L571.96 68.77 L572.36 68.56 L572.76 68.45 L573.17 68.48 L573.57 68.62 L573.97 68.85 L574.37 69.11 L574.77 69.37 L575.17 69.59 L575.57 69.78 L575.97 69.99 L576.37 70.2 L576.77 70.41 L577.18 70.58 L577.58 70.71 L577.98 70.77 L578.38 70.76 L578.78 70.67 L579.18 70.54 L579.58 70.39 L579.98 70.26 L580.38 70.2 L580.78 70.23 L581.19 70.36 L581.59 70.56 L581.99 70.8 L582.39 71.06 L582.79 71.31 L583.19 71.52 L583.59 71.66 L583.99 71.72 L584.39 71.54 L584.79 71.13 L585.2 70.61 L585.6 70.11 L586 69.67 L586.4 69.16 L586.8 68.63 L587.2 68.15 L587.6 67.79 L588 67.63 L588.4 67.7 L588.8 67.96 L589.21 68.33 L589.61 68.77 L590.01 69.22 L590.41 69.61 L590.81 69.89 L591.21 70.03 L591.61 70.16 L592.01 70.27 L592.41 70.37 L592.82 70.45 L593.22 70.51 L593.62 70.54 L594.02 70.54 L594.42 70.43 L594.82 70.21 L595.22 69.95 L595.62 69.68 L596.02 69.46 L596.42 69.33 L596.83 69.21 L597.23 69.1 L597.63 69 L598.03 68.91 L598.43 68.85 L598.83 68.81 L599.23 68.8 L599.63 68.83 L600.03 68.9 L600.43 69.01 L600.84 69.14 L601.24 69.28 L601.64 69.44 L602.04 69.71 L602.44 70.09 L602.84 70.53 L603.24 70.99 L603.64 71.44 L604.04 71.84 L604.44 72.13 L604.85 72.29 L605.25 72.29 L605.65 72.21 L606.05 72.08 L606.45 71.9 L606.85 71.7 L607.25 71.48 L607.65 71.27 L608.05 71.06 L608.46 70.79 L608.86 70.47 L609.26 70.12 L609.66 69.76 L610.06 69.42 L610.46 69.13 L610.86 68.92 L611.26 68.81 L611.66 68.82 L612.06 68.96 L612.47 69.19 L612.87 69.5 L613.27 69.87 L613.67 70.26 L614.07 70.65 L614.47 71.02 L614.87 71.35 L615.27 71.61 L615.67 71.78 L616.07 71.93 L616.48 72.08 L616.88 72.23 L617.28 72.36 L617.68 72.47 L618.08 72.56 L618.48 72.62 L618.88 72.65 L619.28 72.62 L619.68 72.46 L620.08 72.19 L620.49 71.86 L620.89 71.48 L621.29 71.08 L621.69 70.7 L622.09 70.38 L622.49 70.13 L622.89 69.98 L623.29 69.96 L623.69 69.96 L624.1 69.96 L624.5 69.96 L624.9 69.96 L625.3 69.96 L625.7 69.96 L626.1 69.96 L626.5 69.96 L626.9 69.95 L627.3 69.87 L627.7 69.74 L628.11 69.57 L628.51 69.37 L628.91 69.15 L629.31 68.92 L629.71 68.67 L630.11 68.28 L630.51 67.77 L630.91 67.23 L631.31 66.7 L631.71 66.25 L632.12 65.96 L632.52 65.89 L632.92 66.28 L633.32 67.09 L633.72 68.09 L634.12 69.05 L634.52 69.75 L634.92 70.01 L635.32 70.1 L635.72 70.15 L636.13 70.21 L636.53 70.31 L636.93 70.6 L637.33 71.16 L637.73 71.89 L638.13 72.71 L638.53 73.52 L638.93 74.22 L639.33 74.74 L639.73 74.98 L640.14 74.65 L640.54 73.51 L640.94 71.85 L641.34 69.95 L641.74 68.1 L642.14 66.61 L642.54 65.75 L642.94 65.78 L643.34 66.67 L643.75 68.15 L644.15 69.99 L644.55 71.91 L644.95 73.68 L645.35 75.05 L645.75 75.76 L646.15 75.63 L646.55 74.84 L646.95 73.56 L647.35 71.99 L647.76 70.3 L648.16 68.66 L648.56 67.26 L648.96 66.27 L649.36 65.88 L649.76 66 L650.16 66.33 L650.56 66.77 L650.96 67.2 L651.36 67.52 L651.77 67.63 L652.17 67.51 L652.57 67.27 L652.97 66.98 L653.37 66.7 L653.77 66.51 L654.17 66.47 L654.57 66.69 L654.97 67.14 L655.37 67.76 L655.78 68.48 L656.18 69.25 L656.58 70 L656.98 70.69 L657.38 71.24 L657.78 71.6 L658.18 71.71 L658.58 71.63 L658.98 71.41 L659.39 71.1 L659.79 70.71 L660.19 70.29 L660.59 69.84 L660.99 69.41 L661.39 69.01 L661.79 68.67 L662.19 68.31 L662.59 67.91 L662.99 67.5 L663.4 67.1 L663.8 66.74 L664.2 66.44 L664.6 66.23 L665 66.12 L665.4 66.11 L665.8 66.12 L666.2 66.15 L666.6 66.18 L667 66.22 L667.41 66.27 L667.81 66.32 L668.21 66.39 L668.61 66.45 L669.01 66.59 L669.41 66.87 L669.81 67.25 L670.21 67.71 L670.61 68.2 L671.01 68.7 L671.42 69.15 L671.82 69.54 L672.22 69.82 L672.62 69.96 L673.02 69.94 L673.42 69.81 L673.82 69.62 L674.22 69.38 L674.62 69.12 L675.03 68.87 L675.43 68.65 L675.83 68.5 L676.23 68.45 L676.63 68.58 L677.03 68.94 L677.43 69.48 L677.83 70.11 L678.23 70.77 L678.63 71.38 L679.04 71.89 L679.44 72.22 L679.84 72.29 L680.24 72.19 L680.64 72 L681.04 71.81 L681.44 71.72 L681.84 71.75 L682.24 71.89 L682.64 72.13 L683.05 72.47 L683.45 72.89 L683.85 73.39 L684.25 73.98 L684.65 74.64" fill="none" stroke="#4682b4" stroke-width="1.35" stroke-linejoin="round" />
<path d="M530.26 51.28 L530.66 51.11 L531.06 51 L531.46 50.95 L531.86 50.93 L532.26 50.93 L532.66 51.01 L533.06 51.2 L533.46 51.46 L533.86 51.76 L534.27 52.04 L534.67 52.35 L535.07 52.73 L535.47 53.1 L535.87 53.34 L536.27 53.35 L536.67 53.12 L537.07 52.75 L537.47 52.38 L537.87 52.13 L538.28 52.12 L538.68 52.3 L539.08 52.6 L539.48 52.97 L539.88 53.35 L540.28 53.69 L540.68 54.08 L541.08 54.53 L541.48 55.01 L541.89 55.47 L542.29 55.9 L542.69 56.24 L543.09 56.46 L543.49 56.53 L543.89 56.4 L544.29 56.08 L544.69 55.65 L545.09 55.17 L545.49 54.72 L545.9 54.12 L546.3 53.41 L546.7 52.79 L547.1 52.46 L547.5 52.45 L547.9 52.45 L548.3 52.45 L548.7 52.45 L549.1 52.48 L549.5 52.77 L549.91 53.29 L550.31 53.91 L550.71 54.52 L551.11 55 L551.51 55.28 L551.91 55.54 L552.31 55.76 L552.71 55.91 L553.11 55.95 L553.51 55.9 L553.92 55.81 L554.32 55.67 L554.72 55.51 L555.12 55.34 L555.52 55.16 L555.92 54.97 L556.32 54.73 L556.72 54.45 L557.12 54.15 L557.53 53.84 L557.93 53.55 L558.33 53.29 L558.73 53.09 L559.13 52.93 L559.53 52.8 L559.93 52.67 L560.33 52.56 L560.73 52.45 L561.13 52.36 L561.54 52.27 L561.94 52.18 L562.34 52.1 L562.74 52.02 L563.14 51.95 L563.54 51.89 L563.94 51.82 L564.34 51.76 L564.74 51.71 L565.14 51.65 L565.55 51.59 L565.95 51.52 L566.35 51.45 L566.75 51.39 L567.15 51.33 L567.55 51.29 L567.95 51.28 L568.35 51.42 L568.75 51.82 L569.15 52.34 L569.56 52.86 L569.96 53.25 L570.36 53.38 L570.76 53.26 L571.16 52.99 L571.56 52.65 L571.96 52.31 L572.36 52.02 L572.76 51.87 L573.17 51.87 L573.57 51.93 L573.97 52.02 L574.37 52.14 L574.77 52.28 L575.17 52.43 L575.57 52.65 L575.97 53 L576.37 53.42 L576.77 53.81 L577.18 54.09 L577.58 54.2 L577.98 54.15 L578.38 54.03 L578.78 53.88 L579.18 53.74 L579.58 53.64 L579.98 53.62 L580.38 53.71 L580.78 53.91 L581.19 54.16 L581.59 54.43 L581.99 54.67 L582.39 54.85 L582.79 55.03 L583.19 55.22 L583.59 55.39 L583.99 55.52 L584.39 55.59 L584.79 55.51 L585.2 55.05 L585.6 54.34 L586 53.56 L586.4 52.9 L586.8 52.17 L587.2 51.4 L587.6 50.77 L588 50.47 L588.4 50.61 L588.8 51.07 L589.21 51.7 L589.61 52.34 L590.01 52.84 L590.41 53.03 L590.81 53.01 L591.21 52.96 L591.61 52.91 L592.01 52.85 L592.41 52.81 L592.82 52.8 L593.22 52.8 L593.62 52.8 L594.02 52.8 L594.42 52.8 L594.82 52.8 L595.22 52.79 L595.62 52.71 L596.02 52.56 L596.42 52.38 L596.83 52.19 L597.23 52.02 L597.63 51.9 L598.03 51.86 L598.43 51.94 L598.83 52.12 L599.23 52.38 L599.63 52.68 L600.03 53 L600.43 53.31 L600.84 53.57 L601.24 53.8 L601.64 54.04 L602.04 54.3 L602.44 54.56 L602.84 54.81 L603.24 55.05 L603.64 55.25 L604.04 55.42 L604.44 55.53 L604.85 55.59 L605.25 55.58 L605.65 55.49 L606.05 55.33 L606.45 55.13 L606.85 54.89 L607.25 54.64 L607.65 54.39 L608.05 54.17 L608.46 53.98 L608.86 53.82 L609.26 53.65 L609.66 53.48 L610.06 53.3 L610.46 53.13 L610.86 52.97 L611.26 52.82 L611.66 52.69 L612.06 52.58 L612.47 52.5 L612.87 52.46 L613.27 52.45 L613.67 52.57 L614.07 52.81 L614.47 53.15 L614.87 53.55 L615.27 53.98 L615.67 54.39 L616.07 54.75 L616.48 55.03 L616.88 55.21 L617.28 55.37 L617.68 55.53 L618.08 55.67 L618.48 55.79 L618.88 55.88 L619.28 55.93 L619.68 55.95 L620.08 55.86 L620.49 55.66 L620.89 55.38 L621.29 55.05 L621.69 54.7 L622.09 54.34 L622.49 54.01 L622.89 53.73 L623.29 53.52 L623.69 53.3 L624.1 53.09 L624.5 52.88 L624.9 52.7 L625.3 52.56 L625.7 52.47 L626.1 52.45 L626.5 52.56 L626.9 52.81 L627.3 53.15 L627.7 53.54 L628.11 53.94 L628.51 54.3 L628.91 54.59 L629.31 54.76 L629.71 54.73 L630.11 54.35 L630.51 53.65 L630.91 52.76 L631.31 51.77 L631.71 50.79 L632.12 49.93 L632.52 49.28 L632.92 48.96 L633.32 49.03 L633.72 49.42 L634.12 50.04 L634.52 50.84 L634.92 51.73 L635.32 52.66 L635.72 53.55 L636.13 54.33 L636.53 54.94 L636.93 55.3 L637.33 55.39 L637.73 55.45 L638.13 55.49 L638.53 55.53 L638.93 55.56 L639.33 55.58 L639.73 55.6 L640.14 55.58 L640.54 55.17 L640.94 54.35 L641.34 53.3 L641.74 52.17 L642.14 51.15 L642.54 50.41 L642.94 50.11 L643.34 50.31 L643.75 50.87 L644.15 51.7 L644.55 52.71 L644.95 53.79 L645.35 54.86 L645.75 55.82 L646.15 56.57 L646.55 57.03 L646.95 57.09 L647.35 56.76 L647.76 56.13 L648.16 55.28 L648.56 54.31 L648.96 53.31 L649.36 52.38 L649.76 51.59 L650.16 51 L650.56 50.41 L650.96 49.83 L651.36 49.29 L651.77 48.83 L652.17 48.51 L652.57 48.36 L652.97 48.43 L653.37 48.71 L653.77 49.14 L654.17 49.68 L654.57 50.27 L654.97 50.86 L655.37 51.4 L655.78 51.84 L656.18 52.22 L656.58 52.62 L656.98 53 L657.38 53.33 L657.78 53.54 L658.18 53.61 L658.58 53.59 L658.98 53.54 L659.39 53.46 L659.79 53.36 L660.19 53.24 L660.59 53.11 L660.99 52.95 L661.39 52.79 L661.79 52.63 L662.19 52.46 L662.59 52.24 L662.99 51.92 L663.4 51.53 L663.8 51.11 L664.2 50.69 L664.6 50.31 L665 50.01 L665.4 49.81 L665.8 49.76 L666.2 49.76 L666.6 49.76 L667 49.76 L667.41 49.76 L667.81 49.76 L668.21 49.76 L668.61 49.76 L669.01 49.82 L669.41 50 L669.81 50.29 L670.21 50.64 L670.61 51.02 L671.01 51.42 L671.42 51.78 L671.82 52.1 L672.22 52.33 L672.62 52.44 L673.02 52.42 L673.42 52.33 L673.82 52.18 L674.22 51.99 L674.62 51.79 L675.03 51.6 L675.43 51.44 L675.83 51.32 L676.23 51.28 L676.63 51.39 L677.03 51.7 L677.43 52.13 L677.83 52.6 L678.23 53.06 L678.63 53.41 L679.04 53.6 L679.44 53.59 L679.84 53.49 L680.24 53.35 L680.64 53.21 L681.04 53.09 L681.44 53.03 L681.84 53.11 L682.24 53.4 L682.64 53.88 L683.05 54.52 L683.45 55.3 L683.85 56.2 L684.25 57.21 L684.65 58.28" fill="none" stroke="#800080" stroke-width="1.35" stroke-linejoin="round" />
</g>
<path d="M622.4 60.6 L617.9 59.7 L619.8 64.2 Z" fill="#ff0000" stroke="#ff0000" stroke-width="0.5" stroke-linejoin="miter"/>
<text x="533" y="39.9" font-size="9.6" fill="#000" stroke="#000" text-anchor="start" >Shear</text>
<rect x="549.6" y="75.2" width="37.6" height="200.8" stroke="#808080" stroke-width="1.55" fill="none" stroke-dasharray="4.4 1.9"/>
<rect x="622.9" y="42.9" width="36.4" height="35.6" stroke="#808080" stroke-width="1.55" fill="none" stroke-dasharray="4.4 1.9"/>
<line x1="368.7" y1="279.4" x2="368.7" y2="269.2" stroke="#383838" stroke-width="0.8" />
<text x="368.7" y="292.6" font-size="14.4" fill="#000" stroke="#000" text-anchor="middle" >5</text>
<line x1="420.1" y1="279.4" x2="420.1" y2="269.2" stroke="#383838" stroke-width="0.8" />
<text x="420.1" y="292.6" font-size="14.4" fill="#000" stroke="#000" text-anchor="middle" >6</text>
<line x1="471.4" y1="279.4" x2="471.4" y2="269.2" stroke="#383838" stroke-width="0.8" />
<text x="471.4" y="292.6" font-size="14.4" fill="#000" stroke="#000" text-anchor="middle" >7</text>
<line x1="522.7" y1="279.4" x2="522.7" y2="269.2" stroke="#383838" stroke-width="0.8" />
<text x="522.7" y="292.6" font-size="14.4" fill="#000" stroke="#000" text-anchor="middle" >8</text>
<rect x="368.55" y="28.55" width="154.1" height="250.85" stroke="#383838" stroke-width="0.8" fill="none" />
<line x1="556.2" y1="279.4" x2="556.2" y2="269.2" stroke="#383838" stroke-width="0.8" />
<text x="556.2" y="292.6" font-size="14.4" fill="#000" stroke="#000" text-anchor="middle" >10</text>
<line x1="607.4" y1="279.4" x2="607.4" y2="269.2" stroke="#383838" stroke-width="0.8" />
<text x="607.4" y="292.6" font-size="14.4" fill="#000" stroke="#000" text-anchor="middle" >12</text>
<line x1="659" y1="279.4" x2="659" y2="269.2" stroke="#383838" stroke-width="0.8" />
<text x="659" y="292.6" font-size="14.4" fill="#000" stroke="#000" text-anchor="middle" >14</text>
<rect x="530.8" y="28.55" width="153.7" height="250.85" stroke="#383838" stroke-width="0.8" fill="none" />
<text x="445.5" y="308.6" font-size="14.7" fill="#000" stroke="#000" text-anchor="middle" >Time (µs)</text>
<text x="607.5" y="308.6" font-size="14.7" fill="#000" stroke="#000" text-anchor="middle" >Time (µs)</text>
<text x="363.4" y="153.8" font-size="14.7" fill="#000" stroke="#000" text-anchor="middle" transform="rotate(-90 363.4 153.8)" >Amplitude</text>
<text font-family="'Liberation Serif','DejaVu Serif',serif" fill="#000" stroke="#000" text-anchor="start"><tspan x="349.1" y="15.7" font-size="22.2" stroke-width="0.2">(</tspan><tspan x="357.8" y="15.5" font-size="21" font-weight="normal" stroke-width="0.25" textLength="11.97" lengthAdjust="spacingAndGlyphs">b</tspan><tspan x="370.4" y="15.7" font-size="22.2" stroke-width="0.2">)</tspan></text>
</g>
<g font-family="'DejaVu Sans','Liberation Sans',sans-serif">
<line x1="65.3" y1="592.2" x2="65.3" y2="582.8" stroke="#383838" stroke-width="0.8" />
<line x1="65.3" y1="364.5" x2="65.3" y2="373.9" stroke="#383838" stroke-width="0.8" />
<text x="65.3" y="604" font-size="13.55" fill="#000" stroke="#000" text-anchor="middle" >0</text>
<line x1="117.85" y1="592.2" x2="117.85" y2="582.8" stroke="#383838" stroke-width="0.8" />
<line x1="117.85" y1="364.5" x2="117.85" y2="373.9" stroke="#383838" stroke-width="0.8" />
<text x="117.85" y="604" font-size="13.55" fill="#000" stroke="#000" text-anchor="middle" >25</text>
<line x1="170.4" y1="592.2" x2="170.4" y2="582.8" stroke="#383838" stroke-width="0.8" />
<line x1="170.4" y1="364.5" x2="170.4" y2="373.9" stroke="#383838" stroke-width="0.8" />
<text x="170.4" y="604" font-size="13.55" fill="#000" stroke="#000" text-anchor="middle" >50</text>
<line x1="222.95" y1="592.2" x2="222.95" y2="582.8" stroke="#383838" stroke-width="0.8" />
<line x1="222.95" y1="364.5" x2="222.95" y2="373.9" stroke="#383838" stroke-width="0.8" />
<text x="222.95" y="604" font-size="13.55" fill="#000" stroke="#000" text-anchor="middle" >75</text>
<line x1="275.5" y1="592.2" x2="275.5" y2="582.8" stroke="#383838" stroke-width="0.8" />
<line x1="275.5" y1="364.5" x2="275.5" y2="373.9" stroke="#383838" stroke-width="0.8" />
<text x="275.5" y="604" font-size="13.55" fill="#000" stroke="#000" text-anchor="middle" >100</text>
<line x1="55.55" y1="589.48" x2="64.95" y2="589.48" stroke="#383838" stroke-width="0.8" />
<text x="53.5" y="594.77" font-size="13.55" fill="#ff0000" stroke="#ff0000" text-anchor="end" >2250</text>
<line x1="55.55" y1="544.99" x2="64.95" y2="544.99" stroke="#383838" stroke-width="0.8" />
<text x="53.5" y="550.29" font-size="13.55" fill="#ff0000" stroke="#ff0000" text-anchor="end" >2300</text>
<line x1="55.55" y1="500.5" x2="64.95" y2="500.5" stroke="#383838" stroke-width="0.8" />
<text x="53.5" y="505.81" font-size="13.55" fill="#ff0000" stroke="#ff0000" text-anchor="end" >2350</text>
<line x1="55.55" y1="456.02" x2="64.95" y2="456.02" stroke="#383838" stroke-width="0.8" />
<text x="53.5" y="461.32" font-size="13.55" fill="#ff0000" stroke="#ff0000" text-anchor="end" >2400</text>
<line x1="55.55" y1="411.54" x2="64.95" y2="411.54" stroke="#383838" stroke-width="0.8" />
<text x="53.5" y="416.84" font-size="13.55" fill="#ff0000" stroke="#ff0000" text-anchor="end" >2450</text>
<line x1="55.55" y1="367.05" x2="64.95" y2="367.05" stroke="#383838" stroke-width="0.8" />
<text x="53.5" y="372.35" font-size="13.55" fill="#ff0000" stroke="#ff0000" text-anchor="end" >2500</text>
<line x1="281.5" y1="582.7" x2="272.1" y2="582.7" stroke="#383838" stroke-width="0.8" />
<text x="283.2" y="588" font-size="13.55" fill="#0000ff" stroke="#0000ff" text-anchor="start" >1200</text>
<line x1="281.5" y1="552.21" x2="272.1" y2="552.21" stroke="#383838" stroke-width="0.8" />
<text x="283.2" y="557.51" font-size="13.55" fill="#0000ff" stroke="#0000ff" text-anchor="start" >1250</text>
<line x1="281.5" y1="521.73" x2="272.1" y2="521.73" stroke="#383838" stroke-width="0.8" />
<text x="283.2" y="527.02" font-size="13.55" fill="#0000ff" stroke="#0000ff" text-anchor="start" >1300</text>
<line x1="281.5" y1="491.24" x2="272.1" y2="491.24" stroke="#383838" stroke-width="0.8" />
<text x="283.2" y="496.54" font-size="13.55" fill="#0000ff" stroke="#0000ff" text-anchor="start" >1350</text>
<line x1="281.5" y1="460.75" x2="272.1" y2="460.75" stroke="#383838" stroke-width="0.8" />
<text x="283.2" y="466.06" font-size="13.55" fill="#0000ff" stroke="#0000ff" text-anchor="start" >1400</text>
<line x1="281.5" y1="430.27" x2="272.1" y2="430.27" stroke="#383838" stroke-width="0.8" />
<text x="283.2" y="435.57" font-size="13.55" fill="#0000ff" stroke="#0000ff" text-anchor="start" >1450</text>
<line x1="281.5" y1="399.79" x2="272.1" y2="399.79" stroke="#383838" stroke-width="0.8" />
<text x="283.2" y="405.09" font-size="13.55" fill="#0000ff" stroke="#0000ff" text-anchor="start" >1500</text>
<line x1="281.5" y1="369.3" x2="272.1" y2="369.3" stroke="#383838" stroke-width="0.8" />
<text x="283.2" y="374.6" font-size="13.55" fill="#0000ff" stroke="#0000ff" text-anchor="start" >1550</text>
<line x1="241.5" y1="364.5" x2="241.5" y2="592.2" stroke="#000" stroke-width="1.25" stroke-dasharray="3.85 1.6" stroke-dashoffset="2.65"/>
<path d="M90.52 388.7 V397.3 M88.92 388.7 H92.12 M88.92 397.3 H92.12" fill="none" stroke="#000" stroke-width="0.9"/>
<path d="M128.36 399.8 V408.4 M126.76 399.8 H129.96 M126.76 408.4 H129.96" fill="none" stroke="#000" stroke-width="0.9"/>
<path d="M159.89 413.2 V421.8 M158.29 413.2 H161.49 M158.29 421.8 H161.49" fill="none" stroke="#000" stroke-width="0.9"/>
<path d="M176.71 421.5 V430.1 M175.11 421.5 H178.31 M175.11 430.1 H178.31" fill="none" stroke="#000" stroke-width="0.9"/>
<path d="M187.22 426.9 V435.5 M185.62 426.9 H188.82 M185.62 435.5 H188.82" fill="none" stroke="#000" stroke-width="0.9"/>
<path d="M222.95 435.1 V443.7 M221.35 435.1 H224.55 M221.35 443.7 H224.55" fill="none" stroke="#000" stroke-width="0.9"/>
<path d="M227.15 437.4 V446 M225.55 437.4 H228.75 M225.55 446 H228.75" fill="none" stroke="#000" stroke-width="0.9"/>
<path d="M235.56 440.2 V448.8 M233.96 440.2 H237.16 M233.96 448.8 H237.16" fill="none" stroke="#000" stroke-width="0.9"/>
<path d="M241.87 440.6 V449.2 M240.27 440.6 H243.47 M240.27 449.2 H243.47" fill="none" stroke="#000" stroke-width="0.9"/>
<path d="M246.07 453 V461.6 M244.47 453 H247.67 M244.47 461.6 H247.67" fill="none" stroke="#000" stroke-width="0.9"/>
<path d="M250.28 461.1 V469.7 M248.68 461.1 H251.88 M248.68 469.7 H251.88" fill="none" stroke="#000" stroke-width="0.9"/>
<path d="M260.79 474 V482.6 M259.19 474 H262.39 M259.19 482.6 H262.39" fill="none" stroke="#000" stroke-width="0.9"/>
<path d="M271.3 476.7 V485.3 M269.7 476.7 H272.9 M269.7 485.3 H272.9" fill="none" stroke="#000" stroke-width="0.9"/>
<path d="M90.52 393 L128.36 404.1 L159.89 417.5 L176.71 425.8 L187.22 431.2 L222.95 439.4 L227.15 441.7 L235.56 444.5 L241.87 444.9 L246.07 457.3 L250.28 465.4 L260.79 478.3 L271.3 481" fill="none" stroke="#ff0000" stroke-width="1.25" stroke-linejoin="round" />
<path d="M90.52 389.4 L87.22 396 L93.82 396 Z" fill="#ff0000" stroke="#ff0000" stroke-width="1" stroke-linejoin="miter"/>
<path d="M128.36 400.5 L125.06 407.1 L131.66 407.1 Z" fill="#ff0000" stroke="#ff0000" stroke-width="1" stroke-linejoin="miter"/>
<path d="M159.89 413.9 L156.59 420.5 L163.19 420.5 Z" fill="#ff0000" stroke="#ff0000" stroke-width="1" stroke-linejoin="miter"/>
<path d="M176.71 422.2 L173.41 428.8 L180.01 428.8 Z" fill="#ff0000" stroke="#ff0000" stroke-width="1" stroke-linejoin="miter"/>
<path d="M187.22 427.6 L183.92 434.2 L190.52 434.2 Z" fill="#ff0000" stroke="#ff0000" stroke-width="1" stroke-linejoin="miter"/>
<path d="M222.95 435.8 L219.65 442.4 L226.25 442.4 Z" fill="#ff0000" stroke="#ff0000" stroke-width="1" stroke-linejoin="miter"/>
<path d="M227.15 438.1 L223.85 444.7 L230.45 444.7 Z" fill="#ff0000" stroke="#ff0000" stroke-width="1" stroke-linejoin="miter"/>
<path d="M235.56 440.9 L232.26 447.5 L238.86 447.5 Z" fill="#ff0000" stroke="#ff0000" stroke-width="1" stroke-linejoin="miter"/>
<path d="M241.87 441.3 L238.57 447.9 L245.17 447.9 Z" fill="#ff0000" stroke="#ff0000" stroke-width="1" stroke-linejoin="miter"/>
<path d="M246.07 453.7 L242.77 460.3 L249.37 460.3 Z" fill="#ff0000" stroke="#ff0000" stroke-width="1" stroke-linejoin="miter"/>
<path d="M250.28 461.8 L246.98 468.4 L253.58 468.4 Z" fill="#ff0000" stroke="#ff0000" stroke-width="1" stroke-linejoin="miter"/>
<path d="M260.79 474.7 L257.49 481.3 L264.09 481.3 Z" fill="#ff0000" stroke="#ff0000" stroke-width="1" stroke-linejoin="miter"/>
<path d="M271.3 477.4 L268 484 L274.6 484 Z" fill="#ff0000" stroke="#ff0000" stroke-width="1" stroke-linejoin="miter"/>
<path d="M65.3 375.1 V382.9 M63.7 375.1 H66.9 M63.7 382.9 H66.9" fill="none" stroke="#000" stroke-width="0.9"/>
<path d="M90.52 397.5 V405.3 M88.92 397.5 H92.12 M88.92 405.3 H92.12" fill="none" stroke="#000" stroke-width="0.9"/>
<path d="M128.36 411 V418.8 M126.76 411 H129.96 M126.76 418.8 H129.96" fill="none" stroke="#000" stroke-width="0.9"/>
<path d="M159.89 435.2 V443 M158.29 435.2 H161.49 M158.29 443 H161.49" fill="none" stroke="#000" stroke-width="0.9"/>
<path d="M176.71 445.9 V453.7 M175.11 445.9 H178.31 M175.11 453.7 H178.31" fill="none" stroke="#000" stroke-width="0.9"/>
<path d="M187.22 451 V458.8 M185.62 451 H188.82 M185.62 458.8 H188.82" fill="none" stroke="#000" stroke-width="0.9"/>
<path d="M222.95 507 V514.8 M221.35 507 H224.55 M221.35 514.8 H224.55" fill="none" stroke="#000" stroke-width="0.9"/>
<path d="M227.15 529.1 V536.9 M225.55 529.1 H228.75 M225.55 536.9 H228.75" fill="none" stroke="#000" stroke-width="0.9"/>
<path d="M235.56 574.5 V582.3 M233.96 574.5 H237.16 M233.96 582.3 H237.16" fill="none" stroke="#000" stroke-width="0.9"/>
<path d="M241.87 572.2 V580 M240.27 572.2 H243.47 M240.27 580 H243.47" fill="none" stroke="#000" stroke-width="0.9"/>
<path d="M246.07 489.5 V497.3 M244.47 489.5 H247.67 M244.47 497.3 H247.67" fill="none" stroke="#000" stroke-width="0.9"/>
<path d="M250.28 491.8 V499.6 M248.68 491.8 H251.88 M248.68 499.6 H251.88" fill="none" stroke="#000" stroke-width="0.9"/>
<path d="M260.79 476.7 V484.5 M259.19 476.7 H262.39 M259.19 484.5 H262.39" fill="none" stroke="#000" stroke-width="0.9"/>
<path d="M271.3 477.2 V485 M269.7 477.2 H272.9 M269.7 485 H272.9" fill="none" stroke="#000" stroke-width="0.9"/>
<path d="M65.3 379 L90.52 401.4 L128.36 414.9 L159.89 439.1 L176.71 449.8 L187.22 454.9 L222.95 510.9 L227.15 533 L235.56 578.4 L241.87 576.1 L246.07 493.4 L250.28 495.7 L260.79 480.6 L271.3 481.1" fill="none" stroke="#ff0000" stroke-width="1.25" stroke-linejoin="round" stroke-dasharray="4.0 1.7"/>
<path d="M65.3 375.65 L62.15 381.95 L68.45 381.95 Z" fill="#ffffff" stroke="#ff0000" stroke-width="0.9" stroke-linejoin="miter"/>
<path d="M90.52 398.05 L87.37 404.35 L93.67 404.35 Z" fill="#ffffff" stroke="#ff0000" stroke-width="0.9" stroke-linejoin="miter"/>
<path d="M128.36 411.55 L125.21 417.85 L131.51 417.85 Z" fill="#ffffff" stroke="#ff0000" stroke-width="0.9" stroke-linejoin="miter"/>
<path d="M159.89 435.75 L156.74 442.05 L163.04 442.05 Z" fill="#ffffff" stroke="#ff0000" stroke-width="0.9" stroke-linejoin="miter"/>
<path d="M176.71 446.45 L173.56 452.75 L179.86 452.75 Z" fill="#ffffff" stroke="#ff0000" stroke-width="0.9" stroke-linejoin="miter"/>
<path d="M187.22 451.55 L184.07 457.85 L190.37 457.85 Z" fill="#ffffff" stroke="#ff0000" stroke-width="0.9" stroke-linejoin="miter"/>
<path d="M222.95 507.55 L219.8 513.85 L226.1 513.85 Z" fill="#ffffff" stroke="#ff0000" stroke-width="0.9" stroke-linejoin="miter"/>
<path d="M227.15 529.65 L224 535.95 L230.3 535.95 Z" fill="#ffffff" stroke="#ff0000" stroke-width="0.9" stroke-linejoin="miter"/>
<path d="M235.56 575.05 L232.41 581.35 L238.71 581.35 Z" fill="#ffffff" stroke="#ff0000" stroke-width="0.9" stroke-linejoin="miter"/>
<path d="M241.87 572.75 L238.72 579.05 L245.02 579.05 Z" fill="#ffffff" stroke="#ff0000" stroke-width="0.9" stroke-linejoin="miter"/>
<path d="M246.07 490.05 L242.92 496.35 L249.22 496.35 Z" fill="#ffffff" stroke="#ff0000" stroke-width="0.9" stroke-linejoin="miter"/>
<path d="M250.28 492.35 L247.13 498.65 L253.43 498.65 Z" fill="#ffffff" stroke="#ff0000" stroke-width="0.9" stroke-linejoin="miter"/>
<path d="M260.79 477.25 L257.64 483.55 L263.94 483.55 Z" fill="#ffffff" stroke="#ff0000" stroke-width="0.9" stroke-linejoin="miter"/>
<path d="M271.3 477.75 L268.15 484.05 L274.45 484.05 Z" fill="#ffffff" stroke="#ff0000" stroke-width="0.9" stroke-linejoin="miter"/>
<path d="M90.52 376.4 L128.36 382.2 L159.89 389.3 L176.71 394.4 L187.22 397.2 L222.95 402.8 L227.15 403.5 L235.56 406.5 L241.87 405.8 L246.07 412.8 L250.28 416 L260.79 579.4 L271.3 580.6" fill="none" stroke="#0000ff" stroke-width="1.25" stroke-linejoin="round" />
<path d="M90.52 372.7 L87.22 379.3 L93.82 379.3 Z" fill="#0000ff" stroke="#0000ff" stroke-width="1" stroke-linejoin="miter"/>
<path d="M128.36 378.5 L125.06 385.1 L131.66 385.1 Z" fill="#0000ff" stroke="#0000ff" stroke-width="1" stroke-linejoin="miter"/>
<path d="M159.89 385.6 L156.59 392.2 L163.19 392.2 Z" fill="#0000ff" stroke="#0000ff" stroke-width="1" stroke-linejoin="miter"/>
<path d="M176.71 390.7 L173.41 397.3 L180.01 397.3 Z" fill="#0000ff" stroke="#0000ff" stroke-width="1" stroke-linejoin="miter"/>
<path d="M187.22 393.5 L183.92 400.1 L190.52 400.1 Z" fill="#0000ff" stroke="#0000ff" stroke-width="1" stroke-linejoin="miter"/>
<path d="M222.95 399.1 L219.65 405.7 L226.25 405.7 Z" fill="#0000ff" stroke="#0000ff" stroke-width="1" stroke-linejoin="miter"/>
<path d="M227.15 399.8 L223.85 406.4 L230.45 406.4 Z" fill="#0000ff" stroke="#0000ff" stroke-width="1" stroke-linejoin="miter"/>
<path d="M235.56 402.8 L232.26 409.4 L238.86 409.4 Z" fill="#0000ff" stroke="#0000ff" stroke-width="1" stroke-linejoin="miter"/>
<path d="M241.87 402.1 L238.57 408.7 L245.17 408.7 Z" fill="#0000ff" stroke="#0000ff" stroke-width="1" stroke-linejoin="miter"/>
<path d="M246.07 409.1 L242.77 415.7 L249.37 415.7 Z" fill="#0000ff" stroke="#0000ff" stroke-width="1" stroke-linejoin="miter"/>
<path d="M250.28 412.3 L246.98 418.9 L253.58 418.9 Z" fill="#0000ff" stroke="#0000ff" stroke-width="1" stroke-linejoin="miter"/>
<path d="M260.79 575.7 L257.49 582.3 L264.09 582.3 Z" fill="#0000ff" stroke="#0000ff" stroke-width="1" stroke-linejoin="miter"/>
<path d="M271.3 576.9 L268 583.5 L274.6 583.5 Z" fill="#0000ff" stroke="#0000ff" stroke-width="1" stroke-linejoin="miter"/>
<rect x="55.55" y="364.5" width="225.95" height="227.7" stroke="#383838" stroke-width="0.8" fill="none" />
<text x="168.3" y="618.4" font-size="13.55" fill="#000" stroke="#000" text-anchor="middle" >RH (%)</text>
<text x="14.1" y="478.4" font-size="13.55" fill="#ff0000" stroke="#ff0000" text-anchor="middle" transform="rotate(-90 14.1 478.4)"><tspan dy="0" font-size="13.55">v</tspan><tspan dy="2.3" font-size="9.48">L</tspan><tspan dy="-2.3" font-size="13.55"> (ms</tspan><tspan dy="-4.88" font-size="9.48">−1</tspan><tspan dy="4.88" font-size="13.55">)</tspan></text>
<text x="331.7" y="478.5" font-size="13.55" fill="#0000ff" stroke="#0000ff" text-anchor="middle" transform="rotate(-90 331.7 478.5)"><tspan dy="0" font-size="13.55">v</tspan><tspan dy="2.3" font-size="9.48">S</tspan><tspan dy="-2.3" font-size="13.55"> (ms</tspan><tspan dy="-4.88" font-size="9.48">−1</tspan><tspan dy="4.88" font-size="13.55">)</tspan></text>
<text font-family="'Liberation Serif','DejaVu Serif',serif" fill="#000" stroke="#000" text-anchor="start"><tspan x="-1.3" y="349.8" font-size="22.2" stroke-width="0.2">(</tspan><tspan x="6.5" y="349.6" font-size="21" font-weight="bold" stroke-width="0.1" textLength="10.44" lengthAdjust="spacingAndGlyphs">c</tspan><tspan x="17.3" y="349.8" font-size="22.2" stroke-width="0.2">)</tspan></text>
</g>
<g font-family="'DejaVu Sans','Liberation Sans',sans-serif">
<line x1="397.3" y1="590.45" x2="397.3" y2="580.95" stroke="#383838" stroke-width="0.8" />
<line x1="397.3" y1="362" x2="397.3" y2="371.5" stroke="#383838" stroke-width="0.8" />
<text x="397.3" y="603.2" font-size="13.55" fill="#000" stroke="#000" text-anchor="middle" >0</text>
<line x1="444.92" y1="590.45" x2="444.92" y2="580.95" stroke="#383838" stroke-width="0.8" />
<line x1="444.92" y1="362" x2="444.92" y2="371.5" stroke="#383838" stroke-width="0.8" />
<text x="444.92" y="603.2" font-size="13.55" fill="#000" stroke="#000" text-anchor="middle" >20</text>
<line x1="492.54" y1="590.45" x2="492.54" y2="580.95" stroke="#383838" stroke-width="0.8" />
<line x1="492.54" y1="362" x2="492.54" y2="371.5" stroke="#383838" stroke-width="0.8" />
<text x="492.54" y="603.2" font-size="13.55" fill="#000" stroke="#000" text-anchor="middle" >40</text>
<line x1="540.16" y1="590.45" x2="540.16" y2="580.95" stroke="#383838" stroke-width="0.8" />
<line x1="540.16" y1="362" x2="540.16" y2="371.5" stroke="#383838" stroke-width="0.8" />
<text x="540.16" y="603.2" font-size="13.55" fill="#000" stroke="#000" text-anchor="middle" >60</text>
<line x1="587.78" y1="590.45" x2="587.78" y2="580.95" stroke="#383838" stroke-width="0.8" />
<line x1="587.78" y1="362" x2="587.78" y2="371.5" stroke="#383838" stroke-width="0.8" />
<text x="587.78" y="603.2" font-size="13.55" fill="#000" stroke="#000" text-anchor="middle" >80</text>
<line x1="635.4" y1="590.45" x2="635.4" y2="580.95" stroke="#383838" stroke-width="0.8" />
<line x1="635.4" y1="362" x2="635.4" y2="371.5" stroke="#383838" stroke-width="0.8" />
<text x="635.4" y="603.2" font-size="13.55" fill="#000" stroke="#000" text-anchor="middle" >100</text>
<line x1="385.5" y1="566.4" x2="395" y2="566.4" stroke="#383838" stroke-width="0.8" />
<text x="383.7" y="571.7" font-size="13.55" fill="#ff0000" stroke="#ff0000" text-anchor="end" >4.5</text>
<line x1="385.5" y1="535.4" x2="395" y2="535.4" stroke="#383838" stroke-width="0.8" />
<text x="383.7" y="540.7" font-size="13.55" fill="#ff0000" stroke="#ff0000" text-anchor="end" >5.0</text>
<line x1="385.5" y1="504.4" x2="395" y2="504.4" stroke="#383838" stroke-width="0.8" />
<text x="383.7" y="509.7" font-size="13.55" fill="#ff0000" stroke="#ff0000" text-anchor="end" >5.5</text>
<line x1="385.5" y1="473.4" x2="395" y2="473.4" stroke="#383838" stroke-width="0.8" />
<text x="383.7" y="478.7" font-size="13.55" fill="#ff0000" stroke="#ff0000" text-anchor="end" >6.0</text>
<line x1="385.5" y1="442.4" x2="395" y2="442.4" stroke="#383838" stroke-width="0.8" />
<text x="383.7" y="447.7" font-size="13.55" fill="#ff0000" stroke="#ff0000" text-anchor="end" >6.5</text>
<line x1="385.5" y1="411.4" x2="395" y2="411.4" stroke="#383838" stroke-width="0.8" />
<text x="383.7" y="416.7" font-size="13.55" fill="#ff0000" stroke="#ff0000" text-anchor="end" >7.0</text>
<line x1="385.5" y1="380.4" x2="395" y2="380.4" stroke="#383838" stroke-width="0.8" />
<text x="383.7" y="385.7" font-size="13.55" fill="#ff0000" stroke="#ff0000" text-anchor="end" >7.5</text>
<line x1="642" y1="566.45" x2="632.5" y2="566.45" stroke="#383838" stroke-width="0.8" />
<text x="643.8" y="571.75" font-size="13.55" fill="#000" stroke="#000" text-anchor="start" >2.0</text>
<line x1="642" y1="535.77" x2="632.5" y2="535.77" stroke="#383838" stroke-width="0.8" />
<text x="643.8" y="541.07" font-size="13.55" fill="#000" stroke="#000" text-anchor="start" >2.5</text>
<line x1="642" y1="505.1" x2="632.5" y2="505.1" stroke="#383838" stroke-width="0.8" />
<text x="643.8" y="510.4" font-size="13.55" fill="#000" stroke="#000" text-anchor="start" >3.0</text>
<line x1="642" y1="474.42" x2="632.5" y2="474.42" stroke="#383838" stroke-width="0.8" />
<text x="643.8" y="479.72" font-size="13.55" fill="#000" stroke="#000" text-anchor="start" >3.5</text>
<line x1="642" y1="443.75" x2="632.5" y2="443.75" stroke="#383838" stroke-width="0.8" />
<text x="643.8" y="449.05" font-size="13.55" fill="#000" stroke="#000" text-anchor="start" >4.0</text>
<line x1="642" y1="413.07" x2="632.5" y2="413.07" stroke="#383838" stroke-width="0.8" />
<text x="643.8" y="418.38" font-size="13.55" fill="#000" stroke="#000" text-anchor="start" >4.5</text>
<line x1="642" y1="382.4" x2="632.5" y2="382.4" stroke="#383838" stroke-width="0.8" />
<text x="643.8" y="387.7" font-size="13.55" fill="#000" stroke="#000" text-anchor="start" >5.0</text>
<path d="M425.87 559.4 L468.73 553.1 L504.44 550.4 L523.49 548.2 L535.4 547.5 L575.88 546.6 L580.64 546.6 L590.16 546.6 L597.3 546 L602.07 545.4 L606.83 545.2 L618.73 418 L630.64 385" fill="none" stroke="#ff0000" stroke-width="1.3" stroke-linejoin="round" />
<rect x="422.87" y="556.4" width="6" height="6" fill="#ff0000" stroke="#ff0000" stroke-width="1"/>
<rect x="465.73" y="550.1" width="6" height="6" fill="#ff0000" stroke="#ff0000" stroke-width="1"/>
<rect x="501.44" y="547.4" width="6" height="6" fill="#ff0000" stroke="#ff0000" stroke-width="1"/>
<rect x="520.49" y="545.2" width="6" height="6" fill="#ff0000" stroke="#ff0000" stroke-width="1"/>
<rect x="532.4" y="544.5" width="6" height="6" fill="#ff0000" stroke="#ff0000" stroke-width="1"/>
<rect x="572.88" y="543.6" width="6" height="6" fill="#ff0000" stroke="#ff0000" stroke-width="1"/>
<rect x="577.64" y="543.6" width="6" height="6" fill="#ff0000" stroke="#ff0000" stroke-width="1"/>
<rect x="587.16" y="543.6" width="6" height="6" fill="#ff0000" stroke="#ff0000" stroke-width="1"/>
<rect x="594.3" y="543" width="6" height="6" fill="#ff0000" stroke="#ff0000" stroke-width="1"/>
<rect x="599.07" y="542.4" width="6" height="6" fill="#ff0000" stroke="#ff0000" stroke-width="1"/>
<rect x="603.83" y="542.2" width="6" height="6" fill="#ff0000" stroke="#ff0000" stroke-width="1"/>
<rect x="615.73" y="415" width="6" height="6" fill="#ff0000" stroke="#ff0000" stroke-width="1"/>
<rect x="627.64" y="382" width="6" height="6" fill="#ff0000" stroke="#ff0000" stroke-width="1"/>
<path d="M397.3 550.8 L425.87 553.1 L468.73 553.4 L504.44 551.2 L523.49 549.4 L535.4 548.7 L575.88 550.2 L580.64 552.6 L590.16 551.6 L597.3 545.5 L602.07 389.1 L606.83 387.3 L618.73 376.3 L630.64 378" fill="none" stroke="#ff0000" stroke-width="1.1" stroke-linejoin="round" stroke-dasharray="4.3 1.85"/>
<rect x="394.15" y="547.65" width="6.3" height="6.3" fill="#ffffff" stroke="#ff0000" stroke-width="0.7"/>
<rect x="422.72" y="549.95" width="6.3" height="6.3" fill="#ffffff" stroke="#ff0000" stroke-width="0.7"/>
<rect x="465.58" y="550.25" width="6.3" height="6.3" fill="#ffffff" stroke="#ff0000" stroke-width="0.7"/>
<rect x="501.3" y="548.05" width="6.3" height="6.3" fill="#ffffff" stroke="#ff0000" stroke-width="0.7"/>
<rect x="520.34" y="546.25" width="6.3" height="6.3" fill="#ffffff" stroke="#ff0000" stroke-width="0.7"/>
<rect x="532.25" y="545.55" width="6.3" height="6.3" fill="#ffffff" stroke="#ff0000" stroke-width="0.7"/>
<rect x="572.73" y="547.05" width="6.3" height="6.3" fill="#ffffff" stroke="#ff0000" stroke-width="0.7"/>
<rect x="577.49" y="549.45" width="6.3" height="6.3" fill="#ffffff" stroke="#ff0000" stroke-width="0.7"/>
<rect x="587.01" y="548.45" width="6.3" height="6.3" fill="#ffffff" stroke="#ff0000" stroke-width="0.7"/>
<rect x="594.15" y="542.35" width="6.3" height="6.3" fill="#ffffff" stroke="#ff0000" stroke-width="0.7"/>
<rect x="598.92" y="385.95" width="6.3" height="6.3" fill="#ffffff" stroke="#ff0000" stroke-width="0.7"/>
<rect x="603.68" y="384.15" width="6.3" height="6.3" fill="#ffffff" stroke="#ff0000" stroke-width="0.7"/>
<rect x="615.58" y="373.15" width="6.3" height="6.3" fill="#ffffff" stroke="#ff0000" stroke-width="0.7"/>
<rect x="627.49" y="374.85" width="6.3" height="6.3" fill="#ffffff" stroke="#ff0000" stroke-width="0.7"/>
<path d="M425.87 579.3 L468.73 577.2 L504.44 576.7 L523.49 576.3 L535.4 576 L575.88 575.7 L580.64 575.5 L590.16 576.3 L597.3 575.7 L602.07 576.1 L606.83 575.7 L618.73 579.7 L630.64 569.7" fill="none" stroke="#0000ff" stroke-width="1.3" stroke-linejoin="round" />
<rect x="422.87" y="576.3" width="6" height="6" fill="#0000ff" stroke="#0000ff" stroke-width="1"/>
<rect x="465.73" y="574.2" width="6" height="6" fill="#0000ff" stroke="#0000ff" stroke-width="1"/>
<rect x="501.44" y="573.7" width="6" height="6" fill="#0000ff" stroke="#0000ff" stroke-width="1"/>
<rect x="520.49" y="573.3" width="6" height="6" fill="#0000ff" stroke="#0000ff" stroke-width="1"/>
<rect x="532.4" y="573" width="6" height="6" fill="#0000ff" stroke="#0000ff" stroke-width="1"/>
<rect x="572.88" y="572.7" width="6" height="6" fill="#0000ff" stroke="#0000ff" stroke-width="1"/>
<rect x="577.64" y="572.5" width="6" height="6" fill="#0000ff" stroke="#0000ff" stroke-width="1"/>
<rect x="587.16" y="573.3" width="6" height="6" fill="#0000ff" stroke="#0000ff" stroke-width="1"/>
<rect x="594.3" y="572.7" width="6" height="6" fill="#0000ff" stroke="#0000ff" stroke-width="1"/>
<rect x="599.07" y="573.1" width="6" height="6" fill="#0000ff" stroke="#0000ff" stroke-width="1"/>
<rect x="603.83" y="572.7" width="6" height="6" fill="#0000ff" stroke="#0000ff" stroke-width="1"/>
<rect x="615.73" y="576.7" width="6" height="6" fill="#0000ff" stroke="#0000ff" stroke-width="1"/>
<rect x="627.64" y="566.7" width="6" height="6" fill="#0000ff" stroke="#0000ff" stroke-width="1"/>
<path d="M425.87 552.3 L468.73 549 L504.44 547.4 L523.49 545.8 L535.4 545 L575.88 543.4 L580.64 543.4 L590.16 543.4 L597.3 543.1 L602.07 542.7 L606.83 542.6 L618.73 412.2 L630.64 385.9" fill="none" stroke="#4b0082" stroke-width="1.3" stroke-linejoin="round" />
<rect x="422.87" y="549.3" width="6" height="6" fill="#4b0082" stroke="#4b0082" stroke-width="1"/>
<rect x="465.73" y="546" width="6" height="6" fill="#4b0082" stroke="#4b0082" stroke-width="1"/>
<rect x="501.44" y="544.4" width="6" height="6" fill="#4b0082" stroke="#4b0082" stroke-width="1"/>
<rect x="520.49" y="542.8" width="6" height="6" fill="#4b0082" stroke="#4b0082" stroke-width="1"/>
<rect x="532.4" y="542" width="6" height="6" fill="#4b0082" stroke="#4b0082" stroke-width="1"/>
<rect x="572.88" y="540.4" width="6" height="6" fill="#4b0082" stroke="#4b0082" stroke-width="1"/>
<rect x="577.64" y="540.4" width="6" height="6" fill="#4b0082" stroke="#4b0082" stroke-width="1"/>
<rect x="587.16" y="540.4" width="6" height="6" fill="#4b0082" stroke="#4b0082" stroke-width="1"/>
<rect x="594.3" y="540.1" width="6" height="6" fill="#4b0082" stroke="#4b0082" stroke-width="1"/>
<rect x="599.07" y="539.7" width="6" height="6" fill="#4b0082" stroke="#4b0082" stroke-width="1"/>
<rect x="603.83" y="539.6" width="6" height="6" fill="#4b0082" stroke="#4b0082" stroke-width="1"/>
<rect x="615.73" y="409.2" width="6" height="6" fill="#4b0082" stroke="#4b0082" stroke-width="1"/>
<rect x="627.64" y="382.9" width="6" height="6" fill="#4b0082" stroke="#4b0082" stroke-width="1"/>
<rect x="385.5" y="362" width="256.5" height="228.45" stroke="#383838" stroke-width="0.8" fill="none" />
<rect x="391.5" y="368.5" width="58" height="61" rx="2.6" fill="#fff" fill-opacity="0.8" stroke="#d2d2d2" stroke-width="0.9"/>
<path d="M410.1 372.55 V385.75 M408.4 372.55 H411.8 M408.4 385.75 H411.8" fill="none" stroke="#000" stroke-width="0.9"/>
<line x1="396.4" y1="379.15" x2="423.6" y2="379.15" stroke="#ff0000" stroke-width="1.3" />
<rect x="407.25" y="376.3" width="5.7" height="5.7" fill="#ff0000" stroke="#ff0000" stroke-width="1"/>
<text x="433.2" y="383.65" font-size="13.55" fill="#000" stroke="#000" text-anchor="start" >M</text>
<path d="M410.1 391.4 V404.6 M408.4 391.4 H411.8 M408.4 404.6 H411.8" fill="none" stroke="#000" stroke-width="0.9"/>
<line x1="396.4" y1="398" x2="423.6" y2="398" stroke="#0000ff" stroke-width="1.3" />
<rect x="407.25" y="395.15" width="5.7" height="5.7" fill="#0000ff" stroke="#0000ff" stroke-width="1"/>
<text x="433.2" y="402.5" font-size="13.55" fill="#000" stroke="#000" text-anchor="start" >G</text>
<path d="M410.1 410.4 V423.6 M408.4 410.4 H411.8 M408.4 423.6 H411.8" fill="none" stroke="#000" stroke-width="0.9"/>
<line x1="396.4" y1="417" x2="423.6" y2="417" stroke="#4b0082" stroke-width="1.3" />
<rect x="407.25" y="414.15" width="5.7" height="5.7" fill="#4b0082" stroke="#4b0082" stroke-width="1"/>
<text x="433.2" y="421.5" font-size="13.55" fill="#000" stroke="#000" text-anchor="start" >K</text>
<text x="513.4" y="617.3" font-size="13.55" fill="#000" stroke="#000" text-anchor="middle" >RH (%)</text>
<text x="357.7" y="476.2" font-size="13.55" fill="#ff0000" stroke="#ff0000" text-anchor="middle" transform="rotate(-90 357.7 476.2)"><tspan dy="0" font-size="13.55">M (GPa)</tspan></text>
<text x="678" y="476.4" font-size="13.55" fill="#000" stroke="#000" text-anchor="middle" transform="rotate(-90 678 476.4)"><tspan dy="0" font-size="13.55">G &amp; K (GPa)</tspan></text>
<text font-family="'Liberation Serif','DejaVu Serif',serif" fill="#000" stroke="#000" text-anchor="start"><tspan x="344.2" y="349.8" font-size="22.2" stroke-width="0.2">(</tspan><tspan x="352.3" y="349.6" font-size="21" font-weight="normal" stroke-width="0.25" textLength="11.97" lengthAdjust="spacingAndGlyphs">d</tspan><tspan x="365.5" y="349.8" font-size="22.2" stroke-width="0.2">)</tspan></text>
</g>
<g font-family="'DejaVu Sans','Liberation Sans',sans-serif">
<line x1="70.4" y1="902.2" x2="70.4" y2="892.7" stroke="#383838" stroke-width="0.8" />
<line x1="70.4" y1="683.55" x2="70.4" y2="693.05" stroke="#383838" stroke-width="0.8" />
<text x="70.4" y="914" font-size="13.55" fill="#000" stroke="#000" text-anchor="middle" >20</text>
<line x1="122.9" y1="902.2" x2="122.9" y2="892.7" stroke="#383838" stroke-width="0.8" />
<line x1="122.9" y1="683.55" x2="122.9" y2="693.05" stroke="#383838" stroke-width="0.8" />
<text x="122.9" y="914" font-size="13.55" fill="#000" stroke="#000" text-anchor="middle" >40</text>
<line x1="175.4" y1="902.2" x2="175.4" y2="892.7" stroke="#383838" stroke-width="0.8" />
<line x1="175.4" y1="683.55" x2="175.4" y2="693.05" stroke="#383838" stroke-width="0.8" />
<text x="175.4" y="914" font-size="13.55" fill="#000" stroke="#000" text-anchor="middle" >60</text>
<line x1="227.9" y1="902.2" x2="227.9" y2="892.7" stroke="#383838" stroke-width="0.8" />
<line x1="227.9" y1="683.55" x2="227.9" y2="693.05" stroke="#383838" stroke-width="0.8" />
<text x="227.9" y="914" font-size="13.55" fill="#000" stroke="#000" text-anchor="middle" >80</text>
<line x1="280.4" y1="902.2" x2="280.4" y2="892.7" stroke="#383838" stroke-width="0.8" />
<line x1="280.4" y1="683.55" x2="280.4" y2="693.05" stroke="#383838" stroke-width="0.8" />
<text x="280.4" y="914" font-size="13.55" fill="#000" stroke="#000" text-anchor="middle" >100</text>
<line x1="38.05" y1="892.6" x2="47.55" y2="892.6" stroke="#383838" stroke-width="0.8" />
<text x="36.1" y="897.9" font-size="13.55" fill="#008000" stroke="#008000" text-anchor="end" >0</text>
<line x1="38.05" y1="841.48" x2="47.55" y2="841.48" stroke="#383838" stroke-width="0.8" />
<text x="36.1" y="846.78" font-size="13.55" fill="#008000" stroke="#008000" text-anchor="end" >20</text>
<line x1="38.05" y1="790.36" x2="47.55" y2="790.36" stroke="#383838" stroke-width="0.8" />
<text x="36.1" y="795.66" font-size="13.55" fill="#008000" stroke="#008000" text-anchor="end" >40</text>
<line x1="38.05" y1="739.24" x2="47.55" y2="739.24" stroke="#383838" stroke-width="0.8" />
<text x="36.1" y="744.54" font-size="13.55" fill="#008000" stroke="#008000" text-anchor="end" >60</text>
<line x1="38.05" y1="688.12" x2="47.55" y2="688.12" stroke="#383838" stroke-width="0.8" />
<text x="36.1" y="693.42" font-size="13.55" fill="#008000" stroke="#008000" text-anchor="end" >80</text>
<line x1="286.4" y1="892.4" x2="276.9" y2="892.4" stroke="#383838" stroke-width="0.8" />
<text x="288.1" y="897.7" font-size="13.55" fill="#a0522d" stroke="#a0522d" text-anchor="start" >0.00</text>
<line x1="286.4" y1="864.62" x2="276.9" y2="864.62" stroke="#383838" stroke-width="0.8" />
<text x="288.1" y="869.92" font-size="13.55" fill="#a0522d" stroke="#a0522d" text-anchor="start" >0.25</text>
<line x1="286.4" y1="836.85" x2="276.9" y2="836.85" stroke="#383838" stroke-width="0.8" />
<text x="288.1" y="842.15" font-size="13.55" fill="#a0522d" stroke="#a0522d" text-anchor="start" >0.50</text>
<line x1="286.4" y1="809.08" x2="276.9" y2="809.08" stroke="#383838" stroke-width="0.8" />
<text x="288.1" y="814.38" font-size="13.55" fill="#a0522d" stroke="#a0522d" text-anchor="start" >0.75</text>
<line x1="286.4" y1="781.3" x2="276.9" y2="781.3" stroke="#383838" stroke-width="0.8" />
<text x="288.1" y="786.6" font-size="13.55" fill="#a0522d" stroke="#a0522d" text-anchor="start" >1.00</text>
<line x1="286.4" y1="753.52" x2="276.9" y2="753.52" stroke="#383838" stroke-width="0.8" />
<text x="288.1" y="758.82" font-size="13.55" fill="#a0522d" stroke="#a0522d" text-anchor="start" >1.25</text>
<line x1="286.4" y1="725.75" x2="276.9" y2="725.75" stroke="#383838" stroke-width="0.8" />
<text x="288.1" y="731.05" font-size="13.55" fill="#a0522d" stroke="#a0522d" text-anchor="start" >1.50</text>
<line x1="286.4" y1="697.98" x2="276.9" y2="697.98" stroke="#383838" stroke-width="0.8" />
<text x="288.1" y="703.27" font-size="13.55" fill="#a0522d" stroke="#a0522d" text-anchor="start" >1.75</text>
<path d="M49.4 892.2 L96.65 888.2 L136.03 883.2 L157.03 879.3 L170.15 876.7 L214.78 872.9 L220.03 871.9 L230.53 871.6 L238.4 870.9 L243.65 867.2 L248.9 864.4 L262.02 734.5 L275.15 693.6" fill="none" stroke="#008000" stroke-width="1.25" stroke-linejoin="round" />
<circle cx="49.4" cy="892.2" r="3.45" fill="#008000"/>
<circle cx="96.65" cy="888.2" r="3.45" fill="#008000"/>
<circle cx="136.03" cy="883.2" r="3.45" fill="#008000"/>
<circle cx="157.03" cy="879.3" r="3.45" fill="#008000"/>
<circle cx="170.15" cy="876.7" r="3.45" fill="#008000"/>
<circle cx="214.78" cy="872.9" r="3.45" fill="#008000"/>
<circle cx="220.03" cy="871.9" r="3.45" fill="#008000"/>
<circle cx="230.53" cy="871.6" r="3.45" fill="#008000"/>
<circle cx="238.4" cy="870.9" r="3.45" fill="#008000"/>
<circle cx="243.65" cy="867.2" r="3.45" fill="#008000"/>
<circle cx="248.9" cy="864.4" r="3.45" fill="#008000"/>
<circle cx="262.02" cy="734.5" r="3.45" fill="#008000"/>
<circle cx="275.15" cy="693.6" r="3.45" fill="#008000"/>
<path d="M49.4 892.3 L96.65 889.6 L136.03 865.5 L157.03 843.6 L170.15 836.4 L214.78 817.1 L220.03 816.2 L230.53 814.3 L238.4 815.1 L243.65 807.1 L248.9 813.7 L262.02 693.3 L275.15 786.6" fill="none" stroke="#a0522d" stroke-width="1.25" stroke-linejoin="round" />
<path d="M49.4 887.55 L52.05 892.3 L49.4 897.05 L46.75 892.3 Z" fill="#a0522d" stroke="#a0522d" stroke-width="0.3" stroke-linejoin="miter"/>
<path d="M96.65 884.85 L99.3 889.6 L96.65 894.35 L94 889.6 Z" fill="#a0522d" stroke="#a0522d" stroke-width="0.3" stroke-linejoin="miter"/>
<path d="M136.03 860.75 L138.68 865.5 L136.03 870.25 L133.38 865.5 Z" fill="#a0522d" stroke="#a0522d" stroke-width="0.3" stroke-linejoin="miter"/>
<path d="M157.03 838.85 L159.68 843.6 L157.03 848.35 L154.38 843.6 Z" fill="#a0522d" stroke="#a0522d" stroke-width="0.3" stroke-linejoin="miter"/>
<path d="M170.15 831.65 L172.8 836.4 L170.15 841.15 L167.5 836.4 Z" fill="#a0522d" stroke="#a0522d" stroke-width="0.3" stroke-linejoin="miter"/>
<path d="M214.78 812.35 L217.43 817.1 L214.78 821.85 L212.12 817.1 Z" fill="#a0522d" stroke="#a0522d" stroke-width="0.3" stroke-linejoin="miter"/>
<path d="M220.03 811.45 L222.68 816.2 L220.03 820.95 L217.38 816.2 Z" fill="#a0522d" stroke="#a0522d" stroke-width="0.3" stroke-linejoin="miter"/>
<path d="M230.53 809.55 L233.18 814.3 L230.53 819.05 L227.88 814.3 Z" fill="#a0522d" stroke="#a0522d" stroke-width="0.3" stroke-linejoin="miter"/>
<path d="M238.4 810.35 L241.05 815.1 L238.4 819.85 L235.75 815.1 Z" fill="#a0522d" stroke="#a0522d" stroke-width="0.3" stroke-linejoin="miter"/>
<path d="M243.65 802.35 L246.3 807.1 L243.65 811.85 L241 807.1 Z" fill="#a0522d" stroke="#a0522d" stroke-width="0.3" stroke-linejoin="miter"/>
<path d="M248.9 808.95 L251.55 813.7 L248.9 818.45 L246.25 813.7 Z" fill="#a0522d" stroke="#a0522d" stroke-width="0.3" stroke-linejoin="miter"/>
<path d="M262.02 688.55 L264.67 693.3 L262.02 698.05 L259.38 693.3 Z" fill="#a0522d" stroke="#a0522d" stroke-width="0.3" stroke-linejoin="miter"/>
<path d="M275.15 781.85 L277.8 786.6 L275.15 791.35 L272.5 786.6 Z" fill="#a0522d" stroke="#a0522d" stroke-width="0.3" stroke-linejoin="miter"/>
<rect x="38.05" y="683.55" width="248.35" height="218.65" stroke="#383838" stroke-width="0.8" fill="none" />
<text x="286" y="682.2" font-size="13.25" fill="#a0522d" stroke="#a0522d" text-anchor="end" >1e−2</text>
<text x="162" y="929.2" font-size="13.55" fill="#000" stroke="#000" text-anchor="middle" >RH (%)</text>
<text x="12.3" y="793" font-size="13.55" fill="#008000" stroke="#008000" text-anchor="middle" transform="rotate(-90 12.3 793)"><tspan dy="0" font-size="13.55">% Saturation (V</tspan><tspan dy="2.3" font-size="9.48">H</tspan><tspan dy="1.63" font-size="6.64">2</tspan><tspan dy="-1.63" font-size="9.48">O</tspan><tspan dy="-2.3" font-size="13.55">/V</tspan><tspan dy="2.3" font-size="9.48">total pore</tspan><tspan dy="-2.3" font-size="13.55">)</tspan></text>
<text x="331.6" y="793.6" font-size="13.55" fill="#a0522d" stroke="#a0522d" text-anchor="middle" transform="rotate(-90 331.6 793.6)"><tspan dy="0" font-size="13.55">ΔQ</tspan><tspan dy="-4.88" font-size="9.48">−1</tspan></text>
<text font-family="'Liberation Serif','DejaVu Serif',serif" fill="#000" stroke="#000" text-anchor="start"><tspan x="-1.3" y="659.8" font-size="22.2" stroke-width="0.2">(</tspan><tspan x="6.3" y="659.6" font-size="21" font-weight="normal" stroke-width="0.25" textLength="11.47" lengthAdjust="spacingAndGlyphs">e</tspan><tspan x="17.3" y="659.8" font-size="22.2" stroke-width="0.2">)</tspan></text>
</g>
<g font-family="'DejaVu Sans','Liberation Sans',sans-serif">
<line x1="406.4" y1="908.4" x2="406.4" y2="899" stroke="#383838" stroke-width="0.8" />
<line x1="406.4" y1="683.55" x2="406.4" y2="692.95" stroke="#383838" stroke-width="0.8" />
<text x="406.4" y="919.5" font-size="13.55" fill="#000" stroke="#000" text-anchor="middle" >0</text>
<line x1="472.84" y1="908.4" x2="472.84" y2="899" stroke="#383838" stroke-width="0.8" />
<line x1="472.84" y1="683.55" x2="472.84" y2="692.95" stroke="#383838" stroke-width="0.8" />
<text x="472.84" y="919.5" font-size="13.55" fill="#000" stroke="#000" text-anchor="middle" >20</text>
<line x1="539.28" y1="908.4" x2="539.28" y2="899" stroke="#383838" stroke-width="0.8" />
<line x1="539.28" y1="683.55" x2="539.28" y2="692.95" stroke="#383838" stroke-width="0.8" />
<text x="539.28" y="919.5" font-size="13.55" fill="#000" stroke="#000" text-anchor="middle" >40</text>
<line x1="605.72" y1="908.4" x2="605.72" y2="899" stroke="#383838" stroke-width="0.8" />
<line x1="605.72" y1="683.55" x2="605.72" y2="692.95" stroke="#383838" stroke-width="0.8" />
<text x="605.72" y="919.5" font-size="13.55" fill="#000" stroke="#000" text-anchor="middle" >60</text>
<line x1="672.16" y1="908.4" x2="672.16" y2="899" stroke="#383838" stroke-width="0.8" />
<line x1="672.16" y1="683.55" x2="672.16" y2="692.95" stroke="#383838" stroke-width="0.8" />
<text x="672.16" y="919.5" font-size="13.55" fill="#000" stroke="#000" text-anchor="middle" >80</text>
<line x1="394.55" y1="898.2" x2="403.95" y2="898.2" stroke="#383838" stroke-width="0.8" />
<line x1="677.4" y1="898.2" x2="668" y2="898.2" stroke="#383838" stroke-width="0.8" />
<text x="392.9" y="903.5" font-size="13.55" fill="#000" stroke="#000" text-anchor="end" >0.00</text>
<line x1="394.55" y1="869.62" x2="403.95" y2="869.62" stroke="#383838" stroke-width="0.8" />
<line x1="677.4" y1="869.62" x2="668" y2="869.62" stroke="#383838" stroke-width="0.8" />
<text x="392.9" y="874.92" font-size="13.55" fill="#000" stroke="#000" text-anchor="end" >0.25</text>
<line x1="394.55" y1="841.05" x2="403.95" y2="841.05" stroke="#383838" stroke-width="0.8" />
<line x1="677.4" y1="841.05" x2="668" y2="841.05" stroke="#383838" stroke-width="0.8" />
<text x="392.9" y="846.35" font-size="13.55" fill="#000" stroke="#000" text-anchor="end" >0.50</text>
<line x1="394.55" y1="812.48" x2="403.95" y2="812.48" stroke="#383838" stroke-width="0.8" />
<line x1="677.4" y1="812.48" x2="668" y2="812.48" stroke="#383838" stroke-width="0.8" />
<text x="392.9" y="817.77" font-size="13.55" fill="#000" stroke="#000" text-anchor="end" >0.75</text>
<line x1="394.55" y1="783.9" x2="403.95" y2="783.9" stroke="#383838" stroke-width="0.8" />
<line x1="677.4" y1="783.9" x2="668" y2="783.9" stroke="#383838" stroke-width="0.8" />
<text x="392.9" y="789.2" font-size="13.55" fill="#000" stroke="#000" text-anchor="end" >1.00</text>
<line x1="394.55" y1="755.33" x2="403.95" y2="755.33" stroke="#383838" stroke-width="0.8" />
<line x1="677.4" y1="755.33" x2="668" y2="755.33" stroke="#383838" stroke-width="0.8" />
<text x="392.9" y="760.62" font-size="13.55" fill="#000" stroke="#000" text-anchor="end" >1.25</text>
<line x1="394.55" y1="726.75" x2="403.95" y2="726.75" stroke="#383838" stroke-width="0.8" />
<line x1="677.4" y1="726.75" x2="668" y2="726.75" stroke="#383838" stroke-width="0.8" />
<text x="392.9" y="732.05" font-size="13.55" fill="#000" stroke="#000" text-anchor="end" >1.50</text>
<line x1="394.55" y1="698.18" x2="403.95" y2="698.18" stroke="#383838" stroke-width="0.8" />
<line x1="677.4" y1="698.18" x2="668" y2="698.18" stroke="#383838" stroke-width="0.8" />
<text x="392.9" y="703.48" font-size="13.55" fill="#000" stroke="#000" text-anchor="end" >1.75</text>
<path d="M406.92 898.1 L412.12 895.32 L418.62 870.53 L423.69 847.99 L427.07 840.59 L432 820.73 L433.3 819.81 L433.69 817.85 L434.6 818.67 L439.41 810.44 L443.05 817.23 L611.88 693.37 L665.04 789.35" fill="none" stroke="#a0522d" stroke-width="1.25" stroke-linejoin="round" />
<path d="M406.92 893.35 L409.57 898.1 L406.92 902.85 L404.27 898.1 Z" fill="#a0522d" stroke="#a0522d" stroke-width="0.3" stroke-linejoin="miter"/>
<path d="M412.12 890.57 L414.77 895.32 L412.12 900.07 L409.47 895.32 Z" fill="#a0522d" stroke="#a0522d" stroke-width="0.3" stroke-linejoin="miter"/>
<path d="M418.62 865.78 L421.27 870.53 L418.62 875.28 L415.97 870.53 Z" fill="#a0522d" stroke="#a0522d" stroke-width="0.3" stroke-linejoin="miter"/>
<path d="M423.69 843.24 L426.34 847.99 L423.69 852.74 L421.04 847.99 Z" fill="#a0522d" stroke="#a0522d" stroke-width="0.3" stroke-linejoin="miter"/>
<path d="M427.07 835.84 L429.72 840.59 L427.07 845.34 L424.42 840.59 Z" fill="#a0522d" stroke="#a0522d" stroke-width="0.3" stroke-linejoin="miter"/>
<path d="M432 815.98 L434.65 820.73 L432 825.48 L429.35 820.73 Z" fill="#a0522d" stroke="#a0522d" stroke-width="0.3" stroke-linejoin="miter"/>
<path d="M433.3 815.06 L435.95 819.81 L433.3 824.56 L430.65 819.81 Z" fill="#a0522d" stroke="#a0522d" stroke-width="0.3" stroke-linejoin="miter"/>
<path d="M433.69 813.1 L436.34 817.85 L433.69 822.6 L431.04 817.85 Z" fill="#a0522d" stroke="#a0522d" stroke-width="0.3" stroke-linejoin="miter"/>
<path d="M434.6 813.92 L437.25 818.67 L434.6 823.42 L431.95 818.67 Z" fill="#a0522d" stroke="#a0522d" stroke-width="0.3" stroke-linejoin="miter"/>
<path d="M439.41 805.69 L442.06 810.44 L439.41 815.19 L436.76 810.44 Z" fill="#a0522d" stroke="#a0522d" stroke-width="0.3" stroke-linejoin="miter"/>
<path d="M443.05 812.48 L445.7 817.23 L443.05 821.98 L440.4 817.23 Z" fill="#a0522d" stroke="#a0522d" stroke-width="0.3" stroke-linejoin="miter"/>
<path d="M611.88 688.62 L614.53 693.37 L611.88 698.12 L609.23 693.37 Z" fill="#a0522d" stroke="#a0522d" stroke-width="0.3" stroke-linejoin="miter"/>
<path d="M665.04 784.6 L667.69 789.35 L665.04 794.1 L662.39 789.35 Z" fill="#a0522d" stroke="#a0522d" stroke-width="0.3" stroke-linejoin="miter"/>
<rect x="394.55" y="683.55" width="282.85" height="224.85" stroke="#383838" stroke-width="0.8" fill="none" />
<text x="395" y="682" font-size="13.25" fill="#000" stroke="#000" text-anchor="start" >1e−2</text>
<text x="536" y="934.6" font-size="13.3" fill="#000" stroke="#000" text-anchor="middle"><tspan dy="0" font-size="13.3">% Saturation (V</tspan><tspan dy="2.26" font-size="9.31">H</tspan><tspan dy="1.6" font-size="6.52">2</tspan><tspan dy="-1.6" font-size="9.31">O</tspan><tspan dy="-2.26" font-size="13.3">/V</tspan><tspan dy="2.26" font-size="9.31">total pore</tspan><tspan dy="-2.26" font-size="13.3">)</tspan></text>
<text x="358" y="796.2" font-size="13.55" fill="#000" stroke="#000" text-anchor="middle" transform="rotate(-90 358 796.2)"><tspan dy="0" font-size="13.55">ΔQ</tspan><tspan dy="-4.88" font-size="9.48">−1</tspan></text>
<text font-family="'Liberation Serif','DejaVu Serif',serif" fill="#000" stroke="#000" text-anchor="start"><tspan x="344.2" y="659.5" font-size="22.2" stroke-width="0.2">(</tspan><tspan x="352.3" y="659.3" font-size="21" font-weight="normal" stroke-width="0.25" textLength="8.39" lengthAdjust="spacingAndGlyphs">f</tspan><tspan x="362" y="659.5" font-size="22.2" stroke-width="0.2">)</tspan></text>
</g>
</svg>
</body>
</html>
